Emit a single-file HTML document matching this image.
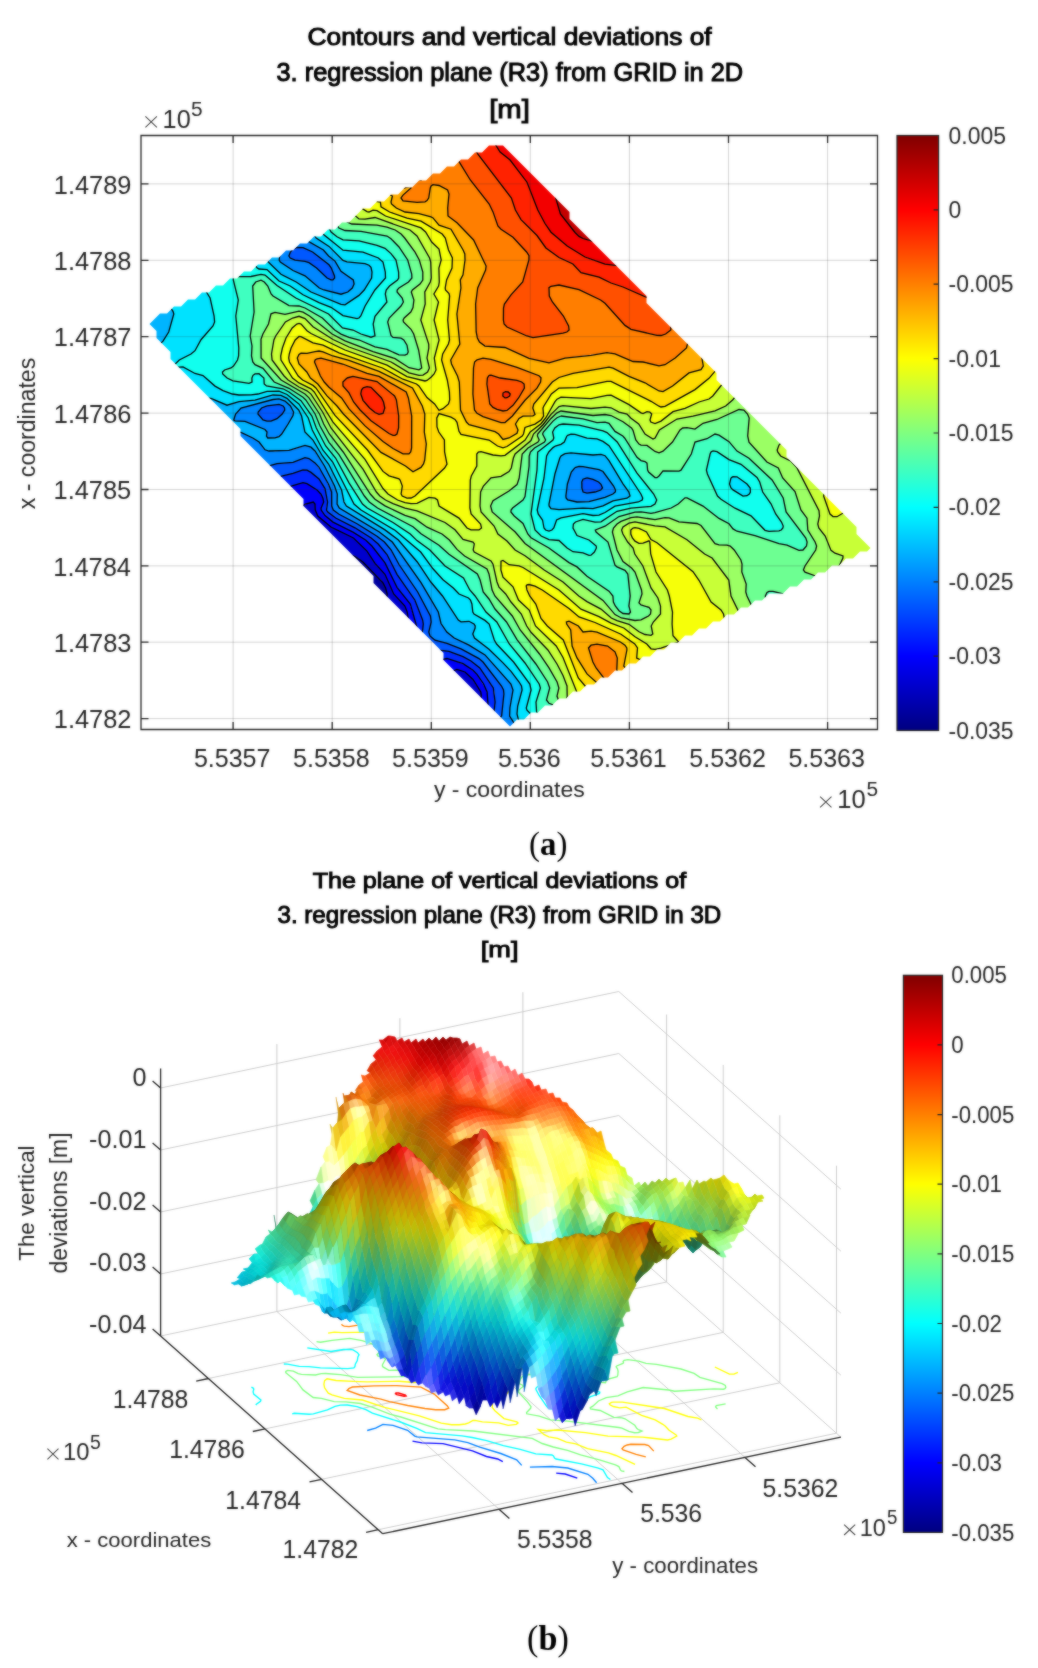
<!DOCTYPE html>
<html><head><meta charset="utf-8"><style>html,body{margin:0;padding:0;background:#fff;}svg{display:block;}</style></head><body>
<svg width="1038" height="1668" viewBox="0 0 1038 1668" font-family="Liberation Sans, sans-serif">
<filter id="bl" x="0" y="0" width="1" height="1" color-interpolation-filters="sRGB"><feGaussianBlur in="SourceGraphic" stdDeviation="1" result="b"/><feComposite in="SourceGraphic" in2="b" operator="arithmetic" k1="0" k2="0.5" k3="0.5" k4="0"/></filter><rect width="1038" height="1668" fill="#fff"/><g filter="url(#bl)">
<clipPath id="pa"><polygon points="510.0,726.5 443.5,660.0 443.5,653.0 373.5,583.0 373.5,576.0 303.5,506.0 303.5,499.0 240.5,436.0 240.5,429.0 170.5,359.0 170.5,352.0 156.5,338.0 156.5,331.0 149.5,324.0 160.0,313.5 167.0,313.5 174.0,306.5 181.0,306.5 188.0,299.5 195.0,299.5 202.0,292.5 209.0,292.5 216.0,285.5 223.0,285.5 230.0,278.5 237.0,278.5 244.0,271.5 251.0,271.5 258.0,264.5 265.0,264.5 272.0,257.5 279.0,257.5 286.0,250.5 293.0,250.5 300.0,243.5 307.0,243.5 314.0,236.5 321.0,236.5 328.0,229.5 335.0,229.5 342.0,222.5 349.0,222.5 363.0,208.5 370.0,208.5 377.0,201.5 384.0,201.5 391.0,194.5 398.0,194.5 405.0,187.5 412.0,187.5 419.0,180.5 426.0,180.5 433.0,173.5 440.0,173.5 447.0,166.5 454.0,166.5 461.0,159.5 468.0,159.5 475.0,152.5 482.0,152.5 489.0,145.5 503.0,145.5 569.5,212.0 569.5,219.0 646.5,296.0 646.5,303.0 716.5,373.0 716.5,380.0 786.5,450.0 786.5,457.0 856.5,527.0 856.5,534.0 870.5,548.0 867.0,551.5 860.0,551.5 853.0,558.5 846.0,558.5 839.0,565.5 832.0,565.5 825.0,572.5 818.0,572.5 811.0,579.5 804.0,579.5 797.0,586.5 790.0,586.5 783.0,593.5 769.0,593.5 762.0,600.5 755.0,600.5 748.0,607.5 741.0,607.5 734.0,614.5 727.0,614.5 720.0,621.5 713.0,621.5 706.0,628.5 699.0,628.5 692.0,635.5 685.0,635.5 678.0,642.5 671.0,642.5 664.0,649.5 657.0,649.5 650.0,656.5 643.0,656.5 636.0,663.5 629.0,663.5 622.0,670.5 615.0,670.5 608.0,677.5 601.0,677.5 594.0,684.5 587.0,684.5 580.0,691.5 573.0,691.5 566.0,698.5 559.0,698.5 552.0,705.5 545.0,705.5 538.0,712.5 531.0,712.5 524.0,719.5 517.0,719.5 510.0,726.5"/></clipPath>
<g clip-path="url(#pa)">
<path fill="#000080" d="M337,634L337,634ZM335,636L335,636ZM333,638L333,638ZM331,640L331,640ZM327,642L329,642 317,654 317,656 285,688 285,690 253,722 253,736 211,736 217,730 219,730 227,722 229,722 237,714 239,714 247,706 249,706 257,698 259,698 267,690 269,690 277,682 279,682 287,674 289,674 297,666 299,666 307,658 309,658 317,650 319,650 327,642Z"/>
<path fill="#0000a0" d="M345,556L349,554.1 359,558.9 365,564 383,582.9 385.6,588 387.2,594 386.7,598 384.2,604 384,610 385,615 387,619.1 388.4,620 383.6,626 333.3,676 279.3,728 273.5,736 253,736 253,722 285,690 285,688 317,656 317,654 329,642 327,642 319,650 317,650 309,658 307,658 299,666 297,666 289,674 287,674 279,682 277,682 269,690 267,690 259,698 257,698 249,706 247,706 239,714 237,714 229,722 227,722 219,730 217,730 211,736 135,736 135,724 145,724 147,723 179,694.1 183,691.9 197,678.1 199,677.9 211,666 217,662 225,654 259,625 267,617 273,613 282,604 290,598 325,566.4 327,565.6 333.1,560 341,558.7 344.8,556ZM337,634L337,634ZM335,636L335,636ZM333,638L333,638ZM331,640L331,640Z"/>
<path fill="#0000ce" d="M313,501.9L315,504 315.3,510 317.8,516 331,527 353.5,538 367,551.1 375,563.4 385,574.3 393.7,594 404.9,606 407.2,612 408.1,618 407,620 385.9,640 378.1,646 339.9,682 332.1,688 315.9,704 309,709.2 293.9,724 286.1,730 281.5,736 273.5,736 277.4,730 333.3,676 383.6,626 388.4,620 387,619.1 385,615 384,610 384.2,604 387.2,596 385,586.5 381,580.3 359,558.9 349,554.1 341,558.7 333,560.1 323,568.1 290,598 282,604 273,613 267,617 217,662 211,666 199,677.9 197,678.1 183,691.9 179,694.1 162,710 145,724 135,724 135,630 147,630 151,626 153,626 163,616 165,616 177,604 179,604 189,594 191,594 203,582 205,582 217,570 219,570 229,560 231,560 243,548 245,548 257,536 259,536 267,528 269,528 273,524 275,524 279,520 281,520 283,518 285,518 287,516 289,516 290.8,514 295,513.5 295,512 302,506 311.3,502ZM455,669.7L459,669.7 463,671 467,673.4 471.8,678 480.8,692 481.3,696 480.5,700 471,708.5 438.1,732 434.4,736 391.9,736 397,727.3 439,680 445,674 454.2,670Z"/>
<path fill="#0000fb" d="M299,483.8L303,482.7 307,483.6 319,491.6 322.8,498 323.7,502 321.1,508 321.2,510 323.6,514 329,519.3 359.8,536 368,542 373.6,548 387,565.8 397.5,588 409.3,602 417.1,628 415,631 407,632.8 405.1,634 321,709.9 313,716.1 298.2,730 293.3,736 281.5,736 284.1,732 293.9,724 309,709.2 315.9,704 332.1,688 339.9,682 378.1,646 385.9,640 407,620 408.1,618 407.2,612 404.9,606 393.7,594 385,574.3 375,563.4 367,551.1 353.5,538 331,527 317.8,516 315.3,510 315,504 313.3,502 305.3,504 297.1,510 295,512 295,513.5 290.8,514 289,516 287,516 285,518 283,518 281,520 279,520 275,524 273,524 269,528 267,528 259,536 257,536 245,548 243,548 231,560 229,560 219,570 217,570 205,582 203,582 191,594 189,594 179,604 177,604 165,616 163,616 153,626 151,626 147,630 135,630 135,615.6 141.5,612 155,600.8 277,496.7 291,486.1 298.5,484ZM441,659.6L447,658.5 451,659.2 467.4,666 476.7,674 486.6,690 488,702 486.8,710 483,715.1 466.2,732 463.9,736 434.4,736 438.1,732 471,708.5 480.5,700 481.3,696 480.8,692 473,679.5 465,672 457,669.5 445,674 439,680 397,727.3 391.9,736 341,736 343,736 349,730 351,730 357,724 359,724 363,720 365,720 371,714 373,714 379,708 381,708 385,704 389,701.9 397.1,694 403,689.9 425.8,670 435.7,662 439.6,660Z"/>
<path fill="#002aff" d="M303,469.8L307,470.1 311,472.4 319,479 323,484.6 326.6,494 327.6,502 326.4,508 327.8,512 335.7,518 355,527.8 371.2,538 378.2,544 385.1,552 389.2,558 397,574.3 413.7,598 422.6,620 423.3,624 422.4,632 421.1,634 415,637.2 401,649.2 391,658.8 352.1,692 341,702.8 318.1,722 303.7,736 293.3,736 298.2,730 405.1,634 407,632.8 415,631 417.1,628 410.3,604 397,587.3 385,562.9 371.9,546 365.6,540 353,532.1 333,522.1 325,515.6 321.2,510 321.1,508 323.7,502 323,498.5 321,494.2 317,489.9 307,483.6 303,482.7 291.2,486 288,488 267,504.9 143,610.9 135,615.6 135,610.8 141,607 244.6,512 275,480.2 281.6,476 293,473.4 302.4,470ZM437,649.8L449,651.4 463,656.7 471,661 479.8,668 493.3,688 495.1,702 494,712 491,717 477.4,732 475.1,736 463.9,736 466.2,732 483,715.1 486.8,710 488,702 486.6,690 477,674.4 471,668.6 461,662.8 447,658.5 439.6,660 435.7,662 403,689.9 397.1,694 389,701.9 385,704 381,708 379,708 373,714 371,714 365,720 363,720 359,724 357,724 351,730 349,730 343,736 313.6,736 315,733.8 367,695.7 425.2,658 436,650Z"/>
<path fill="#0058ff" d="M275,205.2L295,234.9 295.3,240 293,245.3 291,246.8 285,248.6 281,247.9 279,245.6 269.9,218 271,209.5 272.6,208 273,206.2 274.4,206ZM297,247.4L303,247.7 312.6,252 329,264.8 331.3,268 334.5,276 334.6,278 333,279.9 331,279.9 327.1,278 316.6,268 309,262.6 305,261.3 295,260.2 290.2,258 288.9,256 289.2,254 293,249.2 295.4,248ZM267,405.8L279,404.4 283,406 284.5,408 283.7,412 281,415.3 277,418.7 271,421.2 267,421.2 263.1,420 258,414 259.5,410 261.6,408 265.9,406ZM305,457.7L309,458.5 315,462.9 323,473.5 331.6,492 331.7,506 333.3,510 339,514.3 357,523.7 376.7,536 384.4,542 389.7,548 399,564.5 417.7,592 430.4,616 431.2,622 428.8,632 430,636 435,640.2 447,643.4 461,648.9 479,658.6 483,662 501.5,686 503.5,690 503.9,694 501.6,716 485,736 475.1,736 477.4,732 491,717 494,712 495.1,706 494.8,696 494,690 492.3,686 479.8,668 471,661 463,656.7 449,651.4 437,649.8 435,650.2 425.2,658 367,695.7 315,733.8 313.6,736 303.7,736 318.1,722 341,702.8 352.1,692 391,658.8 401,649.2 415,637.2 421.1,634 422.4,632 423.3,624 422.6,620 414.8,600 397,574.3 386.6,554 378.2,544 371.2,538 355,527.8 335.7,518 327.8,512 326.4,508 327.6,502 326.9,496 324.7,488 319,479 307,470.1 303,469.8 293,473.4 283,475.5 275.3,480 244.6,512 141,607 135,610.8 135,562 147,562 151,558 153,558 163,548 165,548 177,536 179,536 191,524 193,524 203,514 205,514 212,508 219,503.6 265,468 268.3,466 275,464 293,462.4 304.1,458ZM587,477.9L593,479.3 598.6,482 601,484.3 602.5,488 600.8,490 597,491.5 587,493.2 583,491.8 581.7,486 582.4,480 586.3,478Z"/>
<path fill="#0086ff" d="M223,130L247.1,130 249.2,136 285,195.4 302.9,228 305.3,234 306.1,240 323.4,250 328.6,256 335,261.1 341,271.3 353.3,280 354.1,284 352.3,288 347.8,292 341,294.2 323.9,290 319.3,288 305,275.8 293,270.5 280.3,262 279.2,260 280,254 274.5,246 271.1,234 261,208 231,150 226,142 221.1,130ZM274.4,206L273,206.2 272.6,208 271,209.5 269.9,218 279,245.6 281,247.9 285,248.6 291,246.8 293,245.3 295.3,240 295,234.9 275,205.2ZM295.4,248L293,249.2 289.2,254 288.9,256 290.2,258 295,260.2 305,261.3 309,262.6 316.6,268 327.1,278 331,279.9 333,279.9 334.6,278 334.5,276 331.3,268 329,264.8 312.6,252 303,247.7 297,247.4ZM273,399.5L279,398.9 285,401.1 290.4,406 293.6,412 292.8,416 283,432.1 279.8,436 277,437.4 267.8,438 266.5,436 267,432 265,429.5 245,421.4 235,420.8 233.7,420 235.6,414 241,408 271.1,400ZM265.9,406L261.6,408 259.5,410 258,414 263.1,420 267,421.2 271,421.2 277,418.7 281,415.3 283.7,412 284.5,408 283,406 279,404.4 267,405.8ZM235,431.9L241,432.3 256.3,440 259.1,442 263.1,448 267,450.6 275,451.3 287,450.6 295,449 305,445.4 309,446.1 313,448.8 324.5,466 335.5,488 337.3,494 337.1,504 339.3,508 379,531.8 392.3,542 421,582.6 438.3,612 441,623.5 446.8,632 454.2,638 469,645.1 485,654.9 510.9,684 513,690 509.9,708 509.6,716 522.2,736 485,736 501.6,716 503.9,694 503.5,690 501.5,686 483,662 479,658.6 461,648.9 447,643.4 435,640.2 430,636 428.8,632 431.2,622 430.4,616 417.7,592 399,564.5 391,549.8 384.4,542 377,536.2 357,523.7 339,514.3 333.3,510 331.7,506 331.6,492 328.4,484 319,467.3 315,462.9 309,458.5 305,457.7 293,462.4 277,463.7 268.3,466 205,514 203,514 193,524 191,524 179,536 177,536 165,548 163,548 153,558 151,558 147,562 135,562 135,496 147,496 161,482 163,482 167,478 169,478 173,474 175,474 181,468 183,468 187,464 189,464 193,460 195,460 201,454 203,454 207,450 209,450 213,446 215,446 221,440 225,440 227.6,436 229,435.9 230.2,434 234.1,432ZM575,467.6L579,466.4 583,466.7 599,469.7 603,471.5 614.8,488 615.3,492 613,493.9 603,498 589,501.6 577,502 567.7,500 566.1,498 565.9,496 567.4,484 571.3,472 574.4,468ZM586.3,478L582.4,480 581.7,486 583,491.8 587,493.2 597,491.5 600.8,490 602.5,488 601,484.3 598.6,482 593,479.3 587,477.9Z"/>
<path fill="#00b4ff" d="M189,130L221.1,130 226,142 231,150 261,208 271.1,234 274.5,246 280,254 279.2,260 280.3,262 293,270.5 305,275.8 319.3,288 323.9,290 341,294.2 347.8,292 352.3,288 354.1,284 353.3,280 341,271.3 335,261.1 328.6,256 323.4,250 306.1,240 305.3,234 302.9,228 285,195.4 248.1,134 247.1,130 249.8,130 251.1,134 269,164 316.2,238 329,246.4 343,260.4 347,261.9 365,263.6 369,265.2 371,267.4 372,272 371.6,278 364.2,290 359,295.4 345,304.9 341,304.4 311,292 296.2,282 281,274.3 267,260.7 259,262.2 253.4,260 249,256.9 227,213.3 222.4,202 203,163.3 188,130ZM135,236L139,236.5 146.6,246 163.1,280 169,290 170.7,294 169,300.9 169.4,306 173,311.3 173.8,314 168.7,332 163,341.2 155,348.6 147.3,352 139,357.5 135,358 135,236ZM269,395.8L277,394.7 283,396 289,399.8 297.3,408 301.6,416 304.9,432 313,440.1 322.4,456 328.6,464 341.6,490 344,502 346.4,506 385,529.9 398.4,540 417.3,562 430.8,582 442.5,596 458.3,620 461,621.9 469,621.3 474,624 475.2,626 475.1,628 472.8,634 474.5,638 489.7,650 506,666 515,676.4 520.4,684 522.1,688 521.8,692 517.3,708 517.4,716 519,722.1 526.9,736 522.2,736 509.6,716 509.9,708 513,690 510.9,684 485,654.9 469,645.1 454.2,638 446.8,632 441,623.5 438.3,612 421,582.6 392.3,542 379,531.8 339.3,508 337.1,504 337.3,494 334.6,486 324.5,466 315,451 311,447.2 305,445.4 289,450.3 269,451 265,449.8 259.1,442 252.8,438 241,432.3 234.1,432 230.2,434 229,435.9 227.6,436 225,440 221,440 215,446 213,446 209,450 207,450 203,454 201,454 195,460 193,460 189,464 187,464 183,468 181,468 175,474 173,474 169,478 167,478 163,482 161,482 147,496 135,496 135,450 147,449.4 186.5,414 201,404.1 205.2,398 209.7,398 225,404.7 229,405.2 237,402.1 255,400.2 268.5,396ZM271.1,400L241,408 235.6,414 233.7,420 235,420.8 245,421.4 265,429.5 267,432 266.5,436 267.8,438 277,437.4 279.8,436 283,432.1 292.8,416 293.6,412 290.4,406 285,401.1 279,398.9 273,399.5ZM565,453.6L571,452.9 593,455 601,454.3 605,455.7 609,460.6 623,483.8 628.9,492 630,496 627.6,498 613,500.8 603,505.9 593,508.6 583,508.1 557,509.7 550.1,508 549.1,506 549.3,502 554.9,474 559.8,458 561,456 564,454ZM574.4,468L571.3,472 567.4,484 565.9,496 566.1,498 567.7,500 577,502 589,501.6 603,498 613,493.9 615.3,492 614.8,488 603,471.5 599,469.7 583,466.7 579,466.4 575,467.6Z"/>
<path fill="#00e2ff" d="M185,130L188,130 203,163.3 222.4,202 227,213.3 249,256.9 253.4,260 259,262.2 267,260.7 281,274.3 296.2,282 311,292 341,304.4 345,304.9 359,295.4 364.2,290 371.6,278 371.3,268 369,265.2 365,263.6 347,261.9 343,260.4 329,246.4 318.7,240 314.6,236 269,164 250.3,132 249.8,130 277,130 277,142 279,144 279,148 281,150 281,154 284.2,158 285.2,162 287,164 289.3,170 293,175.4 295.9,182 315,216.3 323,234 343,250.2 363,252.2 378.4,258 383,262.1 385.3,272 385.5,278 374.9,290 365.1,306 360.8,316 359,318 357,318.6 343,315.6 331,307.3 319,302.7 303,294.8 290.2,286 279,281 267,269.6 259,269 257,267.7 254.3,264 247,259.6 223.6,214 184.3,130ZM135,170L135,172 139,176 139,178 141,180 141,182 143,184 143,186 147,189 151.1,198 156.9,206 159.1,212 164.9,220 167.1,226 170.9,230 175.1,240 178.9,244 181.1,250 186.9,258 189.1,264 194.9,272 195.1,274 201,280.5 202.7,286 210.1,298 214.1,316 214.6,322 213,326 201,339.7 195,350.7 191,354 179.3,360 173.2,366 175,367.4 183,366.9 195,373.5 203,375.5 215,386.1 223,390.6 232.3,394 239,395 251,394.8 258,394 267,391.3 279,391.2 287,394.5 298.9,404 308.3,418 312.3,430 323,450.2 332.7,462 354,504 361,510 395,530.3 420.7,552 433,568.8 443,579.8 453.3,588 459,594 468.5,598 470.5,600 471.9,604 472.8,612 474,614 485,620.4 489.2,624 494.3,640 496.6,644 513.6,662 529.8,684 531.1,690 526.3,708 527,710.2 535,718.2 543,731.6 544.6,736 526.9,736 519,722 517,714 517.7,706 522.1,690 521.5,686 513,673.9 505,664.9 489,649.3 474.5,638 472.8,634 475.1,628 475.2,626 474,624 469,621.3 461,621.9 458.3,620 442.5,596 430.8,582 417.3,562 398.4,540 382.1,528 348.7,508 345,504.2 341.6,490 328.6,464 322.4,456 313,440.1 304.9,432 301.6,416 298.7,410 287,398.3 281,395.3 273,395 255,400.2 239,401.7 227,405.2 211,398.4 205.2,398 201,404.1 186.5,414 147,449.4 135,450 135,358 139,357.5 147.3,352 155,348.6 163,341.2 168.7,332 173.8,314 173,311.3 169.4,306 169,300.9 170.7,294 169,290 163.1,280 146.6,246 139,236.5 135,236 135,170ZM168.6,372L167,376 169,378 169,371.3ZM567,435.7L571,434.2 575,434.3 587,438.2 597,438.9 603,441.4 609,445.6 640.9,494 642.7,498 642.2,500 638.3,502 615,506.1 605,512.5 599,515.1 593,515.5 583,513.7 561,517.8 556.6,520 553.8,528 551.9,530 549,531.1 545.6,530 544,528 542.5,520 538.2,514 537.2,510 544,478 546.6,456 548.8,452 553,447.6 555.3,446 561,444.4 564.3,442 566.7,436ZM564,454L561,456 559.8,458 554.9,474 549.3,502 549.1,506 550.1,508 557,509.7 583,508.1 593,508.6 603,505.9 613,500.8 627.6,498 630,496 628.9,492 623,483.8 609,460.6 605,455.7 601,454.3 593,455 571,452.9 565,453.6ZM731,477.9L733,476.6 737,476.8 747,484 750.2,488 750.4,492 749.3,494 747,495.7 743,496.1 733,489.9 731,488 729.5,484 730.9,478Z"/>
<path fill="#11ffee" d="M137,130L184.3,130 199.6,164 245.6,258 254.3,264 257,267.7 259,269 265,269 267.6,270 275.4,278 280.7,282 290.2,286 299,292.4 307,296.8 331,307.3 341,314.7 355,318.6 359,318 360.8,316 365.1,306 373.6,292 385.5,278 385.6,274 383.8,264 381.5,260 379,258.3 365,252.8 359,251.4 343,250.2 323,234 315,216.3 295.9,182 293,175.4 289.3,170 287,164 285.2,162 284.2,158 281,154 281,150 279,148 279,144 277,142 277,130 291.1,130 294.7,142 308.7,178 327,224.2 331.1,232 337,236.7 343,239.9 359,240.9 383,247.3 387.3,250 394.8,258 397.3,264 398.7,278 397.5,280 389.5,286 386.2,290 385.3,294 386.9,302 376.4,314 373.7,320 373.2,326 375.2,334 375,336 373,337.1 366.1,336 353,330 342.5,328 328.6,314 295.8,298 277,285.5 265,275 261,274.4 251,276.5 235,276.6 233.3,278 233.3,280 238.3,300 235.8,316 238.8,348 238.6,356 237.5,360 233.5,366 231,367.9 224.6,370 222.5,372 222.7,374 227.1,378 233,380.8 249,383.3 252,382 251.9,378 253,375.3 255,373.9 259,373.7 263.9,378 264.2,384 266.5,386 283,388.8 289,392 301,400.7 311.9,416 316.3,428 325.7,446 335.6,458 349,482.8 362.5,504 367.2,508 393,522.5 410.3,534 417,540.6 429.9,550 445,566 463.5,578 469.8,590 475.1,596 486,612 496.8,622 509.3,644 525,663 539.2,684 540.4,688 536,702 536.6,712 545.8,728 549,736 544.6,736 543,731.6 535,718.2 526.9,710 526.8,704 531.1,690 529.8,684 513.6,662 496.6,644 494.3,640 489.2,624 485,620.4 474,614 472.8,612 471.9,604 470.5,600 468.5,598 459,594 453.3,588 443,579.8 433,568.8 420.7,552 395,530.3 361,510 354,504 332.7,462 323,450.2 312.3,430 308.3,418 298.9,404 287,394.5 279,391.2 267,391.3 258,394 251,394.8 239,395 232.3,394 223,390.6 215,386.1 203,375.5 195,373.5 183,366.9 175,367.4 173.2,366 179.3,360 191,354 195,350.7 201,339.7 213,326 214.6,322 214.5,318 210.1,298 202.7,286 201,280.5 195.1,274 194.9,272 189.1,264 186.9,258 181.1,250 178.9,244 175.1,240 170.9,230 167.1,226 164.9,220 159.1,212 156.9,206 151.1,198 148.9,192 147,189 143,186 143,184 141,182 141,180 139,178 139,176 135,172 135,130ZM233.3,264L235,264.4 235.3,266 242.2,270 245,270.6 249,269.6 251.2,268 251.6,266 249.4,264 243,262.9 235,263.1ZM169,371.3L169,378 167,376 168.6,372ZM563,424L579,425.2 603,430.8 607,432.6 617.2,442 637,473.1 653.7,494 656.7,500 655,504 651,506.3 631,508.1 617,511.3 601,521.8 595,522.1 583,519.4 575.5,522 573.4,524 573,528 577,535.5 589,540 596.2,546 595.7,550 591,555.2 589,555.3 583,552.9 573,551.7 567.1,548 559,540.5 549,539.7 541.2,536 535,530 531,514 537,470 537.7,452 553,440 553.8,438 552.6,432 553.3,430 557,426 562.8,424ZM566.7,436L564.3,442 561,444.4 555.3,446 553,447.6 548.8,452 546.6,456 544,478 537.2,510 538.2,514 542.5,520 544,528 545.6,530 549,531.1 551.9,530 553.8,528 556.6,520 561,517.8 583,513.7 593,515.5 599,515.1 605,512.5 615,506.1 638.3,502 642.2,500 642.7,498 640.9,494 609,445.6 603,441.4 597,438.9 587,438.2 575,434.3 571,434.2 567,435.7ZM713,450.9L717,451.6 729,459.6 741,464.3 757.4,478 759.7,482 762.7,492 771,503.8 775.7,514 782.6,524 782.9,528 781,530.1 771,531.5 765,530.3 751,515.8 735,508.2 721,499.2 717.5,496 706.7,472 706.6,468 711,452ZM730.9,478L729.5,484 731,488 733,489.9 743,496.1 747,495.7 749.3,494 750.4,492 750.2,488 747,484 737,476.8 733,476.6 731,477.9Z"/>
<path fill="#3fffc0" d="M293,130L303.6,130 305.5,138 331.6,214 334.1,220 338.9,228 345,230.5 361,231.4 387,236 391,238.7 399,247 406.7,258 411.2,272 411.9,278 408.5,282 399,287.9 397.2,290 397.1,292 402.2,298 403.4,302 401,306 389.2,318 387.7,322 391,335.5 393,337.4 401,338.1 403.8,340 407,345.2 408.2,352 407.3,354 405,355.2 399,354.9 387,349.4 375,346.9 359.3,340 349,337.3 341,334.1 334.7,330 322.4,318 305,308 299,306 289,305.6 273,296 271.1,294 267.8,286 264.3,282 261,280.2 255.7,282 252.7,286 254.1,312 250.2,336 252,346 251.5,356 252.8,362 255,364.7 263,368.4 274.2,382 289,388.3 303,397.3 305.8,400 315.1,414 320,426 329,442.3 339,454.7 364.4,496 369.3,502 377.5,508 413,526.7 421,533.7 439,545.3 449,554.2 477.4,574 480.1,580 483.2,592 489,599 495,609 506.5,622 517,639.6 535.9,664 547.6,682 549.7,688 546.5,700 549,703.3 555,705.6 557,707.9 559.6,714 565.5,736 549,736 545.8,728 536.6,712 536,702 540.4,688 539.2,684 525,663 509.3,644 496.8,622 486,612 475.1,596 469.8,590 465,579.8 461.1,576 445,566 429.9,550 417,540.6 410.3,534 393,522.5 367.2,508 362.5,504 349,482.8 335.6,458 325.7,446 316.3,428 311.9,416 302.4,402 291,393.3 283,388.8 266.5,386 264.2,384 263.9,378 259,373.7 255,373.9 253,375.3 251.9,378 252,382 249,383.3 233,380.8 227.1,378 222.7,374 222.5,372 224.6,370 231,367.9 233.5,366 237.5,360 238.6,356 238.8,348 235.8,316 238.3,300 233.3,280 233.3,278 235,276.6 251,276.5 261,274.4 265,275 277,285.5 295.8,298 328.6,314 342.5,328 353,330 361,334 371,337.2 375,335.9 373.2,324 375,316.3 386.9,302 385.3,294 386.2,290 389.5,286 397.5,280 398.7,278 398.6,272 396,260 391,253.6 385,248.3 377,245.3 359,240.9 343,239.9 337,236.7 331.1,232 327,224.2 308.7,178 294.7,142 291.1,130ZM235,263.1L243,262.9 249.4,264 251.6,266 251.2,268 249,269.6 245,270.6 242.2,270 235.3,266 235,264.4 233.3,264ZM561,416L583,418.8 597,422.6 605,422.1 609,423.3 615,431.4 622.8,436 624.6,438 637,457.3 641,460.6 645,461.6 647,463.2 647.6,470 648.6,472 655,477.6 657,477.7 659,476 663,470.9 679,471.1 681,470.2 691.3,454 695,442 707,438.7 715,434 719,435.1 729,441.7 737,451.1 749,458.2 772.1,480 783.2,498 786.1,512 803.2,534 806.6,540 807.1,544 806.5,546 803,550 801,550.6 787,545.2 779,543.7 755,535.6 737,531.2 733,528.9 729,523.8 719,518.4 703,506.1 687,497.9 685,497.8 678.2,504 671.2,508 655,512.7 651,513.3 641,511.9 635,512.2 619,516.5 605,526.2 595.3,530 596.1,532 608,542 615,565.1 617,566.9 625,570.4 627.8,574 630.2,596 628.9,604 630.5,612 629,614 623,613.5 618.3,610 614.2,604 612.9,596 607,589.6 587,576.2 577,566.9 569,562.6 548.9,548 531,537.7 527.8,534 523,523.4 514.2,516 510.9,512 511.1,510 512.6,508 523,500.1 525,496.5 529.1,466 529.2,456 530.4,452 534.5,448 544.5,442 545.6,440 542.6,434 543.4,432 553,421.1 557,417.7 560.9,416ZM562.8,424L557,426 553.3,430 552.6,432 553.8,438 553,440 537.7,452 537,470 531,514 535,530 541.2,536 549,539.7 559,540.5 567.1,548 573,551.7 583,552.9 589,555.3 591,555.2 595.7,550 596.2,546 589,540 577,535.5 573,528 573.4,524 575.5,522 583,519.4 595,522.1 601,521.8 617,511.3 631,508.1 651,506.3 655,504 656.7,500 653.7,494 637,473.1 617.2,442 607,432.6 603,430.8 579,425.2 563,424ZM711,452L706.6,468 706.7,472 717.5,496 721,499.2 735,508.2 751,515.8 765,530.3 771,531.5 781,530.1 782.9,528 782.6,524 775.7,514 771,503.8 762.7,492 759.7,482 757.4,478 741,464.3 729,459.6 717,451.6 713,450.9ZM769,591.4L777,591.8 784,594 791,599.6 799.5,604 807,612 809,612 813,616 815,616 817,618 819,618 823,622 825,622 827,624 829,624 833,628 835,628 837,630 839,630 843,634 845,634 847,636 847,638 849,640 849,642 853,646 853,648 855,650 855,652 859,656 859,658 861,660 861,662 865,666 865,668 867,670 867,672 869,674 881,674 881,736 825,736 825,722 823,720 823,718 821,716 821,714 819,712 819,710 815,704 815,700 813,698 813,696 811,694 811,692 809,690 809,688 807,686 807,684 805,682 805,680 803,679.5 802.9,678 781,638.4 769.5,612 765.5,598 765.9,594 767.7,592Z"/>
<path fill="#6dff92" d="M305,130L314.9,130 340.4,212 345,219.6 347.1,222 351.8,224 377,225.2 387,227.1 395.2,230 403.1,236 418.3,258 422.4,270 423,279.1 421,282.9 412.4,290 411.3,292 413.9,300 413,307.5 410.8,312 404.2,318 403.1,320 403.5,322 411,329.3 413.7,334 418.6,350 421.7,368 419,369.9 409,367.7 395,358.6 373,351.6 345,340.8 332.1,334 309.5,316 303,312.1 299,311.1 285,314.4 275,312.4 271,313.8 268.5,324 262.9,334 261,339.4 261.1,358 281.1,380 305,394 309,397.8 319.5,414 323.7,424 329.3,434 343.2,452 370.3,494 375,499.2 385,505.9 405,515.3 415,518.7 427,527.2 442,534 449.4,540 457,549.4 464.6,556 487,569 489,574 492.1,590 494.9,596 512.3,616 520.2,630 539.5,654 549,667.9 557.1,682 558.9,688 557,696.1 561,706.7 568.3,736 565.5,736 559.6,714 557,707.9 555,705.6 549,703.3 546.5,700 549.7,688 547.6,682 535.9,664 517,639.6 506.5,622 495,609 489,599 483.2,592 480.1,580 477.4,574 449,554.2 439,545.3 421,533.7 413,526.7 377.5,508 369.3,502 364.4,496 339,454.7 329,442.3 320,426 315.1,414 305.8,400 303,397.3 289,388.3 274.2,382 263,368.4 255,364.7 252.8,362 251.5,356 252,346 250.2,336 254.1,312 252.7,286 255.7,282 261,280.2 264.3,282 267.8,286 271.1,294 273,296 289,305.6 299,306 305,308 322.4,318 334.7,330 341,334.1 349,337.3 359.3,340 375,346.9 387,349.4 399,354.9 405,355.2 407.3,354 408.2,352 407,345.2 403.8,340 401,338.1 393,337.4 391,335.5 387.7,322 389.2,318 401,306 403.4,302 402.2,298 397.1,292 397.2,290 399,287.9 408.5,282 411.9,278 411.7,274 407.7,260 399,247 391,238.7 387,236 361,231.4 345,230.5 338.9,228 334.1,220 331.6,214 305.5,138 303.6,130ZM771,402L771,402ZM739,409.5L743.9,410 747.5,414 749.2,418 747.7,436 749,442.1 766.9,462 778.3,468 782.7,478 795,491.6 800.9,510 807,518.2 807.8,530 815.1,542 816.6,546 815.7,550 805,566 803.4,570 805,572.2 815.6,576 817.9,578 821.2,586 837,599.4 853,616.9 858.4,624 877.7,656 881,659.5 881,674 869,674 867,672 867,670 865,668 865,666 861,662 861,660 859,658 859,656 855,652 855,650 853,648 853,646 849,642 849,640 845,634 843,634 839,630 837,630 835,628 833,628 829,624 827,624 825,622 823,622 819,618 817,618 815,616 813,616 809,612 807,612 799.5,604 791,599.6 784,594 773,591.3 769,591.4 767,592.4 765.3,596 765.9,600 769.5,612 779,634.1 791.3,658 802.9,678 803,679.5 805,680 805,682 807,684 807,686 809,688 809,690 811,692 811,694 815,700 815,704 817,706 817,708 819,710 819,712 821,714 821,716 825,722 825,736 811.6,736 776.4,658 747,596 745.8,592 746.2,584 741.8,572 742,564 739.7,558 733,548.4 730.2,546 727,545.1 719,544.9 715,543.6 701,525.5 697,523.5 679,521.8 669,517.8 665,517.6 655,519.7 637,516.8 631,517.6 621,521.4 617,524 613.5,528 612.4,532 617,550 623,561.5 631.6,568 635,572 641.5,590 642,594 639,602.9 641,604.9 649,607.4 651,610 650.5,614 648.5,616 641,619.8 635,620.5 621.4,618 615,614.6 603,600.4 525,543.5 515.2,532 497,516.9 491.1,510 491,504.1 493,500.8 509,491 517,484.6 519.2,478 522.2,454 528,448 538,442 539.2,440 537.4,436 539.1,432 551,418.4 559,411.6 565,411.2 593,415.5 605,414.5 611,415.5 623,421.7 631.5,428 633,430.3 635.8,440 639,444.1 641,445.1 647,445.4 655,451.4 659,452.8 663,451.1 672.5,442 680,430 682.7,428 687,427.7 695,429.1 701.4,424 717,419.5 737.7,410ZM560.9,416L557,417.7 553,421.1 543.4,432 542.6,434 545.6,440 544.5,442 534.5,448 530.4,452 529.2,456 529.1,466 525,496.5 523,500.1 512.6,508 511.1,510 510.9,512 514.2,516 523,523.4 527.8,534 531,537.7 548.9,548 569,562.6 577,566.9 587,576.2 607,589.6 612.9,596 614.2,604 618.3,610 623,613.5 629,614 630.5,612 628.9,604 630.2,596 627.8,574 625,570.4 617,566.9 615,565.1 608,542 596.1,532 595.3,530 605,526.2 619,516.5 635,512.2 641,511.9 651,513.3 655,512.7 671.2,508 678.2,504 685,497.8 687,497.9 703,506.1 719,518.4 729,523.8 733,528.9 737,531.2 755,535.6 779,543.7 787,545.2 801,550.6 803,550 806.5,546 807.1,544 806.6,540 803.2,534 786.1,512 783.2,498 772.1,480 749,458.2 737,451.1 729,441.7 719,435.1 715,434 707,438.7 695,442 691.3,454 681,470.2 679,471.1 663,470.9 659,476 657,477.7 655,477.6 648.6,472 647.6,470 647,463.2 645,461.6 641,460.6 637,457.3 624.6,438 622.8,436 615,431.4 609,423.3 605,422.1 597,422.6 583,418.8 561,416Z"/>
<path fill="#9bff64" d="M315,130L317.5,130 323,147 333,172.3 350.9,212 359,218.9 365,219.2 375,217.5 410,230 417,236 429.6,258 430.7,262 431.3,278 430.3,282 424.8,292 425.2,304 420.8,320 428.7,344 428.8,348 427,358 429.4,368 427.6,372 423,375.1 419,375.3 409,372.9 391.1,362 349,347 333,339.5 313,326.7 305,318.6 299,316.3 292.7,318 285.4,322 275.7,336 273.9,340 271.5,354 272.1,360 284.1,376 288.1,380 299,387 307,390.8 311,394.1 322.6,412 331,428 363,469.2 376.4,492 379.9,496 385.5,500 393,503.7 405,508.1 417,510.8 445,522.5 455,529.8 463,539.4 473,542 474.3,544 473.2,550 474.2,552 491,560.9 493,564.2 497,582 499,587.1 505.7,594 511,602 521.3,614 526.7,626 531,632.3 547.9,650 557,664 563,675.5 567,686 567.2,696 565.3,706 565.4,714 570.7,736 568.3,736 561,706.7 557.4,698 557.2,694 558.9,688 557.1,682 549,667.9 539.5,654 520.2,630 512.3,616 494.9,596 492.1,590 489,574 487,569 464.6,556 457,549.4 449.4,540 442,534 427,527.2 415,518.7 405,515.3 385,505.9 375,499.2 370.3,494 343.2,452 329.3,434 323.7,424 319.5,414 309,397.8 305,394 281.1,380 261.1,358 261,339.4 262.9,334 268.5,324 271,313.8 275,312.4 285,314.4 299,311.1 303,312.1 309.5,316 332.1,334 345,340.8 373,351.6 395,358.6 409,367.7 419,369.9 421.7,368 418.6,350 413.7,334 411,329.3 403.5,322 403.1,320 404.2,318 410.8,312 413,307.5 413.9,300 411.3,292 412.4,290 420,284 422.8,280 422.8,272 419.3,260 415,252.2 404.7,238 401.1,234 395.2,230 387,227.1 377,225.2 351.8,224 347.1,222 343,217.3 340.4,212 314.9,130ZM881,248L881,382 869,382 865,386 863,386 859,390 857,390 853,394 851,394 847,398 845,398 827,416 825,416 811,430 791,430.3 790.6,432 789,432.5 786,438 779,445 777.2,450 777.7,452 780.6,456 791,461.2 797,467.9 819,510.7 819.5,516 817.8,524 818.8,528 825.2,536 831,550.4 835,553.2 843,556 842.9,558 836.1,574 855,612 877,648.8 881,654.1 881,659.5 877.7,656 858.4,624 853,616.9 837,599.4 821.2,586 817.9,578 815.6,576 805,572.2 803.4,570 805,566 815.7,550 816.6,546 815.1,542 807.8,530 807,518.2 800.9,510 795,491.6 782.7,478 778.3,468 766.9,462 749,442.1 747.7,436 749.2,418 746.1,412 743,409.5 739,409.5 717,419.5 703,423.3 695,429.1 687,427.7 682.7,428 680,430 672.5,442 663,451.1 659,452.8 655,451.4 647,445.4 641,445.1 639,444.1 635.8,440 633,430.3 631.5,428 623,421.7 611,415.5 605,414.5 593,415.5 565,411.2 559,411.6 551,418.4 539.1,432 537.4,436 539.2,440 538,442 528,448 522.2,454 519.2,478 517,484.6 509,491 493,500.8 490.6,506 491.1,510 493.9,514 515,531.8 525,543.5 603,600.4 612.2,612 616.8,616 621.4,618 631,620.1 639,620.3 645,618.1 650.5,614 651,610.1 649,607.4 639.6,604 638.7,602 641.5,596 641.9,592 635.9,574 633,569.4 621.7,560 616.2,548 612.5,530 615.1,526 619,522.4 629,518.2 637,516.8 655,519.7 667,517.6 681,522.2 697,523.5 701,525.5 703,527.6 715,543.6 719,544.9 727,545.1 731,546.5 738.4,556 741.7,562 741.8,572 746.2,584 745.8,592 747,596 811.2,734 811.6,736 791,736 790.9,726 788.9,720 781.1,704 776.9,692 758.9,650 746.1,626 741,621.1 738.8,612 731,596 728.8,580 712.1,558 704.6,554 687,539.8 665,526.9 655,525.9 635,521.8 629,523.2 623,526.9 621.6,530 622.9,534 627.7,542 633.1,548 634.8,554 642.9,566 651,587.9 657.9,598 660.5,606 660.5,614 653.3,622 651.2,626 652.8,634 651,635.3 645,634.5 639,631.8 629,624.3 617,620.7 611.3,618 601,609.1 587,601.6 578.8,596 563,581.9 544.2,570 525,555.8 515.1,550 507,541.1 497.9,534 494.1,526 481.1,512 480,506 480.6,492 483.4,486 491,477.9 501,476.3 509,471.6 511.3,468 513.4,458 515.1,454 531,440.6 533.5,434 543,424.7 551,414.4 559,406.5 563,405.7 591,408.5 605,407.2 611,407.8 619,412.1 627,414 631,418.3 638.7,424 645,434.1 653,439 655.1,438 659.4,430 677,419 693,416.2 715,410.8 725.7,406 732.6,400 743,387.6 769,364 813,320 813,318 861,270 861,268 881,248ZM771,402L771,402Z"/>
<path fill="#c8ff37" d="M319,130L321.7,130 329.2,148 359,206.5 367,211.6 369,212 373,210.2 377,210.6 385.5,216 421,227.9 425.6,232 431.7,242 439,249.1 441.2,260 438.9,268 439.3,282 438.6,286 433.9,294 438.5,302 434.1,320 439.1,340 434.3,358 436,370 434.1,374 431,377.3 427,380.5 425,381 407,376.6 387,365.2 345,350 311,333.5 307,330.8 301.1,324 299,323.4 296.8,324 292.2,328 286,338 282.4,348 280.7,356 281,360 292.5,378 299,382.9 311,388.8 314.2,392 333,422.1 365,459.3 383,488.5 388,494 397.6,500 405,502.7 411,503.6 417,503.3 429,497.3 435,498.2 437.5,500 439.1,506 459,518.1 467,528 471,529.9 479,529.9 481.5,528 480.6,524 471.1,514 469.9,508 470.3,480 471.3,476 476.8,466 476.8,454 478.3,452 481,451.7 493,455 501,455.9 505,455.3 525.1,440 530.2,432 541,423.7 545.7,418 555,401.7 557,399.2 561,397.2 591,398.7 607,395.3 611,395.2 629,404.6 641,412.9 643,413.5 647,411.7 649.8,412 651.7,414 650,420 650.8,422 655,423.5 661,421.1 673,411.7 685,408.3 699,402 709,399 712.8,396 720.7,386 747,361.6 796,312 803,303.1 844,262 853,251 877,227.1 881,224.5 881,248 861,268 861,270 813,318 813,320 769,364 743,387.6 732.6,400 725.7,406 715,410.8 693,416.2 677,419 659.4,430 655.1,438 653,439 645,434.1 638.7,424 631,418.3 627,414 619,412.1 611,407.8 605,407.2 591,408.5 563,405.7 559,406.5 551,414.4 543,424.7 533.5,434 531,440.6 515.1,454 513.4,458 511.3,468 509,471.6 501,476.3 491,477.9 483.4,486 480.6,492 480,506 481.1,512 494.1,526 497.9,534 507,541.1 515.1,550 525,555.8 544.2,570 563,581.9 578.8,596 587,601.6 601,609.1 611.3,618 617,620.7 629,624.3 639,631.8 645,634.5 651,635.3 652.8,634 651.2,626 653.3,622 660.5,614 660.5,606 657.9,598 651,587.9 642.9,566 634.8,554 633.1,548 627.7,542 622.9,534 621.6,530 623,526.9 629,523.2 635,521.8 655,525.9 665,526.9 687,539.8 704.6,554 712.1,558 728.8,580 731,596 738.8,612 741,621.1 746.1,626 758.9,650 776.9,692 781.1,704 788.9,720 790.9,726 791,736 705,736 705,724 703,722 703,718 701,716 700.8,722 695,722.7 689,721.6 683,716.5 651,672.9 649.8,670 650.2,666 655,661.7 667,656.6 671,656.9 682.5,660 685,661.9 686.9,662 687,663.4 689,662 691,662 693,660 697,660 699,658 701,658 703,656 705,656 707,654 707,652 713,652 715,650 707,649.9 705.5,642 706.2,638 710.4,632 723,621.1 724.1,616 721.1,610 711.1,602 699,580.3 693,571.7 657,542.7 651,539.5 646.5,532 639,528.3 635,527.7 633,528 630.8,530 630.8,534 632.4,538 635,541.2 639,543.3 643,543.2 649,540.9 649.8,542 650.7,554 656,572 667.4,590 669.3,596 672.5,612 672.1,624 673,635.8 678.6,642 661,648.1 655,649.3 651,648.8 646.8,644 635,636.8 623.8,628 611,623.1 599,616.6 581,609.2 559,590 523,567.5 519,565.9 509,564.7 503,560.4 501,561.1 500.9,570 503,577.1 513,586.8 518.5,600 529.2,610 535.5,626 553,642.6 559,649.9 563,657.5 577.1,692 577.6,696 574.6,706 573.8,716 576.5,736 570.7,736 565.4,714 565.3,706 567.2,696 567,686 563,675.5 557,664 547.9,650 531,632.3 526.7,626 521.3,614 511,602 505.7,594 499,587.1 497,582 493,564.2 491,560.9 474.2,552 473.2,550 474.3,544 473,542 463,539.4 455,529.8 445,522.5 417,510.8 405,508.1 393,503.7 385.5,500 379.9,496 376.4,492 363,469.2 331,428 322.6,412 311,394.1 307,390.8 290.9,382 284.1,376 271.3,358 273.9,340 281.9,326 285,322.4 292.7,318 299,316.3 305,318.6 313,326.7 333,339.5 349,347 391.1,362 409,372.9 419,375.3 423,375.1 427.6,372 429.4,368 427,358 428.8,348 428.7,344 420.8,320 425.2,304 424.8,292 430.3,282 431.3,278 430.7,262 429.6,258 417,236 410,230 375,217.5 365,219.2 359,218.9 350.9,212 333,172.3 323,147 317.5,130ZM869,382L881,382 881,438 877,438.3 871,442.5 829,478 827.6,480 823.6,496 830,514 833,516.5 837,516.7 851.6,508 867,492.8 873,488.1 875,488 881,482 881,480 881,654.1 877,648.8 855,612 836.9,576 836.3,572 842.9,558 843,556 835,553.2 831,550.4 825.2,536 818.8,528 817.8,524 819.5,516 819,510.7 797,467.9 791,461.2 780.6,456 777.7,452 777.2,450 779,445 786,438 789,432.5 790.6,432 791,430.3 811,430 825,416 827,416 845,398 847,398 851,394 853,394 857,390 859,390 863,386 865,386 867,384Z"/>
<path fill="#f6ff09" d="M323,130L328.5,130 343.1,158 366.1,198 371,200.6 380.4,202 381,206.8 389.6,212 407,218.1 421,221.2 442.2,234 445.3,238 448.5,250 452.4,258 452,268 446.6,280 445.2,288 445.5,290 449,293.6 449.6,296 447.7,320 449.5,340 448.4,344 442.7,354 441.6,360 447.3,380 449.4,392 449.7,400 448.5,404 443,408.7 439,410.3 434.6,404 427,397.6 418.9,386 416.5,384 403,379.2 382.4,368 339,352.8 323,345.2 313,342.8 301,336.6 299,336.5 295.2,340 291.1,348 289.3,354 288.7,358 289.5,362 298.2,376 302.6,380 313,385.4 315.9,388 335,415.4 367.5,450 383,471.4 389,475.8 399,478.9 400.1,480 402.3,486 401.1,494 402.2,496 407,498.1 411,498 415,496 444.6,468 447,464.2 444.6,452 444.4,440 438.8,432 437,427 436.8,418 439,413.6 451,417.2 455,419.4 457,422.3 459,431.3 461,434.4 489,440 497.5,446 503,447.8 507,446.5 522.2,436 523.5,434 525,427.5 535,424.1 541,420.1 543.6,416 543,408 543.9,406 551.4,394 559,388.1 577,387.7 607,381.3 611,381.3 651,401.3 659,406.2 661,407 665,406.3 695,389.6 709,378.3 719,366.7 744.8,346 787,302.6 795,292.6 855,234 873,217.1 881,212.3 881,224.5 877,227.1 853,251 844,262 803,303.1 796,312 747,361.6 720.7,386 710.8,398 697,402.8 685,408.3 673,411.7 661,421.1 655,423.5 650.8,422 650,420 651.7,414 649.8,412 647,411.7 643,413.5 641,412.9 629,404.6 611,395.2 607,395.3 591,398.7 561,397.2 557,399.2 555,401.7 545.7,418 541,423.7 530.2,432 525.1,440 505,455.3 501,455.9 493,455 481,451.7 478.3,452 476.8,454 476.8,466 471,476.9 470,484 470.3,512 472.4,516 478.8,522 481.6,526 481,528.7 479,529.9 475,530.1 471,529.9 467,528 459,518.1 439.1,506 437.5,500 435,498.2 429,497.3 417,503.3 411,503.6 405,502.7 397.6,500 388,494 383,488.5 365,459.3 333,422.1 314.2,392 311,388.8 299,382.9 292.5,378 281,360 280.7,356 282.4,348 286,338 292.2,328 296.8,324 299,323.4 301.1,324 307,330.8 311,333.5 345,350 387,365.2 407,376.6 425,381 427,380.5 431,377.3 434.1,374 436,370 434.3,358 439.1,340 434.1,320 438.5,302 433.9,294 438.6,286 439.3,282 438.9,268 441.2,260 439,249.1 431.7,242 425.6,232 421,227.9 385.5,216 377,210.6 373,210.2 369,212 367,211.6 359,206.5 329.2,148 321.7,130ZM875,439.9L877,438.3 881,438 881,482 875,488 873,488.1 867,492.8 849,510 837,516.7 833,516.5 830,514 823.6,496 827.6,480 829,478 864.3,448 874.9,440ZM635,527.7L639,528.3 646.5,532 651,539.5 657,542.7 693,571.7 699,580.3 711.1,602 721,609.9 723.5,614 724.3,618 723,621.1 710.4,632 706.2,638 705.5,642 707,649.9 715,650 713,652 707,652 707,654 705,656 703,656 697,660 693,660 691,662 689,662 687,663.4 686.9,662 676,658 669,656.6 665,657.1 653,663 651,664.7 649.6,668 650.5,672 655,678.8 685,718.7 689,721.6 695,722.7 700.8,722 701,716 703,718 703,722 705,724 705,736 690.9,736 687.7,728 646.4,672 645.2,666 647.3,660 639,659.1 636.7,658 637.5,648 634.8,644 621,634.2 595,622.5 579,616.9 569,608.4 542.3,590 535,586.1 529,584.5 527,584.8 526.2,586 527,590 529.7,596 535.8,604 541,618.4 547.3,626 563.3,640 578.3,678 588.5,690 594.9,700 595,706 597,708 597,710 601,714 601,716 603,718 603,720 605,722 605,724 607,726 607,728 611,732 611,734 613,736 576.5,736 573.8,716 574.6,706 577.6,694 563,657.5 556.2,646 535.5,626 529.2,610 518.5,600 513,586.8 505,579.6 501.7,574 500.7,568 501,561.1 503,560.4 509,564.7 521,566.5 559,590 581,609.2 599,616.6 611,623.1 623.8,628 635,636.8 646.8,644 651,648.8 657,649 674.6,644 678.6,642 673,635.8 672.1,624 672.5,612 668.3,592 656,572 650.7,554 649.8,542 649,540.9 647,541.3 641,543.6 635,541.2 632.4,538 630.5,532 630.8,530 633.1,528Z"/>
<path fill="#ffda00" d="M329,130L347,130 350.2,138 381,189.1 383.8,192 392.4,196 391,202 391.5,204 393.6,206 399.8,210 405,212 419,213.6 431,216.9 433,217.9 439,225.2 449,228.1 453.3,232 464.1,252 465.1,256 463.2,274 460.3,280 460.9,288 456.9,312 459.8,344 450.7,360 451.5,364 457.5,376 459.3,382 460.5,410 466.4,422 469,424.6 495,431.6 498.6,434 503,439.4 509,438 517,433.2 518,430 515.5,424 519,418.4 523,416.2 533,415.9 535,414.6 532.8,408 533.8,404 552.3,382 559,377.5 573,373.4 609,367.1 613,368.2 629,376.3 645,382.8 659,391 663,391.6 672.6,386 689,372.9 701,369.6 703.3,366 701.9,358 703,354 711,350.9 715,347.8 777,291.7 804.1,266 811.9,260 826.1,246 833.9,240 848.1,226 855.9,220 868.1,208 881,198.5 881,212.3 873,217.1 799.6,288 787,302.6 744.8,346 719,366.7 711.5,376 695,389.6 663,407 659,406.2 651,401.3 611,381.3 607,381.3 577,387.7 559,388.1 551.4,394 543.9,406 543,408 543.6,416 541,420.1 535,424.1 525,427.5 523.5,434 522.2,436 507,446.5 503,447.8 497.5,446 489,440 461,434.4 459,431.3 457,422.3 455,419.4 451,417.2 439,413.6 436.8,418 437,427 438.8,432 444.4,440 444.6,452 447,464.2 444.6,468 415,496 409,498.2 403,496.5 401.1,494 402.3,486 400.1,480 399,478.9 389,475.8 383,471.4 367.5,450 335,415.4 315.9,388 313,385.4 302.6,380 298.2,376 289.5,362 288.9,356 291,348.4 295,340.3 297,337.6 299,336.5 301,336.6 313,342.8 323,345.2 339,352.8 382.4,368 403,379.2 416.5,384 418.9,386 427,397.6 434.6,404 439,410.3 443,408.7 448.5,404 449.7,400 449.4,392 447.3,380 441.6,360 442.7,354 448.4,344 449.5,340 447.7,320 449.6,296 449,293.6 445.5,290 445.2,288 446.6,280 452,268 452.4,258 448.5,250 445.3,238 442.2,234 421,221.2 407,218.1 389.6,212 381,206.8 380.4,202 371,200.6 366.1,198 343.1,158 328.5,130ZM313.7,352L307,353.3 301,353.1 299,354.4 297.3,358 299,364 306.8,372 310.4,378 317.8,384 327,395.9 337,406 343.4,414 379,450.6 385,455.1 405.5,466 413,471.8 419,468.9 423.5,464 425,458 426.4,442 424.3,432 424.5,412 422.3,406 413,388.6 409.5,386 401,382.8 379,371.4 349,360.3 332.9,356 323,351.8 319,351 315,351.6ZM527,584.8L533,585.5 541,589.1 569,608.4 579,616.9 595,622.5 621,634.2 634.8,644 637.5,648 636.7,658 639,659.1 647.3,660 645.2,666 646.4,672 687.7,728 690.9,736 679,736 676.3,730 667,717.7 641,684.1 635,678.8 633.3,676 632.8,670 625,667.5 623.8,666 626.9,650 626.8,648 625,645.1 620.4,642 597,632.1 591,631.1 583,632 578.4,626 569,621.1 566.4,622 566.7,624 570.7,630 572.1,646 577,657.9 587,673.9 596,682 601,684.5 603,686.9 629.1,734 629.7,736 613,736 611,734 611,732 607,728 607,726 605,724 605,722 603,720 603,718 601,716 601,714 597,710 597,708 595,706 594.9,700 588.5,690 578.3,678 563.3,640 547.3,626 542,620 535.8,604 529.7,596 526.2,586Z"/>
<path fill="#ffac00" d="M347,130L351.4,130 353,134.4 358.8,144 386.3,184 391,189.3 395,190.5 411.1,186 411,188 403,195.1 401,198 403,200.8 417,202.4 425,201.8 427,200.6 428.7,198 430.3,188 431.1,186 433,184.7 439,185.5 447.6,190 449,194 447.7,208 448,216 457,222.8 473.6,240 486.1,266 485.6,270 477.7,288 475.6,304 476.2,332 477.4,338 479.5,342 485,346.1 505,347.5 529,358.3 549,362.9 565,358.1 591,355.4 607,352.6 615,353.8 633,361.5 643,362 659,365.8 665,364.7 675.2,358 686.5,348 689,337.5 693,335.7 699,335.5 703,333.6 789,263.6 865,196.9 875,189 881,185.8 881,198.5 868.1,208 855.9,220 848.1,226 833.9,240 826.1,246 811.9,260 804.1,266 777,291.7 715,347.8 711,350.9 703,354 701.9,358 703.3,366 701,369.6 689,372.9 672.6,386 663,391.6 659,391 645,382.8 629,376.3 613,368.2 609,367.1 573,373.4 559,377.5 552.3,382 533.8,404 532.8,408 535,414.6 533,415.9 523,416.2 519,418.4 515.5,424 518,430 517.9,432 513,435.9 505,439.5 503,439.4 498.6,434 495,431.6 469,424.6 466.4,422 460.5,410 459.3,382 457.5,376 451.5,364 450.7,360 459.8,344 456.9,314 460.9,288 460.3,280 463,274.8 465,260 464.8,254 463.1,250 451,229.2 439,225.2 433,217.9 431,216.9 419,213.6 405,212 396.3,208 391.5,204 391,202 392.4,196 383.8,192 381,189.1 350.2,138 347,130ZM476.6,360L474.6,362 473.5,368 472.9,394 474.5,410 477,413.3 483,416.6 501,422.6 505,422.6 512.4,416 525,400.3 537,388.2 540.6,382 541,377.8 539,375.7 517,367.3 491,359.3 483,358.2 477,359.8ZM423,166.3L425,166 427,167.9 427,170 425.1,176 421.5,180 420.1,180 421,172.4 422.8,168ZM315,351.6L319,351 323,351.8 332.9,356 349,360.3 379,371.4 401,382.8 409.5,386 413,388.6 422.3,406 424.5,412 424.3,432 426.4,442 425,458 423.5,464 419,468.9 413,471.8 405.5,466 385,455.1 379,450.6 343.4,414 337,406 327,395.9 317.8,384 310.4,378 306.8,372 299,364 297.3,358 299,354.4 301,353.1 307,353.3 313.7,352ZM315.1,360L314.5,362 319,373.1 324.2,382 329,387.2 341.6,398 349.9,410 367,427.9 383,441.5 393,448.5 403,453.9 409,453.9 410.7,452 411.6,448 411.7,416 408.4,398 406.2,392 379,376.4 367,373.4 342.7,364 321,358.2 317,358.8ZM567,621.6L571,621.6 575.6,624 578.4,626 583,632 591,631.1 597,632.1 620.4,642 625,645.1 626.8,648 626.9,650 623.8,666 625,667.5 632.8,670 633.3,676 635,678.8 641,684.1 667,717.7 676.3,730 679,736 667.4,736 658.8,724 619.7,676 616.8,670 617.3,658 615,651.8 607.6,646 597,644.2 591,645.2 588.5,648 592.2,660 594.8,666 603.9,678 604.9,680 605.6,686 609,693.8 631.6,734 632.1,736 629.7,736 603,686.9 601,684.5 596,682 587,673.9 577,657.9 572.1,646 570.7,630 566.7,624 566.4,622Z"/>
<path fill="#ff7e00" d="M353,130L441,130 441,138 447.4,150 449.3,152 455,155.1 470.3,180 489.2,204 493,211.9 497.9,226 501,229.3 513,237.3 526.6,252 529,255.7 528.9,260 522.7,282 511,294.8 504.4,304 503.5,308 503.4,320 504.1,324 507,327 526.9,336 533,337.6 563,333.2 566.9,332 569.1,330 568.6,326 563.4,316 552.4,302 549.3,296 549,287.7 551,286.3 559,285 579,289.6 600.6,300 605,303.3 625,325.4 631,329.4 657,335.3 661,335.5 665.6,334 670.8,330 670.8,320 673,316.9 677,315.7 687,315.5 689,314 695,308.1 701,303.9 709,296.2 713,293.8 833,192 839,186 845,182 853,174.1 857,171.9 867,162.4 873,158.4 877,158 881,154 881,185.8 875,189 865,196.9 789,263.6 703,333.6 699,335.5 693,335.7 689,337.5 687.9,340 687.4,346 685,349.6 673,359.5 665,364.7 661,365.9 643,362 631,361.1 615,353.8 609,352.6 565,358.1 549,362.9 529,358.3 505,347.5 487,346.5 481.5,344 478.2,340 476.5,334 475.3,308 477.7,288 485.6,270 486.1,266 473.6,240 457,222.8 448,216 447.7,208 449,194 447.6,190 439,185.5 433,184.7 431.1,186 430.3,188 428.7,198 427,200.6 425,201.8 417,202.4 403,200.8 401,198 403,195.1 411,188 411.1,186 395,190.5 391,189.3 386.3,184 358.8,144 353,134.4 351.4,130ZM422.8,168L421,172.4 420.1,180 421.5,180 425.1,176 427,170 427,167.9 425,166 423,166.3ZM317,358.8L321,358.2 342.7,364 367,373.4 379,376.4 406.2,392 408.4,398 411.7,416 411.6,448 410.7,452 409,453.9 403,453.9 393,448.5 383,441.5 367,427.9 349.9,410 341.6,398 329,387.2 324.2,382 319,373.1 314.5,362 315.1,360ZM347,378L342.9,382 343,386 349,392.9 353.6,402 360.1,410 371,420.7 389,433.5 393,435.3 395,435.3 397,434 398.6,428 398.7,416 396.4,400 394.6,396 377,381.6 353,376.3 347,378ZM477,359.8L483,358.2 491,359.3 517,367.3 539,375.7 541,377.8 540.6,382 537,388.2 525,400.3 512.4,416 505,422.6 501,422.6 483,416.6 477,413.3 474.5,410 472.9,394 473.5,368 474.6,362 476.6,360ZM488.4,376L487,380 487.4,390 489.1,402 491,405.9 495,408.5 503,411 507,410.5 511,407.5 517,400.4 523.5,390 524.8,386 524.1,384 521.7,382 517,380.4 500.1,378 491,375.1 489,375.4ZM591,645.2L597,644.2 605,645.1 611.1,648 615,651.8 617.3,658 616.8,670 619.7,676 658.8,724 667.4,736 663.5,736 624.1,686 620.2,682 617,680.3 613,681.4 609.8,684 608.9,686 609.4,688 633.8,732 634.9,736 632.1,736 607.1,690 603.9,678 593.7,664 588.8,650 588.5,648 589.6,646Z"/>
<path fill="#ff5000" d="M443,130L466.4,130 469.4,138 477.7,154 511.4,198 515.4,210 521,219.6 537,235.5 547,249 559,257.5 572.9,264 581,272.6 599,277.2 611,283 623,287 647,297.6 650.5,296 654.5,292 655,290.3 656.4,290 657,288.2 658.5,288 659,286.1 660.7,286 661,284 663,284 663,282 665,282 667,280 669,280 673,276 675,276 679,272 681,272 683,270 685,270 689,266 691,266 703,254 705,254 717,242 719,242 731,230 733,230 745,218 747,218 759,206 761,206 773,194 775,194 787,182 789,182 799,172 801,172 813,160 815,160 827,148 829,148 835,142 835,130 881,130 881,154 877,158 873,158.4 867,162.4 857,171.9 853,174.1 845,182 839,186 833,192 713,293.8 709,296.2 701,303.9 695,308.1 689,314 687,315.5 677,315.7 673,316.9 670.8,320 671,329.5 667,333.2 663,335.1 659,335.5 631,329.4 625,325.4 605,303.3 600.6,300 579,289.6 559,285 551,286.3 549,287.7 549.3,296 552.4,302 563.4,316 568.6,326 569.1,330 566.9,332 563,333.2 535,337.7 527,336 508.7,328 505,325.5 503.6,322 503.4,310 504.4,304 511,294.8 522.7,282 528.9,260 529,255.7 526.6,252 513,237.3 501,229.3 497.9,226 493,211.9 489.2,204 470.3,180 455,155.1 449.3,152 447.4,150 441,138 441,130ZM489,375.4L491,375.1 500.1,378 517,380.4 521.7,382 524.1,384 524.8,386 523.5,390 517,400.4 511,407.5 507,410.5 503,411 495,408.5 491,405.9 489.1,402 487.4,390 487,380 488.4,376ZM504.1,392L502.6,394 502.8,396 505,397.9 507,397.7 509.6,396 510.2,394 508.2,392 505,391.7ZM347,378L353,376.3 377,381.6 394.6,396 396.4,400 398.7,416 398.6,428 397,434 395,435.3 393,435.3 389,433.5 371,420.7 360.1,410 353.6,402 349,392.9 343,386 342.9,382 347,378ZM362.9,388L361.5,390 360.8,394 363,400.3 369.6,408 375,412.5 379,414.4 383,413.4 384.8,408 383.5,402 381.5,398 371,387.3 367,386.6 363,387.9ZM613,681.4L617,680.3 623,684.7 663.5,736 634.9,736 633.8,732 609.4,688 609,685.8 612.1,682Z"/>
<path fill="#ff2200" d="M467,130L489.6,130 491.3,138 500.1,152 510.1,160 527,182.2 538.8,212 547,226.7 553,234.2 567.2,246 587,258 607,264.8 617,265.6 624.4,264 630,260 631,258.1 639,256 645,250 647,250 673,224 675,224 699,200 701,200 723,178 725,178 739,164 741,164 757,148 759,148 765,142 765,130 835,130 835,142 829,148 827,148 815,160 813,160 801,172 799,172 789,182 787,182 775,194 773,194 761,206 759,206 747,218 745,218 733,230 731,230 719,242 717,242 705,254 703,254 691,266 689,266 685,270 683,270 681,272 679,272 675,276 673,276 669,280 667,280 665,282 663,282 663,284 661,284 660.7,286 659,286.1 658.5,288 657,288.2 656.4,290 655,290.3 654.5,292 650.5,296 647,297.6 623,287 611,283 599,277.2 581,272.6 572.9,264 559,257.5 545.9,248 537,235.5 521,219.6 515.4,210 511.4,198 477.7,154 469.4,138 466.4,130ZM363,387.9L367,386.6 371,387.3 381.5,398 383.5,402 384.8,408 383,413.4 379,414.4 375,412.5 369.6,408 363,400.3 360.8,394 361.5,390 362.9,388ZM505,391.7L508.2,392 510.2,394 509.6,396 507,397.7 505,397.9 502.8,396 502.6,394 504.1,392Z"/>
<path fill="#f30000" d="M491,130L630.4,130 627.1,134 619,140.5 558.7,186 556.7,188 555.3,192 555.7,198 560.4,214 575,232.5 579,236.4 583,238.5 599,243.2 603,243.5 613,242.5 633,228 691,180 746.9,130 765,130 765,142 759,148 757,148 741,164 739,164 725,178 723,178 701,200 699,200 675,224 673,224 647,250 645,250 639,256 631,258.1 630,260 624.4,264 617,265.6 605,264.2 585,257 567.2,246 551,232.2 545,223.5 537.8,210 527,182.2 510.1,160 500.1,152 491.3,138 489.6,130Z"/>
<path fill="#c50000" d="M631,130L746.9,130 691,180 633,228 613,242.5 603,243.5 599,243.2 583,238.5 579,236.4 575,232.5 560.4,214 555.7,198 555.3,192 556.7,188 558.7,186 619,140.5 627.1,134 630.4,130Z"/>
<path fill="none" stroke="#000" stroke-width="1.3" d="M253,736L253,722 285,690 285,688 317,656 317,654 329,642 327,642 319,650 317,650 309,658 307,658 299,666 297,666 289,674 287,674 279,682 277,682 269,690 267,690 259,698 257,698 249,706 247,706 239,714 237,714 229,722 227,722 219,730 217,730 211,736M337,634L337,634M335,636L335,636M333,638L333,638M331,640L331,640M273.5,736L279.3,728 333.3,676 383.6,626 388.4,620 387,619.1 385,615 384,610 384.2,604 386.7,598 387.2,594 385.6,588 383,582.9 362.9,562 355,556.5 349,554.1 341,558.7 333.1,560 327,565.6 325,566.4 290,598 282,604 273,613 267,617 259,625 225,654 217,662 211,666 199,677.9 197,678.1 183,691.9 179,694.1 147,723 145,724 135,724M281.5,736L286.1,730 293.9,724 309,709.2 315.9,704 332.1,688 339.9,682 378.1,646 385.9,640 407,620 408.1,618 407.2,612 404.9,606 393.7,594 385,574.3 375,563.4 367,551.1 353.5,538 331,527 317.8,516 315.3,510 315,504 313.3,502 305.3,504 297.1,510 295,512 295,513.5 290.8,514 289,516 287,516 285,518 283,518 281,520 279,520 275,524 273,524 269,528 267,528 259,536 257,536 245,548 243,548 231,560 229,560 219,570 217,570 205,582 203,582 191,594 189,594 179,604 177,604 165,616 163,616 153,626 151,626 147,630 135,630M434.4,736L438.1,732 471,708.5 480.5,700 481.3,696 480.8,692 473,679.5 465,672 457,669.5 445,674 439,680 397,727.3 391.9,736M293.3,736L298.2,730 313,716.1 321,709.9 405.1,634 407,632.8 415,631 417.1,628 410.3,604 397,587.3 385,562.9 371.9,546 365.6,540 353,532.1 333,522.1 325,515.6 321.2,510 321.1,508 323.7,502 323,498.5 321,494.2 317,489.9 307,483.6 303,482.7 291.2,486 288,488 267,504.9 143,610.9 135,615.6M463.9,736L466.2,732 483,715.1 486.8,710 488,704 487.1,692 483.6,684 477,674.4 472.7,670 463,663.7 447,658.5 439.6,660 435.7,662 403,689.9 397.1,694 389,701.9 385,704 381,708 379,708 373,714 371,714 365,720 363,720 359,724 357,724 351,730 349,730 343,736 341,736M303.7,736L318.1,722 341,702.8 352.1,692 391,658.8 401,649.2 415,637.2 421.1,634 422.4,632 423.3,624 422.6,620 414.8,600 397,574.3 387,554.5 378.2,544 371.2,538 355,527.8 335.7,518 327.8,512 326.5,510 327.6,502 325,488.6 319,479 311,472.4 307,470.1 303,469.8 293,473.4 281.6,476 275.3,480 244.6,512 141,607 135,610.8M475.1,736L477.4,732 491,717 494,712 495.1,702 493.3,688 479.8,668 471,661 463,656.7 449,651.4 437,649.8 435,650.2 425.2,658 367,695.7 315,733.8 313.6,736M485,736L501.6,716 503.9,694 503.5,690 501.5,686 483,662 479,658.6 461,648.9 447,643.4 435,640.2 430,636 428.8,632 431.2,622 430.4,616 417.7,592 399,564.5 391,549.8 384.4,542 377,536.2 357,523.7 339,514.3 333.3,510 331.7,506 331.6,492 328.4,484 319,467.3 315,462.9 309,458.5 305,457.7 293,462.4 277,463.7 268.3,466 205,514 203,514 193,524 191,524 179,536 177,536 165,548 163,548 153,558 151,558 147,562 135,562M275,205.2L273,206.2 272.6,208 271,209.5 269.7,216 278.3,244 281,247.9 283,248.6 291,246.8 293,245.3 294.8,242 295,234.9 275,205.2M297,247.4L293,249.2 290.4,252 288.9,256 290.2,258 295,260.2 305,261.3 309,262.6 316.6,268 327.1,278 331,279.9 333,279.9 334.6,278 334.5,276 331.3,268 329,264.8 312.6,252 303,247.7 297,247.4M267,405.8L261.6,408 258.2,412 258,414 263,419.9 267,421.2 271,421.2 277,418.7 282.2,414 284.7,410 284.5,408 283.1,406 279,404.4 267,405.8M587,477.9L583,479.2 581.8,482 581.9,488 583.1,492 587,493.2 595,492 600.8,490 602.5,488 601,484.3 598.6,482 593,479.3 587,477.9M221.1,130L226,142 231,150 261,208 271.1,234 274.5,246 280,254 279.2,260 280.3,262 293,270.5 305,275.8 319.3,288 323.9,290 341,294.2 347.8,292 352.3,288 354.1,284 353.3,280 341,271.3 335,261.1 328.6,256 323.4,250 306.1,240 305.3,234 302.9,228 285,195.4 249.2,136 247.1,130M522.2,736L509.6,716 509.9,708 513,690 510.9,684 485,654.9 469,645.1 454.2,638 446.8,632 441,623.5 438.3,612 421,582.6 392.3,542 379,531.8 339.3,508 337.1,504 337.3,494 334.6,486 324.5,466 315,451 311,447.2 305,445.4 289,450.3 269,451 265,449.8 259.1,442 252.8,438 241,432.3 234.1,432 230.2,434 229,435.9 227.6,436 225,440 221,440 215,446 213,446 209,450 207,450 203,454 201,454 195,460 193,460 189,464 187,464 183,468 181,468 175,474 173,474 169,478 167,478 163,482 161,482 147,496 135,496M273,399.5L241,408 235.6,414 233.7,420 235,420.8 245,421.4 265,429.5 267,432 266.5,436 267.8,438 275,437.9 279,436.6 281.7,434 288.1,424 293,415.5 293.6,412 290.4,406 285,401.1 279,398.9 273,399.5M575,467.6L571.3,472 567.4,484 565.9,496 566.1,498 567.7,500 577,502 589,501.6 605,497.3 612.9,494 615.3,492 615.5,490 613.6,486 603,471.5 599,469.7 583,466.7 579,466.4 575,467.6M188,130L203,163.3 222.4,202 227,213.3 249,256.9 253.4,260 259,262.2 267,260.7 281,274.3 296.2,282 311,292 341,304.4 345,304.9 359,295.4 364.2,290 371.6,278 372,272 371,267.4 369,265.2 365,263.6 347,261.9 343,260.4 329,246.4 316.2,238 269,164 251.1,134 249.8,130M135,358L139,357.5 147.3,352 155,348.6 163,341.2 168.7,332 173.8,314 173,311.3 169.4,306 169,300.9 170.7,294 169,290 163.1,280 146.6,246 139,236.5 135,236M526.9,736L519,722 517,714 517.7,706 522.1,690 521.5,686 519.1,682 511,671.4 503,662.9 489,649.3 474.5,638 472.8,634 475.1,628 475.2,626 474,624 469,621.3 461,621.9 458.3,620 442.5,596 430.8,582 417.3,562 398.4,540 385,529.9 346.4,506 344,502 341.6,490 328.6,464 322.4,456 313,440.1 304.9,432 301.6,416 298.7,410 287,398.3 281,395.3 273,395 255,400.2 239,401.7 227,405.2 211,398.4 205.2,398 201,404.1 186.5,414 147,449.4 135,450M565,453.6L561,456 559.8,458 554.9,474 549,504 549.1,506 551,508.6 559,509.7 583,508.1 593,508.6 603,505.9 613,500.8 627,498.2 630,496 628.9,492 623,483.8 609,460.6 605,455.7 601,454.3 593,455 571,452.9 565,453.6M184.3,130L223.6,214 247,259.6 254.3,264 257,267.7 259,269 267,269.6 279,281 290.2,286 303,294.8 319,302.7 331,307.3 343,315.6 357,318.6 359,318 360.8,316 365.1,306 374.9,290 385.5,278 385.3,272 383,262.1 378.4,258 363,252.2 343,250.2 323,234 315,216.3 295.9,182 293,175.4 289.3,170 287,164 285.2,162 284.2,158 281,154 281,150 279,148 279,144 277,142 277,130M544.6,736L543,731.6 535,718.2 527,710.2 526.3,708 531.1,690 529.8,684 513.6,662 496.6,644 494.3,640 489.2,624 485,620.4 474,614 472.8,612 471.9,604 470.5,600 468.5,598 459,594 453.3,588 443,579.8 433,568.8 420.7,552 395,530.3 361,510 354,504 332.7,462 323,450.2 312.3,430 308.3,418 298.9,404 287,394.5 279,391.2 267,391.3 258,394 251,394.8 239,395 232.3,394 223,390.6 215,386.1 203,375.5 195,373.5 183,366.9 175,367.4 173.2,366 179.3,360 191,354 195,350.7 201,339.7 213,326 214.6,322 214.1,316 210.1,298 202.7,286 201,280.5 195.1,274 194.9,272 189.1,264 186.9,258 181.1,250 178.9,244 175.1,240 170.9,230 167.1,226 164.9,220 159.1,212 156.9,206 151.1,198 147,189 143,186 143,184 141,182 141,180 139,178 139,176 135,172 135,170M169,371.3L169,378 167,376 169,371.3M567,435.7L564.3,442 561,444.4 555.3,446 553,447.6 548.8,452 546.6,456 544,478 537.2,510 538.2,514 542.5,520 544,528 545.6,530 549,531.1 551.9,530 553.8,528 556.6,520 561,517.8 583,513.7 593,515.5 599,515.1 605,512.5 615,506.1 638.3,502 642.2,500 642.7,498 640.9,494 609,445.6 603,441.4 597,438.9 587,438.2 575,434.3 571,434.2 567,435.7M731,477.9L729.5,484 731,488 733,489.9 743,496.1 747,495.7 749.3,494 750.4,492 750.2,488 747,484 737,476.8 733,476.6 731,477.9M549,736L545.8,728 536.6,712 536,702 540.4,688 539.2,684 525,663 509.3,644 496.8,622 486,612 475.1,596 469.8,590 463.5,578 445,566 429.9,550 417,540.6 410.3,534 393,522.5 367.2,508 362.5,504 349,482.8 335.6,458 325.7,446 316.3,428 311.9,416 301,400.7 289,392 283,388.8 266.5,386 264.2,384 263.9,378 259,373.7 255,373.9 253,375.3 251.9,378 252,382 249,383.3 233,380.8 227.1,378 222.7,374 222.5,372 224.6,370 231,367.9 233.5,366 237.5,360 238.6,356 238.8,348 235.8,316 238.3,300 233.3,280 233.3,278 235,276.6 251,276.5 261,274.4 265,275 277,285.5 295.8,298 328.6,314 342.5,328 353,330 361,334 371,337.2 375,335.9 373.2,324 375,316.3 386.9,302 385.3,294 386.2,290 389.5,286 397.5,280 398.7,278 398.6,272 396,260 391,253.6 385,248.3 377,245.3 359,240.9 343,239.9 337,236.7 331.1,232 327,224.2 308.7,178 294.7,142 291.1,130M235,263.1L243,262.9 249,263.8 251.6,266 251.2,268 247,270.4 242.2,270 235.3,266 235,264.4 233.3,264 235,263.1M563,424L559,424.8 554.8,428 552.6,432 553.8,438 553,440 537.7,452 537,470 531,514 535,530 541.2,536 549,539.7 559,540.5 567.1,548 573,551.7 583,552.9 589,555.3 591,555.2 594.4,552 596.4,548 596.2,546 589,540 577,535.5 573,528 573.4,524 575.5,522 583,519.4 595,522.1 601,521.8 617,511.3 631,508.1 651,506.3 655,504 656.7,500 653.7,494 637,473.1 617.2,442 607,432.6 603,430.8 579,425.2 563,424M713,450.9L711,452 710.1,454 706.4,470 707.4,474 717.5,496 721,499.2 735,508.2 751,515.8 765,530.3 769,531.4 779,530.9 781.2,530 782.9,528 783.2,526 781.5,522 775.7,514 771,503.8 762.7,492 759.7,482 757,477.5 741,464.3 729,459.6 717,451.6 713,450.9M881,674L869,674 867,672 867,670 865,668 865,666 861,662 861,660 859,658 859,656 855,652 855,650 853,648 853,646 849,642 849,640 845,634 843,634 839,630 837,630 835,628 833,628 829,624 827,624 825,622 823,622 819,618 817,618 815,616 813,616 809,612 807,612 799.5,604 791,599.6 784,594 773,591.3 769,591.4 767,592.4 765.3,596 765.9,600 769.5,612 779,634.1 791.3,658 802.9,678 803,679.5 805,680 805,682 807,684 807,686 809,688 809,690 811,692 811,694 815,700 815,704 817,706 817,708 819,710 819,712 821,714 821,716 825,722 825,736M565.5,736L559.6,714 557,707.9 555,705.6 549,703.3 546.5,700 549.7,688 547.6,682 535.9,664 517,639.6 506.5,622 495,609 489,599 483.2,592 480.1,580 477.4,574 449,554.2 439,545.3 421,533.7 413,526.7 377.5,508 369.3,502 364.4,496 339,454.7 329,442.3 320,426 315.1,414 305.8,400 303,397.3 289,388.3 274.2,382 263,368.4 255,364.7 252.8,362 251.5,356 252,346 250.2,336 254.1,312 252.7,286 255.7,282 261,280.2 264.3,282 267.8,286 271.1,294 273,296 289,305.6 299,306 305,308 322.4,318 334.7,330 341,334.1 349,337.3 359.3,340 375,346.9 387,349.4 399,354.9 405,355.2 407.3,354 408.2,352 407,345.2 403.8,340 401,338.1 393,337.4 391,335.5 387.7,322 389.2,318 401,306 403.4,302 402.2,298 397.1,292 397.2,290 399,287.9 408.5,282 411.9,278 411.7,274 407.7,260 399,247 391,238.7 387,236 361,231.4 345,230.5 338.9,228 334.1,220 331.6,214 305.5,138 303.6,130M561,416L557,417.7 553,421.1 543.4,432 542.6,434 545.6,440 544.5,442 534.5,448 530.4,452 529.2,456 529.1,466 525,496.5 523,500.1 512.6,508 511.1,510 510.9,512 514.2,516 523,523.4 527.8,534 531,537.7 548.9,548 569,562.6 577,566.9 587,576.2 609,591.2 612.9,596 613.4,602 615.3,606 619,610.7 623,613.5 629,614 630.5,612 628.9,606 630.2,596 627.8,574 625,570.4 617,566.9 615,565.1 608,542 596.1,532 595.3,530 605,526.2 619,516.5 635,512.2 641,511.9 651,513.3 655,512.7 671.2,508 678.2,504 685,497.8 687,497.9 703,506.1 719,518.4 729,523.8 733,528.9 737,531.2 755,535.6 779,543.7 787,545.2 799,550.3 803,550 806.5,546 807.1,542 805.8,538 786.1,512 783.2,498 772.1,480 749,458.2 737,451.1 729,441.7 719,435.1 715,434 707,438.7 695,442 691.3,454 681,470.2 679,471.1 663,470.9 659,476 657,477.7 655,477.6 648.6,472 647.6,470 647,463.2 645,461.6 641,460.6 637,457.3 624.6,438 622.8,436 615,431.4 609,423.3 605,422.1 597,422.6 583,418.8 561,416M881,659.5L877.7,656 858.4,624 853,616.9 837,599.4 821.2,586 817.9,578 815.6,576 805,572.2 803.4,570 805,566 815.7,550 816.6,546 815.1,542 807.8,530 807,518.2 800.9,510 795,491.6 782.7,478 778.3,468 766.9,462 749,442.1 747.7,436 749.2,418 747.5,414 743.9,410 739,409.5 717,419.5 703,423.3 695,429.1 687,427.7 682.7,428 680,430 672.5,442 663,451.1 659,452.8 655,451.4 647,445.4 641,445.1 639,444.1 635.8,440 633,430.3 631.5,428 623,421.7 611,415.5 605,414.5 593,415.5 561,411 557,412.8 551,418.4 537.7,434 537.4,436 539.2,440 538,442 528,448 522.2,454 519.2,478 517,484.6 509,491 493,500.8 490.6,506 492.2,512 515,531.8 525,543.5 603,600.4 615,614.6 621.4,618 635,620.5 641,619.8 648.5,616 650.5,614 651,610 649,607.4 641,604.9 639,602.9 642,594 641.5,590 635,572 631.6,568 623,561.5 617,550 612.4,532 613.5,528 617,524 621,521.4 631,517.6 637,516.8 655,519.7 665,517.6 669,517.8 679,521.8 697,523.5 701,525.5 715,543.6 719,544.9 727,545.1 730.2,546 734.2,550 740.9,560 742,564 741.8,572 746.2,584 745.8,592 747,596 776.4,658 811.6,736M568.3,736L561,706.7 557,696.1 558.9,688 557.1,682 549,667.9 539.5,654 520.2,630 512.3,616 494.9,596 492.1,590 489,574 487,569 464.6,556 457,549.4 449.4,540 442,534 427,527.2 415,518.7 405,515.3 385,505.9 375,499.2 370.3,494 343.2,452 329.3,434 323.7,424 319.5,414 309,397.8 305,394 281.1,380 261.1,358 261,339.4 262.9,334 268.5,324 271,313.8 275,312.4 285,314.4 299,311.1 303,312.1 309.5,316 332.1,334 345,340.8 373,351.6 395,358.6 409,367.7 419,369.9 421.7,368 418.6,350 413.7,334 411,329.3 403.5,322 403.1,320 404.2,318 410.8,312 413,307.5 413.9,300 411.3,292 412.4,290 420,284 422.8,280 422.8,272 419.3,260 415,252.2 404.7,238 401.1,234 395.2,230 387,227.1 377,225.2 351.8,224 347.1,222 343,217.3 340.4,212 314.9,130M771,402L771,402M881,248L861,268 861,270 813,318 813,320 769,364 743,387.6 732.6,400 725.7,406 715,410.8 693,416.2 677,419 659.4,430 655.1,438 653,439 645,434.1 638.7,424 631,418.3 627,414 619,412.1 611,407.8 605,407.2 591,408.5 563,405.7 559,406.5 551,414.4 543,424.7 533.5,434 531,440.6 515.1,454 513.4,458 511.3,468 509,471.6 501,476.3 491,477.9 483.4,486 480.6,492 480,506 481.1,512 494.1,526 497.9,534 507,541.1 515.1,550 525,555.8 544.2,570 563,581.9 578.8,596 587,601.6 601,609.1 611.3,618 617,620.7 629,624.3 639,631.8 645,634.5 651,635.3 652.8,634 651.2,626 653.3,622 660.5,614 660.5,606 657.9,598 651,587.9 642.9,566 634.8,554 633.1,548 627.7,542 622.9,534 621.6,530 623,526.9 629,523.2 635,521.8 655,525.9 665,526.9 687,539.8 704.6,554 712.1,558 728.8,580 731,596 738.8,612 741,621.1 746.1,626 758.9,650 776.9,692 781.1,704 788.9,720 790.9,726 791,736M881,654.1L877,648.8 855,612 836.9,576 836.3,572 842.9,558 843,556 835,553.2 831,550.4 825.2,536 818.8,528 817.8,524 819.5,516 819,510.7 797,467.9 791,461.2 780.6,456 777.7,452 777.2,450 779,445 786,438 789,432.5 790.6,432 791,430.3 811,430 825,416 827,416 845,398 847,398 851,394 853,394 857,390 859,390 863,386 865,386 869,382 881,382M570.7,736L565.4,714 565.3,706 567.2,696 567,686 563,675.5 557,664 547.9,650 531,632.3 526.7,626 521.3,614 511,602 505.7,594 499,587.1 497,582 493,564.2 491,560.9 474.2,552 473.2,550 474.3,544 473,542 463,539.4 455,529.8 445,522.5 417,510.8 405,508.1 393,503.7 385.5,500 379.9,496 376.4,492 363,469.2 331,428 322.6,412 311,394.1 307,390.8 299,387 288.1,380 284.1,376 272.1,360 271.5,354 273.9,340 275.7,336 285.4,322 292.7,318 299,316.3 305,318.6 313,326.7 333,339.5 349,347 391.1,362 409,372.9 419,375.3 423,375.1 427.6,372 429.4,368 427,358 428.8,348 428.7,344 420.8,320 425.2,304 424.8,292 430.3,282 431.3,278 430.7,262 429.6,258 417,236 410,230 375,217.5 365,219.2 359,218.9 350.9,212 333,172.3 323,147 317.5,130M881,224.5L877,227.1 853,251 844,262 803,303.1 796,312 747,361.6 720.7,386 712.8,396 709,399 699,402 685,408.3 673,411.7 661,421.1 655,423.5 650.8,422 650,420 651.7,414 649.8,412 647,411.7 643,413.5 641,412.9 629,404.6 611,395.2 607,395.3 591,398.7 561,397.2 557,399.2 555,401.7 545.7,418 541,423.7 530.2,432 525.1,440 505,455.3 501,455.9 493,455 481,451.7 478.3,452 476.8,454 476.8,466 471.3,476 470.3,480 469.9,508 471.1,514 480.6,524 481.5,528 479,529.9 471,529.9 467,528 459,518.1 439.1,506 437.5,500 435,498.2 429,497.3 417,503.3 411,503.6 405,502.7 397.6,500 388,494 383,488.5 365,459.3 333,422.1 314.2,392 311,388.8 299,382.9 292.5,378 281,360 280.7,356 282.4,348 286,338 292.2,328 296.8,324 299,323.4 301.1,324 307,330.8 311,333.5 345,350 387,365.2 407,376.6 425,381 427,380.5 431,377.3 434.1,374 436,370 434.3,358 439.1,340 434.1,320 438.5,302 433.9,294 438.6,286 439.3,282 438.9,268 441.2,260 439,249.1 431.7,242 425.6,232 421,227.9 385.5,216 377,210.6 373,210.2 369,212 367,211.6 359,206.5 329.2,148 321.7,130M881,480L881,482 875,488 873,488.1 867,492.8 851.6,508 837,516.7 833,516.5 830,514 823.6,496 827.6,480 829,478 871,442.5 877,438.3 881,438M576.5,736L573.8,716 574.6,706 577.6,694 563,657.5 556.2,646 535.5,626 529.2,610 518.5,600 513,586.8 503,577.1 500.9,570 501,561.1 503,560.4 509,564.7 519,565.9 523,567.5 559,590 581,609.2 599,616.6 611,623.1 623.8,628 635,636.8 646.8,644 651,648.8 655,649.3 661,648.1 678.6,642 673,635.8 672.1,624 672.5,612 669.3,596 667.4,590 656,572 650.7,554 649.8,542 649,540.9 643,543.2 639,543.3 635,541.2 632.4,538 630.8,534 630.8,530 633,528 635,527.7 639,528.3 646.5,532 651,539.5 657,542.7 693,571.7 699,580.3 711.1,602 721,609.9 723.5,614 724.3,618 723,621.1 710.4,632 706.2,638 705.5,642 707,649.9 715,650 713,652 707,652 707,654 705,656 703,656 697,660 693,660 691,662 689,662 687,663.4 686.9,662 676,658 669,656.6 665,657.1 653,663 651,664.7 649.6,668 650.5,672 655,678.8 685,718.7 689,721.6 695,722.7 700.8,722 701,716 703,718 703,722 705,724 705,736M881,212.3L873,217.1 855,234 795,292.6 787,302.6 744.8,346 719,366.7 709,378.3 695,389.6 665,406.3 661,407 659,406.2 651,401.3 611,381.3 607,381.3 577,387.7 559,388.1 551.4,394 543.9,406 543,408 543.6,416 541,420.1 535,424.1 525,427.5 523.5,434 522.2,436 507,446.5 503,447.8 497.5,446 489,440 461,434.4 459,431.3 457,422.3 455,419.4 451,417.2 439,413.6 436.8,418 437,427 438.8,432 444.4,440 444.6,452 447,464.2 444.6,468 415,496 411,498 407,498.1 402.2,496 401.1,494 402.3,486 400.1,480 399,478.9 389,475.8 383,471.4 367.5,450 335,415.4 315.9,388 313,385.4 302.6,380 298.2,376 289.5,362 288.7,358 289.3,354 291.1,348 295.2,340 299,336.5 301,336.6 313,342.8 323,345.2 339,352.8 382.4,368 403,379.2 416.5,384 418.9,386 427,397.6 434.6,404 439,410.3 443,408.7 448.5,404 449.7,400 449.4,392 447.3,380 441.6,360 442.7,354 448.4,344 449.5,340 447.7,320 449.6,296 449,293.6 445.5,290 445.2,288 446.6,280 452,268 452.4,258 448.5,250 445.3,238 442.2,234 421,221.2 407,218.1 389.6,212 381,206.8 380.4,202 371,200.6 366.1,198 343.1,158 328.5,130M613,736L611,734 611,732 607,728 607,726 605,724 605,722 603,720 603,718 601,716 601,714 597,710 597,708 595,706 594.9,700 588.5,690 578.3,678 563.3,640 547.3,626 541,618.4 535.8,604 529.7,596 527,590 526.2,586 527,584.8 529,584.5 535,586.1 542.3,590 569,608.4 579,616.9 595,622.5 621,634.2 634.8,644 637.5,648 636.7,658 639,659.1 647.3,660 645.2,666 646.4,672 687.7,728 690.9,736M881,198.5L868.1,208 855.9,220 848.1,226 833.9,240 826.1,246 811.9,260 804.1,266 777,291.7 715,347.8 711,350.9 703,354 701.9,358 703.3,366 701,369.6 689,372.9 672.6,386 663,391.6 659,391 645,382.8 629,376.3 613,368.2 609,367.1 573,373.4 559,377.5 552.3,382 533.8,404 532.8,408 535,414.6 533,415.9 523,416.2 519,418.4 515.5,424 518,430 517,433.2 509,438 503,439.4 498.6,434 495,431.6 469,424.6 466.4,422 460.5,410 459.3,382 457.5,376 451.5,364 450.7,360 459.8,344 456.9,314 460.9,288 460.3,280 463,274.8 465,260 464.8,254 463.1,250 451,229.2 439,225.2 433,217.9 431,216.9 419,213.6 405,212 396.3,208 391.5,204 391,202 392.4,196 383.8,192 381,189.1 350.2,138 347,130M629.7,736L603,686.9 601,684.5 596,682 587,673.9 577,657.9 572.1,646 570.7,630 566.7,624 566.4,622 569,621.1 578.4,626 583,632 591,631.1 597,632.1 620.4,642 625,645.1 626.8,648 626.9,650 623.8,666 625,667.5 632.8,670 633.3,676 635,678.8 641,684.1 667,717.7 676.3,730 679,736M315,351.6L319,351 323,351.8 332.9,356 349,360.3 379,371.4 412.5,388 422.3,406 424.8,414 424.3,432 426.3,444 424.7,460 423.5,464 421,467.4 413,471.8 405.5,466 381,452.4 343.4,414 337,406 327,395.9 317.8,384 310.4,378 306.8,372 299,364 297.3,358 299,354.4 301,353.1 307,353.3 315,351.6M881,185.8L875,189 865,196.9 789,263.6 703,333.6 699,335.5 693,335.7 689,337.5 686.5,348 675.2,358 665,364.7 659,365.8 643,362 633,361.5 615,353.8 607,352.6 591,355.4 565,358.1 549,362.9 529,358.3 505,347.5 485,346.1 479.5,342 477.4,338 476.2,332 475.6,304 477.7,288 485.6,270 486.1,266 473.6,240 457,222.8 448,216 447.7,208 449,194 447.6,190 439,185.5 433,184.7 431.1,186 430.3,188 428.7,198 427,200.6 425,201.8 417,202.4 403,200.8 401,198 403,195.1 411,188 411.1,186 395,190.5 391,189.3 386.3,184 358.8,144 353,134.4 351.4,130M632.1,736L607.1,690 603.9,678 596.1,668 592.9,662 588.5,648 591,645.2 597,644.2 607.6,646 615,651.8 617.3,658 616.8,670 619.7,676 658.8,724 667.4,736M423,166.3L419.9,178 420.1,180 421,180.3 425.1,176 427,170 427,167.9 425,166 423,166.3M317,358.8L321,358.2 342.7,364 367,373.4 379,376.4 406.2,392 408.4,398 411.7,416 411.6,448 410.7,452 409,453.9 403,453.9 393,448.5 383,441.5 365,425.9 349,408.9 341.6,398 329,387.2 324.2,382 320.4,376 314.5,362 315.1,360 317,358.8M477,359.8L483,358.2 491,359.3 517,367.3 539,375.7 541,377.8 540.6,382 537,388.2 525,400.3 512.4,416 505,422.6 501,422.6 483,416.6 477,413.3 474.5,410 472.9,394 473.5,368 474.6,362 477,359.8M881,154L877,158 873,158.4 867,162.4 857,171.9 853,174.1 845,182 839,186 833,192 713,293.8 709,296.2 701,303.9 695,308.1 689,314 687,315.5 677,315.7 673,316.9 670.8,320 670.8,330 665.6,334 661,335.5 657,335.3 631,329.4 625,325.4 605,303.3 600.6,300 579,289.6 559,285 551,286.3 549,287.7 549.3,296 552.4,302 563.4,316 568.6,326 569.1,330 566.9,332 563,333.2 533,337.6 526.9,336 507,327 504.1,324 503.4,320 503.5,308 504.4,304 511,294.8 522.7,282 528.9,260 529,255.7 526.6,252 513,237.3 501,229.3 497.9,226 493,211.9 489.2,204 470.3,180 455,155.1 449.3,152 447.4,150 441,138 441,130M634.9,736L633.8,732 609.4,688 608.9,686 609.8,684 613,681.4 617,680.3 620.2,682 624.1,686 663.5,736M489,375.4L491,375.1 500.1,378 517,380.4 521.7,382 524.1,384 524.4,388 518.6,398 513,405.3 507,410.5 503,411 497,409.4 493,407.4 489.8,404 486.9,384 487.4,378 489,375.4M347,378L353,376.3 377,381.6 394.6,396 396.4,400 398.7,416 398.6,428 397,434 395,435.3 393,435.3 389,433.5 371,420.7 360.1,410 353.6,402 349,392.9 343,386 342.9,382 347,378M835,130L835,142 829,148 827,148 815,160 813,160 801,172 799,172 789,182 787,182 775,194 773,194 761,206 759,206 747,218 745,218 733,230 731,230 719,242 717,242 705,254 703,254 691,266 689,266 685,270 683,270 681,272 679,272 675,276 673,276 669,280 667,280 665,282 663,282 663,284 661,284 660.7,286 659,286.1 658.5,288 657,288.2 656.4,290 655,290.3 654.5,292 650.5,296 647,297.6 623,287 611,283 599,277.2 581,272.6 572.9,264 559,257.5 545.9,248 537,235.5 521,219.6 515.4,210 511.4,198 477.7,154 469.4,138 466.4,130M363,387.9L367,386.6 371,387.3 381.5,398 383.5,402 384.8,408 383,413.4 379,414.4 375,412.5 369.6,408 363,400.3 360.8,394 361.5,390 363,387.9M505,391.7L508.2,392 510.2,394 509.6,396 507,397.7 505,397.9 502.8,396 503,393 505,391.7M765,130L765,142 759,148 757,148 741,164 739,164 725,178 723,178 701,200 699,200 675,224 673,224 647,250 645,250 639,256 631,258.1 630,260 624.4,264 617,265.6 605,264.2 585,257 567.2,246 551,232.2 545,223.5 537.8,210 527,182.2 510.1,160 500.1,152 491.3,138 489.6,130M746.9,130L691,180 633,228 613,242.5 603,243.5 599,243.2 583,238.5 579,236.4 575,232.5 560.4,214 555.7,198 555.3,192 556.7,188 558.7,186 619,140.5 627.1,134 630.4,130"/>
</g>
<path d="M233.1 135.5V729.5M332.2 135.5V729.5M431.3 135.5V729.5M530.3 135.5V729.5M629.4 135.5V729.5M728.5 135.5V729.5M827.6 135.5V729.5M141.0 183.9H877.5M141.0 260.3H877.5M141.0 336.7H877.5M141.0 413.1H877.5M141.0 489.5H877.5M141.0 565.9H877.5M141.0 642.2H877.5M141.0 718.6H877.5" stroke="rgba(38,38,38,0.2)" stroke-width="1" fill="none"/>
<path d="M141.0 135.5H877.5V729.5H141.0ZM233.1 729.5v-7.5M233.1 135.5v7.5M332.2 729.5v-7.5M332.2 135.5v7.5M431.3 729.5v-7.5M431.3 135.5v7.5M530.3 729.5v-7.5M530.3 135.5v7.5M629.4 729.5v-7.5M629.4 135.5v7.5M728.5 729.5v-7.5M728.5 135.5v7.5M827.6 729.5v-7.5M827.6 135.5v7.5M141.0 183.9h7.5M877.5 183.9h-7.5M141.0 260.3h7.5M877.5 260.3h-7.5M141.0 336.7h7.5M877.5 336.7h-7.5M141.0 413.1h7.5M877.5 413.1h-7.5M141.0 489.5h7.5M877.5 489.5h-7.5M141.0 565.9h7.5M877.5 565.9h-7.5M141.0 642.2h7.5M877.5 642.2h-7.5M141.0 718.6h7.5M877.5 718.6h-7.5" stroke="#262626" stroke-width="1.3" fill="none"/>
<linearGradient id="jet" x1="0" y1="1" x2="0" y2="0"><stop offset="0" stop-color="#000080"/><stop offset="0.125" stop-color="#0000ff"/><stop offset="0.375" stop-color="#00ffff"/><stop offset="0.625" stop-color="#ffff00"/><stop offset="0.875" stop-color="#ff0000"/><stop offset="1" stop-color="#800000"/></linearGradient>
<rect x="897.0" y="135.5" width="41.6" height="595.0" fill="url(#jet)" stroke="#262626" stroke-width="1.2"/>
<path d="M938.6 209.9h-5M938.6 284.2h-5M938.6 358.6h-5M938.6 433.0h-5M938.6 507.4h-5M938.6 581.8h-5M938.6 656.1h-5" stroke="#262626" stroke-width="1.2"/>
<path fill="none" stroke="#cdcdcd" stroke-width="1" d="M160.6 1336.0L618.8 1239.5M618.8 1239.5L840.9 1437.2M160.6 1274.0L618.8 1177.5M618.8 1177.5L840.9 1375.2M160.6 1212.0L618.8 1115.5M618.8 1115.5L840.9 1313.2M160.6 1150.0L618.8 1053.5M618.8 1053.5L840.9 1251.2M160.6 1088.0L618.8 991.5M618.8 991.5L840.9 1189.2M276.9 1311.5L276.9 1044.0M499.0 1509.2L276.9 1311.5M399.9 1285.6L399.9 1018.1M622.0 1483.3L399.9 1285.6M522.9 1259.7L522.9 992.2M745.0 1457.4L522.9 1259.7M836.5 1433.2L836.5 1165.7M378.3 1529.7L836.5 1433.2M779.8 1382.8L779.8 1115.3M321.6 1479.3L779.8 1382.8M723.2 1332.4L723.2 1064.9M265.0 1428.9L723.2 1332.4M666.6 1282.0L666.6 1014.5M208.4 1378.5L666.6 1282.0"/>
<path fill="none" stroke="#262626" stroke-width="1.3" d="M160.6 1336.0L160.6 1068.5M382.7 1533.7L160.6 1336.0M382.7 1533.7L840.9 1437.2M160.6 1336.0L152.6 1328.9M160.6 1274.0L152.6 1266.9M160.6 1212.0L152.6 1204.9M160.6 1150.0L152.6 1142.9M160.6 1088.0L152.6 1080.9M378.3 1529.7L366.1 1532.3M321.6 1479.3L309.5 1481.9M265.0 1428.9L252.8 1431.5M208.4 1378.5L196.2 1381.1M499.0 1509.2L509.4 1518.5M622.0 1483.3L632.5 1492.6M745.0 1457.4L755.5 1466.7"/>
<path fill="none" stroke="#0000ff" stroke-width="1.35" d="M502.8,1461.6L497.7,1459 486.5,1456.5 472.5,1450.9 443,1443.6 422,1442.9 412.5,1441.1M577.3,1478.1L565.2,1474 556.2,1473.1"/>
<path fill="none" stroke="#0080ff" stroke-width="1.35" d="M521.7,1465.4L516.7,1459.9 500.8,1453.5 479.8,1447.2 467.8,1442.6 454.7,1439.9 416.8,1436.9 414.7,1436.1 407.6,1430.3 393,1425.3 382.9,1424.4 375.6,1428.2 367.2,1430.5M596.6,1482.7L592.8,1478.2 587.9,1474.3 567.7,1468 552.2,1466.5 529.9,1467.1"/>
<path fill="none" stroke="#00ffff" stroke-width="1.35" d="M283.8,1364L287.5,1364.1 299.3,1366.4 309,1366.6 320.5,1367.8 347.8,1368.6 353.9,1367.8 354.9,1366.7 355.3,1364.2 357.3,1360.6 357.9,1357 359,1354.8 357.5,1352.7 353.1,1349.9 350,1349.4 343.5,1349.5 330.9,1351.5 307.3,1347.9M255.9,1405.1L256.4,1404.1 260.5,1401.3 260.9,1400 253.7,1394.1 253.1,1391.8 253.8,1389.2 253.2,1388.1 251.4,1387.2M610.4,1479.5L607.5,1477.5 603,1469.9 597.5,1467.9 581.4,1463.8 556,1459 554.5,1458.1 553.5,1455.9 551.9,1455 535.8,1453.9 520.2,1449.4 503.4,1445.6 486.6,1440.6 472.2,1437.5 462,1435.9 425.6,1432.6 416.8,1428.3 400.4,1422 372.4,1413.2 365.9,1409.7 357,1406.7 347.3,1405 340.4,1405.1 335,1406.4 327.4,1409.9 313.4,1413.9 309.2,1414.2 294.3,1413.3 292.2,1413.9M540.9,1384.6L536.8,1387.2 535.9,1388.4 536.1,1389.7 539,1395.2 546.3,1405.8 548.1,1408 549.7,1408.9 554.2,1408.8 573.5,1403.5 581.2,1402.1 585.7,1399.9 589.4,1397.1 599.5,1393.5 599.8,1392.2 564.6,1381.1 560.2,1381.4 553,1383.1 544.2,1383.5 540.9,1384.6"/>
<path fill="none" stroke="#80ff7f" stroke-width="1.35" d="M725.6,1403.9L716.3,1405.5 715.6,1407 717.5,1409.1M624.4,1471.5L621.5,1470.9 620.4,1469.9 618.9,1466.6 615.4,1464.9 600.3,1460.1 580.6,1454.8 567.6,1450.4 553.3,1447 542.2,1443.5 532.2,1438.3 473.2,1431 445.4,1429.7 437.9,1428.8 400.8,1417 389.8,1414.2 372.1,1407.2 360.4,1403.5 346,1401.8 334.2,1401.6 321.4,1398.4 313.2,1397.5 303,1389.9 296.6,1381.4 285.8,1372.7 285.8,1371.5 287.6,1370.4 293.3,1371.1 298.2,1373.7 301.5,1374.3 315.4,1375 321.2,1373.6 325.7,1373.5 340.4,1374.6 357.7,1377.4 400.7,1376.7 404.8,1376.3 406.8,1375.4 406.6,1374.2 401.4,1371.2 396.5,1370.2 388.9,1370.3 383,1366.9 382.4,1365.8 382.6,1364.5 385.6,1359 382.8,1357.1 377.7,1355.8 377,1354.7 381.8,1350 381.4,1348.9 371.5,1343.6 362.1,1340.7 349.8,1338.4 332.1,1340.3 320.5,1342.2 316.5,1341.7M522.4,1376.4L520.6,1378.9 519.1,1383.5 522.6,1385.2 523.2,1386.3 519.4,1389.6 518.4,1391 518.5,1392.2 527.1,1401.4 531,1406.6 530.6,1408.3 526.6,1412.6 526.7,1413.8 539.3,1416.1 550.4,1419.8 567.3,1421.1 618.9,1427.5 621.9,1428.1 628.8,1431.4 634.5,1432.7 638.4,1432.5 642,1431.1 638.2,1429.5 636.9,1428.5 634.8,1425.3 625,1418.8 622,1417.9 613.9,1417.4 600.2,1410.5 590.5,1408.9 590.3,1407.7 592.8,1406.2 598.4,1401 606.2,1397.7 617.9,1395.8 627.3,1391.9 643.1,1387.5 668.7,1390 674.7,1391.2 713.8,1388.9 723.3,1389.2 725,1388.7 725.8,1387.3 725.3,1385.4 722.1,1383.6 699.9,1377.3 694.1,1373.4 681,1369 656.5,1364.4 646,1363.4 638.8,1361.1 627.9,1359.6 624.1,1360.4 623.1,1361.5 623.5,1362.8 622.9,1363.4 616.7,1366 616.1,1366.8 617.5,1368.9 618.1,1371.3 617.8,1375.2 617.1,1376.7 606.6,1379.6 605.5,1382.7 600.4,1382.3 598.6,1381.5 596.7,1379.4 594.4,1378.7 587.3,1378.8 571.1,1373.8 565.1,1373.4 555.7,1371.2 548.3,1372.8 525.4,1375 522.4,1376.4"/>
<path fill="none" stroke="#ffff00" stroke-width="1.35" d="M614.3,1344.5L613,1349.1 612,1350.5 593.2,1359.5 589.2,1364.1 584.7,1366.3 582.5,1366.4 579.5,1365.9 578,1365 565.5,1363.5 548.3,1362.6 536.5,1366.4 517.3,1369.8 516,1372 515.2,1380.3 511.5,1385.1 511.7,1387.5 505.1,1395.9 502,1397.2 491.9,1398.5 490,1398.9 489.7,1399.5 492.3,1402.6 492.3,1407.5 494.9,1410.7 504,1418.6 516.9,1421.9 518,1422.9 516.3,1424.3 508.2,1425.3 498.7,1422.9 482.4,1421.9 475,1420.4 473,1420.5 468.7,1422.9 465.3,1424 459.2,1424.7 451.6,1424.7 441.3,1423.2 419.3,1415.9 384.4,1407.3 362.4,1400 344.3,1398.3 332,1394.8 328.3,1393.1 324.6,1387.8 323.9,1384.2 324.6,1380.7 327.1,1378.8 336.1,1380.5 352.9,1381.3 367.2,1381.8 398.9,1381.3 414.1,1382.5 426.7,1381.4 428,1380.5 429.5,1377.9 428.2,1375.7 423.7,1373 419.8,1366.5 408.8,1360.2 405.9,1354.7 404.6,1353.8 399.9,1352.3 399,1351.3 399.5,1348.7 398,1346.6 393.2,1342.7 391.1,1339.5 386.4,1336.8 368.2,1332.1 341.9,1332.6 334.4,1332.1 328.1,1333.2M737.9,1372.4L734,1374.1 729.4,1374.1 714.8,1367M635.1,1464.3L615.9,1455.5 608.4,1452.9 587.5,1448.7 575.8,1443.8 566.4,1442.1 557.5,1438.4 548.8,1436.8 543.8,1434.4 538.3,1429.5 546.5,1430.7 557.3,1430 585.5,1432.6 608,1436.2 642.8,1437.1 667.5,1440 671.1,1439.1 676.8,1436 676.1,1434.9 669.1,1430.3 665.4,1426.2 662.8,1424.3 655.2,1419.8 641.6,1415.3 626.1,1407.2 619.8,1407.8 613.4,1406.5 609.9,1404.8 609.3,1403.7 611.5,1402.4 613.4,1402.1 622.3,1402.2 664.4,1408.5 688,1416.5 697.6,1418.2 701.4,1419.8M577.3,1363.8L577.9,1364.3 579,1363.6 577.3,1363.8"/>
<path fill="none" stroke="#ff8000" stroke-width="1.35" d="M582.3,1337.3L582.3,1339.5 581.4,1341 571.9,1348.7 550.6,1350.3 531.9,1350 508.1,1357.5 503.8,1359.9 502.3,1361.4 501.1,1370.2 495.1,1383.7 495.9,1386 494.9,1386.8 472.4,1387.2 468.5,1386.8 464.9,1385.2 445.1,1369.7 439.8,1362.3 431.9,1357.8 427.2,1353.9 421.4,1345.4 418.5,1338.6 408.1,1332.2 401.7,1329.9 388.3,1326.8 376.7,1326.6 372.3,1323.9 369.5,1319.6 367.3,1318.3 366,1319.2 367,1321.3 366.9,1322.6 362.6,1324.4 349,1326.6 344.2,1326.1 342.3,1325.3 341.6,1324.2M645.8,1456.8L636.1,1454.4 623.1,1449.8 622,1448.8 624.1,1446.4 627.1,1445 630.9,1444.3 644.9,1444.5 648.6,1445.6 653.8,1451.1M349.2,1388.3L352.4,1387 374,1385.9 396.9,1385.6 420.9,1387.1 434.2,1394.1 447.4,1406 448.7,1408.1 444.7,1409.7 435.7,1409.7 424.9,1408.5 407.7,1405.5 389.5,1401.6 380.9,1399.2 359.9,1395 347.2,1390.4 349.2,1388.3"/>
<path fill="none" stroke="#ff0000" stroke-width="1.35" d="M512.9,1321.8L483.2,1323.1 471.9,1321.2 451.7,1319.6 425.2,1311.5 413.7,1306.6 379,1297.9M395.7,1392.8L398.6,1393 405.5,1395.2 406.1,1395.9 404.1,1396.2 396.7,1394.6 395.4,1393.7 395.7,1392.8"/>
<g fill="currentColor" stroke="currentColor" stroke-width="0.7" stroke-linejoin="round">
<path color="#c90505" d="M383 1040l5-4 2 0 -4 7"/>
<path color="#dc0c0c" d="M379 1040l4 0 3 3 -4 4"/>
<path color="#d80f0f" d="M390 1036l5 1 2 4 -4 4"/>
<path color="#dd0f0f" d="M386 1043l4-7 3 9 -4 3"/>
<path color="#e6100f" d="M382 1047l4-4 3 5 -5 4"/>
<path color="#ee1511" d="M377 1051l5-4 2 5 -4 4"/>
<path color="#e5190a" d="M373 1056l4-5 3 5 -4 4"/>
<path color="#d30b0b" d="M397 1041l5-3 2 4 -4 4"/>
<path color="#e61313" d="M393 1045l4-4 3 5 -4 3"/>
<path color="#ee1414" d="M389 1048l4-3 3 4 -5 4"/>
<path color="#ed120f" d="M384 1052l5-4 2 5 -4 3"/>
<path color="#eb180d" d="M380 1056l4-4 3 4 -4 4"/>
<path color="#e6200a" d="M376 1060l4-4 3 4 -5 4"/>
<path color="#cc0909" d="M404 1042l5-3 2 4 -4 3"/>
<path color="#de2706" d="M371 1064l5-4 2 4 -4 5"/>
<path color="#dc3304" d="M367 1071l4-7 3 5 -4 4"/>
<path color="#d90c0c" d="M400 1046l4-4 3 4 -4 4"/>
<path color="#e60e0e" d="M396 1049l4-3 3 4 -5 3"/>
<path color="#ee110f" d="M391 1053l5-4 2 4 -4 4"/>
<path color="#ed170e" d="M387 1056l4-3 3 4 -4 4"/>
<path color="#e91f0b" d="M383 1060l4-4 3 5 -5 4"/>
<path color="#c00505" d="M411 1043l5-4 2 4 -4 4"/>
<path color="#e52709" d="M378 1064l5-4 2 5 -4 4"/>
<path color="#e23007" d="M374 1069l4-5 3 5 -5 4"/>
<path color="#d20909" d="M407 1046l4-3 3 4 -4 4"/>
<path color="#e23b06" d="M370 1073l4-4 2 4 -4 4"/>
<path color="#df0c0c" d="M403 1050l4-4 3 5 -5 3"/>
<path color="#f14c0c" d="M365 1076l5-3 2 4 -4 3"/>
<path color="#e80e0d" d="M398 1053l5-3 2 4 -4 4"/>
<path color="#ec140d" d="M394 1057l4-4 3 5 -5 4"/>
<path color="#ec1e0d" d="M390 1061l4-4 2 5 -4 4"/>
<path color="#fe631b" d="M361 1075l4 1 3 4 -5 2"/>
<path color="#eb270c" d="M385 1065l5-4 2 5 -4 3"/>
<path color="#b30202" d="M418 1043l5-4 2 3 -4 5"/>
<path color="#e8300a" d="M381 1069l4-4 3 4 -5 4"/>
<path color="#c20404" d="M414 1047l4-4 3 4 -5 4"/>
<path color="#e53908" d="M376 1073l5-4 2 4 -4 4"/>
<path color="#d50808" d="M410 1051l4-4 2 4 -4 4"/>
<path color="#e74408" d="M372 1077l4-4 3 4 -4 4"/>
<path color="#e40c0b" d="M405 1054l5-3 2 4 -4 4"/>
<path color="#eb120c" d="M401 1058l4-4 3 5 -5 4"/>
<path color="#f3550e" d="M368 1080l4-3 3 4 -5 3"/>
<path color="#ec1c0d" d="M396 1062l5-4 2 5 -4 3"/>
<path color="#ec260d" d="M392 1066l4-4 3 4 -4 4"/>
<path color="#fe6d1d" d="M363 1082l5-2 2 4 -4 2"/>
<path color="#ec310d" d="M388 1069l4-3 3 4 -5 4"/>
<path color="#a70101" d="M425 1042l4-4 3 3 -4 5"/>
<path color="#eb3a0c" d="M383 1073l5-4 2 5 -4 4"/>
<path color="#fb721c" d="M359 1085l4-3 3 4 -4 3"/>
<path color="#b20101" d="M421 1047l4-5 3 4 -5 4"/>
<path color="#c10202" d="M416 1051l5-4 2 3 -4 5"/>
<path color="#e8420a" d="M379 1077l4-4 3 5 -4 3"/>
<path color="#d50605" d="M412 1055l4-4 3 4 -4 5"/>
<path color="#e7610a" d="M355 1091l4-6 3 4 -5 0"/>
<path color="#e40d09" d="M408 1059l4-4 3 5 -5 3"/>
<path color="#e74b08" d="M375 1081l4-4 3 4 -5 4"/>
<path color="#ea180b" d="M403 1063l5-4 2 4 -4 4"/>
<path color="#ed570a" d="M370 1084l5-3 2 4 -4 3"/>
<path color="#eb230c" d="M399 1066l4-3 3 4 -4 4"/>
<path color="#ec2e0d" d="M395 1070l4-4 3 5 -5 4"/>
<path color="#f96b15" d="M366 1086l4-2 3 4 -4 3"/>
<path color="#ec390d" d="M390 1074l5-4 2 5 -4 4"/>
<path color="#ec420b" d="M386 1078l4-4 3 5 -4 3"/>
<path color="#a20101" d="M432 1041l4-4 3 4 -4 4"/>
<path color="#ff8021" d="M362 1089l4-3 3 5 -5 2"/>
<path color="#ab0202" d="M428 1046l4-5 3 4 -5 4"/>
<path color="#e94909" d="M382 1081l4-3 3 4 -5 4"/>
<path color="#b50101" d="M423 1050l5-4 2 3 -4 5"/>
<path color="#c20101" d="M419 1055l4-5 3 4 -4 5"/>
<path color="#d10503" d="M415 1060l4-5 3 4 -5 5"/>
<path color="#dc0f05" d="M410 1063l5-3 2 4 -4 4"/>
<path color="#f57615" d="M357 1089l5 0 2 4 -4 3"/>
<path color="#e44e06" d="M377 1085l5-4 2 5 -4 2"/>
<path color="#e21c07" d="M406 1067l4-4 3 5 -4 4"/>
<path color="#e62909" d="M402 1071l4-4 3 5 -5 4"/>
<path color="#e25505" d="M373 1088l4-3 3 3 -4 3"/>
<path color="#e06703" d="M353 1101l4-12 3 7 -4-1"/>
<path color="#e9350b" d="M397 1075l5-4 2 5 -4 4"/>
<path color="#e9650b" d="M369 1091l4-3 3 3 -5 6"/>
<path color="#ea400a" d="M393 1079l4-4 3 5 -4 3"/>
<path color="#f7841b" d="M364 1093l5-2 2 6 -4 3"/>
<path color="#e94708" d="M389 1082l4-3 3 4 -5 3"/>
<path color="#990101" d="M439 1041l4-4 3 3 -4 4"/>
<path color="#d66000" d="M349 1095l4 6 3-6 -5-3"/>
<path color="#a40101" d="M435 1045l4-4 3 3 -5 5"/>
<path color="#b00202" d="M430 1049l5-4 2 4 -4 4"/>
<path color="#e54b05" d="M384 1086l5-4 2 4 -4 3"/>
<path color="#bc0202" d="M426 1054l4-5 3 4 -4 5"/>
<path color="#c90202" d="M422 1059l4-5 3 4 -5 5"/>
<path color="#d10602" d="M417 1064l5-5 2 4 -4 4"/>
<path color="#fc8716" d="M360 1096l4-3 3 7 -4 0"/>
<path color="#d51102" d="M413 1068l4-4 3 3 -4 4"/>
<path color="#d81e03" d="M409 1072l4-4 3 3 -5 5"/>
<path color="#e04f03" d="M380 1088l4-2 3 3 -4 2"/>
<path color="#dc2b05" d="M404 1076l5-4 2 4 -4 4"/>
<path color="#e33907" d="M400 1080l4-4 3 4 -5 4"/>
<path color="#d95202" d="M376 1091l4-3 3 3 -5 3"/>
<path color="#e74307" d="M396 1083l4-3 2 4 -4 2"/>
<path color="#d65b02" d="M371 1097l5-6 2 3 -4 4"/>
<path color="#eb6a03" d="M356 1095l4 1 3 4 -5-3"/>
<path color="#e47308" d="M367 1100l4-3 3 1 -5 5"/>
<path color="#950202" d="M446 1040l4-3 3 1 -4 5"/>
<path color="#e54805" d="M391 1086l5-3 2 3 -4 3"/>
<path color="#9d0202" d="M442 1044l4-4 3 3 -5 5"/>
<path color="#a70202" d="M437 1049l5-5 2 4 -4 4"/>
<path color="#b40202" d="M433 1053l4-4 3 3 -4 5"/>
<path color="#c50404" d="M429 1058l4-5 3 4 -5 6"/>
<path color="#d40605" d="M424 1063l5-5 2 5 -4 4"/>
<path color="#e24b03" d="M387 1089l4-3 3 3 -5 2"/>
<path color="#d90c04" d="M420 1067l4-4 3 4 -5 4"/>
<path color="#f47e08" d="M363 1100l4 0 2 3 -4 0"/>
<path color="#d71503" d="M416 1071l4-4 2 4 -4 3"/>
<path color="#d52002" d="M411 1076l5-5 2 3 -4 5"/>
<path color="#d85500" d="M351 1092l5 3 2 2 -4-2"/>
<path color="#d62c02" d="M407 1080l4-4 3 3 -5 4"/>
<path color="#de4f02" d="M383 1091l4-2 2 2 -4 3"/>
<path color="#dd3a04" d="M402 1084l5-4 2 3 -4 4"/>
<path color="#d95301" d="M378 1094l5-3 2 3 -4 3"/>
<path color="#d06100" d="M347 1117l4-25 3 3 -4 0"/>
<path color="#e44404" d="M398 1086l4-2 3 3 -4 2"/>
<path color="#9c0707" d="M453 1038l4 0 3 1 -5 4"/>
<path color="#f67103" d="M358 1097l5 3 2 3 -4-3"/>
<path color="#d25801" d="M374 1098l4-4 3 3 -5 3"/>
<path color="#a30808" d="M449 1043l4-5 2 5 -4 5"/>
<path color="#d10706" d="M431 1063l5-6 2 6 -4 5"/>
<path color="#ab0606" d="M444 1048l5-5 2 5 -4 3"/>
<path color="#e54903" d="M394 1089l4-3 3 3 -5 3"/>
<path color="#d56501" d="M369 1103l5-5 2 2 -4 4"/>
<path color="#bb0303" d="M436 1057l4-5 2 4 -4 7"/>
<path color="#e10f08" d="M427 1067l4-4 3 5 -5 3"/>
<path color="#af0404" d="M440 1052l4-4 3 3 -5 5"/>
<path color="#d86402" d="M343 1093l4 24 3-22 -5 1"/>
<path color="#e31608" d="M422 1071l5-4 2 4 -4 4"/>
<path color="#e11f07" d="M418 1074l4-3 3 4 -4 4"/>
<path color="#e24c02" d="M389 1091l5-2 2 3 -4 2"/>
<path color="#ec810c" d="M365 1103l4 0 3 1 -4 2"/>
<path color="#de2806" d="M414 1079l4-5 3 5 -5 4"/>
<path color="#da3103" d="M409 1083l5-4 2 4 -4 4"/>
<path color="#f16e0e" d="M354 1095l4 2 3 3 -5-1"/>
<path color="#e05202" d="M385 1094l4-3 3 3 -4 3"/>
<path color="#dd3d03" d="M405 1087l4-4 3 4 -4 4"/>
<path color="#ac0f0f" d="M455 1043l5-4 2 5 -4 5"/>
<path color="#e05903" d="M381 1097l4-3 3 3 -5 3"/>
<path color="#e64804" d="M401 1089l4-2 3 4 -5 2"/>
<path color="#b70f0f" d="M451 1048l4-5 3 6 -4 5"/>
<path color="#fda62f" d="M361 1100l4 3 3 3 -5 0"/>
<path color="#dd0e09" d="M434 1068l4-5 3 5 -5 5"/>
<path color="#c00e0e" d="M447 1051l4-3 3 6 -5 3"/>
<path color="#c80505" d="M438 1063l4-7 3 6 -4 6"/>
<path color="#ec1b0d" d="M429 1071l5-3 2 5 -4 2"/>
<path color="#be0808" d="M442 1056l5-5 2 6 -4 5"/>
<path color="#db5e03" d="M376 1100l5-3 2 3 -4 3"/>
<path color="#e67119" d="M350 1095l4 0 2 4 -4 1"/>
<path color="#ea210b" d="M425 1075l4-4 3 4 -4 4"/>
<path color="#ea4e05" d="M396 1092l5-3 2 4 -4 2"/>
<path color="#e92c0b" d="M421 1079l4-4 3 4 -5 6"/>
<path color="#d56201" d="M372 1104l4-4 3 3 -4 2"/>
<path color="#ed3a0d" d="M416 1083l5-4 2 6 -4 2"/>
<path color="#e98a17" d="M368 1106l4-2 3 1 -5 7"/>
<path color="#d7600f" d="M345 1096l5-1 2 5 -4 2"/>
<path color="#e85205" d="M392 1094l4-2 3 3 -4 2"/>
<path color="#d77d0e" d="M341 1132l4-36 3 6 -5 2"/>
<path color="#ffc15f" d="M356 1099l5 1 2 6 -4 1"/>
<path color="#ba1919" d="M462 1044l5-3 2 5 -4 3"/>
<path color="#e93e0a" d="M412 1087l4-4 3 4 -4 3"/>
<path color="#dda42f" d="M336 1097l5 35 2-28 -4 4"/>
<path color="#bc1414" d="M458 1049l4-5 3 5 -4 5"/>
<path color="#ffd763" d="M363 1106l5 0 2 6 -4 1"/>
<path color="#c81313" d="M454 1054l4-5 3 5 -5 5"/>
<path color="#e44405" d="M408 1091l4-4 3 3 -5 4"/>
<path color="#e85906" d="M388 1097l4-3 3 3 -5 3"/>
<path color="#ea1a0e" d="M436 1073l5-5 2 6 -4 3"/>
<path color="#d41414" d="M449 1057l5-3 2 5 -4 3"/>
<path color="#d50a07" d="M441 1068l4-6 3 5 -5 7"/>
<path color="#e8ffbc" d="M345 1173l4-5 3 12 -4 4"/>
<path color="#d10c0c" d="M445 1062l4-5 3 5 -4 5"/>
<path color="#ceff82" d="M349 1168l5-6 2 11 -4 7"/>
<path color="#e0c740" d="M330 1124l5 24 2-25 -4 5"/>
<path color="#f82c16" d="M432 1075l4-2 3 4 -4 3"/>
<path color="#ee6e11" d="M383 1100l5-3 2 3 -4 4"/>
<path color="#ea4e06" d="M403 1093l5-2 2 3 -4 2"/>
<path color="#ffffec" d="M341 1175l4-2 3 11 -5 2"/>
<path color="#ffcc7c" d="M352 1100l4-1 3 8 -4 0"/>
<path color="#d3fd61" d="M354 1162l4-7 3 12 -5 6"/>
<path color="#f8ff79" d="M343 1155l4-5 2 18 -4 5"/>
<path color="#ffffa6" d="M359 1107l4-1 3 7 -4 4"/>
<path color="#f33013" d="M428 1079l4-4 3 5 -5 3"/>
<path color="#ffffaa" d="M338 1161l5-6 2 18 -4 2"/>
<path color="#c9940c" d="M335 1148l4-40 3 12 -5 3"/>
<path color="#c2fece" d="M348 1184l4-4 3 7 -5 5"/>
<path color="#e24343" d="M469 1046l5-3 2 6 -4 3"/>
<path color="#f2ff58" d="M347 1150l4-6 3 18 -5 6"/>
<path color="#9cf687" d="M352 1180l4-7 3 8 -4 6"/>
<path color="#f18823" d="M379 1103l4-3 3 4 -4 1"/>
<path color="#ef3a0f" d="M423 1085l5-6 2 4 -4 7"/>
<path color="#dff94d" d="M358 1155l4-6 3 12 -4 6"/>
<path color="#f1fffe" d="M343 1186l5-2 2 8 -4 3"/>
<path color="#f15709" d="M399 1095l4-2 3 3 -4 2"/>
<path color="#f8c849" d="M366 1113l4-1 3 9 -4 1"/>
<path color="#f8ff4c" d="M351 1144l5-6 2 17 -4 7"/>
<path color="#f74b13" d="M419 1087l4-2 3 5 -4 2"/>
<path color="#fffffa" d="M336 1176l5-1 2 11 -4 1"/>
<path color="#ffffd1" d="M334 1165l4-4 3 14 -5 1"/>
<path color="#e78814" d="M370 1112l5-7 2 1 -4 15"/>
<path color="#9dea62" d="M356 1173l5-6 2 7 -4 7"/>
<path color="#e67e1b" d="M375 1105l4-2 3 2 -5 1"/>
<path color="#fdee75" d="M329 1155l4-27 3 23 -5-6"/>
<path color="#e1f134" d="M362 1149l5-4 2 9 -4 7"/>
<path color="#fff47b" d="M362 1117l4-4 3 9 -5 9"/>
<path color="#ffff49" d="M360 1132l4-1 3 14 -5 4"/>
<path color="#feff4e" d="M356 1138l4-6 2 17 -4 6"/>
<path color="#dc3131" d="M465 1049l4-3 3 6 -4 3"/>
<path color="#fff85d" d="M336 1151l4-14 3 18 -5 6"/>
<path color="#f7be68" d="M348 1102l4-2 3 7 -5 2"/>
<path color="#f9e734" d="M364 1131l5-9 2 14 -4 9"/>
<path color="#ffff9b" d="M331 1145l5 6 2 10 -4 4"/>
<path color="#f0ca27" d="M333 1128l4-5 3 14 -4 14"/>
<path color="#ffffb1" d="M355 1107l4 0 3 10 -5 1"/>
<path color="#d41f1f" d="M461 1054l4-5 3 6 -5 5"/>
<path color="#d57a0e" d="M339 1108l4-4 3 10 -4 6"/>
<path color="#fff23d" d="M340 1137l4-5 3 18 -4 5"/>
<path color="#f25f0c" d="M395 1097l4-2 3 3 -5 3"/>
<path color="#f74f11" d="M415 1090l4-3 3 5 -5 2"/>
<path color="#de1c1c" d="M456 1059l5-5 2 6 -4 4"/>
<path color="#ffff7b" d="M357 1118l5-1 2 14 -4 1"/>
<path color="#aae349" d="M361 1167l4-6 3 6 -5 7"/>
<path color="#ffffff" d="M339 1187l4-1 3 9 -4 2"/>
<path color="#e69632" d="M343 1104l5-2 2 7 -4 5"/>
<path color="#8df8c2" d="M350 1192l5-5 2 8 -4 6"/>
<path color="#1094e6" d="M298 1254l4-11 3 10 -4 6"/>
<path color="#dedb17" d="M367 1145l4-9 3 10 -5 8"/>
<path color="#ebba1a" d="M369 1122l4-1 3 8 -5 7"/>
<path color="#ff7777" d="M476 1049l5-2 2 7 -4 2"/>
<path color="#eb1d1d" d="M452 1062l4-3 3 5 -4 3"/>
<path color="#fffffb" d="M332 1181l4-5 3 11 -4 3"/>
<path color="#df130a" d="M443 1074l5-7 2 6 -4 6"/>
<path color="#f02912" d="M439 1077l4-3 3 5 -4 4"/>
<path color="#fff13a" d="M344 1132l5-6 2 18 -4 6"/>
<path color="#c8fff7" d="M346 1195l4-3 3 9 -4 2"/>
<path color="#eaba1a" d="M337 1123l5-3 2 12 -4 5"/>
<path color="#e51414" d="M448 1067l4-5 3 5 -5 6"/>
<path color="#73e582" d="M355 1187l4-6 3 7 -5 7"/>
<path color="#ffffd4" d="M329 1161l5 4 2 11 -4 5"/>
<path color="#fffe64" d="M353 1120l4-2 3 14 -4 6"/>
<path color="#ef650d" d="M390 1100l5-3 2 4 -4 3"/>
<path color="#b2d72f" d="M365 1161l4-7 3 6 -4 7"/>
<path color="#fff646" d="M349 1126l4-6 3 18 -5 6"/>
<path color="#ed4e09" d="M410 1094l5-4 2 4 -4 3"/>
<path color="#ff3f1f" d="M435 1080l4-3 3 6 -5 2"/>
<path color="#12aae4" d="M302 1243l5-9 2 14 -4 5"/>
<path color="#fffe96" d="M350 1109l5-2 2 11 -4 2"/>
<path color="#ffffb2" d="M327 1147l4-2 3 20 -5-4"/>
<path color="#eb9d16" d="M373 1121l4-15 3 15 -4 8"/>
<path color="#f17a17" d="M386 1104l4-4 3 4 -4 6"/>
<path color="#ffffff" d="M335 1190l4-3 3 10 -5 2"/>
<path color="#e0c40e" d="M371 1136l5-7 2 8 -4 9"/>
<path color="#f6c02a" d="M342 1120l4-6 3 12 -5 6"/>
<path color="#ff6b6b" d="M472 1052l4-3 3 7 -4 2"/>
<path color="#eeffff" d="M342 1197l4-2 3 8 -5 3"/>
<path color="#7ad562" d="M359 1181l4-7 3 7 -4 7"/>
<path color="#fba533" d="M382 1105l4-1 3 6 -5 7"/>
<path color="#0cc1c7" d="M304 1227l5-12 2 12 -4 7"/>
<path color="#fc461d" d="M430 1083l5-3 2 5 -4 7"/>
<path color="#ffe058" d="M346 1114l4-5 3 11 -4 6"/>
<path color="#faaa31" d="M377 1106l5-1 2 12 -4 4"/>
<path color="#ed5508" d="M406 1096l4-2 3 3 -4 3"/>
<path color="#fffff8" d="M328 1180l4 1 3 9 -5 2"/>
<path color="#ff8585" d="M483 1054l5-3 2 6 -4 3"/>
<path color="#f74b14" d="M426 1090l4-7 3 9 -4 2"/>
<path color="#becd14" d="M369 1154l5-8 2 6 -4 8"/>
<path color="#f94c4c" d="M468 1055l4-3 3 6 -5 4"/>
<path color="#f2c31b" d="M376 1129l4-8 2 14 -4 2"/>
<path color="#11bfe4" d="M307 1234l4-7 3 14 -5 7"/>
<path color="#ffffcd" d="M325 1162l4-1 3 20 -4-1"/>
<path color="#5cecb7" d="M353 1201l4-6 3 7 -5 7"/>
<path color="#89fdeb" d="M349 1203l4-2 2 8 -4 3"/>
<path color="#8ace49" d="M363 1174l5-7 2 7 -4 7"/>
<path color="#f3ffff" d="M337 1199l5-2 2 9 -4 3"/>
<path color="#ffffff" d="M330 1192l5-2 2 9 -4 3"/>
<path color="#fdff92" d="M323 1157l4-10 2 14 -4 1"/>
<path color="#f13333" d="M463 1060l5-5 2 7 -4 5"/>
<path color="#1c9ff9" d="M305 1253l4-5 3 11 -4 4"/>
<path color="#f4bc21" d="M380 1121l4-4 3 11 -5 7"/>
<path color="#f85311" d="M422 1092l4-2 3 4 -5 2"/>
<path color="#f52a2a" d="M459 1064l4-4 3 7 -4 3"/>
<path color="#1aa9f0" d="M309 1248l5-7 2 11 -4 7"/>
<path color="#f35f0d" d="M402 1098l4-2 3 4 -5 3"/>
<path color="#b9ffff" d="M344 1206l5-3 2 9 -4 4"/>
<path color="#56d687" d="M357 1195l5-7 2 8 -4 6"/>
<path color="#ff7a7a" d="M479 1056l4-2 3 6 -4 2"/>
<path color="#1089f0" d="M301 1259l4-6 3 10 -5 1"/>
<path color="#fc2c28" d="M455 1067l4-3 3 6 -5 7"/>
<path color="#ff8686" d="M490 1057l5-1 2 6 -4 2"/>
<path color="#1fd2be" d="M309 1215l4-8 3 13 -5 7"/>
<path color="#d5cb0b" d="M374 1146l4-9 3 7 -5 8"/>
<path color="#fffffa" d="M323 1183l5-3 2 12 -4 1"/>
<path color="#f1feba" d="M321 1167l4-5 3 18 -5 3"/>
<path color="#e39614" d="M384 1117l5-7 2 9 -4 9"/>
<path color="#bcf191" d="M316 1180l5-13 2 16 -4 1"/>
<path color="#98c933" d="M368 1167l4-7 3 7 -5 7"/>
<path color="#f8281f" d="M450 1073l5-6 2 10 -4 2"/>
<path color="#f5ffff" d="M333 1202l4-3 3 10 -5 3"/>
<path color="#4dd28d" d="M310 1201l5-11 2 9 -4 8"/>
<path color="#11cbdb" d="M311 1227l5-7 2 13 -4 8"/>
<path color="#eb220f" d="M446 1079l4-6 3 6 -5 5"/>
<path color="#ccffff" d="M340 1209l4-3 3 10 -5 4"/>
<path color="#f46910" d="M397 1101l5-3 2 5 -4 3"/>
<path color="#ec300f" d="M442 1083l4-4 2 5 -4 5"/>
<path color="#f95710" d="M417 1094l5-2 2 4 -4 3"/>
<path color="#e5cc11" d="M378 1137l4-2 3 7 -4 2"/>
<path color="#63cb6b" d="M362 1188l4-7 3 7 -5 8"/>
<path color="#ffffff" d="M326 1193l4-1 3 10 -4 1"/>
<path color="#0cacdb" d="M314 1241l4-8 3 8 -5 11"/>
<path color="#ff6464" d="M475 1058l4-2 3 6 -5 3"/>
<path color="#de760b" d="M389 1110l4-6 2 7 -4 8"/>
<path color="#fa471a" d="M437 1085l5-2 2 6 -4 4"/>
<path color="#e96d0e" d="M393 1104l4-3 3 5 -5 5"/>
<path color="#ff6b6b" d="M497 1062l4-1 3 6 -4 2"/>
<path color="#e5ffe6" d="M319 1184l4-1 3 10 -4 1"/>
<path color="#3fe9d5" d="M351 1212l4-3 3 6 -4 7"/>
<path color="#d8b20b" d="M382 1135l5-7 2 4 -4 10"/>
<path color="#61f8f6" d="M347 1216l4-4 3 10 -5 5"/>
<path color="#0771c9" d="M296 1255l5 4 2 5 -4 0"/>
<path color="#97efac" d="M315 1190l4-6 3 10 -5 5"/>
<path color="#ff9c9c" d="M486 1060l4-3 3 7 -5 3"/>
<path color="#ff4c4c" d="M470 1062l5-4 2 7 -4 6"/>
<path color="#acc71c" d="M372 1160l4-8 3 6 -4 9"/>
<path color="#dcffff" d="M335 1212l5-3 2 11 -4 2"/>
<path color="#fd521a" d="M433 1092l4-7 3 8 -5 2"/>
<path color="#3de3b6" d="M313 1207l4-8 3 12 -4 9"/>
<path color="#f1560b" d="M413 1097l4-3 3 5 -5 2"/>
<path color="#36d6a9" d="M355 1209l5-7 2 6 -4 7"/>
<path color="#1591ef" d="M312 1259l4-7 3 10 -4 0"/>
<path color="#ff4847" d="M466 1067l4-5 3 9 -5 4"/>
<path color="#f8ffff" d="M329 1203l4-1 2 10 -4 1"/>
<path color="#96ffff" d="M342 1220l5-4 2 11 -4 3"/>
<path color="#76c753" d="M366 1181l4-7 3 6 -4 8"/>
<path color="#0f96e2" d="M316 1252l5-11 2 14 -4 7"/>
<path color="#1ed9cf" d="M316 1220l4-9 2 12 -4 10"/>
<path color="#e3ffff" d="M322 1194l4-1 3 10 -5 1"/>
<path color="#ff4945" d="M462 1070l4-3 2 8 -4 2"/>
<path color="#f75210" d="M429 1094l4-2 2 3 -4 2"/>
<path color="#3fc88b" d="M360 1202l4-6 3 6 -5 6"/>
<path color="#c78b03" d="M387 1128l4-9 3 5 -5 8"/>
<path color="#ff6a6a" d="M504 1067l4-1 3 6 -4 2"/>
<path color="#8cf7da" d="M317 1199l5-5 2 10 -4 7"/>
<path color="#ff8282" d="M482 1062l4-2 2 7 -4 2"/>
<path color="#0bc1d2" d="M318 1233l4-10 3 9 -4 9"/>
<path color="#c6cb0c" d="M376 1152l5-8 2 7 -4 7"/>
<path color="#ec5a09" d="M409 1100l4-3 2 4 -4 3"/>
<path color="#ff9a9a" d="M493 1064l4-2 3 7 -5 3"/>
<path color="#ff4338" d="M457 1077l5-7 2 7 -4 4"/>
<path color="#c2ffff" d="M338 1222l4-2 3 10 -4 1"/>
<path color="#0c73cc" d="M308 1263l4-4 3 3 -5-2"/>
<path color="#e3ffff" d="M331 1213l4-1 3 10 -4 1"/>
<path color="#88c43d" d="M370 1174l5-7 2 6 -4 7"/>
<path color="#c4ffff" d="M324 1204l5-1 2 10 -4 1"/>
<path color="#ff3e28" d="M453 1079l4-2 3 4 -5 4"/>
<path color="#5df1e5" d="M320 1211l4-7 3 10 -5 9"/>
<path color="#cdc405" d="M381 1144l4-2 3 6 -5 3"/>
<path color="#07a2d1" d="M321 1241l4-9 3 14 -5 9"/>
<path color="#f3520b" d="M424 1096l5-2 2 3 -4 3"/>
<path color="#0157a0" d="M292 1263l4-8 3 9 -4-2"/>
<path color="#ff5555" d="M477 1065l5-3 2 7 -4 3"/>
<path color="#eb620a" d="M404 1103l5-3 2 4 -4 3"/>
<path color="#51c272" d="M364 1196l5-8 2 6 -4 8"/>
<path color="#ce7804" d="M391 1119l4-8 3 7 -4 6"/>
<path color="#f13214" d="M448 1084l5-5 2 6 -4 3"/>
<path color="#19d9da" d="M349 1227l5-5 2 3 -4 7"/>
<path color="#ff3c38" d="M473 1071l4-6 3 7 -5 7"/>
<path color="#ffa5a5" d="M488 1067l5-3 2 8 -4 2"/>
<path color="#ff8a89" d="M500 1069l4-2 3 7 -5 2"/>
<path color="#49f0f4" d="M345 1230l4-3 3 5 -4 4"/>
<path color="#e33308" d="M444 1089l4-5 3 4 -4 6"/>
<path color="#e76a0b" d="M400 1106l4-3 3 4 -5 5"/>
<path color="#ff554b" d="M468 1075l5-4 2 8 -4 2"/>
<path color="#dc7108" d="M395 1111l5-5 2 6 -4 6"/>
<path color="#ff726e" d="M511 1072l4-3 3 7 -4 3"/>
<path color="#36e7e9" d="M322 1223l5-9 2 10 -4 8"/>
<path color="#9fffff" d="M327 1214l4-1 3 10 -5 1"/>
<path color="#13c8b9" d="M354 1222l4-7 3 3 -5 7"/>
<path color="#cbffff" d="M334 1223l4-1 3 9 -5 1"/>
<path color="#9dc327" d="M375 1167l4-9 3 6 -5 9"/>
<path color="#c0a401" d="M385 1142l4-10 3 3 -4 13"/>
<path color="#0b7fe0" d="M319 1262l4-7 3 9 -4-1"/>
<path color="#e9420b" d="M440 1093l4-4 3 5 -5 2"/>
<path color="#f15509" d="M420 1099l4-3 3 4 -5 2"/>
<path color="#0257a4" d="M303 1264l5-1 2-3 -4 0"/>
<path color="#ff6e5d" d="M464 1077l4-2 3 6 -4 3"/>
<path color="#65c05c" d="M369 1188l4-8 2 6 -4 8"/>
<path color="#0485cf" d="M323 1255l5-9 2 5 -4 13"/>
<path color="#88ffff" d="M341 1231l4-1 3 6 -5 1"/>
<path color="#ff9796" d="M484 1069l4-2 3 7 -4 2"/>
<path color="#22be9c" d="M358 1215l4-7 3 4 -4 6"/>
<path color="#1bd0e4" d="M325 1232l4-8 3 9 -4 13"/>
<path color="#ff9591" d="M495 1072l5-3 2 7 -4 3"/>
<path color="#f04b0b" d="M435 1095l5-2 2 3 -4 2"/>
<path color="#ff8079" d="M507 1074l4-2 3 7 -5 2"/>
<path color="#b2c414" d="M379 1158l4-7 3 8 -4 5"/>
<path color="#ff684f" d="M460 1081l4-4 3 7 -5 4"/>
<path color="#7bf8fc" d="M329 1224l5-1 2 9 -4 1"/>
<path color="#ed5808" d="M415 1101l5-2 2 3 -4 2"/>
<path color="#bf8a01" d="M389 1132l5-8 2 6 -4 5"/>
<path color="#ff5e54" d="M518 1076l4-3 3 6 -4 3"/>
<path color="#086fc5" d="M315 1262l4 0 3 1 -5-3"/>
<path color="#33ba88" d="M362 1208l5-6 2 3 -4 7"/>
<path color="#ff6562" d="M480 1072l4-3 3 7 -5 3"/>
<path color="#78be47" d="M373 1180l4-7 3 5 -5 8"/>
<path color="#ffa097" d="M491 1074l4-2 3 7 -4 3"/>
<path color="#ff5b38" d="M455 1085l5-4 2 7 -4 3"/>
<path color="#9cffff" d="M336 1232l5-1 2 6 -4 1"/>
<path color="#ed4c07" d="M431 1097l4-2 3 3 -4 3"/>
<path color="#ff3d31" d="M475 1079l5-7 2 7 -4 5"/>
<path color="#b8ba06" d="M383 1151l5-3 2 2 -4 9"/>
<path color="#0bb0d8" d="M328 1246l4-13 3 9 -5 9"/>
<path color="#e75c06" d="M411 1104l4-3 3 3 -4 4"/>
<path color="#ff8e83" d="M502 1076l5-2 2 7 -4 2"/>
<path color="#c98002" d="M394 1124l4-6 3 5 -5 7"/>
<path color="#ff563c" d="M471 1081l4-2 3 5 -4 5"/>
<path color="#004682" d="M299 1264l4 0 3-4 -4 0"/>
<path color="#45b873" d="M367 1202l4-8 3 3 -5 8"/>
<path color="#ff7464" d="M514 1079l4-3 3 6 -5 2"/>
<path color="#f5441b" d="M451 1088l4-3 3 6 -4 1"/>
<path color="#cf7403" d="M398 1118l4-6 3 5 -4 6"/>
<path color="#54e8f4" d="M332 1233l4-1 3 6 -4 4"/>
<path color="#ff3825" d="M525 1079l4 0 3 3 -5 3"/>
<path color="#de6005" d="M407 1107l4-3 3 4 -5 3"/>
<path color="#ffab9e" d="M487 1076l4-2 3 8 -5 2"/>
<path color="#ff7e5b" d="M467 1084l4-3 3 8 -5 2"/>
<path color="#8bbb31" d="M377 1173l5-9 2 6 -4 8"/>
<path color="#0cc3d2" d="M348 1236l4-4 3 3 -5 6"/>
<path color="#eb4f05" d="M427 1100l4-3 3 4 -5 2"/>
<path color="#d56704" d="M402 1112l5-5 2 4 -4 6"/>
<path color="#02b2b7" d="M352 1232l4-7 3 4 -4 6"/>
<path color="#ff8c7b" d="M498 1079l4-3 3 7 -4 2"/>
<path color="#b7a200" d="M388 1148l4-13 3 6 -5 9"/>
<path color="#e03405" d="M447 1094l4-6 3 4 -5 3"/>
<path color="#0276cb" d="M326 1264l4-13 3 10 -5 4"/>
<path color="#2fdcee" d="M343 1237l5-1 2 5 -4 2"/>
<path color="#59b860" d="M371 1194l4-8 3 4 -4 7"/>
<path color="#ff7661" d="M509 1081l5-2 2 5 -4 2"/>
<path color="#ff8358" d="M462 1088l5-4 2 7 -4 3"/>
<path color="#0baea3" d="M356 1225l5-7 2 4 -4 7"/>
<path color="#004c84" d="M310 1260l5 2 2-2 -4-3"/>
<path color="#ff8979" d="M482 1079l5-3 2 8 -4 2"/>
<path color="#d83a02" d="M442 1096l5-2 2 1 -4 4"/>
<path color="#eb5406" d="M422 1102l5-2 2 3 -4 2"/>
<path color="#ff9379" d="M494 1082l4-3 3 6 -5 3"/>
<path color="#0696d2" d="M330 1251l5-9 2 9 -4 10"/>
<path color="#9bb61b" d="M382 1164l4-5 2 2 -4 9"/>
<path color="#0163b6" d="M322 1263l4 1 2 1 -4-4"/>
<path color="#48e6fc" d="M339 1238l4-1 3 6 -4 4"/>
<path color="#ff5b44" d="M521 1082l4-3 2 6 -4 2"/>
<path color="#ff573e" d="M478 1084l4-5 3 7 -4 4"/>
<path color="#bc9000" d="M392 1135l4-5 3 5 -4 6"/>
<path color="#1caa8f" d="M361 1218l4-6 3 3 -5 7"/>
<path color="#6bb74c" d="M375 1186l5-8 2 5 -4 7"/>
<path color="#29caee" d="M335 1242l4-4 3 9 -5 4"/>
<path color="#ff6d3b" d="M458 1091l4-3 3 6 -4 1"/>
<path color="#ff8368" d="M505 1083l4-2 3 5 -4 3"/>
<path color="#de4202" d="M438 1098l4-2 3 3 -4 3"/>
<path color="#ff542d" d="M474 1089l4-5 3 6 -5 4"/>
<path color="#003b66" d="M295 1262l4 2 3-4 -5-4"/>
<path color="#e85906" d="M418 1104l4-2 3 3 -4 3"/>
<path color="#ffa786" d="M489 1084l5-2 2 6 -4 3"/>
<path color="#c18501" d="M396 1130l5-7 2 6 -4 6"/>
<path color="#2ba97d" d="M365 1212l4-7 3 3 -4 7"/>
<path color="#ff6f3c" d="M469 1091l5-2 2 5 -4 4"/>
<path color="#ff5f43" d="M516 1084l5-2 2 5 -4 2"/>
<path color="#a6ac08" d="M386 1159l4-9 3 4 -5 7"/>
<path color="#ff8766" d="M501 1085l4-2 3 6 -5 2"/>
<path color="#e44903" d="M434 1101l4-3 3 4 -5 2"/>
<path color="#e25d04" d="M414 1108l4-4 3 4 -5 3"/>
<path color="#c27401" d="M401 1123l4-6 3 5 -5 7"/>
<path color="#fb4d1a" d="M454 1092l4-1 3 4 -5 1"/>
<path color="#7bb036" d="M380 1178l4-8 3 4 -5 9"/>
<path color="#ff3c20" d="M527 1085l5-3 2 5 -4 2"/>
<path color="#ffa17d" d="M485 1086l4-2 3 7 -4 2"/>
<path color="#004166" d="M306 1260l4 0 3-3 -4-1"/>
<path color="#3ca96d" d="M369 1205l5-8 2 4 -4 7"/>
<path color="#d55f02" d="M409 1111l5-3 2 3 -4 3"/>
<path color="#c76501" d="M405 1117l4-6 3 3 -4 8"/>
<path color="#ff7037" d="M465 1094l4-3 3 7 -4 0"/>
<path color="#ff6040" d="M512 1086l4-2 3 5 -5 2"/>
<path color="#ff8660" d="M496 1088l5-3 2 6 -4 2"/>
<path color="#004d82" d="M317 1260l5 3 2-2 -4-3"/>
<path color="#e64f04" d="M429 1103l5-2 2 3 -4 2"/>
<path color="#ae9f00" d="M390 1150l5-9 2 5 -4 8"/>
<path color="#ff7b50" d="M481 1090l4-4 3 7 -5 4"/>
<path color="#04a3c3" d="M346 1243l4-2 3 0 -5 7"/>
<path color="#0cadda" d="M342 1247l4-4 2 5 -4 5"/>
<path color="#0280c8" d="M333 1261l4-10 3 6 -5 5"/>
<path color="#e93706" d="M449 1095l5-3 2 4 -4 0"/>
<path color="#0a9fd9" d="M337 1251l5-4 2 6 -4 4"/>
<path color="#009bab" d="M350 1241l5-6 2-1 -4 7"/>
<path color="#4eaa5d" d="M374 1197l4-7 3 4 -5 7"/>
<path color="#ff4f2e" d="M523 1087l4-2 3 4 -4 2"/>
<path color="#ff6d45" d="M508 1089l4-3 2 5 -4 4"/>
<path color="#ff9465" d="M492 1091l4-3 3 5 -5 3"/>
<path color="#ff5d28" d="M476 1094l5-4 2 7 -4 2"/>
<path color="#0062ab" d="M328 1265l5-4 2 1 -4-1"/>
<path color="#8ca81c" d="M384 1170l4-9 3 2 -4 11"/>
<path color="#e65504" d="M425 1105l4-2 3 3 -4 3"/>
<path color="#029a9b" d="M355 1235l4-6 3-1 -5 6"/>
<path color="#fd591e" d="M461 1095l4-1 3 4 -5 1"/>
<path color="#b39100" d="M395 1141l4-6 3 3 -5 8"/>
<path color="#f93414" d="M534 1087l5-2 2 5 -4 2"/>
<path color="#d43500" d="M445 1099l4-4 3 1 -4 4"/>
<path color="#5eaa4c" d="M378 1190l4-7 3 4 -4 7"/>
<path color="#ff7b4c" d="M503 1091l5-2 2 6 -4 2"/>
<path color="#004666" d="M290 1251l5 11 2-6 -4-4"/>
<path color="#ff4e29" d="M519 1089l4-2 3 4 -5 2"/>
<path color="#fc5518" d="M472 1098l4-4 3 5 -4 1"/>
<path color="#ffa36d" d="M488 1093l4-2 2 5 -4 3"/>
<path color="#004366" d="M302 1260l4 0 3-4 -5-1"/>
<path color="#0d988b" d="M359 1229l4-7 3-2 -4 8"/>
<path color="#e45b04" d="M421 1108l4-3 3 4 -5 3"/>
<path color="#b48100" d="M399 1135l4-6 3 2 -4 7"/>
<path color="#d13e00" d="M441 1102l4-3 3 1 -5 4"/>
<path color="#ff804c" d="M499 1093l4-2 3 6 -5 3"/>
<path color="#ff4521" d="M530 1089l4-2 3 5 -4 2"/>
<path color="#fb470d" d="M456 1096l5-1 2 4 -4 1"/>
<path color="#de5f03" d="M416 1111l5-3 2 4 -4 3"/>
<path color="#004b7e" d="M324 1261l4 4 3-4 -4-2"/>
<path color="#b67000" d="M403 1129l5-7 2 1 -4 8"/>
<path color="#9c9f07" d="M388 1161l5-7 2-3 -4 12"/>
<path color="#ff5026" d="M514 1091l5-2 2 4 -4 3"/>
<path color="#ff8f53" d="M483 1097l5-4 2 6 -4 1"/>
<path color="#1c977a" d="M363 1222l5-7 2-2 -4 7"/>
<path color="#d74601" d="M436 1104l5-2 2 2 -4 3"/>
<path color="#6ea436" d="M382 1183l5-9 2 3 -4 10"/>
<path color="#004466" d="M313 1257l4 3 3-2 -5-3"/>
<path color="#f74c0e" d="M468 1098l4 0 3 2 -5 1"/>
<path color="#ff572e" d="M541 1090l5-1 2 5 -4 1"/>
<path color="#d26101" d="M412 1114l4-3 3 4 -4 3"/>
<path color="#c16400" d="M408 1122l4-8 3 4 -5 5"/>
<path color="#ff864a" d="M494 1096l5-3 2 7 -4 3"/>
<path color="#ff5826" d="M510 1095l4-4 3 5 -4 3"/>
<path color="#2a966c" d="M368 1215l4-7 3-2 -5 7"/>
<path color="#dc4e01" d="M432 1106l4-2 3 3 -4 3"/>
<path color="#ff4d25" d="M526 1091l4-2 3 5 -5 2"/>
<path color="#ff6324" d="M479 1099l4-2 3 3 -5 1"/>
<path color="#a49500" d="M393 1154l4-8 3 0 -5 5"/>
<path color="#f03c05" d="M452 1096l4 0 3 4 -4 0"/>
<path color="#0071a2" d="M340 1257l4-4 3 1 -5 5"/>
<path color="#0080a8" d="M344 1253l4-5 3 0 -4 6"/>
<path color="#ff924d" d="M490 1099l4-3 3 7 -4 2"/>
<path color="#ff642b" d="M506 1097l4-2 3 4 -5 3"/>
<path color="#39965d" d="M372 1208l4-7 3-2 -4 7"/>
<path color="#ff501c" d="M548 1094l5-1 2 5 -4 0"/>
<path color="#ff4c22" d="M537 1092l4-2 3 5 -4 1"/>
<path color="#f44306" d="M463 1099l5-1 2 3 -4 1"/>
<path color="#004766" d="M297 1256l5 4 2-5 -4-3"/>
<path color="#dd5402" d="M428 1109l4-3 3 4 -5 2"/>
<path color="#00849d" d="M348 1248l5-7 2-1 -4 8"/>
<path color="#829e1c" d="M387 1174l4-11 3 3 -5 11"/>
<path color="#ff4b1f" d="M521 1093l5-2 2 5 -4 2"/>
<path color="#005e92" d="M335 1262l5-5 2 2 -4 0"/>
<path color="#a68700" d="M397 1146l5-8 2 2 -4 6"/>
<path color="#489750" d="M376 1201l5-7 2-2 -4 7"/>
<path color="#f84809" d="M475 1100l4-1 2 2 -4 1"/>
<path color="#ff6c2c" d="M501 1100l5-3 2 5 -4 3"/>
<path color="#dc3701" d="M448 1100l4-4 3 4 -5 1"/>
<path color="#da5901" d="M423 1112l5-3 2 3 -4 2"/>
<path color="#004566" d="M320 1258l4 3 3-2 -5-3"/>
<path color="#ff8037" d="M486 1100l4-1 3 6 -5 1"/>
<path color="#028c92" d="M353 1241l4-7 3-2 -5 8"/>
<path color="#004a66" d="M309 1256l4 1 2-2 -4-3"/>
<path color="#ff4d1f" d="M533 1094l4-2 3 4 -5 2"/>
<path color="#005266" d="M286 1245l4 6 3 1 -4-4"/>
<path color="#fd470a" d="M555 1098l5 0 2 4 -4 0"/>
<path color="#fe4a19" d="M517 1096l4-3 3 5 -4 2"/>
<path color="#569842" d="M381 1194l4-7 3 0 -5 5"/>
<path color="#a97800" d="M402 1138l4-7 2 1 -4 8"/>
<path color="#f14004" d="M459 1100l4-1 3 3 -5 1"/>
<path color="#ff5a27" d="M544 1095l4-1 3 4 -4 1"/>
<path color="#ce3900" d="M443 1104l5-4 2 1 -4 4"/>
<path color="#ff6f28" d="M497 1103l4-3 3 5 -4 2"/>
<path color="#d55e01" d="M419 1115l4-3 3 2 -4 4"/>
<path color="#004f7a" d="M331 1261l4 1 3-3 -4-1"/>
<path color="#0a8f86" d="M357 1234l5-6 2-5 -4 9"/>
<path color="#fd4d15" d="M513 1099l4-3 3 4 -5 3"/>
<path color="#b16b00" d="M406 1131l4-8 3 2 -5 7"/>
<path color="#ee3f02" d="M470 1101l5-1 2 2 -4 1"/>
<path color="#cd6201" d="M415 1118l4-3 3 3 -5 4"/>
<path color="#969807" d="M391 1163l4-12 3 4 -4 11"/>
<path color="#ff4e1c" d="M528 1096l5-2 2 4 -4 2"/>
<path color="#cc4100" d="M439 1107l4-3 3 1 -5 3"/>
<path color="#ff5409" d="M562 1102l5 1 2 4 -4-1"/>
<path color="#c06500" d="M410 1123l5-5 2 4 -4 3"/>
<path color="#fc5a14" d="M481 1101l5-1 2 6 -4 0"/>
<path color="#679730" d="M385 1187l4-10 3 0 -4 10"/>
<path color="#fc6e20" d="M493 1105l4-2 3 4 -5 2"/>
<path color="#fc6104" d="M569 1107l4 3 3 4 -4-3"/>
<path color="#198f76" d="M362 1228l4-8 2-6 -4 9"/>
<path color="#fd5415" d="M508 1102l5-3 2 4 -4 3"/>
<path color="#f77602" d="M576 1114l4 4 3 3 -4-2"/>
<path color="#ff5623" d="M540 1096l4-1 3 4 -5 1"/>
<path color="#ee8801" d="M583 1121l4 7 3 0 -4-3"/>
<path color="#ff4f14" d="M551 1098l4 0 3 4 -4 0"/>
<path color="#ed3e02" d="M455 1100l4 0 2 3 -4 1"/>
<path color="#ce4800" d="M435 1110l4-3 2 1 -4 3"/>
<path color="#004f66" d="M293 1252l4 4 3-4 -5-4"/>
<path color="#fe4c17" d="M524 1098l4-2 3 4 -4 2"/>
<path color="#ef9c01" d="M590 1128l4 10 3-5 -4-5"/>
<path color="#e93d01" d="M466 1102l4-1 3 2 -5 1"/>
<path color="#004e66" d="M304 1255l5 1 2-4 -4-2"/>
<path color="#fb5813" d="M504 1105l4-3 3 4 -4 2"/>
<path color="#9d8b00" d="M395 1151l5-5 2 1 -4 8"/>
<path color="#f9b204" d="M597 1133l4-2 3 12 -4-3"/>
<path color="#cefe63" d="M627 1175l5 3 2 8 -4-2"/>
<path color="#2b9166" d="M366 1220l4-7 3-7 -5 8"/>
<path color="#d14f00" d="M430 1112l5-2 2 1 -4 2"/>
<path color="#004766" d="M327 1259l4 2 3-3 -5-1"/>
<path color="#004b66" d="M315 1255l5 3 2-2 -4-3"/>
<path color="#f76011" d="M488 1106l5-1 2 4 -4 0"/>
<path color="#f44604" d="M477 1102l4-1 3 5 -4 0"/>
<path color="#ff511c" d="M535 1098l5-2 2 4 -4 2"/>
<path color="#f94910" d="M520 1100l4-2 3 4 -5 3"/>
<path color="#ff5510" d="M558 1102l4 0 3 4 -5 0"/>
<path color="#7f9718" d="M389 1177l5-11 2 0 -4 11"/>
<path color="#e13a01" d="M450 1101l5-1 2 4 -4 0"/>
<path color="#ff591f" d="M547 1099l4-1 3 4 -5 1"/>
<path color="#d8fa26" d="M620 1166l5 2 2 7 -4-4"/>
<path color="#b1f568" d="M634 1186l5-4 2 4 -4 3"/>
<path color="#f7580d" d="M500 1107l4-2 3 3 -5 2"/>
<path color="#d05400" d="M426 1114l4-2 3 1 -5 3"/>
<path color="#ecf60c" d="M613 1159l5 2 2 5 -4-3"/>
<path color="#3d9558" d="M370 1213l5-7 2-9 -4 9"/>
<path color="#9e7a00" d="M400 1146l4-6 3-3 -5 10"/>
<path color="#fbec04" d="M606 1150l5 4 2 5 -4-2"/>
<path color="#007187" d="M347 1254l4-6 3-6 -5 6"/>
<path color="#f44b0c" d="M515 1103l5-3 2 5 -4 3"/>
<path color="#005872" d="M342 1259l5-5 2-6 -4 4"/>
<path color="#e63c01" d="M461 1103l5-1 2 2 -4 1"/>
<path color="#ff5f0c" d="M565 1106l4 1 3 4 -5 0"/>
<path color="#ff4e16" d="M531 1100l4-2 3 4 -4 2"/>
<path color="#fb6d05" d="M572 1111l4 3 3 5 -5-1"/>
<path color="#ca5700" d="M422 1118l4-4 2 2 -4 2"/>
<path color="#4c964a" d="M375 1206l4-7 2-8 -4 6"/>
<path color="#d13800" d="M446 1105l4-4 3 3 -5 2"/>
<path color="#02838d" d="M351 1248l4-8 3-5 -4 7"/>
<path color="#a67000" d="M404 1140l4-8 3 1 -4 4"/>
<path color="#eb4001" d="M473 1103l4-1 3 4 -5 0"/>
<path color="#f14e04" d="M484 1106l4 0 3 3 -4-1"/>
<path color="#f57c03" d="M579 1119l4 2 3 4 -5-2"/>
<path color="#fccc05" d="M600 1140l4 3 2 7 -4-3"/>
<path color="#f05505" d="M495 1109l5-2 2 3 -4 1"/>
<path color="#ff5f24" d="M542 1100l5-1 2 4 -4 2"/>
<path color="#f4510b" d="M511 1106l4-3 3 5 -4 2"/>
<path color="#c35d00" d="M417 1122l5-4 2 0 -4 5"/>
<path color="#d2fe8e" d="M630 1184l4 2 3 3 -5 3"/>
<path color="#ff5e1c" d="M554 1102l4 0 2 4 -4 1"/>
<path color="#b26b00" d="M408 1132l5-7 2 4 -4 4"/>
<path color="#58963e" d="M379 1199l4-7 3-5 -5 4"/>
<path color="#bc6400" d="M413 1125l4-3 3 1 -5 6"/>
<path color="#004d66" d="M338 1259l4 0 3-7 -4 0"/>
<path color="#f18d05" d="M586 1125l4 3 3 0 -5 1"/>
<path color="#949606" d="M394 1166l4-11 3 3 -5 8"/>
<path color="#088c87" d="M355 1240l5-8 2-3 -4 6"/>
<path color="#c73b00" d="M441 1108l5-3 2 1 -4 3"/>
<path color="#fd4b11" d="M527 1102l4-2 3 4 -5 2"/>
<path color="#005366" d="M300 1252l4 3 3-5 -5-3"/>
<path color="#cefd42" d="M623 1171l4 4 3 9 -4-4"/>
<path color="#f7a404" d="M593 1128l4 5 3 7 -5-4"/>
<path color="#619433" d="M383 1192l5-5 2-5 -4 5"/>
<path color="#004c66" d="M322 1256l5 3 2-2 -4-4"/>
<path color="#e33b00" d="M457 1104l4-1 3 2 -4 0"/>
<path color="#005866" d="M289 1248l4 4 2-4 -4-6"/>
<path color="#f55409" d="M507 1108l4-2 3 4 -5 2"/>
<path color="#005266" d="M311 1252l4 3 3-2 -4-5"/>
<path color="#149480" d="M360 1232l4-9 3 1 -5 5"/>
<path color="#ff691a" d="M560 1106l5 0 2 5 -4 0"/>
<path color="#c54100" d="M437 1111l4-3 3 1 -4 3"/>
<path color="#ff5e22" d="M538 1102l4-2 3 5 -5 1"/>
<path color="#8fd344" d="M641 1186l4-4 3 4 -4 2"/>
<path color="#e43c00" d="M468 1104l5-1 2 3 -4 0"/>
<path color="#e7f916" d="M616 1163l4 3 3 5 -4-3"/>
<path color="#6f9425" d="M388 1187l4-10 3-2 -5 7"/>
<path color="#f4480a" d="M522 1105l5-3 2 4 -4 2"/>
<path color="#f7f404" d="M609 1157l4 2 3 4 -4-2"/>
<path color="#ff6a27" d="M549 1103l5-1 2 5 -4 1"/>
<path color="#e84d01" d="M491 1109l4 0 3 2 -4-1"/>
<path color="#ea4501" d="M480 1106l4 0 3 2 -5 0"/>
<path color="#fadd04" d="M602 1147l4 3 3 7 -4-3"/>
<path color="#ff6f0f" d="M567 1111l5 0 2 7 -4-2"/>
<path color="#259a75" d="M364 1223l4-9 3 3 -4 7"/>
<path color="#91e054" d="M637 1189l4-3 3 2 -5 4"/>
<path color="#c84800" d="M433 1113l4-2 3 1 -5 3"/>
<path color="#9c8600" d="M398 1155l4-8 3-3 -4 14"/>
<path color="#d8ff84" d="M626 1180l4 4 2 8 -4-1"/>
<path color="#ee5204" d="M502 1110l5-2 2 4 -4 1"/>
<path color="#005066" d="M334 1258l4 1 3-7 -5-3"/>
<path color="#fd7e09" d="M574 1118l5 1 2 4 -4 0"/>
<path color="#dc3800" d="M453 1104l4 0 3 1 -5 0"/>
<path color="#e94806" d="M518 1108l4-3 3 3 -5 2"/>
<path color="#ff5c1d" d="M534 1104l4-2 2 4 -4 2"/>
<path color="#fb940d" d="M581 1123l5 2 2 4 -4 1"/>
<path color="#fdbe07" d="M595 1136l5 4 2 7 -4-3"/>
<path color="#39a269" d="M368 1214l5-8 2 5 -4 6"/>
<path color="#b2f583" d="M632 1192l5-3 2 3 -4 4"/>
<path color="#ca4e00" d="M428 1116l5-3 2 2 -4 2"/>
<path color="#849612" d="M392 1177l4-11 3 2 -4 7"/>
<path color="#ff712d" d="M545 1105l4-2 3 5 -5 1"/>
<path color="#ff7629" d="M556 1107l4-1 3 5 -4 0"/>
<path color="#de3800" d="M464 1105l4-1 3 2 -4 0"/>
<path color="#fca910" d="M588 1129l5-1 2 8 -4 1"/>
<path color="#e94e05" d="M514 1110l4-2 2 2 -4 3"/>
<path color="#e33e00" d="M475 1106l5 0 2 2 -4 0"/>
<path color="#dffe30" d="M619 1168l4 3 3 9 -5-4"/>
<path color="#4ba85e" d="M373 1206l4-9 3 9 -5 5"/>
<path color="#e34500" d="M487 1108l4 1 3 1 -5 0"/>
<path color="#a27300" d="M402 1147l5-10 2-1 -4 8"/>
<path color="#c55100" d="M424 1118l4-2 3 1 -4 3"/>
<path color="#e64e01" d="M498 1111l4-1 3 3 -4-1"/>
<path color="#d23500" d="M448 1106l5-2 2 1 -4 2"/>
<path color="#fd5818" d="M529 1106l5-2 2 4 -4 1"/>
<path color="#005a66" d="M295 1248l5 4 2-5 -4-3"/>
<path color="#005466" d="M318 1253l4 3 3-3 -4-5"/>
<path color="#ff791e" d="M563 1111l4 0 3 5 -4 0"/>
<path color="#dbffb2" d="M628 1191l4 1 3 4 -4 2"/>
<path color="#ae6e00" d="M407 1137l4-4 3 1 -5 2"/>
<path color="#bc5500" d="M420 1123l4-5 3 2 -5 3"/>
<path color="#f7fb13" d="M612 1161l4 2 3 5 -5-2"/>
<path color="#ff742e" d="M540 1106l5-1 2 4 -4 2"/>
<path color="#b46900" d="M411 1133l4-4 3 0 -4 5"/>
<path color="#5ba94e" d="M377 1197l4-6 3 7 -4 8"/>
<path color="#fbef06" d="M605 1154l4 3 3 4 -5-1"/>
<path color="#005a66" d="M307 1250l4 2 3-4 -5-6"/>
<path color="#b65e00" d="M415 1129l5-6 2 0 -4 6"/>
<path color="#ec5304" d="M509 1112l5-2 2 3 -4 2"/>
<path color="#ff8033" d="M552 1108l4-1 3 4 -5 2"/>
<path color="#979505" d="M396 1166l5-8 2-1 -4 11"/>
<path color="#ff7e10" d="M570 1116l4 2 3 5 -4-1"/>
<path color="#045f62" d="M284 1245l5 3 2-6 -4-10"/>
<path color="#8fc536" d="M648 1186l4-5 3 2 -4 3"/>
<path color="#c83700" d="M444 1109l4-3 3 1 -4 2"/>
<path color="#d4ff61" d="M621 1176l5 4 2 11 -4-3"/>
<path color="#005466" d="M329 1257l5 1 2-9 -4-2"/>
<path color="#fccf06" d="M598 1144l4 3 3 7 -5-3"/>
<path color="#d93500" d="M460 1105l4 0 3 1 -5 0"/>
<path color="#f8510f" d="M525 1108l4-2 3 3 -5 2"/>
<path color="#69a63d" d="M381 1191l5-4 2 3 -4 8"/>
<path color="#ff9210" d="M577 1123l4 0 3 7 -4-1"/>
<path color="#01767c" d="M349 1248l5-6 2-2 -4 5"/>
<path color="#8aca41" d="M644 1188l4-2 3 0 -5 5"/>
<path color="#06918d" d="M354 1242l4-7 3-1 -5 6"/>
<path color="#ffb118" d="M584 1130l4-1 3 8 -5-2"/>
<path color="#005b66" d="M345 1252l4-4 3-3 -4 4"/>
<path color="#dc3800" d="M471 1106l4 0 3 2 -4-1"/>
<path color="#ffbf11" d="M591 1137l4-1 3 8 -5-2"/>
<path color="#ff772f" d="M536 1108l4-2 3 5 -4 2"/>
<path color="#e04700" d="M494 1110l4 1 3 1 -5 0"/>
<path color="#c33b00" d="M440 1112l4-3 3 0 -5 3"/>
<path color="#df3f00" d="M482 1108l5 0 2 2 -4-1"/>
<path color="#73a02e" d="M386 1187l4-5 3 2 -5 6"/>
<path color="#84cf4b" d="M639 1192l5-4 2 3 -4 3"/>
<path color="#119786" d="M358 1235l4-6 3 0 -4 5"/>
<path color="#ff872f" d="M559 1111l4 0 3 5 -5 0"/>
<path color="#ff8637" d="M547 1109l5-1 2 5 -4 1"/>
<path color="#e95101" d="M505 1113l4-1 3 3 -5 0"/>
<path color="#ed4b06" d="M520 1110l5-2 2 3 -4 2"/>
<path color="#e2ffae" d="M624 1188l4 3 3 7 -5 1"/>
<path color="#1c9d81" d="M362 1229l5-5 2 0 -4 5"/>
<path color="#87e062" d="M635 1196l4-4 3 2 -4 6"/>
<path color="#a38800" d="M401 1158l4-14 3 4 -5 9"/>
<path color="#f6ff35" d="M614 1166l5 2 2 8 -4-2"/>
<path color="#c34200" d="M435 1115l5-3 2 0 -4 4"/>
<path color="#2aa47b" d="M367 1224l4-7 3 2 -5 5"/>
<path color="#7f9d1d" d="M390 1182l5-7 2-2 -4 11"/>
<path color="#d53100" d="M455 1105l5 0 2 1 -4 0"/>
<path color="#fefc20" d="M607 1160l5 1 2 5 -4 0"/>
<path color="#ff821b" d="M566 1116l4 0 3 6 -5-1"/>
<path color="#ff792e" d="M532 1109l4-1 3 5 -5 1"/>
<path color="#39ab73" d="M371 1217l4-6 3 4 -4 4"/>
<path color="#aef797" d="M631 1198l4-2 3 4 -5 1"/>
<path color="#e54c02" d="M516 1113l4-3 3 3 -4 3"/>
<path color="#005a66" d="M341 1252l4 0 3-3 -5-5"/>
<path color="#fee80c" d="M600 1151l5 3 2 6 -4-2"/>
<path color="#066060" d="M280 1249l4-4 3-13 -5 5"/>
<path color="#c74900" d="M431 1117l4-2 3 1 -4 2"/>
<path color="#ff8837" d="M543 1111l4-2 3 5 -4 2"/>
<path color="#45ae69" d="M375 1211l5-5 2 3 -4 6"/>
<path color="#ff890f" d="M573 1122l4 1 3 6 -5-2"/>
<path color="#ff943c" d="M554 1113l5-2 2 5 -4 2"/>
<path color="#d73300" d="M467 1106l4 0 3 1 -5 0"/>
<path color="#005c66" d="M314 1248l4 5 3-5 -5-5"/>
<path color="#e8ff5c" d="M617 1174l4 2 3 12 -5-3"/>
<path color="#ae7c00" d="M405 1144l4-8 3 9 -4 3"/>
<path color="#939f0c" d="M395 1175l4-7 2-2 -4 7"/>
<path color="#ffa212" d="M580 1129l4 1 2 5 -4-1"/>
<path color="#025f64" d="M302 1247l5 3 2-8 -4-3"/>
<path color="#ffc90c" d="M593 1142l5 2 2 7 -4-2"/>
<path color="#db3800" d="M478 1108l4 0 3 1 -4-1"/>
<path color="#e24a00" d="M501 1112l4 1 2 2 -4-1"/>
<path color="#dd4000" d="M489 1110l5 0 2 2 -4-1"/>
<path color="#036163" d="M291 1242l4 6 3-4 -4-9"/>
<path color="#005a66" d="M325 1253l4 4 3-10 -4-4"/>
<path color="#54ad59" d="M380 1206l4-8 3 5 -5 6"/>
<path color="#ffba14" d="M586 1135l5 2 2 5 -4-2"/>
<path color="#c64e00" d="M427 1120l4-3 3 1 -5 3"/>
<path color="#d13100" d="M451 1107l4-2 3 1 -4 2"/>
<path color="#ff7428" d="M527 1111l5-2 2 5 -4 1"/>
<path color="#deffce" d="M626 1199l5-1 2 3 -4 3"/>
<path color="#e75001" d="M512 1115l4-2 3 3 -5 1"/>
<path color="#b37200" d="M409 1136l5-2 2 2 -4 9"/>
<path color="#9cc92d" d="M655 1183l4-4 3 3 -4 3"/>
<path color="#ff8b38" d="M539 1113l4-2 3 5 -5 2"/>
<path color="#dfff92" d="M619 1185l5 3 2 11 -4-3"/>
<path color="#be5200" d="M422 1123l5-3 2 1 -4 4"/>
<path color="#b16400" d="M414 1134l4-5 3 1 -5 6"/>
<path color="#ff9330" d="M561 1116l5 0 2 5 -4 0"/>
<path color="#b55900" d="M418 1129l4-6 3 2 -4 5"/>
<path color="#65aa44" d="M384 1198l4-8 3 4 -4 9"/>
<path color="#ffff51" d="M610 1166l4 0 3 8 -5 1"/>
<path color="#ff9a41" d="M550 1114l4-1 3 5 -4 1"/>
<path color="#96cc37" d="M651 1186l4-3 3 2 -5 4"/>
<path color="#a39d02" d="M399 1168l4-11 3 3 -5 6"/>
<path color="#fffc29" d="M603 1158l4 2 3 6 -4 0"/>
<path color="#cb3300" d="M447 1109l4-2 3 1 -5 2"/>
<path color="#8dcc40" d="M646 1191l5-5 2 3 -4 3"/>
<path color="#d52f00" d="M462 1106l5 0 2 1 -4 0"/>
<path color="#f96519" d="M523 1113l4-2 3 4 -4 1"/>
<path color="#82cb4a" d="M642 1194l4-3 3 1 -4 5"/>
<path color="#ff8b19" d="M568 1121l5 1 2 5 -4-1"/>
<path color="#015f65" d="M336 1249l5 3 2-8 -4-3"/>
<path color="#ff953e" d="M534 1114l5-1 2 5 -4 1"/>
<path color="#79d35b" d="M638 1200l4-6 3 3 -5 6"/>
<path color="#76a630" d="M388 1190l5-6 2 1 -4 9"/>
<path color="#ffe211" d="M596 1149l4 2 3 7 -4-2"/>
<path color="#e04300" d="M496 1112l5 0 2 2 -4-1"/>
<path color="#d83200" d="M474 1107l4 1 3 0 -5 0"/>
<path color="#e74f00" d="M507 1115l5 0 2 2 -4-1"/>
<path color="#dc3a00" d="M485 1109l4 1 3 1 -5-1"/>
<path color="#e8ffd5" d="M622 1196l4 3 3 5 -4 2"/>
<path color="#ff930d" d="M575 1127l5 2 2 5 -4-2"/>
<path color="#c43700" d="M442 1112l5-3 2 1 -4 3"/>
<path color="#ad9300" d="M403 1157l5-9 2 7 -4 5"/>
<path color="#faff70" d="M612 1175l5-1 2 11 -4-2"/>
<path color="#ff9a3f" d="M546 1116l4-2 3 5 -5 1"/>
<path color="#86ed7a" d="M633 1201l5-1 2 3 -4 2"/>
<path color="#ffa643" d="M557 1118l4-2 3 5 -4 2"/>
<path color="#ffc20e" d="M589 1140l4 2 3 7 -4-2"/>
<path color="#ffa90d" d="M582 1134l4 1 3 5 -4-1"/>
<path color="#0c9d91" d="M356 1240l5-6 2 0 -4 6"/>
<path color="#f2580b" d="M519 1116l4-3 3 3 -5 2"/>
<path color="#03807e" d="M352 1245l4-5 3 0 -4 4"/>
<path color="#87a51d" d="M393 1184l4-11 3 6 -5 6"/>
<path color="#c23d00" d="M438 1116l4-4 3 1 -4 3"/>
<path color="#ffff57" d="M606 1166l4 0 2 9 -4 0"/>
<path color="#199f86" d="M361 1234l4-5 3-1 -5 6"/>
<path color="#d42c00" d="M458 1106l4 0 3 1 -4 0"/>
<path color="#e3ff80" d="M615 1183l4 2 3 11 -4-2"/>
<path color="#bbffb9" d="M629 1204l4-3 3 4 -4 3"/>
<path color="#ffa147" d="M530 1115l4-1 3 5 -4 2"/>
<path color="#056361" d="M298 1244l4 3 3-8 -4-3"/>
<path color="#af8500" d="M408 1148l4-3 3 0 -5 10"/>
<path color="#249f7b" d="M365 1229l4-5 3-1 -4 5"/>
<path color="#036063" d="M321 1248l4 5 3-10 -5-5"/>
<path color="#2ea072" d="M369 1224l5-5 2-1 -4 5"/>
<path color="#ff993c" d="M541 1118l5-2 2 4 -4 2"/>
<path color="#046362" d="M309 1242l5 6 2-5 -4-7"/>
<path color="#c54500" d="M434 1118l4-2 3 0 -5 4"/>
<path color="#ffa133" d="M564 1121l4 0 3 5 -5 0"/>
<path color="#399f67" d="M374 1219l4-4 3-3 -5 6"/>
<path color="#aed427" d="M662 1182l4-4 3 3 -4 2"/>
<path color="#ffb14c" d="M553 1119l4-1 3 5 -5 2"/>
<path color="#fff921" d="M599 1156l4 2 3 8 -5-2"/>
<path color="#016365" d="M348 1249l4-4 3-1 -5-1"/>
<path color="#e64800" d="M503 1114l4 1 3 1 -4-1"/>
<path color="#9da90b" d="M397 1173l4-7 3 6 -4 7"/>
<path color="#d72d00" d="M469 1107l5 0 2 1 -4-1"/>
<path color="#449d59" d="M378 1215l4-6 3-4 -4 7"/>
<path color="#e13e00" d="M492 1111l4 1 3 1 -5-1"/>
<path color="#ef5404" d="M514 1117l5-1 2 2 -4 1"/>
<path color="#dc3400" d="M481 1108l4 1 2 1 -4-1"/>
<path color="#c4ffa8" d="M618 1194l4 2 3 10 -5 2"/>
<path color="#a3d230" d="M658 1185l4-3 3 1 -5 6"/>
<path color="#ac7000" d="M412 1145l4-9 3 1 -4 8"/>
<path color="#c74c00" d="M429 1121l5-3 2 2 -4 3"/>
<path color="#e5ffef" d="M625 1206l4-2 3 4 -5 2"/>
<path color="#ffff74" d="M608 1175l4 0 3 8 -4 0"/>
<path color="#519d4c" d="M382 1209l5-6 2-3 -4 5"/>
<path color="#ff9618" d="M571 1126l4 1 3 5 -5-1"/>
<path color="#0f6557" d="M287 1232l4 10 3-7 -5-11"/>
<path color="#d32e00" d="M454 1108l4-2 3 1 -5 3"/>
<path color="#ffd913" d="M592 1147l4 2 3 7 -5-2"/>
<path color="#9cd73d" d="M653 1189l5-4 2 4 -4 4"/>
<path color="#ff9f45" d="M526 1116l4-1 3 6 -5 0"/>
<path color="#ffa443" d="M537 1119l4-1 3 4 -4 2"/>
<path color="#aba702" d="M401 1166l5-6 2 5 -4 7"/>
<path color="#056261" d="M332 1247l4 2 3-8 -4-3"/>
<path color="#c35200" d="M425 1125l4-4 3 2 -4 4"/>
<path color="#ff9d0c" d="M578 1132l4 2 3 5 -5-2"/>
<path color="#ae5f00" d="M416 1136l5-6 2 1 -4 6"/>
<path color="#ffb60d" d="M585 1139l4 1 3 7 -5-2"/>
<path color="#96da48" d="M649 1192l4-3 3 4 -4 2"/>
<path color="#ffb64e" d="M548 1120l5-1 2 6 -4 1"/>
<path color="#b85700" d="M421 1130l4-5 3 2 -5 4"/>
<path color="#609f3f" d="M387 1203l4-9 3 0 -5 6"/>
<path color="#ffbb4b" d="M560 1123l4-2 2 5 -4 2"/>
<path color="#89d651" d="M645 1197l4-5 3 3 -5 5"/>
<path color="#7ad660" d="M640 1203l5-6 2 3 -4 6"/>
<path color="#ffff3b" d="M601 1164l5 2 2 9 -4-2"/>
<path color="#7deb7d" d="M636 1205l4-2 3 3 -5 5"/>
<path color="#d03100" d="M449 1110l5-2 2 2 -4 2"/>
<path color="#edff7b" d="M611 1183l4 0 3 11 -5-3"/>
<path color="#ac9700" d="M406 1160l4-5 3 1 -5 9"/>
<path color="#d92a00" d="M465 1107l4 0 3 0 -5 0"/>
<path color="#f05102" d="M510 1116l4 1 3 2 -4-1"/>
<path color="#ffc75f" d="M533 1121l4-2 3 5 -5 2"/>
<path color="#a7feb9" d="M632 1208l4-3 2 6 -4 3"/>
<path color="#e84300" d="M499 1113l4 1 3 1 -5 0"/>
<path color="#fe8c34" d="M521 1118l5-2 2 5 -4 0"/>
<path color="#74a12d" d="M391 1194l4-9 3 1 -4 8"/>
<path color="#bbffc6" d="M620 1208l5-2 2 4 -4-3"/>
<path color="#046462" d="M343 1244l5 5 2-6 -4-4"/>
<path color="#e33800" d="M487 1110l5 1 2 1 -4-1"/>
<path color="#de2e00" d="M476 1108l5 0 2 1 -4-1"/>
<path color="#fff31a" d="M594 1154l5 2 2 8 -4-2"/>
<path color="#ffb84f" d="M544 1122l4-2 3 6 -4 1"/>
<path color="#ffb238" d="M566 1126l5 0 2 5 -4 1"/>
<path color="#ffcc59" d="M555 1125l5-2 2 5 -4 2"/>
<path color="#ca3400" d="M445 1113l4-3 3 2 -4 2"/>
<path color="#ffff65" d="M604 1173l4 2 3 8 -5-2"/>
<path color="#bcdc22" d="M669 1181l4-2 3-1 -4 5"/>
<path color="#ddfff0" d="M627 1210l5-2 2 6 -4 4"/>
<path color="#baff7b" d="M613 1191l5 3 2 14 -4-10"/>
<path color="#a67e00" d="M410 1155l5-10 2 1 -4 10"/>
<path color="#89a51c" d="M395 1185l5-6 2 0 -4 7"/>
<path color="#ffcd12" d="M587 1145l5 2 2 7 -4-2"/>
<path color="#08645e" d="M316 1243l5 5 2-10 -4-5"/>
<path color="#ffa41a" d="M573 1131l5 1 2 5 -4-1"/>
<path color="#ffe07c" d="M528 1121l5 0 2 5 -4 2"/>
<path color="#c63900" d="M441 1116l4-3 3 1 -5 3"/>
<path color="#db2900" d="M461 1107l4 0 2 0 -4 2"/>
<path color="#0c665a" d="M305 1239l4 3 3-6 -4-7"/>
<path color="#b3da2b" d="M665 1183l4-2 3 2 -5 4"/>
<path color="#ffad0f" d="M580 1137l5 2 2 6 -4-2"/>
<path color="#ffc257" d="M540 1124l4-2 3 5 -5 2"/>
<path color="#0f6557" d="M294 1235l4 9 3-8 -5-11"/>
<path color="#fb7921" d="M517 1119l4-1 3 3 -4 1"/>
<path color="#a5d937" d="M660 1189l5-6 2 4 -4 5"/>
<path color="#17664f" d="M282 1237l5-5 2-8 -4 0"/>
<path color="#f35005" d="M506 1115l4 1 3 2 -5 1"/>
<path color="#ffdd69" d="M551 1126l4-1 3 5 -5 1"/>
<path color="#119483" d="M359 1240l4-6 3 1 -5 5"/>
<path color="#9fdf49" d="M656 1193l4-4 3 3 -5 4"/>
<path color="#ffff2a" d="M597 1162l4 2 3 9 -5-3"/>
<path color="#c64200" d="M436 1120l5-4 2 1 -4 4"/>
<path color="#ffd256" d="M562 1128l4-2 3 6 -4 2"/>
<path color="#20a484" d="M363 1234l5-6 2 0 -4 7"/>
<path color="#9da90d" d="M400 1179l4-7 3 0 -5 7"/>
<path color="#fbff95" d="M606 1181l5 2 2 8 -4 2"/>
<path color="#ed4001" d="M494 1112l5 1 2 2 -4 0"/>
<path color="#9fec5e" d="M652 1195l4-2 2 3 -4 6"/>
<path color="#09645d" d="M328 1243l4 4 3-9 -5-4"/>
<path color="#9af071" d="M647 1200l5-5 2 7 -4 4"/>
<path color="#8bed7e" d="M643 1206l4-6 3 6 -5 5"/>
<path color="#81f693" d="M638 1211l5-5 2 5 -4 5"/>
<path color="#e12b00" d="M472 1107l4 1 3 0 -5 1"/>
<path color="#e83301" d="M483 1109l4 1 3 1 -4 0"/>
<path color="#2ea274" d="M368 1228l4-5 2-2 -4 7"/>
<path color="#a56700" d="M415 1145l4-8 2 1 -4 8"/>
<path color="#c84b00" d="M432 1123l4-3 3 1 -5 4"/>
<path color="#c5ffd5" d="M623 1207l4 3 3 8 -5-1"/>
<path color="#08756d" d="M355 1244l4-4 2 0 -4-1"/>
<path color="#98fec8" d="M634 1214l4-3 3 5 -4 5"/>
<path color="#ffe273" d="M535 1126l5-2 2 5 -4 4"/>
<path color="#399f66" d="M372 1223l4-5 3-3 -5 6"/>
<path color="#da2c00" d="M456 1110l5-3 2 2 -4 2"/>
<path color="#a7a502" d="M404 1172l4-7 3 1 -4 6"/>
<path color="#ffd774" d="M524 1121l4 0 3 7 -4 1"/>
<path color="#9aff84" d="M616 1198l4 10 3-1 -4-1"/>
<path color="#c75300" d="M428 1127l4-4 2 2 -4 4"/>
<path color="#449b58" d="M376 1218l5-6 2-3 -4 6"/>
<path color="#ffea1a" d="M590 1152l4 2 3 8 -5-2"/>
<path color="#ffe773" d="M547 1127l4-1 2 5 -4 2"/>
<path color="#ffff5b" d="M599 1170l5 3 2 8 -4 0"/>
<path color="#c3fff7" d="M630 1218l4-4 3 7 -5 4"/>
<path color="#ffe76b" d="M558 1130l4-2 3 6 -5 1"/>
<path color="#ffc942" d="M569 1132l4-1 3 5 -4 1"/>
<path color="#af5c00" d="M419 1137l4-6 3 1 -5 6"/>
<path color="#bd5800" d="M423 1131l5-4 2 2 -4 3"/>
<path color="#fb741d" d="M513 1118l4 1 3 3 -5 1"/>
<path color="#0b665b" d="M339 1241l4 3 3-5 -5-7"/>
<path color="#519a49" d="M381 1212l4-7 3-3 -5 7"/>
<path color="#fffda0" d="M531 1128l4-2 3 7 -5 3"/>
<path color="#e7ff9d" d="M609 1193l4-2 3 7 -4 0"/>
<path color="#f7520a" d="M501 1115l5 0 2 4 -4 0"/>
<path color="#146652" d="M278 1239l4-2 3-13 -4 4"/>
<path color="#a69100" d="M408 1165l5-9 2 2 -4 8"/>
<path color="#d63000" d="M452 1112l4-2 3 1 -5 3"/>
<path color="#ffc415" d="M583 1143l4 2 3 7 -4-2"/>
<path color="#619f3e" d="M385 1205l4-5 3-3 -4 5"/>
<path color="#ffbc25" d="M576 1136l4 1 3 6 -4-2"/>
<path color="#e62b01" d="M467 1107l5 0 2 2 -4 2"/>
<path color="#ffe86f" d="M542 1129l5-2 2 6 -4 4"/>
<path color="#ffffa9" d="M602 1181l4 0 3 12 -4 1"/>
<path color="#f33f04" d="M490 1111l4 1 3 3 -4 0"/>
<path color="#9bfd9b" d="M650 1206l4-4 3 9 -5 6"/>
<path color="#08665e" d="M350 1243l5 1 2-5 -4-1"/>
<path color="#a0ffbc" d="M645 1211l5-5 2 11 -4 3"/>
<path color="#6fa435" d="M389 1200l5-6 2-2 -4 5"/>
<path color="#d8f03f" d="M672 1183l4-5 2 5 -4 7"/>
<path color="#fff982" d="M553 1131l5-1 2 5 -4 3"/>
<path color="#94f073" d="M654 1202l4-6 3 8 -4 7"/>
<path color="#ef3203" d="M479 1108l4 1 3 2 -5 1"/>
<path color="#98ffcf" d="M641 1216l4-5 3 9 -4 5"/>
<path color="#ffc259" d="M520 1122l4-1 3 8 -5-1"/>
<path color="#fffc27" d="M592 1160l5 2 2 8 -4-1"/>
<path color="#c1ee45" d="M667 1187l5-4 2 7 -4 3"/>
<path color="#98e256" d="M658 1196l5-4 2 6 -4 6"/>
<path color="#ffec64" d="M565 1134l4-2 3 5 -5 2"/>
<path color="#a6fedd" d="M625 1217l5 1 2 7 -4-1"/>
<path color="#aae649" d="M663 1192l4-5 3 6 -5 5"/>
<path color="#fff37b" d="M538 1133l4-4 3 8 -5 3"/>
<path color="#96ffe8" d="M637 1221l4-5 3 9 -5 3"/>
<path color="#d13300" d="M448 1114l4-2 2 2 -4 2"/>
<path color="#7fa727" d="M394 1194l4-8 3 0 -5 6"/>
<path color="#8effa0" d="M619 1206l4 1 2 10 -4 1"/>
<path color="#fffd9c" d="M527 1129l4-1 2 8 -4 0"/>
<path color="#fe7722" d="M508 1119l5-1 2 5 -4 1"/>
<path color="#126654" d="M312 1236l4 7 3-10 -4-6"/>
<path color="#a27800" d="M413 1156l4-10 3 1 -5 11"/>
<path color="#166650" d="M301 1236l4 3 3-10 -5-7"/>
<path color="#ffff87" d="M549 1133l4-2 3 7 -4 3"/>
<path color="#e92e03" d="M463 1109l4-2 3 4 -4 1"/>
<path color="#ffff48" d="M595 1169l4 1 3 11 -4 0"/>
<path color="#fcffc1" d="M605 1194l4-1 3 5 -5 2"/>
<path color="#ffffa9" d="M533 1136l5-3 2 7 -4 4"/>
<path color="#cb3800" d="M443 1117l5-3 2 2 -4 4"/>
<path color="#c1ff89" d="M612 1198l4 0 3 8 -5-2"/>
<path color="#fa550f" d="M497 1115l4 0 3 4 -4 1"/>
<path color="#92a917" d="M398 1186l4-7 3 0 -4 7"/>
<path color="#8bffec" d="M632 1225l5-4 2 7 -4 2"/>
<path color="#86f9ba" d="M652 1217l5-6 2 9 -4 6"/>
<path color="#fff975" d="M560 1135l5-1 2 5 -4 4"/>
<path color="#ffe11b" d="M586 1150l4 2 2 8 -4-2"/>
<path color="#b0ffec" d="M648 1220l4-3 3 9 -4 2"/>
<path color="#106656" d="M323 1238l5 5 2-9 -4-5"/>
<path color="#ffe45a" d="M572 1137l4-1 3 5 -5 1"/>
<path color="#f8420a" d="M486 1111l4 0 3 4 -5 1"/>
<path color="#78e882" d="M657 1211l4-7 3 8 -5 8"/>
<path color="#c94100" d="M439 1121l4-4 3 3 -5 4"/>
<path color="#fffc75" d="M545 1137l4-4 3 8 -5 3"/>
<path color="#f3ff79" d="M598 1181l4 0 3 13 -5-1"/>
<path color="#f43306" d="M474 1109l5-1 2 4 -4 1"/>
<path color="#ffb751" d="M515 1123l5-1 2 6 -4 1"/>
<path color="#e4fc58" d="M678 1183l5-1 2 6 -4 5"/>
<path color="#bdfffc" d="M644 1225l4-5 3 8 -5 2"/>
<path color="#a2aa08" d="M402 1179l5-7 2 1 -4 6"/>
<path color="#ffda37" d="M579 1141l4 2 3 7 -5-2"/>
<path color="#216645" d="M289 1224l5 11 2-10 -4-11"/>
<path color="#ca4b00" d="M434 1125l5-4 2 3 -4 3"/>
<path color="#227d5b" d="M274 1215l4 24 3-11 -5 2"/>
<path color="#ffff85" d="M556 1138l4-3 3 8 -4 2"/>
<path color="#fffc7a" d="M540 1140l5-3 2 7 -4 4"/>
<path color="#dfff6a" d="M674 1190l4-7 3 10 -4 5"/>
<path color="#e63002" d="M459 1111l4-2 3 3 -5 2"/>
<path color="#26ac86" d="M366 1235l4-7 3 1 -5 7"/>
<path color="#88e267" d="M661 1204l4-6 3 6 -4 8"/>
<path color="#a56400" d="M417 1146l4-8 3 1 -4 8"/>
<path color="#fff47b" d="M522 1128l5 1 2 7 -4-1"/>
<path color="#ffffa7" d="M529 1136l4 0 3 8 -4-1"/>
<path color="#ff7a25" d="M504 1119l4 0 3 5 -4 0"/>
<path color="#cfff71" d="M670 1193l4-3 3 8 -5 2"/>
<path color="#36ae78" d="M370 1228l4-7 3 2 -4 6"/>
<path color="#ca5400" d="M430 1129l4-4 3 2 -4 4"/>
<path color="#136653" d="M335 1238l4 3 2-9 -4-3"/>
<path color="#0e6658" d="M346 1239l4 4 3-5 -5-5"/>
<path color="#aff267" d="M665 1198l5-5 2 7 -4 4"/>
<path color="#a9a200" d="M407 1172l4-6 3 1 -5 6"/>
<path color="#178872" d="M361 1240l5-5 2 1 -4-1"/>
<path color="#6dfaa9" d="M621 1218l4-1 3 7 -4-3"/>
<path color="#fffc72" d="M567 1139l5-2 2 5 -4 4"/>
<path color="#73f8d1" d="M655 1226l4-6 3 8 -4 5"/>
<path color="#fff720" d="M588 1158l4 2 3 9 -4-1"/>
<path color="#8ffff3" d="M639 1228l5-3 2 5 -4 3"/>
<path color="#ffffa9" d="M536 1144l4-4 3 8 -4 4"/>
<path color="#ffff82" d="M552 1141l4-3 3 7 -5 4"/>
<path color="#c35900" d="M426 1132l4-3 3 2 -5 3"/>
<path color="#44ac68" d="M374 1221l5-6 2 2 -4 6"/>
<path color="#b6fffc" d="M651 1228l4-2 3 7 -5 4"/>
<path color="#65fac3" d="M628 1224l4 1 3 5 -4-4"/>
<path color="#fe5915" d="M493 1115l4 0 3 5 -5 0"/>
<path color="#ddff8c" d="M600 1193l5 1 2 6 -4 0"/>
<path color="#b35b00" d="M421 1138l5-6 2 2 -4 5"/>
<path color="#60e797" d="M659 1220l5-8 2 10 -4 6"/>
<path color="#8efc89" d="M614 1204l5 2 2 12 -4-5"/>
<path color="#f63708" d="M470 1111l4-2 3 4 -4 1"/>
<path color="#e03301" d="M454 1114l5-3 2 3 -4 2"/>
<path color="#d2ff95" d="M607 1200l5-2 2 6 -4 1"/>
<path color="#fc4811" d="M481 1112l5-1 2 5 -4 0"/>
<path color="#ffff6c" d="M563 1143l4-4 3 7 -4 4"/>
<path color="#ffff70" d="M547 1144l5-3 2 8 -4 4"/>
<path color="#53ab58" d="M379 1215l4-6 3 1 -5 7"/>
<path color="#ffb550" d="M511 1124l4-1 3 6 -5 0"/>
<path color="#a68f00" d="M411 1166l4-8 3 1 -4 8"/>
<path color="#fbfe27" d="M591 1168l4 1 3 12 -5-3"/>
<path color="#fff878" d="M574 1142l5-1 2 7 -4 1"/>
<path color="#74e17b" d="M664 1212l4-8 3 9 -5 9"/>
<path color="#67b34c" d="M383 1209l5-7 2 3 -4 5"/>
<path color="#ffee43" d="M581 1148l5 2 2 8 -4-3"/>
<path color="#ffff79" d="M543 1148l4-4 3 9 -4 3"/>
<path color="#116655" d="M357 1239l4 1 3-5 -4 1"/>
<path color="#b4fffa" d="M646 1230l5-2 2 9 -4 0"/>
<path color="#ffff74" d="M559 1145l4-2 3 7 -5 3"/>
<path color="#7abd44" d="M388 1202l4-5 2 4 -4 4"/>
<path color="#b4df34" d="M685 1188l5-8 2 9 -4 8"/>
<path color="#ffed75" d="M518 1129l4-1 3 7 -5 1"/>
<path color="#57fad0" d="M635 1230l4-2 3 5 -4 0"/>
<path color="#86be39" d="M392 1197l4-5 3 4 -5 5"/>
<path color="#b9f151" d="M681 1193l4-5 3 9 -4-1"/>
<path color="#ffffa7" d="M532 1143l4 1 3 8 -5-1"/>
<path color="#ff7b28" d="M500 1120l4-1 3 5 -5 1"/>
<path color="#ffff82" d="M525 1135l4 1 3 7 -5 0"/>
<path color="#d93501" d="M450 1116l4-2 3 2 -4 2"/>
<path color="#b9f567" d="M677 1198l4-5 3 3 -5 8"/>
<path color="#9cf079" d="M668 1204l4-4 3 8 -4 5"/>
<path color="#e3fc38" d="M593 1178l5 3 2 12 -4-6"/>
<path color="#b4f87b" d="M672 1200l5-2 2 6 -4 4"/>
<path color="#5df7de" d="M658 1233l4-5 2 8 -4 5"/>
<path color="#f83b09" d="M466 1112l4-1 3 3 -5 2"/>
<path color="#8fb829" d="M396 1192l5-6 2 3 -4 7"/>
<path color="#1d6649" d="M308 1229l4 7 3-9 -5-3"/>
<path color="#ffffa9" d="M539 1152l4-4 3 8 -5 4"/>
<path color="#ffff75" d="M554 1149l5-4 2 8 -4 3"/>
<path color="#49e4aa" d="M662 1228l4-6 3 9 -5 5"/>
<path color="#ff5f1c" d="M488 1116l5-1 2 5 -4 1"/>
<path color="#216645" d="M296 1225l5 11 2-14 -4-3"/>
<path color="#ffff7f" d="M570 1146l4-4 3 7 -4 5"/>
<path color="#a47900" d="M415 1158l5-11 2 4 -4 8"/>
<path color="#81ffff" d="M653 1237l5-4 2 8 -4 4"/>
<path color="#d13a00" d="M446 1120l4-4 3 2 -5 4"/>
<path color="#ff4c16" d="M477 1113l4-1 3 4 -4 1"/>
<path color="#1a664c" d="M319 1233l4 5 3-9 -5-7"/>
<path color="#ffff6a" d="M550 1153l4-4 3 7 -4 4"/>
<path color="#ffaf4c" d="M507 1124l4 0 2 5 -4 0"/>
<path color="#9db417" d="M401 1186l4-7 2 3 -4 7"/>
<path color="#56d98d" d="M666 1222l5-9 2 11 -4 7"/>
<path color="#ffff64" d="M566 1150l4-4 3 8 -5 3"/>
<path color="#bbfe76" d="M603 1200l4 0 3 5 -5-2"/>
<path color="#fffa3a" d="M584 1155l4 3 3 10 -5-5"/>
<path color="#cb4200" d="M441 1124l5-4 2 2 -4 4"/>
<path color="#6cf389" d="M617 1213l4 5 3 3 -5-5"/>
<path color="#56f09b" d="M624 1221l4 3 3 2 -5-2"/>
<path color="#ffff79" d="M546 1156l4-3 3 7 -5 4"/>
<path color="#60fadb" d="M642 1233l4-3 3 7 -4-2"/>
<path color="#c2fd4e" d="M596 1187l4 6 3 7 -4-2"/>
<path color="#2c663a" d="M285 1224l4 0 3-10 -4-2"/>
<path color="#f63d09" d="M461 1114l5-2 2 4 -4 2"/>
<path color="#ffff89" d="M577 1149l4-1 3 7 -5 2"/>
<path color="#97fa76" d="M610 1205l4-1 3 9 -5-4"/>
<path color="#ffe975" d="M513 1129l5 0 2 7 -4 0"/>
<path color="#ffffa4" d="M534 1151l5 1 2 8 -4-1"/>
<path color="#ffff67" d="M561 1153l5-3 2 7 -4 3"/>
<path color="#acb207" d="M405 1179l4-6 3 3 -5 6"/>
<path color="#cb4c00" d="M437 1127l4-3 3 2 -4 4"/>
<path color="#ff7b2b" d="M495 1120l5 0 2 5 -4 0"/>
<path color="#ffff80" d="M527 1143l5 0 2 8 -4 0"/>
<path color="#6fdf7d" d="M671 1213l4-5 3 9 -5 7"/>
<path color="#ffff80" d="M520 1136l5-1 2 8 -4 1"/>
<path color="#1a664c" d="M330 1234l5 4 2-9 -4-4"/>
<path color="#136653" d="M353 1238l4 1 3-3 -5-1"/>
<path color="#45efad" d="M631 1226l4 4 3 3 -5-3"/>
<path color="#ffffaa" d="M541 1160l5-4 2 8 -4 4"/>
<path color="#a96500" d="M420 1147l4-8 3 1 -5 11"/>
<path color="#19664d" d="M341 1232l5 7 2-6 -4-7"/>
<path color="#63faec" d="M649 1237l4 0 3 8 -5-4"/>
<path color="#cc5500" d="M433 1131l4-4 3 3 -5 3"/>
<path color="#ff6523" d="M484 1116l4 0 3 5 -4 0"/>
<path color="#ffff66" d="M557 1156l4-3 3 7 -5 4"/>
<path color="#81e16d" d="M675 1208l4-4 3 5 -4 8"/>
<path color="#ff4c16" d="M473 1114l4-1 3 4 -5 1"/>
<path color="#38b67e" d="M373 1229l4-6 3 4 -5 5"/>
<path color="#b2a800" d="M409 1173l5-6 2 3 -4 6"/>
<path color="#9dd740" d="M688 1197l4-8 3 8 -4 2"/>
<path color="#31e9d5" d="M660 1241l4-5 3 7 -4 5"/>
<path color="#fbfd20" d="M586 1163l5 5 2 10 -4-6"/>
<path color="#ffff8c" d="M573 1154l4-5 2 8 -4 4"/>
<path color="#a2e44d" d="M684 1196l4 1 3 2 -5 2"/>
<path color="#47b972" d="M377 1223l4-6 3 4 -4 6"/>
<path color="#94e158" d="M679 1204l5-8 2 5 -4 8"/>
<path color="#269e79" d="M368 1236l5-7 2 3 -4 4"/>
<path color="#2fd3aa" d="M664 1236l5-5 2 4 -4 8"/>
<path color="#c85b00" d="M428 1134l5-3 2 2 -4 4"/>
<path color="#ffff61" d="M553 1160l4-4 2 8 -4 4"/>
<path color="#ffa848" d="M502 1125l5-1 2 5 -4 1"/>
<path color="#f23e08" d="M457 1116l4-2 3 4 -4 1"/>
<path color="#b95c00" d="M424 1139l4-5 3 3 -4 3"/>
<path color="#92e469" d="M390 1205l4-4 3 7 -4 4"/>
<path color="#8cd44e" d="M394 1201l5-5 2 7 -4 5"/>
<path color="#a9c921" d="M692 1189l5-9 2 4 -4 13"/>
<path color="#307141" d="M281 1228l4-4 3-12 -5 6"/>
<path color="#5dc165" d="M381 1217l5-7 2 4 -4 7"/>
<path color="#ffff71" d="M568 1157l5-3 2 7 -4 3"/>
<path color="#ffff76" d="M548 1164l5-4 2 8 -4 4"/>
<path color="#80d86c" d="M386 1210l4-5 3 7 -5 2"/>
<path color="#ad9400" d="M414 1167l4-8 3 3 -5 8"/>
<path color="#2ff1ea" d="M656 1245l4-4 3 7 -5 0"/>
<path color="#3eca8f" d="M669 1231l4-7 3 3 -5 8"/>
<path color="#ffff7c" d="M579 1157l5-2 2 8 -4 2"/>
<path color="#ffe471" d="M509 1129l4 0 3 7 -4 0"/>
<path color="#3cedb6" d="M638 1233l4 0 3 2 -5-1"/>
<path color="#ffffa0" d="M537 1159l4 1 3 8 -4-2"/>
<path color="#ff7c2e" d="M491 1121l4-1 3 5 -4 0"/>
<path color="#8fc133" d="M399 1196l4-7 3 5 -5 9"/>
<path color="#ffff7b" d="M530 1151l4 0 3 8 -4 0"/>
<path color="#eafa19" d="M589 1172l4 6 3 9 -4-5"/>
<path color="#ffff68" d="M564 1160l4-3 3 7 -5 3"/>
<path color="#ff4e16" d="M468 1116l5-2 2 4 -4 2"/>
<path color="#ffff84" d="M516 1136l4 0 3 8 -4 0"/>
<path color="#aefc57" d="M599 1198l4 2 2 3 -4-2"/>
<path color="#ffff7c" d="M523 1144l4-1 3 8 -4 0"/>
<path color="#ffffaa" d="M544 1168l4-4 3 8 -5 4"/>
<path color="#e93e06" d="M453 1118l4-2 3 3 -5 2"/>
<path color="#ff6a29" d="M480 1117l4-1 3 5 -5 1"/>
<path color="#379a63" d="M276 1230l5-2 2-10 -4 6"/>
<path color="#266640" d="M303 1222l5 7 2-5 -4-3"/>
<path color="#1a785d" d="M364 1235l4 1 3 0 -4-4"/>
<path color="#52ce7f" d="M673 1224l5-7 2 5 -4 5"/>
<path color="#ffff5a" d="M559 1164l5-4 2 7 -4 5"/>
<path color="#9af965" d="M605 1203l5 2 2 4 -4-1"/>
<path color="#ffff85" d="M575 1161l4-4 3 8 -4 7"/>
<path color="#9ebb1d" d="M403 1189l4-7 3 5 -4 7"/>
<path color="#236643" d="M315 1227l4 6 2-11 -4 2"/>
<path color="#64eb88" d="M619 1216l5 5 2 3 -4-3"/>
<path color="#7ef174" d="M612 1209l5 4 2 3 -4-3"/>
<path color="#ffff58" d="M555 1168l4-4 3 8 -4 4"/>
<path color="#a97d00" d="M418 1159l4-8 3 3 -4 8"/>
<path color="#ff9f42" d="M498 1125l4 0 3 5 -5 0"/>
<path color="#66d06e" d="M678 1217l4-8 2 7 -4 6"/>
<path color="#ccfb34" d="M592 1182l4 5 3 11 -5-3"/>
<path color="#db3f03" d="M448 1122l5-4 2 3 -4 3"/>
<path color="#35ecc4" d="M645 1235l4 2 2 4 -4-5"/>
<path color="#3dc487" d="M272 1232l4-2 3-6 -4 5"/>
<path color="#ffff76" d="M571 1164l4-3 3 11 -5 2"/>
<path color="#2e6638" d="M292 1214l4 11 3-6 -4-3"/>
<path color="#4fea9b" d="M626 1224l5 2 2 4 -4-2"/>
<path color="#ffff76" d="M551 1172l4-4 3 8 -5 4"/>
<path color="#ff561b" d="M464 1118l4-2 3 4 -4 1"/>
<path color="#19664d" d="M348 1233l5 5 2-3 -4-5"/>
<path color="#fffe68" d="M582 1165l4-2 3 9 -4-4"/>
<path color="#ff8134" d="M487 1121l4 0 3 4 -5 1"/>
<path color="#7dd45d" d="M682 1209l4-8 3 9 -5 6"/>
<path color="#afba0b" d="M407 1182l5-6 2 4 -4 7"/>
<path color="#ffd664" d="M505 1130l4-1 3 7 -5 1"/>
<path color="#d04301" d="M444 1126l4-4 3 2 -4 4"/>
<path color="#ffffa0" d="M540 1166l4 2 2 8 -4-2"/>
<path color="#1fcbbb" d="M651 1241l5 4 2 3 -4-3"/>
<path color="#94d242" d="M691 1199l4-2 3 3 -5 1"/>
<path color="#ffff78" d="M533 1159l4 0 3 7 -5 0"/>
<path color="#99f192" d="M393 1212l4-4 3 7 -5 4"/>
<path color="#ffffb2" d="M546 1176l5-4 2 8 -4 3"/>
<path color="#93da4e" d="M686 1201l5-2 2 2 -4 9"/>
<path color="#ff6d2e" d="M475 1118l5-1 2 5 -4 0"/>
<path color="#ffff70" d="M566 1167l5-3 2 10 -4 1"/>
<path color="#fffe7e" d="M512 1136l4 0 3 8 -5 0"/>
<path color="#ffff72" d="M526 1151l4 0 3 8 -5 0"/>
<path color="#40d99b" d="M268 1230l4 2 3-3 -5 5"/>
<path color="#7ed25b" d="M397 1208l4-5 3 4 -4 8"/>
<path color="#ffff7a" d="M519 1144l4 0 3 7 -5 0"/>
<path color="#cc4c00" d="M440 1130l4-4 3 2 -5 4"/>
<path color="#3fe3a5" d="M633 1230l5 3 2 1 -4-1"/>
<path color="#1fbd9f" d="M667 1243l4-8 3 2 -4 11"/>
<path color="#246642" d="M326 1229l4 5 3-9 -5-7"/>
<path color="#0fb4a6" d="M663 1248l4-5 3 5 -5 0"/>
<path color="#9ac52c" d="M695 1197l4-13 3 9 -4 7"/>
<path color="#ffff58" d="M562 1172l4-5 3 8 -4 6"/>
<path color="#b5b001" d="M412 1176l4-6 3 4 -5 6"/>
<path color="#94f397" d="M388 1214l5-2 2 7 -4 0"/>
<path color="#ad6800" d="M422 1151l5-11 2 3 -4 11"/>
<path color="#cd5600" d="M435 1133l5-3 2 2 -4 4"/>
<path color="#fe6022" d="M460 1119l4-1 3 3 -5 2"/>
<path color="#ffff58" d="M558 1176l4-4 3 9 -5 3"/>
<path color="#1c664a" d="M360 1236l4-1 3-3 -5-2"/>
<path color="#246642" d="M337 1229l4 3 3-6 -4-6"/>
<path color="#ffff76" d="M578 1172l4-7 3 3 -5 12"/>
<path color="#ff9a3f" d="M494 1125l4 0 2 5 -4 1"/>
<path color="#ffff77" d="M553 1180l5-4 2 8 -4 5"/>
<path color="#43b775" d="M380 1227l4-6 3 3 -5 7"/>
<path color="#36c28d" d="M671 1235l5-8 2 5 -4 5"/>
<path color="#62d275" d="M384 1221l4-7 3 5 -4 5"/>
<path color="#84be3a" d="M401 1203l5-9 2 5 -4 8"/>
<path color="#b4f948" d="M594 1195l5 3 2 3 -4-1"/>
<path color="#ca5d00" d="M431 1137l4-4 3 3 -4 3"/>
<path color="#a1f859" d="M601 1201l4 2 3 5 -4-2"/>
<path color="#afc113" d="M699 1184l5-3 2 1 -4 11"/>
<path color="#bd5e00" d="M427 1140l4-3 3 2 -5 4"/>
<path color="#ffff50" d="M573 1174l5-2 2 8 -4-3"/>
<path color="#2f9e6f" d="M375 1232l5-5 2 4 -4 1"/>
<path color="#ffffb0" d="M542 1174l4 2 3 7 -4 0"/>
<path color="#ffffb6" d="M549 1183l4-3 3 9 -4 4"/>
<path color="#fafd48" d="M585 1168l4 4 3 10 -5-5"/>
<path color="#ff7333" d="M471 1120l4-2 3 4 -4 2"/>
<path color="#ff8c40" d="M482 1122l5-1 2 5 -4 1"/>
<path color="#4acd85" d="M676 1227l4-5 3 5 -5 5"/>
<path color="#af9800" d="M416 1170l5-8 2 3 -4 9"/>
<path color="#ffbd50" d="M500 1130l5 0 2 7 -4-1"/>
<path color="#ffff7d" d="M535 1166l5 0 2 8 -4 0"/>
<path color="#5ad079" d="M680 1222l4-6 3 5 -4 6"/>
<path color="#0da498" d="M658 1248l5 0 2 0 -4-2"/>
<path color="#fa6726" d="M455 1121l5-2 2 4 -4 3"/>
<path color="#8ef569" d="M608 1208l4 1 3 4 -4-1"/>
<path color="#2d6639" d="M299 1219l4 3 3-1 -4-1"/>
<path color="#ffea64" d="M507 1137l5-1 2 8 -4 0"/>
<path color="#ffff75" d="M528 1159l5 0 2 7 -4 1"/>
<path color="#39dfa7" d="M640 1234l5 1 2 1 -4-1"/>
<path color="#ffff54" d="M569 1175l4-1 3 3 -4 6"/>
<path color="#29663d" d="M310 1224l5 3 2-3 -4-3"/>
<path color="#96ba24" d="M406 1194l4-7 3 5 -5 7"/>
<path color="#ffff71" d="M514 1144l5 0 2 7 -4 0"/>
<path color="#ffff6c" d="M521 1151l5 0 2 8 -4-1"/>
<path color="#f3ff72" d="M556 1189l4-5 3 9 -4 6"/>
<path color="#fcff5a" d="M560 1184l5-3 2 6 -4 6"/>
<path color="#76ef79" d="M615 1213l4 3 3 5 -4-4"/>
<path color="#ffff4f" d="M565 1181l4-6 3 8 -5 4"/>
<path color="#f7ffae" d="M552 1193l4-4 3 10 -5 8"/>
<path color="#6bd068" d="M684 1216l5-6 2 5 -4 6"/>
<path color="#5ceb8f" d="M622 1221l4 3 3 4 -4-2"/>
<path color="#ffffc5" d="M545 1183l4 0 3 10 -5 1"/>
<path color="#76df8e" d="M395 1219l5-4 2 6 -4 5"/>
<path color="#e0fd34" d="M587 1177l5 5 2 13 -4-2"/>
<path color="#ff813d" d="M467 1121l4-1 3 4 -5 3"/>
<path color="#457e39" d="M288 1212l4 2 3 2 -5-2"/>
<path color="#ffa047" d="M489 1126l5-1 2 6 -4 0"/>
<path color="#7fd156" d="M689 1210l4-9 3 8 -5 6"/>
<path color="#f15e1a" d="M451 1124l4-3 3 5 -4 1"/>
<path color="#d0ffa7" d="M554 1207l5-8 2 11 -4 8"/>
<path color="#aa8000" d="M421 1162l4-8 2 3 -4 8"/>
<path color="#237956" d="M371 1236l4-4 3 0 -4-5"/>
<path color="#6ac35b" d="M400 1215l4-8 3 4 -5 10"/>
<path color="#ffffd9" d="M547 1194l5-1 2 14 -4 0"/>
<path color="#ff9c51" d="M478 1122l4 0 3 5 -5 1"/>
<path color="#89cc45" d="M693 1201l5-1 2 4 -4 5"/>
<path color="#1fa586" d="M647 1236l4 5 3 4 -4-6"/>
<path color="#a6b711" d="M410 1187l4-7 3 4 -4 8"/>
<path color="#49e39a" d="M629 1228l4 2 3 3 -5-2"/>
<path color="#efffe5" d="M550 1207l4 0 3 11 -5 2"/>
<path color="#d2ff7a" d="M559 1199l4-6 3 13 -5 4"/>
<path color="#dfff6d" d="M563 1193l4-6 3 17 -4 2"/>
<path color="#ffff61" d="M580 1180l5-12 2 9 -4 1"/>
<path color="#1d6649" d="M355 1235l5 1 2-6 -4 1"/>
<path color="#ffff8e" d="M538 1174l4 0 3 9 -5-1"/>
<path color="#90c333" d="M698 1200l4-7 2 4 -4 7"/>
<path color="#d8f44a" d="M567 1187l5-4 2 11 -4 10"/>
<path color="#6dcf88" d="M391 1219l4 0 3 7 -4-1"/>
<path color="#bafcdb" d="M552 1220l5-2 2 9 -4 4"/>
<path color="#e15008" d="M447 1128l4-4 3 3 -5 4"/>
<path color="#ffb149" d="M496 1131l4-1 3 6 -4 0"/>
<path color="#ff944b" d="M462 1123l5-2 2 6 -4 2"/>
<path color="#ffff8b" d="M531 1167l4-1 3 8 -5 0"/>
<path color="#94f597" d="M557 1218l4-8 3 5 -5 12"/>
<path color="#43bc79" d="M275 1229l4-5 3 4 -5 5"/>
<path color="#256641" d="M344 1226l4 7 3-3 -4-8"/>
<path color="#4aac62" d="M279 1224l4-6 3 4 -4 6"/>
<path color="#519d4c" d="M283 1218l5-6 2 2 -4 8"/>
<path color="#ffff77" d="M524 1158l4 1 3 8 -5-1"/>
<path color="#abf74e" d="M597 1200l4 1 3 5 -5-2"/>
<path color="#acab04" d="M414 1180l5-6 2 3 -4 7"/>
<path color="#f4f532" d="M576 1177l4 3 3-2 -4 5"/>
<path color="#ffc546" d="M503 1136l4 1 3 7 -4-2"/>
<path color="#dfea2a" d="M572 1183l4-6 3 6 -5 11"/>
<path color="#79b73e" d="M404 1207l4-8 3 4 -4 8"/>
<path color="#fff059" d="M510 1144l4 0 3 7 -4 0"/>
<path color="#3dcd90" d="M270 1234l5-5 2 4 -4 4"/>
<path color="#ffff6b" d="M517 1151l4 0 3 7 -4 0"/>
<path color="#d34f01" d="M442 1132l5-4 2 3 -4 3"/>
<path color="#e5ffff" d="M548 1221l4-1 3 11 -4 3"/>
<path color="#ffb35a" d="M485 1127l4-1 3 5 -5 2"/>
<path color="#fcfff0" d="M546 1206l4 1 2 13 -4 1"/>
<path color="#81f9d7" d="M555 1231l4-4 3 9 -4 6"/>
<path color="#af6b00" d="M425 1154l4-11 3 4 -5 10"/>
<path color="#0f8374" d="M654 1245l4 3 3-2 -4-2"/>
<path color="#c6fa3a" d="M590 1193l4 2 3 5 -5-6"/>
<path color="#ffa85b" d="M474 1124l4-2 2 6 -4 2"/>
<path color="#ffffa9" d="M540 1182l5 1 2 11 -4-1"/>
<path color="#a5c11c" d="M702 1193l4-11 3 8 -5 7"/>
<path color="#adf87f" d="M561 1210l5-4 2 3 -4 6"/>
<path color="#44d696" d="M678 1232l5-5 2 5 -4 5"/>
<path color="#99f962" d="M604 1206l4 2 3 4 -5-1"/>
<path color="#b3f778" d="M566 1206l4-2 2 6 -4-1"/>
<path color="#38d9a4" d="M266 1237l4-3 3 3 -5 4"/>
<path color="#ffffcc" d="M543 1193l4 1 3 13 -4-1"/>
<path color="#34cb99" d="M674 1237l4-5 3 5 -4 3"/>
<path color="#316635" d="M321 1222l5 7 2-11 -4-9"/>
<path color="#c0ffff" d="M551 1234l4-3 3 11 -5 4"/>
<path color="#51d183" d="M683 1227l4-6 3 6 -5 5"/>
<path color="#ce5600" d="M438 1136l4-4 3 2 -4 4"/>
<path color="#36be88" d="M636 1233l4 1 3 1 -5-2"/>
<path color="#ffac5a" d="M458 1126l4-3 3 6 -5 3"/>
<path color="#22b695" d="M670 1248l4-11 3 3 -5 1"/>
<path color="#9ddc4d" d="M570 1204l4-10 3 8 -5 8"/>
<path color="#479f5c" d="M387 1224l4-5 3 6 -5 1"/>
<path color="#64e999" d="M559 1227l5-12 2 15 -4 6"/>
<path color="#2dddb5" d="M262 1245l4-8 2 4 -4 3"/>
<path color="#e1ffff" d="M544 1226l4-5 3 13 -5 3"/>
<path color="#3f7f40" d="M295 1216l4 3 3 1 -5-1"/>
<path color="#2e6638" d="M333 1225l4 4 3-9 -5-7"/>
<path color="#ca5e00" d="M434 1139l4-3 3 2 -5 4"/>
<path color="#5dc96e" d="M687 1221l4-6 3 6 -4 6"/>
<path color="#86f571" d="M611 1212l4 1 3 4 -5-1"/>
<path color="#2f6637" d="M306 1221l4 3 3-3 -5-3"/>
<path color="#be6200" d="M429 1143l5-4 2 3 -4 5"/>
<path color="#c0c609" d="M706 1182l5-4 2 2 -4 10"/>
<path color="#a79500" d="M419 1174l4-9 3 3 -5 9"/>
<path color="#ffffa3" d="M533 1174l5 0 2 8 -4 1"/>
<path color="#89b329" d="M408 1199l5-7 2 4 -4 7"/>
<path color="#f4ff61" d="M583 1178l4-1 3 16 -5-7"/>
<path color="#f1ffe7" d="M541 1210l5-4 2 15 -4 5"/>
<path color="#63f6e1" d="M558 1242l4-6 3 10 -5 5"/>
<path color="#ffb05d" d="M469 1127l5-3 2 6 -4 3"/>
<path color="#128977" d="M665 1248l5 0 2-7 -4 4"/>
<path color="#ffb44d" d="M492 1131l4 0 3 5 -5 1"/>
<path color="#6dee82" d="M618 1217l4 4 3 5 -5-4"/>
<path color="#236643" d="M367 1232l4 4 3-9 -5-4"/>
<path color="#e0ffff" d="M546 1237l5-3 2 12 -4 1"/>
<path color="#ffff9c" d="M526 1166l5 1 2 7 -4 1"/>
<path color="#dbffff" d="M539 1230l5-4 2 11 -4 3"/>
<path color="#6cc65b" d="M691 1215l5-6 2 5 -4 7"/>
<path color="#ffc96e" d="M480 1128l5-1 2 6 -4 1"/>
<path color="#aeffff" d="M553 1246l5-4 2 9 -4 2"/>
<path color="#ffa853" d="M454 1127l4-1 2 6 -4 1"/>
<path color="#7ce47d" d="M564 1215l4-6 3 13 -5 8"/>
<path color="#53e491" d="M625 1226l4 2 2 3 -4-2"/>
<path color="#358b57" d="M382 1231l5-7 2 2 -4 0"/>
<path color="#42e0ad" d="M562 1236l4-6 3 8 -4 8"/>
<path color="#ffff85" d="M520 1158l4 0 2 8 -4 0"/>
<path color="#b0d125" d="M574 1194l5-11 2 9 -4 10"/>
<path color="#e4ffe5" d="M537 1214l4-4 3 16 -5 4"/>
<path color="#ffffbf" d="M539 1194l4-1 3 13 -5 4"/>
<path color="#7cc549" d="M696 1209l4-5 3 3 -5 7"/>
<path color="#ffffad" d="M536 1183l4-1 3 11 -4 1"/>
<path color="#fffa69" d="M513 1151l4 0 3 7 -5-1"/>
<path color="#ffb13a" d="M499 1136l4 0 3 6 -5 0"/>
<path color="#2aa076" d="M643 1235l4 1 3 3 -5-2"/>
<path color="#45ab66" d="M398 1226l4-5 3 4 -5 5"/>
<path color="#ffcb39" d="M506 1142l4 2 3 7 -5-1"/>
<path color="#59b158" d="M402 1221l5-10 2 5 -4 9"/>
<path color="#ffbc63" d="M465 1129l4-2 3 6 -5 3"/>
<path color="#e2ffff" d="M542 1240l4-3 3 10 -4 2"/>
<path color="#86dd68" d="M568 1209l4 1 3 3 -4 9"/>
<path color="#e4ffff" d="M535 1232l4-2 3 10 -4 2"/>
<path color="#e3eb4e" d="M579 1183l4-5 2 8 -4 6"/>
<path color="#8bc439" d="M700 1204l4-7 3 5 -4 5"/>
<path color="#95aa15" d="M413 1192l4-8 3 3 -5 9"/>
<path color="#a67e00" d="M423 1165l4-8 3 3 -4 8"/>
<path color="#e0ffe8" d="M532 1217l5-3 2 16 -4 2"/>
<path color="#d9ffff" d="M549 1247l4-1 3 7 -4 0"/>
<path color="#246642" d="M351 1230l4 5 3-4 -4-8"/>
<path color="#ffffb7" d="M529 1175l4-1 3 9 -4 2"/>
<path color="#4ff1e7" d="M560 1251l5-5 2 8 -4 6"/>
<path color="#ffcd70" d="M476 1130l4-2 3 6 -4 2"/>
<path color="#ffc059" d="M487 1133l5-2 2 6 -4 2"/>
<path color="#ccfa50" d="M592 1194l5 6 2 4 -4-3"/>
<path color="#f7832f" d="M449 1131l5-4 2 6 -4 1"/>
<path color="#a9fb5e" d="M599 1204l5 2 2 5 -4-2"/>
<path color="#faffbb" d="M534 1196l5-2 2 16 -4 4"/>
<path color="#0f6657" d="M661 1246l4 2 3-3 -4-2"/>
<path color="#4ecf86" d="M566 1230l5-8 2 7 -4 9"/>
<path color="#85ca48" d="M572 1210l5-8 2 3 -4 8"/>
<path color="#9cc428" d="M704 1197l5-7 2 6 -4 6"/>
<path color="#ffd26f" d="M460 1132l5-3 2 7 -4 3"/>
<path color="#34a26d" d="M631 1231l5 2 2 0 -4-2"/>
<path color="#e9fe7c" d="M585 1186l5 7 2 1 -4-3"/>
<path color="#ffffa9" d="M522 1166l4 0 3 9 -4 2"/>
<path color="#dcffff" d="M538 1242l4-2 3 9 -5 5"/>
<path color="#6daf41" d="M407 1211l4-8 3 5 -5 8"/>
<path color="#146652" d="M650 1239l4 6 3-1 -5-3"/>
<path color="#a1ffff" d="M556 1253l4-2 3 9 -4-1"/>
<path color="#61b150" d="M290 1214l5 2 2 3 -4-3"/>
<path color="#27d5b7" d="M565 1246l4-8 3 7 -5 9"/>
<path color="#ffffb3" d="M532 1185l4-2 3 11 -5 2"/>
<path color="#366630" d="M317 1224l4-2 3-13 -4 5"/>
<path color="#3fe1a8" d="M681 1237l4-5 3 6 -4 4"/>
<path color="#95fb6e" d="M606 1211l5 1 2 4 -4-1"/>
<path color="#48d08c" d="M685 1232l5-5 2 4 -4 7"/>
<path color="#e0ffef" d="M528 1222l4-5 3 15 -4 1"/>
<path color="#2b764a" d="M378 1232l4-1 3-5 -4-3"/>
<path color="#dbffff" d="M531 1233l4-1 3 10 -5 2"/>
<path color="#41c280" d="M277 1233l5-5 2 3 -4 5"/>
<path color="#39ca92" d="M273 1237l4-4 3 3 -5 4"/>
<path color="#ffff90" d="M515 1157l5 1 2 8 -4 1"/>
<path color="#e6640f" d="M445 1134l4-3 3 3 -5 4"/>
<path color="#ffc462" d="M472 1133l4-3 3 6 -5 3"/>
<path color="#346632" d="M302 1220l4 1 2-3 -4-1"/>
<path color="#f2ffba" d="M530 1198l4-2 3 18 -5 3"/>
<path color="#36854f" d="M394 1225l4 1 2 4 -4-9"/>
<path color="#4cba6e" d="M282 1228l4-6 2 3 -4 6"/>
<path color="#ceffff" d="M545 1249l4-2 3 6 -5 4"/>
<path color="#ad6d00" d="M427 1157l5-10 2 4 -4 9"/>
<path color="#9a9b05" d="M417 1184l4-7 3-1 -4 11"/>
<path color="#b2c413" d="M709 1190l4-10 3 8 -5 8"/>
<path color="#31d2a2" d="M268 1241l5-4 2 3 -4 4"/>
<path color="#ffa532" d="M494 1137l5-1 2 6 -4 0"/>
<path color="#53c270" d="M690 1227l4-6 3 2 -5 8"/>
<path color="#ffe047" d="M508 1150l5 1 2 6 -4 1"/>
<path color="#80f77a" d="M613 1216l5 1 2 5 -4-2"/>
<path color="#ffca62" d="M483 1134l4-1 3 6 -4 1"/>
<path color="#a5d233" d="M577 1202l4-10 3 4 -5 9"/>
<path color="#ffffb7" d="M525 1177l4-2 3 10 -5 2"/>
<path color="#63c15e" d="M286 1222l4-8 3 2 -5 9"/>
<path color="#29663d" d="M362 1230l5 2 2-9 -4 0"/>
<path color="#35dba9" d="M677 1240l4-3 3 5 -5-1"/>
<path color="#ffd86f" d="M456 1133l4-1 3 7 -4 1"/>
<path color="#62c667" d="M571 1222l4-9 3 7 -5 9"/>
<path color="#d45a02" d="M441 1138l4-4 2 4 -4 3"/>
<path color="#29d7af" d="M264 1244l4-3 3 3 -4 3"/>
<path color="#ffa620" d="M501 1142l5 0 2 8 -4-2"/>
<path color="#336633" d="M340 1220l4 6 3-4 -5-10"/>
<path color="#ffffad" d="M527 1187l5-2 2 11 -4 2"/>
<path color="#c5ffff" d="M552 1253l4 0 3 6 -5 1"/>
<path color="#dff07a" d="M581 1192l4-6 3 5 -4 5"/>
<path color="#c2c004" d="M713 1180l4-1 3-1 -4 10"/>
<path color="#40ebea" d="M563 1260l4-6 3 7 -5 5"/>
<path color="#bb6400" d="M432 1147l4-5 3 4 -5 5"/>
<path color="#edffbe" d="M526 1200l4-2 2 19 -4 5"/>
<path color="#ffba52" d="M467 1136l5-3 2 6 -4 3"/>
<path color="#63e885" d="M620 1222l5 4 2 3 -4-3"/>
<path color="#a2fffa" d="M533 1244l5-2 2 12 -4-3"/>
<path color="#37c48f" d="M569 1238l4-9 3 7 -4 9"/>
<path color="#c85e00" d="M436 1142l5-4 2 3 -4 5"/>
<path color="#7da82b" d="M411 1203l4-7 3 1 -4 11"/>
<path color="#ffffa6" d="M518 1167l4-1 3 11 -5 1"/>
<path color="#65bf5b" d="M694 1221l4-7 3 1 -4 8"/>
<path color="#a9ffff" d="M540 1254l5-5 2 8 -4 2"/>
<path color="#28825b" d="M638 1233l5 2 2 2 -4-4"/>
<path color="#a0fbc8" d="M524 1224l4-2 3 11 -5 2"/>
<path color="#24dcba" d="M260 1245l4-1 3 3 -5 3"/>
<path color="#99ffff" d="M559 1259l4 1 2 6 -4 1"/>
<path color="#14cdc0" d="M567 1254l5-9 2 7 -4 9"/>
<path color="#ffbb50" d="M479 1136l4-2 3 6 -5 3"/>
<path color="#f4fea2" d="M588 1191l4 3 3 7 -4 0"/>
<path color="#88fddf" d="M526 1235l5-2 2 11 -4 1"/>
<path color="#356631" d="M313 1221l4 3 3-10 -5 4"/>
<path color="#d9fe8c" d="M595 1201l4 3 3 5 -4-2"/>
<path color="#79c44c" d="M698 1214l5-7 2 3 -4 5"/>
<path color="#3a662c" d="M328 1218l5 7 2-12 -4-8"/>
<path color="#9a8600" d="M421 1177l5-9 2 0 -4 8"/>
<path color="#ffffa6" d="M520 1178l5-1 2 10 -4 1"/>
<path color="#28ab82" d="M672 1241l5-1 2 1 -4-1"/>
<path color="#7cc74e" d="M575 1213l4-8 3 6 -4 9"/>
<path color="#146652" d="M657 1244l4 2 3-3 -5-2"/>
<path color="#fff45d" d="M511 1158l4-1 3 10 -5 2"/>
<path color="#fb9b2b" d="M490 1139l4-2 3 5 -4 2"/>
<path color="#feb343" d="M463 1139l4-3 3 6 -4 3"/>
<path color="#ffb851" d="M452 1134l4-1 3 7 -5 0"/>
<path color="#8ac940" d="M703 1207l4-5 3 4 -5 4"/>
<path color="#ffffa0" d="M523 1188l4-1 3 11 -4 2"/>
<path color="#b6fe7c" d="M602 1209l4 2 3 4 -4-1"/>
<path color="#3ca266" d="M627 1229l4 2 3 0 -4-2"/>
<path color="#b9ffff" d="M547 1257l5-4 2 7 -4 2"/>
<path color="#21e8cc" d="M255 1249l5-4 2 5 -4 4"/>
<path color="#97c832" d="M707 1202l4-6 3 5 -4 5"/>
<path color="#bef995" d="M521 1205l5-5 2 22 -4 2"/>
<path color="#519444" d="M297 1219l5 1 2-3 -4-1"/>
<path color="#50c273" d="M573 1229l5-9 2 7 -4 9"/>
<path color="#2d6639" d="M374 1227l4 5 3-9 -5-6"/>
<path color="#f9a133" d="M474 1139l5-3 2 7 -4 3"/>
<path color="#b0e155" d="M579 1205l5-9 2 12 -4 3"/>
<path color="#47daa0" d="M688 1238l4-7 3 4 -4 8"/>
<path color="#1b664b" d="M645 1237l5 2 2 2 -4-3"/>
<path color="#316635" d="M389 1226l5-1 2-4 -4-4"/>
<path color="#eafaa9" d="M584 1196l4-5 3 10 -5 7"/>
<path color="#fffd60" d="M513 1169l5-2 2 11 -4 1"/>
<path color="#9bfe84" d="M609 1215l4 1 3 4 -4 0"/>
<path color="#8a9d13" d="M415 1196l5-9 2-1 -4 11"/>
<path color="#c2ffff" d="M554 1260l5-1 2 8 -4 1"/>
<path color="#fdae17" d="M504 1148l4 2 3 8 -5-3"/>
<path color="#58fff9" d="M536 1251l4 3 3 5 -4-2"/>
<path color="#26c19c" d="M572 1245l4-9 2 8 -4 8"/>
<path color="#34e3eb" d="M565 1266l5-5 2 7 -4 6"/>
<path color="#a4c31f" d="M711 1196l5-8 2 7 -4 6"/>
<path color="#41efbc" d="M684 1242l4-4 3 5 -5-1"/>
<path color="#9c7500" d="M426 1168l4-8 3 1 -5 7"/>
<path color="#4f9748" d="M405 1225l4-9 3 1 -5 1"/>
<path color="#1a765c" d="M668 1245l4-4 3-1 -4 2"/>
<path color="#f9aa37" d="M459 1140l4-1 3 6 -5 1"/>
<path color="#f39827" d="M486 1140l4-1 3 5 -5 3"/>
<path color="#f98824" d="M447 1138l5-4 2 6 -4 1"/>
<path color="#fd8810" d="M497 1142l4 0 3 6 -4-5"/>
<path color="#ffffd8" d="M591 1201l4 0 3 6 -5 8"/>
<path color="#4ef8dd" d="M529 1245l4-1 3 7 -4-4"/>
<path color="#68a942" d="M409 1216l5-8 2 2 -4 7"/>
<path color="#4ec275" d="M692 1231l5-8 2 5 -4 7"/>
<path color="#94ffff" d="M561 1267l4-1 3 8 -4 0"/>
<path color="#96ffff" d="M543 1259l4-2 3 5 -5 1"/>
<path color="#fbff5d" d="M516 1179l4-1 3 10 -4 2"/>
<path color="#e8fd68" d="M519 1190l4-2 3 12 -5 5"/>
<path color="#09c5c7" d="M570 1261l4-9 3 8 -5 8"/>
<path color="#76f481" d="M616 1220l4 2 3 4 -5-1"/>
<path color="#336633" d="M347 1222l4 8 3-7 -5-10"/>
<path color="#2e6638" d="M358 1231l4-1 3-7 -4-7"/>
<path color="#3fbf80" d="M280 1236l4-5 3 3 -5 4"/>
<path color="#38662e" d="M308 1218l5 3 2-3 -4-3"/>
<path color="#36c590" d="M275 1240l5-4 2 2 -4 5"/>
<path color="#ee8f1f" d="M470 1142l4-3 3 7 -4 1"/>
<path color="#4ab970" d="M284 1231l4-6 3 3 -4 6"/>
<path color="#74d163" d="M578 1220l4-9 3 7 -5 9"/>
<path color="#b8be0b" d="M716 1188l4-10 3 7 -5 10"/>
<path color="#256641" d="M634 1231l4 2 3 0 -4-1"/>
<path color="#6dc456" d="M293 1216l4 3 3-3 -5 4"/>
<path color="#2dcb9f" d="M271 1244l4-4 3 3 -4 3"/>
<path color="#f8ffd6" d="M586 1208l5-7 2 14 -4 0"/>
<path color="#a76a00" d="M430 1160l4-9 3 3 -4 7"/>
<path color="#e7ffb3" d="M598 1207l4 2 3 5 -5-1"/>
<path color="#c1ffff" d="M550 1262l4-2 3 8 -5 2"/>
<path color="#e26606" d="M443 1141l4-3 3 3 -4 2"/>
<path color="#63c360" d="M697 1223l4-8 3 5 -5 8"/>
<path color="#5fbe5f" d="M288 1225l5-9 2 4 -4 8"/>
<path color="#39753c" d="M400 1230l5-5 2-7 -4-4"/>
<path color="#dcd109" d="M720 1178l4-3 3 4 -4 6"/>
<path color="#beef8b" d="M582 1211l4-3 3 7 -4 3"/>
<path color="#f9c617" d="M506 1155l5 3 2 11 -4-5"/>
<path color="#40c283" d="M576 1236l4-9 3 8 -5 9"/>
<path color="#25d1ad" d="M267 1247l4-3 3 2 -5 4"/>
<path color="#38e1aa" d="M679 1241l5 1 2 0 -4-1"/>
<path color="#e98517" d="M481 1143l5-3 2 7 -4-1"/>
<path color="#caffff" d="M557 1268l4-1 3 7 -5 2"/>
<path color="#19664d" d="M652 1241l5 3 2-3 -4-2"/>
<path color="#f49d2a" d="M454 1140l5 0 2 6 -4 2"/>
<path color="#b66300" d="M434 1151l5-5 2 1 -4 7"/>
<path color="#79a32a" d="M414 1208l4-11 2 1 -4 12"/>
<path color="#c85e00" d="M439 1146l4-5 3 2 -5 4"/>
<path color="#918b03" d="M420 1187l4-11 3-1 -5 11"/>
<path color="#ccffaa" d="M605 1214l4 1 3 5 -5 1"/>
<path color="#54c26e" d="M623 1226l4 3 3 0 -5-3"/>
<path color="#79cb54" d="M701 1215l4-5 3 5 -4 5"/>
<path color="#48eca7" d="M522 1230l4 5 3 10 -4-7"/>
<path color="#17c1ab" d="M574 1252l4-8 3 7 -4 9"/>
<path color="#23cee8" d="M568 1274l4-6 3 7 -4 6"/>
<path color="#17664f" d="M664 1243l4 2 3-3 -5-1"/>
<path color="#1fd9bc" d="M262 1250l5-3 2 3 -4 4"/>
<path color="#6be982" d="M519 1212l5 12 2 11 -4-5"/>
<path color="#89cf48" d="M705 1210l5-4 2 4 -4 5"/>
<path color="#54fffe" d="M539 1257l4 2 2 4 -4 2"/>
<path color="#e47b0d" d="M466 1145l4-3 3 5 -5 0"/>
<path color="#7bf4ff" d="M564 1274l4 0 3 7 -5 3"/>
<path color="#e9ffd2" d="M593 1215l5-8 2 6 -4 8"/>
<path color="#356631" d="M385 1226l4 0 3-9 -5-2"/>
<path color="#91c839" d="M710 1206l4-5 3 4 -5 5"/>
<path color="#36d9ae" d="M691 1243l4-8 2 8 -4 10"/>
<path color="#ef7305" d="M493 1144l4-2 3 1 -5 2"/>
<path color="#406626" d="M335 1213l5 7 2-8 -4-5"/>
<path color="#f6db12" d="M509 1164l4 5 3 10 -4-4"/>
<path color="#a9ffff" d="M545 1263l5-1 2 8 -4 1"/>
<path color="#1ae5d0" d="M258 1254l4-4 3 4 -4 4"/>
<path color="#26f8dd" d="M532 1247l4 4 3 6 -5-6"/>
<path color="#04b8c9" d="M572 1268l5-8 2 6 -4 9"/>
<path color="#96fe97" d="M612 1220l4 0 2 5 -4 1"/>
<path color="#daffc9" d="M589 1215l4 0 3 6 -4 2"/>
<path color="#226644" d="M641 1233l4 4 3 1 -4-4"/>
<path color="#66d577" d="M580 1227l5-9 2 8 -4 9"/>
<path color="#96bd28" d="M714 1201l4-6 3 5 -4 5"/>
<path color="#c6ffff" d="M552 1270l5-2 2 8 -4 2"/>
<path color="#3d6629" d="M304 1217l4 1 3-3 -4-1"/>
<path color="#37662f" d="M369 1223l5 4 2-10 -4-5"/>
<path color="#f58303" d="M500 1143l4 5 2 7 -4-5"/>
<path color="#42c381" d="M695 1235l4-7 3 7 -5 8"/>
<path color="#4a661c" d="M324 1209l4 9 3-13 -4-9"/>
<path color="#c1ffff" d="M559 1276l5-2 2 10 -4 2"/>
<path color="#c46305" d="M477 1146l4-3 3 3 -4-1"/>
<path color="#2dccaa" d="M686 1242l5 1 2 10 -4-4"/>
<path color="#aff2a0" d="M585 1218l4-3 3 8 -5 3"/>
<path color="#f18617" d="M450 1141l4-1 3 8 -4 0"/>
<path color="#a2e849" d="M517 1190l4 15 3 19 -5-12"/>
<path color="#18edde" d="M254 1254l4 0 3 4 -5 3"/>
<path color="#30c193" d="M578 1244l5-9 2 7 -4 9"/>
<path color="#f0e710" d="M512 1175l4 4 3 11 -5-8"/>
<path color="#fefb14" d="M727 1179l4 3 3 2 -4 0"/>
<path color="#2a9c72" d="M675 1240l4 1 3 0 -5 0"/>
<path color="#edffc6" d="M600 1213l5 1 2 7 -4 0"/>
<path color="#36814b" d="M630 1229l4 2 3 1 -5-3"/>
<path color="#3be9af" d="M525 1238l4 7 3 2 -5-8"/>
<path color="#917600" d="M424 1176l4-8 3-3 -4 10"/>
<path color="#c46103" d="M461 1146l5-1 2 2 -4-1"/>
<path color="#acbd12" d="M718 1195l5-10 2 4 -4 11"/>
<path color="#4cd4f7" d="M566 1284l5-3 2 6 -4 7"/>
<path color="#59c66f" d="M699 1228l5-8 2 8 -4 7"/>
<path color="#0cbeb6" d="M577 1260l4-9 3 7 -5 8"/>
<path color="#d8eb1d" d="M514 1182l5 8 2 15 -4-15"/>
<path color="#0fabdd" d="M571 1281l4-6 3 6 -5 6"/>
<path color="#8c990e" d="M418 1197l4-11 3 0 -5 12"/>
<path color="#c35f01" d="M488 1147l5-3 2 1 -4-1"/>
<path color="#0ee0d7" d="M249 1259l5-5 2 7 -4 2"/>
<path color="#6eea7d" d="M618 1225l5 1 2 0 -4 2"/>
<path color="#60feff" d="M541 1265l4-2 3 8 -4 1"/>
<path color="#3a662c" d="M396 1221l4 9 3-16 -4-6"/>
<path color="#a7feff" d="M555 1278l4-2 3 10 -4 2"/>
<path color="#90feff" d="M548 1271l4-1 3 8 -4 1"/>
<path color="#dedd0e" d="M723 1185l4-6 3 5 -5 5"/>
<path color="#1c664a" d="M659 1241l5 2 2-2 -4-2"/>
<path color="#bbffba" d="M607 1221l5-1 2 6 -4 1"/>
<path color="#92f9ff" d="M562 1286l4-2 3 10 -4 2"/>
<path color="#1f6647" d="M648 1238l4 3 3-2 -4-2"/>
<path color="#70ce61" d="M704 1220l4-5 2 7 -4 6"/>
<path color="#39662d" d="M354 1223l4 8 3-15 -5-8"/>
<path color="#bffaab" d="M596 1221l4-8 3 8 -5 5"/>
<path color="#23fdf2" d="M534 1251l5 6 2 8 -4-1"/>
<path color="#589038" d="M300 1216l4 1 3-3 -5 3"/>
<path color="#3fba7b" d="M282 1238l5-4 2 0 -4 5"/>
<path color="#51d084" d="M583 1235l4-9 3 7 -5 9"/>
<path color="#36bf8a" d="M278 1243l4-5 3 1 -4 5"/>
<path color="#e46b05" d="M446 1143l4-2 3 7 -5-3"/>
<path color="#589139" d="M412 1217l4-7 3 8 -5-1"/>
<path color="#49b46c" d="M287 1234l4-6 3 2 -5 4"/>
<path color="#02a8c6" d="M575 1275l4-9 3 7 -4 8"/>
<path color="#a14f00" d="M473 1147l4-1 3-1 -5-2"/>
<path color="#fdfe12" d="M734 1184l4-1 3 5 -4-1"/>
<path color="#2cc598" d="M274 1246l4-3 3 1 -5 4"/>
<path color="#7dcb51" d="M708 1215l4-5 3 7 -5 5"/>
<path color="#93f498" d="M592 1223l4-2 2 5 -4 3"/>
<path color="#976900" d="M428 1168l5-7 2-3 -4 7"/>
<path color="#ed9201" d="M502 1150l4 5 3 9 -4-7"/>
<path color="#3b662b" d="M381 1223l4 3 2-11 -4-6"/>
<path color="#7fe891" d="M587 1226l5-3 2 6 -4 4"/>
<path color="#e0f81f" d="M741 1188l4 8 3 2 -4-4"/>
<path color="#24cba7" d="M269 1250l5-4 2 2 -4 4"/>
<path color="#5ab55b" d="M291 1228l4-8 3 2 -4 8"/>
<path color="#21c1a1" d="M581 1251l4-9 3 7 -4 9"/>
<path color="#6cb94d" d="M295 1220l5-4 2 1 -4 5"/>
<path color="#82be3c" d="M712 1210l5-5 2 4 -4 8"/>
<path color="#1d6649" d="M671 1242l4-2 2 1 -4-1"/>
<path color="#a75200" d="M457 1148l4-2 3 0 -4-1"/>
<path color="#6d992c" d="M416 1210l4-12 3 8 -4 12"/>
<path color="#28663e" d="M637 1232l4 1 3 1 -5-2"/>
<path color="#1bd1b7" d="M265 1254l4-4 3 2 -4 5"/>
<path color="#29a37a" d="M682 1241l4 1 3 7 -5-7"/>
<path color="#446622" d="M342 1212l5 10 2-9 -4-10"/>
<path color="#a56300" d="M433 1161l4-7 3-1 -5 5"/>
<path color="#cc5f00" d="M441 1147l5-4 2 2 -4 4"/>
<path color="#4f6617" d="M320 1214l4-5 3-13 -5 4"/>
<path color="#7df58f" d="M614 1226l4-1 3 3 -4 3"/>
<path color="#b66000" d="M437 1154l4-7 3 2 -4 4"/>
<path color="#1ea98c" d="M693 1253l4-10 3 4 -4 3"/>
<path color="#66e1fc" d="M558 1288l4-2 3 10 -5 0"/>
<path color="#467730" d="M407 1218l5-1 2 0 -4-2"/>
<path color="#1994da" d="M569 1294l4-7 3 10 -5 4"/>
<path color="#33b784" d="M697 1243l5-8 2 6 -4 6"/>
<path color="#9d4a00" d="M484 1146l4 1 3-3 -4-2"/>
<path color="#32ecbb" d="M527 1239l5 8 2 4 -4 1"/>
<path color="#e76900" d="M495 1145l5-2 2 7 -4-7"/>
<path color="#04b7be" d="M579 1266l5-8 2 7 -4 8"/>
<path color="#12d9c8" d="M261 1258l4-4 3 3 -5 4"/>
<path color="#58be66" d="M625 1226l5 3 2 0 -4-1"/>
<path color="#c9ffc2" d="M603 1221l4 0 3 6 -5-2"/>
<path color="#4ce9fc" d="M551 1279l4-1 3 10 -5-2"/>
<path color="#8cb427" d="M717 1205l4-5 3-1 -5 10"/>
<path color="#0386c6" d="M573 1287l5-6 2 7 -4 9"/>
<path color="#37f0fc" d="M544 1272l4-1 3 8 -5-2"/>
<path color="#3e6628" d="M365 1223l4 0 3-11 -5-5"/>
<path color="#18f6fc" d="M537 1264l4 1 3 7 -5-2"/>
<path color="#e8a700" d="M505 1157l4 7 3 11 -5-9"/>
<path color="#958800" d="M422 1186l5-11 2-1 -4 12"/>
<path color="#4bc47a" d="M702 1235l4-7 3 6 -5 7"/>
<path color="#48661e" d="M315 1218l5-4 2-14 -4 7"/>
<path color="#36b0ec" d="M565 1296l4-2 2 7 -4 1"/>
<path color="#fefc1b" d="M730 1184l4 0 3 3 -5 2"/>
<path color="#994800" d="M468 1147l5 0 2-4 -4 1"/>
<path color="#3dc88e" d="M585 1242l5-9 2 7 -4 9"/>
<path color="#0ce0d7" d="M256 1261l5-3 2 3 -4 2"/>
<path color="#bad71d" d="M748 1198l4-1 3-3 -5 5"/>
<path color="#4d6619" d="M331 1205l4 8 3-6 -4-9"/>
<path color="#206646" d="M655 1239l4 2 3-2 -5-1"/>
<path color="#60cb6d" d="M706 1228l4-6 3 6 -4 6"/>
<path color="#0194be" d="M578 1281l4-8 3 7 -5 8"/>
<path color="#a9bb13" d="M721 1200l4-11 3 3 -4 7"/>
<path color="#b85700" d="M453 1148l4 0 3-3 -5 0"/>
<path color="#8cfca4" d="M610 1227l4-1 3 5 -5 1"/>
<path color="#a2f59b" d="M598 1226l5-5 2 4 -4 1"/>
<path color="#456621" d="M311 1215l4 3 3-11 -4 4"/>
<path color="#15836e" d="M689 1249l4 4 3-3 -5-5"/>
<path color="#13c1af" d="M584 1258l4-9 3 7 -5 9"/>
<path color="#266640" d="M644 1234l4 4 3-1 -5-3"/>
<path color="#dee013" d="M725 1189l5-5 2 5 -4 3"/>
<path color="#1f6647" d="M666 1241l5 1 2-2 -4-1"/>
<path color="#61da79" d="M518 1213l4 17 3 8 -5-5"/>
<path color="#58d584" d="M590 1233l4-4 3 4 -5 7"/>
<path color="#06dbd7" d="M252 1263l4-2 3 2 -4 2"/>
<path color="#1af4dd" d="M530 1252l4-1 3 13 -5-4"/>
<path color="#6fc356" d="M710 1222l5-5 2 0 -4 11"/>
<path color="#f6fd1b" d="M737 1187l4 1 3 6 -5 0"/>
<path color="#70e47e" d="M594 1229l4-3 3 0 -4 7"/>
<path color="#879710" d="M420 1198l5-12 2 6 -4 14"/>
<path color="#456621" d="M392 1217l4 4 3-13 -5-4"/>
<path color="#e4bb00" d="M507 1166l5 9 2 7 -4-9"/>
<path color="#6ce175" d="M621 1228l4-2 3 2 -4 1"/>
<path color="#479e57" d="M632 1229l5 3 2 0 -4-2"/>
<path color="#7e3700" d="M480 1145l4 1 3-4 -5-1"/>
<path color="#01abbf" d="M582 1273l4-8 3 7 -4 8"/>
<path color="#26805a" d="M677 1241l5 0 2 1 -4-2"/>
<path color="#50dc8d" d="M520 1233l5 5 2 1 -4-5"/>
<path color="#01cbcf" d="M248 1268l4-5 3 2 -5 3"/>
<path color="#13b6f3" d="M553 1286l5 2 2 8 -4-7"/>
<path color="#209feb" d="M560 1296l5 0 2 6 -4-5"/>
<path color="#446622" d="M376 1217l5 6 2-14 -4-5"/>
<path color="#517727" d="M307 1214l4 1 3-4 -5 3"/>
<path color="#cce81d" d="M744 1194l4 4 2 1 -4-1"/>
<path color="#7e3700" d="M464 1146l4 1 3-3 -4-1"/>
<path color="#987000" d="M427 1175l4-10 3-3 -5 12"/>
<path color="#a24400" d="M491 1144l4 1 3-2 -5-1"/>
<path color="#37be87" d="M281 1244l4-5 3 3 -5 4"/>
<path color="#2cc59c" d="M588 1249l4-9 3 8 -4 8"/>
<path color="#41b877" d="M285 1239l4-5 3 2 -4 6"/>
<path color="#cd5c00" d="M448 1145l5 3 2-3 -4 2"/>
<path color="#0cccf3" d="M546 1277l5 2 2 7 -4-5"/>
<path color="#2dc396" d="M276 1248l5-4 2 2 -4 5"/>
<path color="#7db639" d="M715 1217l4-8 3-1 -5 9"/>
<path color="#4bb267" d="M289 1234l5-4 2 1 -4 5"/>
<path color="#07def2" d="M539 1270l5 2 2 5 -4-4"/>
<path color="#456621" d="M403 1214l4 4 3-3 -4-11"/>
<path color="#e57200" d="M498 1143l4 7 3 7 -5-7"/>
<path color="#93ce44" d="M515 1180l4 32 3 18 -4-17"/>
<path color="#22c7a5" d="M272 1252l4-4 3 3 -4 5"/>
<path color="#abffb5" d="M605 1225l5 2 2 5 -4-4"/>
<path color="#00c7d3" d="M243 1269l5-1 2 0 -4 3"/>
<path color="#48661e" d="M349 1213l5 10 2-15 -4-7"/>
<path color="#ddc801" d="M510 1173l4 9 3 8 -4-9"/>
<path color="#18ccb4" d="M268 1257l4-5 3 4 -5 4"/>
<path color="#59b158" d="M294 1230l4-8 3 2 -5 7"/>
<path color="#67a038" d="M302 1217l5-3 2 0 -4 5"/>
<path color="#6ae57d" d="M617 1231l4-3 3 1 -5 3"/>
<path color="#08bdba" d="M586 1265l5-9 2 8 -4 8"/>
<path color="#08eceb" d="M532 1260l5 4 2 6 -4-5"/>
<path color="#ffff2d" d="M732 1189l5-2 2 7 -4 0"/>
<path color="#6bb54a" d="M298 1222l4-5 3 2 -4 5"/>
<path color="#256641" d="M651 1237l4 2 2-1 -4-3"/>
<path color="#55cf7b" d="M709 1234l4-6 3 10 -5-3"/>
<path color="#0fd2c4" d="M263 1261l5-4 2 3 -4 3"/>
<path color="#ca5d00" d="M444 1149l4-4 3 2 -4 3"/>
<path color="#45cc8a" d="M592 1240l5-7 2 7 -4 8"/>
<path color="#005496" d="M571 1301l5-4 2-3 -4 4"/>
<path color="#236643" d="M662 1239l4 2 3-2 -5-1"/>
<path color="#006299" d="M576 1297l4-9 3 2 -5 4"/>
<path color="#92b624" d="M719 1209l5-10 2 3 -4 6"/>
<path color="#a26500" d="M431 1165l4-7 3 0 -4 4"/>
<path color="#c4c814" d="M513 1181l4 9 2 22 -4-32"/>
<path color="#41af6f" d="M704 1241l5-7 2 1 -4 5"/>
<path color="#48661e" d="M361 1216l4 7 2-16 -4-6"/>
<path color="#60c465" d="M713 1228l4-11 3 11 -4 10"/>
<path color="#bf6100" d="M440 1153l4-4 3 1 -5 4"/>
<path color="#2b663b" d="M639 1232l5 2 2 0 -4-2"/>
<path color="#46e19b" d="M523 1234l4 5 3 13 -5-11"/>
<path color="#516615" d="M338 1207l4 5 3-9 -4-5"/>
<path color="#9ff7a3" d="M601 1226l4-1 3 3 -4 7"/>
<path color="#b16300" d="M435 1158l5-5 2 1 -4 4"/>
<path color="#0078a5" d="M580 1288l5-8 2 6 -4 4"/>
<path color="#662700" d="M475 1143l5 2 2-4 -4-1"/>
<path color="#68db74" d="M628 1228l4 1 3 1 -4 1"/>
<path color="#9a8d02" d="M425 1186l4-12 3 5 -5 13"/>
<path color="#1d6649" d="M684 1242l5 7 2-4 -4-6"/>
<path color="#66e085" d="M597 1233l4-7 3 9 -5 5"/>
<path color="#09d9d1" d="M259 1263l4-2 3 2 -5 2"/>
<path color="#298a61" d="M700 1247l4-6 3-1 -4-1"/>
<path color="#e5ec24" d="M728 1192l4-3 3 5 -5 3"/>
<path color="#226644" d="M673 1240l4 1 3-1 -4-1"/>
<path color="#6ff18f" d="M612 1232l5-1 2 1 -4 4"/>
<path color="#b6ca18" d="M724 1199l4-7 2 5 -4 5"/>
<path color="#00549f" d="M567 1302l4-1 3-3 -4 2"/>
<path color="#1bc5ab" d="M591 1256l4-8 3 8 -5 8"/>
<path color="#662800" d="M460 1145l4 1 3-3 -5-2"/>
<path color="#5a7b21" d="M419 1218l4-12 3-5 -5 8"/>
<path color="#e6f71e" d="M739 1194l5 0 2 4 -4-1"/>
<path color="#e58500" d="M500 1150l5 7 2 9 -4-8"/>
<path color="#008eac" d="M585 1280l4-8 2 7 -4 7"/>
<path color="#4d7023" d="M414 1217l5 1 2-9 -4-3"/>
<path color="#4d6619" d="M387 1215l5 2 2-13 -4-5"/>
<path color="#c0d313" d="M750 1199l5-5 2 2 -4 2"/>
<path color="#5c640a" d="M327 1196l4 9 3-7 -5-9"/>
<path color="#662500" d="M487 1142l4 2 2-2 -4-3"/>
<path color="#0090e2" d="M556 1289l4 7 3 1 -5-4"/>
<path color="#2ae8be" d="M525 1241l5 11 2 8 -4-4"/>
<path color="#05d7d2" d="M255 1265l4-2 2 2 -4 1"/>
<path color="#217554" d="M696 1250l4-3 3-8 -5-1"/>
<path color="#00aee8" d="M549 1281l4 5 3 3 -4-4"/>
<path color="#79b83f" d="M717 1217l5-9 2 6 -4 14"/>
<path color="#02a7b3" d="M589 1272l4-8 3 8 -5 7"/>
<path color="#34ca99" d="M595 1248l4-8 3 7 -4 9"/>
<path color="#00c8e8" d="M542 1273l4 4 3 4 -4-4"/>
<path color="#96fcb1" d="M608 1228l4 4 3 4 -4 0"/>
<path color="#6be074" d="M624 1229l4-1 3 3 -5 1"/>
<path color="#7c880e" d="M423 1206l4-14 3-2 -4 11"/>
<path color="#02dce4" d="M535 1265l4 5 3 3 -4-4"/>
<path color="#27663f" d="M657 1238l5 1 2-1 -4-2"/>
<path color="#662500" d="M471 1144l4-1 3-3 -5 1"/>
<path color="#8c3500" d="M455 1145l5 0 2-4 -4 2"/>
<path color="#4f6617" d="M372 1212l4 5 3-13 -5-6"/>
<path color="#2b663b" d="M646 1234l5 3 2-2 -4-1"/>
<path color="#02cccb" d="M250 1268l5-3 2 1 -4 3"/>
<path color="#005aa1" d="M563 1297l4 5 3-2 -5-1"/>
<path color="#f4fe2c" d="M735 1194l4 0 3 3 -5 1"/>
<path color="#e39a00" d="M503 1158l4 8 3 7 -4-6"/>
<path color="#4a9f54" d="M635 1230l4 2 3 0 -4 0"/>
<path color="#37bf88" d="M283 1246l5-4 2 2 -4 5"/>
<path color="#2cc397" d="M279 1251l4-5 3 3 -5 4"/>
<path color="#a67b00" d="M429 1174l5-12 2 7 -4 10"/>
<path color="#c44e00" d="M493 1142l5 1 2 7 -4-6"/>
<path color="#54de95" d="M599 1240l5-5 2 6 -4 6"/>
<path color="#c9e017" d="M746 1198l4 1 3-1 -4 0"/>
<path color="#4ec073" d="M716 1238l4-10 3 7 -5 5"/>
<path color="#42b876" d="M288 1242l4-6 3 1 -5 7"/>
<path color="#8ef6b1" d="M604 1235l4-7 3 8 -5 5"/>
<path color="#21c4a4" d="M275 1256l4-5 2 2 -4 5"/>
<path color="#0cb8b0" d="M593 1264l5-8 2 7 -4 9"/>
<path color="#266640" d="M669 1239l4 1 3-1 -5-2"/>
<path color="#97c02b" d="M722 1208l4-6 3 6 -5 6"/>
<path color="#4db164" d="M292 1236l4-5 3 1 -4 5"/>
<path color="#536613" d="M399 1208l4 6 3-10 -5-8"/>
<path color="#14e5d1" d="M528 1256l4 4 3 5 -4-4"/>
<path color="#16c6b0" d="M270 1260l5-4 2 2 -4 4"/>
<path color="#44b371" d="M711 1235l5 3 2 2 -4 0"/>
<path color="#00c4cb" d="M246 1271l4-3 3 1 -5 4"/>
<path color="#66da75" d="M619 1232l5-3 2 3 -4 2"/>
<path color="#256641" d="M680 1240l4 2 3-3 -4 0"/>
<path color="#def02c" d="M730 1197l5-3 2 4 -4 6"/>
<path color="#b84a00" d="M451 1147l4-2 3-2 -5 5"/>
<path color="#5aae55" d="M296 1231l5-7 2 2 -4 6"/>
<path color="#b6d625" d="M726 1202l4-5 3 7 -4 4"/>
<path color="#4c661a" d="M410 1215l4 2 3-11 -4-5"/>
<path color="#0ecabd" d="M266 1263l4-3 3 2 -5 3"/>
<path color="#216645" d="M691 1245l5 5 2-12 -4 0"/>
<path color="#67ae46" d="M301 1224l4-5 3 2 -5 5"/>
<path color="#22c2a2" d="M598 1256l4-9 3 7 -5 9"/>
<path color="#616405" d="M322 1200l5-4 2-7 -4 5"/>
<path color="#c25800" d="M447 1150l4-3 2 1 -4 5"/>
<path color="#688f27" d="M309 1214l5-3 2-2 -4 6"/>
<path color="#65b651" d="M720 1228l4-14 3 10 -4 11"/>
<path color="#662100" d="M482 1141l5 1 2-3 -4-2"/>
<path color="#70a939" d="M305 1219l4-5 3 1 -4 6"/>
<path color="#b46f00" d="M434 1162l4-4 2 3 -4 8"/>
<path color="#00c5d2" d="M242 1272l4-1 2 2 -4 3"/>
<path color="#5a7016" d="M314 1211l4-4 3-6 -5 8"/>
<path color="#cedf12" d="M757 1196l5-1 2 3 -4 2"/>
<path color="#9f9402" d="M427 1192l5-13 2 5 -4 6"/>
<path color="#57650f" d="M345 1203l4 10 3-12 -4-8"/>
<path color="#61dd7f" d="M615 1236l4-4 3 2 -4 3"/>
<path color="#c56300" d="M442 1154l5-4 2 3 -4 4"/>
<path color="#546512" d="M356 1208l5 8 2-15 -4-8"/>
<path color="#5b660b" d="M318 1207l4-7 3-6 -4 7"/>
<path color="#662300" d="M467 1143l4 1 2-3 -4-1"/>
<path color="#c06a00" d="M438 1158l4-4 3 3 -5 4"/>
<path color="#dcf21b" d="M742 1197l4 1 3 0 -5 2"/>
<path color="#08d4cc" d="M261 1265l5-2 2 2 -4 2"/>
<path color="#dcaa00" d="M506 1167l4 6 3 8 -5-5"/>
<path color="#5c660a" d="M334 1198l4 9 3-9 -5-3"/>
<path color="#69db72" d="M631 1231l4-1 3 2 -5 1"/>
<path color="#74d863" d="M516 1212l4 21 3 1 -4-9"/>
<path color="#33824f" d="M707 1240l4-5 3 5 -4-3"/>
<path color="#01c2d8" d="M237 1278l5-6 2 4 -4 3"/>
<path color="#546512" d="M383 1209l4 6 3-16 -4-6"/>
<path color="#3dd098" d="M602 1247l4-6 3 7 -4 6"/>
<path color="#69e696" d="M611 1236l4 0 3 1 -5 6"/>
<path color="#00a3df" d="M552 1285l4 4 2 4 -4-4"/>
<path color="#2b663b" d="M653 1235l4 3 3-2 -4-2"/>
<path color="#2f6637" d="M642 1232l4 2 3 0 -5-2"/>
<path color="#00bce2" d="M545 1277l4 4 3 4 -5-4"/>
<path color="#5ee19e" d="M606 1241l5-5 2 7 -4 5"/>
<path color="#e56a00" d="M496 1144l4 6 3 8 -4-5"/>
<path color="#2a663c" d="M664 1238l5 1 2-2 -4-2"/>
<path color="#0065a0" d="M558 1293l5 4 2 2 -4-4"/>
<path color="#c9dd14" d="M753 1198l4-2 3 4 -4 2"/>
<path color="#00d1df" d="M538 1269l4 4 3 4 -5-4"/>
<path color="#9acc3e" d="M513 1181l5 32 2 20 -4-21"/>
<path color="#85bc38" d="M724 1214l5-6 2 7 -4 9"/>
<path color="#07d9d2" d="M257 1266l4-1 3 2 -4 1"/>
<path color="#6bdb70" d="M519 1225l4 9 2 7 -4-14"/>
<path color="#e0f621" d="M737 1198l5-1 2 3 -4 3"/>
<path color="#b18c00" d="M432 1179l4-10 3 7 -5 8"/>
<path color="#28663e" d="M676 1239l4 1 3-1 -5 0"/>
<path color="#005370" d="M578 1294l5-4 2-8 -4 4"/>
<path color="#00627b" d="M583 1290l4-4 3-10 -5 6"/>
<path color="#006d80" d="M587 1286l4-7 3-5 -4 2"/>
<path color="#0ac0b5" d="M531 1261l4 4 3 4 -5-7"/>
<path color="#004766" d="M574 1298l4-4 3-8 -4 4"/>
<path color="#6adc73" d="M626 1232l5-1 2 2 -4 1"/>
<path color="#a33400" d="M489 1139l4 3 3 2 -4-4"/>
<path color="#007c87" d="M591 1279l5-7 2-1 -4 3"/>
<path color="#4be297" d="M521 1227l4 14 3 15 -4-5"/>
<path color="#58640e" d="M367 1207l5 5 2-14 -4-6"/>
<path color="#a1ca2b" d="M729 1208l4-4 3 4 -5 7"/>
<path color="#661e00" d="M478 1140l4 1 3-4 -5 0"/>
<path color="#29663d" d="M703 1239l4 1 3-3 -5-1"/>
<path color="#792500" d="M462 1141l5 2 2-3 -4-1"/>
<path color="#36c08a" d="M286 1249l4-5 3 3 -5 4"/>
<path color="#c5e225" d="M733 1204l4-6 3 5 -4 5"/>
<path color="#28663e" d="M687 1239l4 6 3-7 -4-2"/>
<path color="#038989" d="M596 1272l4-9 3 5 -5 3"/>
<path color="#2dc498" d="M281 1253l5-4 2 2 -4 5"/>
<path color="#04d3cf" d="M253 1269l4-3 3 2 -5 3"/>
<path color="#d0e517" d="M749 1198l4 0 3 4 -5 1"/>
<path color="#42b876" d="M290 1244l5-7 2 3 -4 7"/>
<path color="#004366" d="M570 1300l4-2 3-8 -5 4"/>
<path color="#22c3a2" d="M277 1258l4-5 3 3 -4 3"/>
<path color="#429d5b" d="M718 1240l5-5 2-1 -4 2"/>
<path color="#e58200" d="M499 1153l4 5 3 9 -5-5"/>
<path color="#d6a500" d="M508 1176l5 5 2-1 -4-12"/>
<path color="#109c8c" d="M600 1263l5-9 2 8 -4 6"/>
<path color="#bb7e00" d="M436 1169l4-8 3 6 -4 9"/>
<path color="#4a984e" d="M638 1232l4 0 2 0 -4 2"/>
<path color="#4fb061" d="M295 1237l4-5 2 1 -4 7"/>
<path color="#63d370" d="M622 1234l4-2 3 2 -5 2"/>
<path color="#57a952" d="M723 1235l4-11 3 2 -5 8"/>
<path color="#19c0a7" d="M273 1262l4-4 3 1 -5 2"/>
<path color="#01c8cc" d="M248 1273l5-4 2 2 -4 3"/>
<path color="#c7ac11" d="M511 1168l4 12 3 33 -5-32"/>
<path color="#5b620b" d="M394 1204l5 4 2-12 -4-8"/>
<path color="#22c2a0" d="M524 1251l4 5 3 5 -5-9"/>
<path color="#306636" d="M649 1234l4 1 3-1 -5-2"/>
<path color="#25b18d" d="M605 1254l4-6 2 6 -4 8"/>
<path color="#57640f" d="M406 1204l4 11 3-14 -5-9"/>
<path color="#2d6639" d="M660 1236l4 2 3-3 -4 0"/>
<path color="#9d3000" d="M458 1143l4-2 3-2 -5 4"/>
<path color="#c27000" d="M440 1161l5-4 2 3 -4 7"/>
<path color="#5aa94f" d="M299 1232l4-6 3 0 -5 7"/>
<path color="#828003" d="M426 1201l4-11 3 0 -5 3"/>
<path color="#11bfae" d="M268 1265l5-3 2-1 -4 4"/>
<path color="#c26400" d="M445 1157l4-4 3 3 -5 4"/>
<path color="#dff421" d="M744 1200l5-2 2 5 -4 1"/>
<path color="#57c871" d="M618 1237l4-3 2 2 -4 5"/>
<path color="#bb5400" d="M449 1153l4-5 3 2 -4 6"/>
<path color="#2b663b" d="M671 1237l5 2 2 0 -4-1"/>
<path color="#00bfcc" d="M244 1276l4-3 3 1 -4 3"/>
<path color="#38bc85" d="M609 1248l4-5 3 4 -5 7"/>
<path color="#b24200" d="M453 1148l5-5 2 0 -4 7"/>
<path color="#5d6309" d="M421 1209l5-8 2-8 -4-1"/>
<path color="#347c48" d="M714 1240l4 0 3-4 -4-6"/>
<path color="#004266" d="M565 1299l5 1 2-6 -4 1"/>
<path color="#49c27b" d="M613 1243l5-6 2 4 -4 6"/>
<path color="#2d6639" d="M698 1238l5 1 2-3 -4-2"/>
<path color="#ad9f00" d="M430 1190l4-6 3 3 -4 3"/>
<path color="#661c00" d="M473 1141l5-1 2-3 -4 1"/>
<path color="#66a53f" d="M303 1226l5-5 2-1 -4 6"/>
<path color="#606206" d="M341 1198l4 5 3-10 -5-5"/>
<path color="#00b4df" d="M547 1281l5 4 2 4 -4-4"/>
<path color="#646002" d="M329 1189l5 9 2-3 -4-9"/>
<path color="#0073a1" d="M554 1289l4 4 3 2 -4-3"/>
<path color="#70ad3d" d="M727 1224l4-9 3 3 -4 8"/>
<path color="#09c7be" d="M264 1267l4-2 3 0 -4 5"/>
<path color="#00bbcf" d="M240 1279l4-3 3 1 -5 4"/>
<path color="#00cadd" d="M540 1273l5 4 2 4 -4-5"/>
<path color="#5c610a" d="M379 1204l4 5 3-16 -5-6"/>
<path color="#63cc69" d="M633 1233l5-1 2 2 -4 1"/>
<path color="#5d6109" d="M352 1201l4 7 3-15 -5-5"/>
<path color="#6f9f30" d="M308 1221l4-6 2-1 -4 6"/>
<path color="#b89900" d="M434 1184l5-8 2 4 -4 7"/>
<path color="#e09200" d="M501 1162l5 5 2 9 -4-9"/>
<path color="#d9f328" d="M740 1203l4-3 3 4 -4 3"/>
<path color="#2d6639" d="M683 1239l4 0 3-3 -5 0"/>
<path color="#e35300" d="M492 1140l4 4 3 9 -5-5"/>
<path color="#759521" d="M312 1215l4-6 3-2 -5 7"/>
<path color="#c8da13" d="M756 1202l4-2 3 1 -5 1"/>
<path color="#842100" d="M485 1137l4 2 3 1 -5-6"/>
<path color="#00bad7" d="M235 1282l5-3 2 2 -4 3"/>
<path color="#069e9b" d="M533 1262l5 7 2 4 -4-7"/>
<path color="#90bb2c" d="M731 1215l5-7 2 2 -4 8"/>
<path color="#07d4ce" d="M260 1268l4-1 3 3 -5 1"/>
<path color="#b8d826" d="M736 1208l4-5 3 4 -5 3"/>
<path color="#ba8600" d="M439 1176l4-9 3 5 -5 8"/>
<path color="#5c610a" d="M417 1206l4 3 3-17 -4-3"/>
<path color="#75850f" d="M316 1209l5-8 2-2 -4 8"/>
<path color="#356631" d="M644 1232l5 2 2-2 -4-2"/>
<path color="#661b00" d="M469 1140l4 1 3-3 -4 0"/>
<path color="#5e6108" d="M363 1201l4 6 3-15 -4-4"/>
<path color="#36c38e" d="M288 1251l5-4 2 3 -4 4"/>
<path color="#62cb69" d="M629 1234l4-1 3 2 -5 1"/>
<path color="#316635" d="M656 1234l4 2 3-1 -5-2"/>
<path color="#2f6637" d="M694 1238l4 0 3-4 -4 1"/>
<path color="#004466" d="M561 1295l4 4 3-4 -4 1"/>
<path color="#326634" d="M710 1237l4 3 3-10 -5 1"/>
<path color="#c3dc1a" d="M751 1203l5-1 2 0 -4 7"/>
<path color="#41b978" d="M293 1247l4-7 3 3 -5 7"/>
<path color="#2f6637" d="M667 1235l4 2 3 1 -4-3"/>
<path color="#2ec99c" d="M284 1256l4-5 3 3 -4 4"/>
<path color="#16836d" d="M526 1252l5 9 2 1 -4-8"/>
<path color="#00bee0" d="M231 1283l4-1 3 2 -4 1"/>
<path color="#04d7d3" d="M255 1271l5-3 2 3 -4 2"/>
<path color="#706600" d="M325 1194l4-5 3-3 -4 4"/>
<path color="#bb7300" d="M443 1167l4-7 3 5 -4 7"/>
<path color="#777603" d="M321 1201l4-7 3-4 -5 9"/>
<path color="#25c8a3" d="M280 1259l4-3 3 2 -5 2"/>
<path color="#e56b00" d="M494 1148l5 5 2 9 -4-5"/>
<path color="#4fb060" d="M297 1240l4-7 3 2 -4 8"/>
<path color="#cbe928" d="M747 1204l4-1 3 6 -4 1"/>
<path color="#2f6637" d="M678 1239l5 0 2-3 -4-1"/>
<path color="#01cdd0" d="M251 1274l4-3 3 2 -4 3"/>
<path color="#5abf65" d="M624 1236l5-2 2 2 -4 3"/>
<path color="#605d06" d="M390 1199l4 5 3-16 -4-4"/>
<path color="#ba6200" d="M447 1160l5-4 2 2 -4 7"/>
<path color="#6cdf73" d="M517 1221l4 6 3 24 -5-9"/>
<path color="#8d2300" d="M465 1139l4 1 3-2 -5 1"/>
<path color="#1ec1a2" d="M275 1261l5-2 2 1 -4 2"/>
<path color="#94dc48" d="M514 1212l5 13 2 2 -4-6"/>
<path color="#acd42d" d="M512 1191l4 21 3 13 -5-13"/>
<path color="#b65200" d="M452 1156l4-6 3 2 -5 6"/>
<path color="#0098be" d="M550 1285l4 4 3 3 -5-4"/>
<path color="#e49502" d="M504 1167l4 9 3-8 -5 1"/>
<path color="#00c4dc" d="M543 1276l4 5 3 4 -5-5"/>
<path color="#645e02" d="M336 1195l5 3 2-10 -4-3"/>
<path color="#417c3b" d="M640 1234l4-2 3-2 -4 2"/>
<path color="#00c0ca" d="M247 1277l4-3 3 2 -5 3"/>
<path color="#5da74a" d="M301 1233l5-7 2 0 -4 9"/>
<path color="#661400" d="M480 1137l5 0 2-3 -4 0"/>
<path color="#599c43" d="M725 1234l5-8 2-2 -4 7"/>
<path color="#d2f431" d="M743 1207l4-3 3 6 -5 1"/>
<path color="#46a25b" d="M620 1241l4-5 3 3 -4 3"/>
<path color="#42813f" d="M721 1236l4-2 3-3 -5 2"/>
<path color="#b24000" d="M456 1150l4-7 3 2 -4 7"/>
<path color="#346632" d="M705 1236l5 1 2-6 -4 1"/>
<path color="#316635" d="M690 1236l4 2 3-3 -5 0"/>
<path color="#625f04" d="M401 1196l5 8 2-12 -4-8"/>
<path color="#beae00" d="M433 1190l4-3 3 3 -5 3"/>
<path color="#35a36e" d="M519 1242l5 9 2 1 -4-9"/>
<path color="#bca000" d="M437 1187l4-7 3 3 -4 7"/>
<path color="#18b9a1" d="M271 1265l4-4 3 1 -4 3"/>
<path color="#b33100" d="M460 1143l5-4 2 0 -4 6"/>
<path color="#348c58" d="M616 1247l4-6 3 1 -5 3"/>
<path color="#288860" d="M611 1254l5-7 2-2 -4 6"/>
<path color="#1d8165" d="M607 1262l4-8 3-3 -4 1"/>
<path color="#00b6c9" d="M242 1281l5-4 2 2 -4 6"/>
<path color="#049b9c" d="M536 1266l4 7 3 3 -5-5"/>
<path color="#615b05" d="M374 1198l5 6 2-17 -4-6"/>
<path color="#366630" d="M651 1232l5 2 2-1 -4-2"/>
<path color="#72a734" d="M730 1226l4-8 3-2 -5 8"/>
<path color="#13715e" d="M603 1268l4-6 3-10 -5 2"/>
<path color="#336633" d="M663 1235l4 0 3 0 -5-2"/>
<path color="#d4bf0e" d="M509 1179l4 2 3 31 -4-21"/>
<path color="#004966" d="M557 1292l4 3 3 1 -5-2"/>
<path color="#635b03" d="M348 1193l4 8 2-13 -4-6"/>
<path color="#6ba136" d="M306 1226l4-6 3-1 -5 7"/>
<path color="#e67c00" d="M497 1157l4 5 3 5 -5-6"/>
<path color="#0ebaac" d="M267 1270l4-5 3 0 -5 5"/>
<path color="#bee52f" d="M738 1210l5-3 2 4 -4 2"/>
<path color="#b68800" d="M441 1180l5-8 2 4 -4 7"/>
<path color="#0e6658" d="M598 1271l5-3 2-14 -4 3"/>
<path color="#c13100" d="M487 1134l5 6 2 8 -4-11"/>
<path color="#605d06" d="M413 1201l4 5 3-17 -5-4"/>
<path color="#97c22c" d="M734 1218l4-8 3 3 -4 3"/>
<path color="#918700" d="M428 1193l5-3 2 3 -4 0"/>
<path color="#316635" d="M674 1238l4 1 3-4 -4 0"/>
<path color="#00b1cd" d="M238 1284l4-3 3 4 -4 1"/>
<path color="#015c65" d="M581 1286l4-4 3-9 -4 6"/>
<path color="#0b645b" d="M594 1274l4-3 3-14 -4 5"/>
<path color="#005766" d="M577 1290l4-4 3-7 -5 4"/>
<path color="#4b9247" d="M636 1235l4-1 3-2 -5 1"/>
<path color="#08c7bf" d="M262 1271l5-1 2 0 -4 3"/>
<path color="#eaa003" d="M506 1169l5-1 2 13 -4-2"/>
<path color="#779d26" d="M310 1220l4-6 3-2 -4 7"/>
<path color="#066160" d="M585 1282l5-6 2-12 -4 9"/>
<path color="#37662f" d="M717 1230l4 6 2-3 -4-2"/>
<path color="#09635d" d="M590 1276l4-2 3-12 -5 2"/>
<path color="#36c791" d="M291 1254l4-4 3 2 -4 4"/>
<path color="#3ebb7d" d="M295 1250l5-7 2 5 -4 4"/>
<path color="#136653" d="M529 1254l4 8 3 4 -4-9"/>
<path color="#645b02" d="M359 1193l4 8 3-13 -5-5"/>
<path color="#661300" d="M476 1138l4-1 3-3 -4 0"/>
<path color="#005366" d="M572 1294l5-4 2-7 -4 2"/>
<path color="#b37200" d="M446 1172l4-7 3 2 -5 9"/>
<path color="#2fd0a0" d="M287 1258l4-4 3 2 -5 3"/>
<path color="#366630" d="M701 1234l4 2 3-4 -5-1"/>
<path color="#7f9617" d="M314 1214l5-7 2-1 -4 6"/>
<path color="#03d0cd" d="M258 1273l4-2 3 2 -4 3"/>
<path color="#346632" d="M685 1236l5 0 2-1 -4-1"/>
<path color="#4baf64" d="M300 1243l4-8 3 5 -5 8"/>
<path color="#b0ce1f" d="M750 1210l4-1 2-4 -4 6"/>
<path color="#4a9148" d="M631 1236l5-1 2-2 -4 1"/>
<path color="#b36000" d="M450 1165l4-7 3 2 -4 7"/>
<path color="#2ad0a6" d="M282 1260l5-2 2 1 -4 1"/>
<path color="#645802" d="M386 1193l4 6 3-15 -5-5"/>
<path color="#665700" d="M332 1186l4 9 3-10 -5-3"/>
<path color="#f49507" d="M499 1161l5 6 2 2 -4 2"/>
<path color="#00cbce" d="M254 1276l4-3 3 3 -5 2"/>
<path color="#37662f" d="M658 1233l5 2 2-2 -4-2"/>
<path color="#3b662b" d="M647 1230l4 2 3-1 -4-3"/>
<path color="#00bfda" d="M545 1280l5 5 2 3 -4-5"/>
<path color="#e34b00" d="M490 1137l4 11 3 9 -4-9"/>
<path color="#005166" d="M568 1295l4-1 3-9 -4 1"/>
<path color="#665c00" d="M424 1192l4 1 3 0 -4-7"/>
<path color="#888f09" d="M319 1207l4-8 3-2 -5 9"/>
<path color="#336633" d="M670 1235l4 3 3-3 -5 1"/>
<path color="#236643" d="M522 1243l4 9 3 2 -4-9"/>
<path color="#b5de2e" d="M745 1211l5-1 2 1 -4 6"/>
<path color="#7a1500" d="M472 1138l4 0 3-4 -5 1"/>
<path color="#b25000" d="M454 1158l5-6 2 3 -4 5"/>
<path color="#006883" d="M552 1288l5 4 2 2 -4-3"/>
<path color="#02999d" d="M538 1271l5 5 2 4 -4-5"/>
<path color="#4b8136" d="M712 1231l5-1 2 1 -4 1"/>
<path color="#5da649" d="M304 1235l4-9 3 2 -4 12"/>
<path color="#437c39" d="M697 1235l4-1 2-3 -4 4"/>
<path color="#25c8a3" d="M278 1262l4-2 3 0 -4 3"/>
<path color="#00bec6" d="M249 1279l5-3 2 2 -4 2"/>
<path color="#bca300" d="M440 1190l4-7 2 4 -4 5"/>
<path color="#b34000" d="M459 1152l4-7 3 2 -5 8"/>
<path color="#bcec3a" d="M741 1213l4-2 3 6 -5 1"/>
<path color="#665600" d="M343 1188l5 5 2-11 -4 2"/>
<path color="#468b45" d="M627 1239l4-3 3-2 -4-1"/>
<path color="#a42100" d="M467 1139l5-1 2-3 -4 7"/>
<path color="#655401" d="M370 1192l4 6 3-17 -4-6"/>
<path color="#8e8301" d="M323 1199l5-9 2-2 -4 9"/>
<path color="#ad9d00" d="M435 1193l5-3 2 2 -4 0"/>
<path color="#b73100" d="M463 1145l4-6 3 3 -4 5"/>
<path color="#b28800" d="M444 1183l4-7 3 2 -5 9"/>
<path color="#37662f" d="M681 1235l4 1 3-2 -4-1"/>
<path color="#00b2c2" d="M245 1285l4-6 3 1 -4 4"/>
<path color="#a51500" d="M483 1134l4 0 3 3 -4-6"/>
<path color="#7a6600" d="M328 1190l4-4 2-4 -4 6"/>
<path color="#e86600" d="M493 1148l4 9 2 4 -4-2"/>
<path color="#afe039" d="M737 1216l4-3 2 5 -4 2"/>
<path color="#faaf09" d="M502 1171l4-2 3 10 -4 1"/>
<path color="#005166" d="M564 1296l4-1 3-9 -5 0"/>
<path color="#1ebd9e" d="M274 1265l4-3 3 1 -5 2"/>
<path color="#665400" d="M397 1188l4 8 3-12 -4-8"/>
<path color="#6da83b" d="M728 1231l4-7 3-2 -5 7"/>
<path color="#645602" d="M408 1192l5 9 2-16 -4-8"/>
<path color="#70a333" d="M308 1226l5-7 2 2 -4 7"/>
<path color="#93de4c" d="M512 1209l5 12 2 21 -4-12"/>
<path color="#8dbf34" d="M732 1224l5-8 2 4 -4 2"/>
<path color="#3d6629" d="M643 1232l4-2 3-2 -5 2"/>
<path color="#106656" d="M532 1257l4 9 2 5 -4-10"/>
<path color="#15b5a0" d="M269 1270l5-5 2 0 -4 5"/>
<path color="#35c692" d="M294 1256l4-4 3 3 -5 4"/>
<path color="#5a993f" d="M723 1233l5-2 2-2 -4 2"/>
<path color="#519645" d="M692 1235l5 0 2 0 -4 1"/>
<path color="#3cb87c" d="M298 1252l4-4 3 1 -4 6"/>
<path color="#00aec3" d="M241 1286l4-1 3-1 -5-1"/>
<path color="#37662f" d="M665 1233l5 2 2 1 -4-1"/>
<path color="#3b763b" d="M623 1242l4-3 3-6 -5 1"/>
<path color="#ae7000" d="M448 1176l5-9 2 3 -4 8"/>
<path color="#eabe02" d="M505 1180l4-1 3 12 -5 1"/>
<path color="#5e9d3f" d="M708 1232l4-1 3 1 -5-2"/>
<path color="#3c662a" d="M654 1231l4 2 3-2 -4-1"/>
<path color="#61bc5b" d="M515 1230l4 12 3 1 -4-9"/>
<path color="#0bb9ae" d="M265 1273l4-3 3 0 -4 5"/>
<path color="#bdd620" d="M510 1193l4 19 3 9 -5-12"/>
<path color="#665200" d="M354 1188l5 5 2-10 -4-5"/>
<path color="#30d3a4" d="M289 1259l5-3 2 3 -4 3"/>
<path color="#d2c80a" d="M507 1192l5-1 2 21 -4-19"/>
<path color="#7ea123" d="M313 1219l4-7 3 2 -5 7"/>
<path color="#48ac65" d="M302 1248l5-8 2 0 -4 9"/>
<path color="#7e7200" d="M431 1193l4 0 3-1 -5-1"/>
<path color="#f18806" d="M495 1159l4 2 3 10 -4-2"/>
<path color="#316635" d="M618 1245l5-3 2-8 -4 4"/>
<path color="#04c0bc" d="M261 1276l4-3 3 2 -5 2"/>
<path color="#af5e00" d="M453 1167l4-7 3 3 -5 7"/>
<path color="#39662d" d="M677 1235l4 0 3-2 -5-1"/>
<path color="#005366" d="M559 1294l5 2 2-10 -4 1"/>
<path color="#59963d" d="M719 1231l4 2 3-2 -4 2"/>
<path color="#664f00" d="M381 1187l5 6 2-14 -4-5"/>
<path color="#665200" d="M420 1189l4 3 3-6 -5-11"/>
<path color="#008a9f" d="M548 1283l4 5 3 3 -4-4"/>
<path color="#3d6629" d="M638 1233l5-1 2-2 -4 0"/>
<path color="#2b663b" d="M614 1251l4-6 3-7 -4 4"/>
<path color="#226644" d="M525 1245l4 9 3 3 -5-8"/>
<path color="#665100" d="M339 1185l4 3 3-4 -5-1"/>
<path color="#2dd7aa" d="M285 1260l4-1 3 3 -4 1"/>
<path color="#01979e" d="M541 1275l4 5 3 3 -4-5"/>
<path color="#889a12" d="M317 1212l4-6 3 0 -4 8"/>
<path color="#a60d00" d="M479 1134l4 0 3-3 -5-2"/>
<path color="#b24f00" d="M457 1160l4-5 3 1 -4 7"/>
<path color="#01bfc0" d="M256 1278l5-2 2 1 -4 2"/>
<path color="#569a44" d="M688 1234l4 1 3 1 -5-1"/>
<path color="#abde39" d="M743 1218l5-1 2-2 -4 9"/>
<path color="#619d3c" d="M703 1231l5 1 2-2 -4 1"/>
<path color="#e82b00" d="M486 1131l4 6 3 11 -5-8"/>
<path color="#5da74a" d="M307 1240l4-12 3 2 -5 10"/>
<path color="#f3a407" d="M498 1169l4 2 3 9 -5-2"/>
<path color="#2a663c" d="M610 1252l4-1 3-9 -5-2"/>
<path color="#3b662b" d="M661 1231l4 2 3 2 -4-1"/>
<path color="#b54000" d="M461 1155l5-8 2 3 -4 6"/>
<path color="#b8f24f" d="M739 1220l4-2 3 6 -4 1"/>
<path color="#bba000" d="M442 1192l4-5 3 3 -4 1"/>
<path color="#664c00" d="M366 1188l4 4 3-17 -5-3"/>
<path color="#2bd1a7" d="M281 1263l4-3 3 3 -5 1"/>
<path color="#416625" d="M650 1228l4 3 3-1 -5-2"/>
<path color="#6fbd4e" d="M715 1232l4-1 3 2 -5 2"/>
<path color="#af8800" d="M446 1187l5-9 2 3 -4 9"/>
<path color="#ba3300" d="M466 1147l4-5 3 3 -5 5"/>
<path color="#00b5b9" d="M252 1280l4-2 3 1 -5 2"/>
<path color="#b01400" d="M474 1135l5-1 2-5 -4 11"/>
<path color="#3d6629" d="M634 1234l4-1 3-3 -4 1"/>
<path color="#8e8d05" d="M321 1206l5-9 2-2 -4 11"/>
<path color="#0d6659" d="M534 1261l4 10 3 4 -4-11"/>
<path color="#42813f" d="M518 1234l4 9 3 2 -5-8"/>
<path color="#bd2500" d="M470 1142l4-7 3 5 -4 5"/>
<path color="#3b662b" d="M672 1236l5-1 2-3 -4 0"/>
<path color="#005566" d="M555 1291l4 3 3-7 -4 2"/>
<path color="#6ab44a" d="M699 1235l4-4 3 0 -4 4"/>
<path color="#ade74c" d="M735 1222l4-2 3 5 -5 2"/>
<path color="#056361" d="M579 1283l5-4 2-7 -4 3"/>
<path color="#ed4801" d="M488 1140l5 8 2 11 -4-11"/>
<path color="#74a734" d="M311 1228l4-7 3 2 -4 7"/>
<path color="#00aeb8" d="M248 1284l4-4 2 1 -4 3"/>
<path color="#958100" d="M438 1192l4 0 3-1 -5-1"/>
<path color="#0a655c" d="M584 1279l4-6 3-10 -5 9"/>
<path color="#25c5a0" d="M276 1265l5-2 2 1 -4 2"/>
<path color="#2b663b" d="M605 1254l5-2 2-12 -4-1"/>
<path color="#664600" d="M393 1184l4 4 3-12 -5-8"/>
<path color="#ac7000" d="M451 1178l4-8 3 2 -5 9"/>
<path color="#32bd8b" d="M296 1259l5-4 2 1 -4 6"/>
<path color="#3cb579" d="M301 1255l4-6 2 3 -4 4"/>
<path color="#664b00" d="M334 1182l5 3 2-2 -4-3"/>
<path color="#665300" d="M427 1186l4 7 2-2 -4-8"/>
<path color="#664800" d="M350 1182l4 6 3-10 -4-5"/>
<path color="#8ece43" d="M730 1229l5-7 2 5 -4 1"/>
<path color="#4b8035" d="M684 1233l4 1 2 1 -4-2"/>
<path color="#664900" d="M404 1184l4 8 3-15 -4-7"/>
<path color="#e5a301" d="M500 1178l5 2 2 12 -4-22"/>
<path color="#907b00" d="M326 1197l4-9 3-1 -5 8"/>
<path color="#2cca9e" d="M292 1262l4-3 3 3 -5 2"/>
<path color="#4bb266" d="M305 1249l4-9 3 4 -5 8"/>
<path color="#1cb89d" d="M272 1270l4-5 3 1 -5 4"/>
<path color="#87e05a" d="M710 1230l5 2 2 3 -4-1"/>
<path color="#046162" d="M575 1285l4-2 3-8 -4-1"/>
<path color="#74ce5a" d="M695 1236l4-1 3 0 -5 2"/>
<path color="#156651" d="M588 1273l4-9 3-12 -4 11"/>
<path color="#7ec446" d="M726 1231l4-2 3-1 -4 3"/>
<path color="#ee6501" d="M491 1148l4 11 3 10 -5-10"/>
<path color="#2a663c" d="M601 1257l4-3 3-15 -4 3"/>
<path color="#83a522" d="M315 1221l5-7 2 1 -4 8"/>
<path color="#3f6627" d="M630 1233l4 1 3-3 -5-3"/>
<path color="#b05f00" d="M455 1170l5-7 2 3 -4 6"/>
<path color="#206646" d="M527 1249l5 8 2 4 -4-9"/>
<path color="#007b82" d="M544 1278l4 5 3 4 -5-5"/>
<path color="#11b2a1" d="M268 1275l4-5 2 0 -4 3"/>
<path color="#7b5d00" d="M330 1188l4-6 3-2 -4 7"/>
<path color="#664500" d="M377 1181l4 6 3-13 -4-5"/>
<path color="#406626" d="M657 1230l4 1 3 3 -5-4"/>
<path color="#3b662b" d="M668 1235l4 1 3-4 -5 2"/>
<path color="#446622" d="M645 1230l5-2 2 0 -4-2"/>
<path color="#236643" d="M597 1262l4-5 3-15 -5 7"/>
<path color="#1e6648" d="M592 1264l5-2 2-13 -4 3"/>
<path color="#ef4028" d="M481 1129l5 2 2 9 -4-2"/>
<path color="#664600" d="M415 1185l5 4 2-14 -4-7"/>
<path color="#2cd3a7" d="M288 1263l4-1 2 2 -4 1"/>
<path color="#bcdd24" d="M508 1201l4 8 3 21 -4-13"/>
<path color="#b55100" d="M460 1163l4-7 2 3 -4 7"/>
<path color="#005866" d="M551 1287l4 4 3-2 -5 1"/>
<path color="#0ab4aa" d="M263 1277l5-2 2-2 -4 2"/>
<path color="#80cf50" d="M722 1233l4-2 3 0 -5 3"/>
<path color="#65b34f" d="M309 1240l5-10 2 3 -4 11"/>
<path color="#96d943" d="M511 1217l4 13 3 4 -5-9"/>
<path color="#664400" d="M361 1183l5 5 2-16 -4-3"/>
<path color="#45cbf9" d="M340 1307l5 2 2 8 -4 1"/>
<path color="#066060" d="M571 1286l4-1 3-11 -5-1"/>
<path color="#665400" d="M433 1191l5 1 2-2 -4-3"/>
<path color="#1593da" d="M345 1309l4-12 3 14 -5 6"/>
<path color="#8f9d0e" d="M320 1214l4-8 3 0 -5 9"/>
<path color="#bc4300" d="M464 1156l4-6 3 3 -5 6"/>
<path color="#ea8200" d="M493 1159l5 10 2 9 -4-7"/>
<path color="#dea700" d="M503 1170l4 22 3 1 -4-8"/>
<path color="#8ee358" d="M706 1231l4-1 3 4 -4 2"/>
<path color="#0c665a" d="M537 1264l4 11 3 3 -5-11"/>
<path color="#3f6627" d="M679 1232l5 1 2 0 -4-1"/>
<path color="#dcc705" d="M506 1185l4 8 2 16 -4-8"/>
<path color="#7ad359" d="M690 1235l5 1 2 1 -4-2"/>
<path color="#c53801" d="M468 1150l5-5 2 3 -4 5"/>
<path color="#e64a2d" d="M477 1140l4-11 3 9 -4 5"/>
<path color="#aef75d" d="M737 1227l5-2 2 5 -4 2"/>
<path color="#326634" d="M520 1237l5 8 2 4 -4-9"/>
<path color="#d33106" d="M473 1145l4-5 3 3 -5 5"/>
<path color="#664400" d="M346 1184l4-2 3-9 -5 2"/>
<path color="#07b5ae" d="M259 1279l4-2 3-2 -5 2"/>
<path color="#436623" d="M625 1234l5-1 2-5 -4-2"/>
<path color="#85e15c" d="M717 1235l5-2 2 1 -4 3"/>
<path color="#2dd6a9" d="M283 1264l5-1 2 2 -4 1"/>
<path color="#ba8b00" d="M449 1190l4-9 3 1 -4 5"/>
<path color="#3aebff" d="M338 1288l4-2 3 23 -5-2"/>
<path color="#456621" d="M641 1230l4 0 3-4 -4 1"/>
<path color="#c7a200" d="M445 1191l4-1 3-3 -5 4"/>
<path color="#7eb537" d="M314 1230l4-7 3 1 -5 9"/>
<path color="#f87745" d="M484 1138l4 2 3 8 -5-2"/>
<path color="#3e6628" d="M664 1234l4 1 2-1 -4-1"/>
<path color="#23cde3" d="M342 1286l5-11 2 22 -4 12"/>
<path color="#86e15c" d="M702 1235l4-4 3 5 -5 2"/>
<path color="#056161" d="M566 1286l5 0 2-13 -4 4"/>
<path color="#663e00" d="M388 1179l5 5 2-16 -4-1"/>
<path color="#b57500" d="M453 1181l5-9 2 3 -4 7"/>
<path color="#a0ef57" d="M733 1228l4-1 3 5 -4 2"/>
<path color="#456621" d="M652 1228l5 2 2 0 -4-2"/>
<path color="#948d02" d="M324 1206l4-11 3 0 -4 11"/>
<path color="#63d288" d="M307 1252l5-8 2 4 -4 6"/>
<path color="#08ada6" d="M254 1281l5-2 2-2 -4-2"/>
<path color="#43d7ff" d="M336 1305l4 2 3 11 -4-1"/>
<path color="#43c07d" d="M303 1256l4-4 3 2 -4 2"/>
<path color="#2bd3a7" d="M279 1266l4-2 3 2 -5 1"/>
<path color="#7fde82" d="M312 1244l4-11 3 15 -5 0"/>
<path color="#416625" d="M621 1238l4-4 3-8 -4 4"/>
<path color="#8ff065" d="M713 1234l4 1 3 2 -4 1"/>
<path color="#36b882" d="M299 1262l4-6 3 0 -5 5"/>
<path color="#1f6647" d="M530 1252l4 9 3 3 -5-8"/>
<path color="#679d36" d="M513 1225l5 9 2 3 -4-9"/>
<path color="#664600" d="M341 1183l5 1 2-9 -4 5"/>
<path color="#0594ba" d="M349 1297l4-20 3 21 -4 13"/>
<path color="#036bb8" d="M347 1317l5-6 2-3 -4 7"/>
<path color="#664300" d="M422 1175l5 11 2-3 -4-10"/>
<path color="#426624" d="M675 1232l4 0 3 0 -5-2"/>
<path color="#b76400" d="M458 1172l4-6 3 2 -5 7"/>
<path color="#f77b30" d="M486 1146l5 2 2 11 -4-4"/>
<path color="#228fd1" d="M343 1318l4-1 3-2 -4 3"/>
<path color="#9b7f00" d="M440 1190l5 1 2 0 -4-2"/>
<path color="#90b121" d="M318 1223l4-8 3 0 -4 9"/>
<path color="#005f66" d="M546 1282l5 5 2 3 -4-5"/>
<path color="#9ae959" d="M729 1231l4-3 3 6 -5 1"/>
<path color="#e88401" d="M496 1171l4 7 3-8 -4 0"/>
<path color="#70b847" d="M686 1233l4 2 3 0 -4-1"/>
<path color="#046162" d="M562 1287l4-1 3-9 -5 2"/>
<path color="#663a00" d="M373 1175l4 6 3-12 -5-5"/>
<path color="#80dd5d" d="M697 1237l5-2 2 3 -4 0"/>
<path color="#2ebd8f" d="M294 1264l5-2 2-1 -4 2"/>
<path color="#466620" d="M637 1231l4-1 3-3 -5 0"/>
<path color="#663b00" d="M400 1176l4 8 3-14 -5-7"/>
<path color="#2deaff" d="M333 1283l5 5 2 19 -4-2"/>
<path color="#fda06d" d="M480 1143l4-5 2 8 -4 3"/>
<path color="#25caa4" d="M274 1270l5-4 2 1 -4 2"/>
<path color="#82d35b" d="M316 1233l5-9 2 14 -4 10"/>
<path color="#bf5701" d="M462 1166l4-7 3 3 -4 6"/>
<path color="#663c00" d="M411 1177l4 8 3-17 -5 0"/>
<path color="#663c00" d="M357 1178l4 5 3-14 -4-3"/>
<path color="#3e6628" d="M617 1242l4-4 3-8 -5 0"/>
<path color="#08665e" d="M539 1267l5 11 2 4 -4-5"/>
<path color="#f27139" d="M475 1148l5-5 2 6 -4 3"/>
<path color="#957700" d="M328 1195l5-8 2-2 -4 10"/>
<path color="#ce4f04" d="M466 1159l5-6 2 3 -4 6"/>
<path color="#96eb60" d="M724 1234l5-3 2 4 -4 2"/>
<path color="#98ffd7" d="M314 1248l5 0 2 13 -4-2"/>
<path color="#e15413" d="M471 1153l4-5 3 4 -5 4"/>
<path color="#95f668" d="M709 1236l4-2 3 4 -5 2"/>
<path color="#7ce59b" d="M319 1248l4-10 3 12 -5 11"/>
<path color="#664a00" d="M429 1183l4 8 3-4 -4-8"/>
<path color="#1ec1a4" d="M270 1273l4-3 3-1 -4 2"/>
<path color="#0079ac" d="M352 1311l4-13 3 2 -5 8"/>
<path color="#436623" d="M659 1230l5 4 2-1 -4-4"/>
<path color="#30ca9a" d="M290 1265l4-1 3-1 -4 1"/>
<path color="#f68f26" d="M489 1155l4 4 3 12 -4-7"/>
<path color="#2aa1e2" d="M339 1317l4 1 3 0 -5 2"/>
<path color="#744c00" d="M337 1180l4 3 3-3 -4-2"/>
<path color="#036063" d="M558 1289l4-2 2-8 -4 3"/>
<path color="#306636" d="M523 1240l4 9 3 3 -5-8"/>
<path color="#4ffdee" d="M335 1264l5-2 2 24 -4 2"/>
<path color="#1dbeb2" d="M347 1275l4-16 2 18 -4 20"/>
<path color="#9ea80b" d="M322 1215l5-9 2 0 -4 9"/>
<path color="#4a661c" d="M648 1226l4 2 3 0 -5-2"/>
<path color="#d7af11" d="M452 1187l4-5 3 6 -5 3"/>
<path color="#8b5f00" d="M333 1187l4-7 3-2 -5 7"/>
<path color="#92f168" d="M720 1237l4-3 3 3 -4 3"/>
<path color="#446622" d="M670 1234l5-2 2-2 -4-1"/>
<path color="#1fbfff" d="M332 1299l4 6 3 12 -5-2"/>
<path color="#18bfa7" d="M266 1275l4-2 3-2 -5 3"/>
<path color="#ffc784" d="M482 1149l4-3 3 9 -4 3"/>
<path color="#84dc58" d="M693 1235l4 2 3 1 -4-2"/>
<path color="#42e9c1" d="M340 1262l4-11 3 24 -5 11"/>
<path color="#8fc033" d="M321 1224l4-9 2 12 -4 11"/>
<path color="#81f5bd" d="M310 1254l4-6 3 11 -4-4"/>
<path color="#663700" d="M384 1174l4 5 3-12 -4-3"/>
<path color="#78eac5" d="M321 1261l5-11 2 9 -4 10"/>
<path color="#c48402" d="M456 1182l4-7 3 5 -4 8"/>
<path color="#ddd70b" d="M504 1194l4 7 3 16 -5-11"/>
<path color="#54822e" d="M682 1232l4 1 3 1 -5-1"/>
<path color="#32d7a6" d="M286 1266l4-1 3-1 -5 2"/>
<path color="#e7c510" d="M447 1191l5-4 2 4 -4 3"/>
<path color="#ee8d03" d="M499 1170l4 0 3 15 -5-7"/>
<path color="#8cf068" d="M704 1238l5-2 2 4 -4 1"/>
<path color="#4a661c" d="M632 1228l5 3 2-4 -4-3"/>
<path color="#406626" d="M612 1240l5 2 2-12 -4-2"/>
<path color="#67fffd" d="M331 1265l4-1 3 24 -5-5"/>
<path color="#016065" d="M553 1290l5-1 2-7 -4 1"/>
<path color="#c2df1e" d="M506 1206l5 11 2 8 -4-8"/>
<path color="#664d00" d="M436 1187l4 3 3-1 -4-5"/>
<path color="#74c554" d="M323 1238l4-11 3 11 -4 12"/>
<path color="#eeb703" d="M501 1178l5 7 2 16 -4-7"/>
<path color="#ffd086" d="M478 1152l4-3 3 9 -5 3"/>
<path color="#92fff0" d="M317 1259l4 2 3 8 -4-10"/>
<path color="#1d6649" d="M532 1256l5 8 2 3 -4-8"/>
<path color="#54812d" d="M516 1228l4 9 3 3 -5-8"/>
<path color="#126654" d="M582 1275l4-3 3-8 -5 2"/>
<path color="#13bfab" d="M261 1277l5-2 2-1 -4 2"/>
<path color="#97f973" d="M716 1238l4-1 3 3 -5 2"/>
<path color="#c36e01" d="M460 1175l5-7 2 4 -4 8"/>
<path color="#1a664c" d="M586 1272l5-9 2-9 -4 10"/>
<path color="#bcfe83" d="M731 1235l5-1 2 0 -4 7"/>
<path color="#21e4ff" d="M329 1278l4 5 3 22 -4-6"/>
<path color="#11aea7" d="M353 1277l5-11 2 14 -4 18"/>
<path color="#663200" d="M368 1172l5 3 2-11 -4-2"/>
<path color="#f8af42" d="M492 1164l4 7 3-1 -5 1"/>
<path color="#5ae293" d="M306 1256l4-2 3 1 -5 1"/>
<path color="#faa750" d="M473 1156l5-4 2 9 -4 3"/>
<path color="#34e4b4" d="M281 1267l5-1 2 0 -4 4"/>
<path color="#a29500" d="M327 1206l4-11 3 1 -5 10"/>
<path color="#ffd685" d="M485 1158l4-3 3 9 -5 3"/>
<path color="#1494e8" d="M334 1315l5 2 2 3 -4-3"/>
<path color="#64d276" d="M326 1250l4-12 3 9 -5 12"/>
<path color="#663400" d="M353 1173l4 5 3-12 -5-3"/>
<path color="#d76f0c" d="M465 1168l4-6 3 6 -5 4"/>
<path color="#0295ac" d="M356 1298l4-18 3 13 -4 7"/>
<path color="#ee8629" d="M469 1162l4-6 3 8 -4 4"/>
<path color="#84efc3" d="M328 1259l5-12 2 17 -4 1"/>
<path color="#046562" d="M542 1277l4 5 3 3 -4-5"/>
<path color="#4d6619" d="M644 1227l4-1 2 0 -4-2"/>
<path color="#456621" d="M666 1233l4 1 3-5 -4 2"/>
<path color="#a6f7e7" d="M324 1269l4-10 3 6 -4 0"/>
<path color="#4a661c" d="M655 1228l4 2 3-1 -5-2"/>
<path color="#87e761" d="M700 1238l4 0 3 3 -4-1"/>
<path color="#a1b717" d="M325 1215l4-9 3 11 -5 10"/>
<path color="#b8fe8e" d="M727 1237l4-2 3 6 -5 1"/>
<path color="#4ad088" d="M301 1261l5-5 2 0 -4 2"/>
<path color="#a78700" d="M443 1189l4 2 3 3 -4-2"/>
<path color="#78eda3" d="M333 1247l4-8 3 23 -5 2"/>
<path color="#136653" d="M578 1274l4 1 2-9 -4-4"/>
<path color="#35eac1" d="M277 1269l4-2 3 3 -4 3"/>
<path color="#8ad94f" d="M689 1234l4 1 3 1 -5-1"/>
<path color="#e8d31d" d="M454 1191l5-3 2 9 -4 7"/>
<path color="#fffcaa" d="M480 1161l5-3 2 9 -4 3"/>
<path color="#29663d" d="M591 1263l4-11 2-8 -4 10"/>
<path color="#663400" d="M418 1168l4 7 3-2 -5-7"/>
<path color="#99fd76" d="M711 1240l5-2 2 4 -4 0"/>
<path color="#663200" d="M407 1170l4 7 2-9 -4-6"/>
<path color="#82ffff" d="M327 1265l4 0 2 18 -4-5"/>
<path color="#00689c" d="M350 1315l4-7 3-3 -4 7"/>
<path color="#662d00" d="M395 1168l5 8 2-13 -4-7"/>
<path color="#456621" d="M608 1239l4 1 3-12 -4-3"/>
<path color="#016265" d="M549 1285l4 5 3-7 -5 2"/>
<path color="#9ec123" d="M509 1217l4 8 3 3 -4-8"/>
<path color="#005897" d="M346 1318l4-3 3-3 -5 4"/>
<path color="#466620" d="M677 1230l5 2 2 1 -4-2"/>
<path color="#2e6638" d="M525 1244l5 8 2 4 -4-9"/>
<path color="#53d288" d="M344 1251l4-13 3 21 -4 16"/>
<path color="#ca9602" d="M459 1188l4-8 3 7 -5 10"/>
<path color="#3fc98a" d="M297 1263l4-2 3-3 -4 4"/>
<path color="#1cccff" d="M327 1293l5 6 2 16 -4 1"/>
<path color="#94ffdb" d="M313 1255l4 4 3 0 -5 2"/>
<path color="#4f6617" d="M628 1226l4 2 3-4 -4-3"/>
<path color="#ffee8d" d="M487 1167l5-3 2 7 -4 6"/>
<path color="#fff08d" d="M476 1164l4-3 3 9 -4 3"/>
<path color="#3bc48c" d="M351 1259l4-13 3 20 -5 11"/>
<path color="#8fbf31" d="M327 1227l5-10 2 10 -4 11"/>
<path color="#a9fe8a" d="M723 1240l4-3 2 5 -4 3"/>
<path color="#30e8c5" d="M273 1271l4-2 3 4 -5 2"/>
<path color="#007ba3" d="M354 1308l5-8 2 0 -4 5"/>
<path color="#f6e21b" d="M450 1194l4-3 3 13 -4-5"/>
<path color="#a17a00" d="M331 1195l4-10 3 0 -4 11"/>
<path color="#83ce53" d="M330 1238l4-11 3 12 -4 8"/>
<path color="#662e00" d="M380 1169l4 5 3-10 -5-4"/>
<path color="#b7fff0" d="M320 1259l4 10 3-4 -5 1"/>
<path color="#fdc665" d="M494 1171l5-1 2 8 -4-1"/>
<path color="#346632" d="M595 1252l4-3 3-13 -5 8"/>
<path color="#3bd097" d="M293 1264l4-1 3-1 -5 5"/>
<path color="#753700" d="M348 1175l5-2 2-10 -4 3"/>
<path color="#ffda6f" d="M472 1168l4-4 3 9 -5 3"/>
<path color="#ffff97" d="M483 1170l4-3 3 10 -4 3"/>
<path color="#663c00" d="M425 1173l4 10 3-4 -5-6"/>
<path color="#d48508" d="M463 1180l4-8 3 6 -4 9"/>
<path color="#7de073" d="M337 1239l4-13 3 25 -4 11"/>
<path color="#662d00" d="M364 1169l4 3 3-10 -4 1"/>
<path color="#005296" d="M341 1320l5-2 2-2 -4 2"/>
<path color="#0f86ce" d="M330 1316l4-1 3 2 -4 0"/>
<path color="#f2a935" d="M467 1172l5-4 2 8 -4 2"/>
<path color="#18664e" d="M573 1273l5 1 2-12 -4-1"/>
<path color="#90f66e" d="M707 1241l4-1 3 2 -4 1"/>
<path color="#19664d" d="M535 1259l4 8 3 10 -4-15"/>
<path color="#456621" d="M604 1242l4-3 3-14 -5 4"/>
<path color="#8ae359" d="M696 1236l4 2 3 2 -5-1"/>
<path color="#506616" d="M639 1227l5 0 2-3 -4-1"/>
<path color="#3d6629" d="M599 1249l5-7 2-13 -4 7"/>
<path color="#38f4ff" d="M325 1278l4 0 3 21 -5-6"/>
<path color="#39deab" d="M288 1266l5-2 2 3 -4 4"/>
<path color="#24e0c1" d="M268 1274l5-3 2 4 -4 2"/>
<path color="#ffff9f" d="M479 1173l4-3 3 10 -5 3"/>
<path color="#ada605" d="M329 1206l5-10 2 8 -4 13"/>
<path color="#a6ff8f" d="M718 1242l5-2 2 5 -4 1"/>
<path color="#679f38" d="M518 1232l5 8 2 4 -4-9"/>
<path color="#0090ab" d="M359 1300l4-7 3 0 -5 7"/>
<path color="#49661d" d="M662 1229l4 4 3-2 -5-2"/>
<path color="#fbd752" d="M497 1177l4 1 3 16 -5-8"/>
<path color="#864300" d="M344 1180l4-5 3-9 -4 4"/>
<path color="#664200" d="M432 1179l4 8 3-3 -5-5"/>
<path color="#a4fcd1" d="M308 1256l5-1 2 6 -4 2"/>
<path color="#fff68c" d="M490 1177l4-6 3 6 -5 9"/>
<path color="#f5e92b" d="M499 1186l5 8 2 12 -4-7"/>
<path color="#40f1ce" d="M284 1270l4-4 3 5 -4 5"/>
<path color="#4f6617" d="M650 1226l5 2 2-1 -4-2"/>
<path color="#7dbb3d" d="M684 1233l5 1 2 1 -4-1"/>
<path color="#fff66a" d="M486 1180l4-3 2 9 -4 4"/>
<path color="#a46600" d="M335 1185l5-7 2-3 -4 10"/>
<path color="#9fffff" d="M322 1266l5-1 2 13 -4 0"/>
<path color="#516615" d="M624 1230l4-4 3-5 -5 0"/>
<path color="#ffffa4" d="M474 1176l5-3 2 10 -4 2"/>
<path color="#985300" d="M340 1178l4 2 3-10 -5 5"/>
<path color="#166650" d="M569 1277l4-4 3-12 -5 6"/>
<path color="#ecf11a" d="M502 1199l4 7 3 11 -4-6"/>
<path color="#ddcb0c" d="M457 1204l4-7 3 3 -5 3"/>
<path color="#4b661b" d="M673 1229l4 1 3 1 -4-2"/>
<path color="#16a797" d="M360 1280l5-18 2 14 -4 17"/>
<path color="#ffff97" d="M481 1183l5-3 2 10 -4 3"/>
<path color="#32b382" d="M358 1266l4-18 3 14 -5 18"/>
<path color="#cbfff0" d="M315 1261l5-2 2 7 -4 3"/>
<path color="#d0a504" d="M461 1197l5-10 2 3 -4 10"/>
<path color="#4ffeeb" d="M280 1273l4-3 3 6 -5 2"/>
<path color="#664900" d="M439 1184l4 5 3 3 -5-7"/>
<path color="#1cd8bd" d="M264 1276l4-2 3 3 -4 1"/>
<path color="#aab813" d="M332 1217l4-13 3 10 -5 13"/>
<path color="#1fd6ff" d="M323 1294l4-1 3 23 -4-5"/>
<path color="#9ac228" d="M512 1220l4 8 2 4 -4-7"/>
<path color="#9fca31" d="M334 1227l5-13 2 12 -4 13"/>
<path color="#95f3c8" d="M304 1258l4-2 3 7 -4 2"/>
<path color="#a3ff8d" d="M714 1242l4 0 3 4 -5 1"/>
<path color="#fee778" d="M470 1178l4-2 3 9 -5 2"/>
<path color="#116655" d="M564 1279l5-2 2-10 -4 3"/>
<path color="#8aed64" d="M703 1240l4 1 3 2 -5 0"/>
<path color="#00589b" d="M337 1317l4 3 3-2 -4-2"/>
<path color="#a98b00" d="M446 1192l4 2 3 5 -5-5"/>
<path color="#046562" d="M545 1280l4 5 2 0 -4-3"/>
<path color="#e7b32a" d="M466 1187l4-9 2 9 -4 3"/>
<path color="#b1ffa5" d="M725 1245l4-3 3 5 -4 2"/>
<path color="#7cce5a" d="M348 1238l5-14 2 22 -4 13"/>
<path color="#fff675" d="M492 1186l5-9 2 9 -4 4"/>
<path color="#3b8348" d="M528 1247l4 9 3 3 -4-9"/>
<path color="#ffffb8" d="M477 1185l4-2 3 10 -5 2"/>
<path color="#7c3200" d="M360 1166l4 3 3-6 -5 1"/>
<path color="#fff656" d="M488 1190l4-4 3 4 -4 10"/>
<path color="#662500" d="M391 1167l4 1 3-12 -5-1"/>
<path color="#0f7162" d="M560 1282l4-3 3-9 -4 5"/>
<path color="#3cfeeb" d="M275 1275l5-2 2 5 -4 5"/>
<path color="#662a00" d="M413 1168l5 0 2-2 -4-5"/>
<path color="#98d242" d="M341 1226l5-12 2 24 -4 13"/>
<path color="#8fde4f" d="M691 1235l5 1 2 3 -4-1"/>
<path color="#ffff8a" d="M484 1193l4-3 3 10 -5 2"/>
<path color="#662700" d="M375 1164l5 5 2-9 -4-1"/>
<path color="#72ecc4" d="M300 1262l4-4 3 7 -5 4"/>
<path color="#546612" d="M635 1224l4 3 3-4 -5-2"/>
<path color="#b18c00" d="M334 1196l4-11 2 8 -4 11"/>
<path color="#5bffff" d="M320 1278l5 0 2 15 -4 1"/>
<path color="#07a1a3" d="M363 1293l4-17 3 10 -4 7"/>
<path color="#5ebe62" d="M355 1246l5-11 2 13 -4 18"/>
<path color="#c8b80b" d="M453 1199l4 5 2-1 -4-3"/>
<path color="#0977b2" d="M326 1311l4 5 3 1 -5-4"/>
<path color="#662700" d="M402 1163l5 7 2-8 -4-5"/>
<path color="#bfffff" d="M318 1269l4-3 3 12 -5 0"/>
<path color="#eeffff" d="M311 1263l4-2 3 8 -4 2"/>
<path color="#ffff70" d="M495 1190l4-4 3 13 -4 7"/>
<path color="#526614" d="M619 1230l5 0 2-9 -4-3"/>
<path color="#e3f11a" d="M505 1211l4 6 3 3 -5-3"/>
<path color="#0c8276" d="M556 1283l4-1 3-7 -5 6"/>
<path color="#54ecc1" d="M295 1267l5-5 2 7 -4 3"/>
<path color="#156651" d="M538 1262l4 15 3 3 -5-14"/>
<path color="#ffffb2" d="M472 1187l5-2 2 10 -4 2"/>
<path color="#4f6617" d="M657 1227l5 2 2 0 -4-3"/>
<path color="#42f2c9" d="M291 1271l4-4 3 5 -4 6"/>
<path color="#536613" d="M646 1224l4 2 3-1 -4-2"/>
<path color="#b0ffab" d="M721 1246l4-1 3 4 -5 2"/>
<path color="#5c8226" d="M680 1231l4 2 3 1 -4-2"/>
<path color="#ffffbc" d="M479 1195l5-2 2 9 -4 2"/>
<path color="#93fb7b" d="M710 1243l4-1 2 5 -4 0"/>
<path color="#4dfae9" d="M287 1276l4-5 3 7 -5 5"/>
<path color="#ffff83" d="M491 1200l4-10 3 16 -5 1"/>
<path color="#4e6618" d="M669 1231l4-2 3 0 -5-2"/>
<path color="#66a43d" d="M521 1235l4 9 3 3 -4-7"/>
<path color="#ffff6d" d="M498 1206l4-7 3 12 -5 1"/>
<path color="#20f4db" d="M271 1277l4-2 3 8 -4-3"/>
<path color="#0088ac" d="M357 1305l4-5 3 3 -4 2"/>
<path color="#f7e973" d="M468 1190l4-3 3 10 -4 2"/>
<path color="#0077a3" d="M353 1312l4-7 3 0 -5 5"/>
<path color="#ddffff" d="M307 1265l4-2 3 8 -5 2"/>
<path color="#ffff8c" d="M486 1202l5-2 2 7 -4 3"/>
<path color="#067670" d="M551 1285l5-2 2-2 -4 5"/>
<path color="#8be55a" d="M698 1239l5 1 2 3 -4-2"/>
<path color="#54ffff" d="M282 1278l5-2 2 7 -4 3"/>
<path color="#662f00" d="M420 1166l5 7 2 0 -4-5"/>
<path color="#009ab4" d="M361 1300l5-7 2 4 -4 6"/>
<path color="#baa603" d="M336 1204l4-11 3 8 -4 13"/>
<path color="#963900" d="M355 1163l5 3 2-2 -4 2"/>
<path color="#e7cb22" d="M464 1200l4-10 3 9 -5 4"/>
<path color="#ddffff" d="M314 1271l4-2 2 9 -4 0"/>
<path color="#005081" d="M333 1317l4 0 3-1 -5-4"/>
<path color="#23dcfd" d="M319 1293l4 1 3 17 -5-6"/>
<path color="#005883" d="M348 1316l5-4 2-2 -4 2"/>
<path color="#bbc011" d="M339 1214l4-13 3 13 -5 12"/>
<path color="#b77601" d="M338 1185l4-10 3 8 -5 10"/>
<path color="#ffffb2" d="M475 1197l4-2 3 9 -4 2"/>
<path color="#7dffff" d="M316 1278l4 0 3 16 -4-1"/>
<path color="#aae33a" d="M514 1225l4 7 3 3 -4-3"/>
<path color="#a5ffa2" d="M716 1247l5-1 2 5 -4 1"/>
<path color="#752900" d="M371 1162l4 2 3-5 -4 4"/>
<path color="#663600" d="M427 1173l5 6 2 0 -4-5"/>
<path color="#a7fffc" d="M302 1269l5-4 2 8 -4 3"/>
<path color="#ffff9f" d="M493 1207l5-1 2 6 -4 1"/>
<path color="#dac001" d="M459 1203l5-3 2 3 -4-1"/>
<path color="#80bd3d" d="M687 1234l4 1 3 3 -4-2"/>
<path color="#34713c" d="M589 1264l4-10 3-9 -5 6"/>
<path color="#9dcc35" d="M353 1224l4-9 3 20 -5 11"/>
<path color="#662100" d="M387 1164l4 3 2-12 -4 0"/>
<path color="#29663d" d="M584 1266l5-2 2-13 -4-1"/>
<path color="#ffff86" d="M482 1204l4-2 3 8 -4 1"/>
<path color="#59660d" d="M631 1221l4 3 2-3 -4-2"/>
<path color="#71fff2" d="M298 1272l4-3 3 7 -5 4"/>
<path color="#47a25a" d="M531 1250l4 9 3 3 -5-7"/>
<path color="#57660f" d="M615 1228l4 2 3-12 -5-2"/>
<path color="#663e00" d="M434 1179l5 5 2 1 -4-5"/>
<path color="#bd6701" d="M342 1175l5-5 2 9 -4 4"/>
<path color="#a74500" d="M351 1166l4-3 3 3 -4 7"/>
<path color="#b7c923" d="M346 1214l4-13 3 23 -5 14"/>
<path color="#01a8af" d="M366 1293l4-7 3 3 -5 8"/>
<path color="#ddf326" d="M507 1217l5 3 2 5 -4-2"/>
<path color="#51ffef" d="M294 1278l4-6 2 8 -4 5"/>
<path color="#31f9ef" d="M278 1283l4-5 3 8 -5-5"/>
<path color="#89f067" d="M705 1243l5 0 2 4 -4-2"/>
<path color="#664900" d="M441 1185l5 7 2 2 -4-6"/>
<path color="#feff52" d="M500 1212l5-1 2 6 -4 1"/>
<path color="#ba5901" d="M347 1170l4-4 3 7 -5 6"/>
<path color="#e1ffff" d="M309 1273l5-2 2 7 -4 3"/>
<path color="#57660f" d="M642 1223l4 1 3-1 -5-1"/>
<path color="#5dfff9" d="M289 1283l5-5 2 7 -4 5"/>
<path color="#0395d1" d="M321 1305l5 6 2 2 -4 0"/>
<path color="#856d00" d="M448 1194l5 5 2 1 -4-4"/>
<path color="#ffff74" d="M471 1199l4-2 3 9 -5 1"/>
<path color="#3faa6b" d="M365 1262l4-18 3 14 -5 18"/>
<path color="#004566" d="M344 1318l4-2 3-4 -5-7"/>
<path color="#546612" d="M653 1225l4 2 3-1 -4-3"/>
<path color="#516615" d="M664 1229l5 2 2-4 -4-1"/>
<path color="#4e6618" d="M676 1229l4 2 3 1 -5-2"/>
<path color="#327a48" d="M580 1262l4 4 3-16 -4 6"/>
<path color="#662200" d="M409 1162l4 6 3-7 -4-4"/>
<path color="#61ae4e" d="M362 1248l5-18 2 14 -4 18"/>
<path color="#ffff6c" d="M489 1210l4-3 3 6 -4 2"/>
<path color="#497c32" d="M593 1254l4-10 3-8 -4 9"/>
<path color="#8c3300" d="M367 1163l4-1 3 1 -5 4"/>
<path color="#c49103" d="M340 1193l5-10 2 9 -4 9"/>
<path color="#b8ffff" d="M305 1276l4-3 3 8 -5 3"/>
<path color="#a3ffff" d="M312 1281l4-3 3 15 -5-2"/>
<path color="#8edd4f" d="M694 1238l4 1 3 2 -5-1"/>
<path color="#8af984" d="M712 1247l4 0 3 5 -4-1"/>
<path color="#25a681" d="M367 1276l5-18 2 8 -4 20"/>
<path color="#71c654" d="M524 1240l4 7 3 3 -5-4"/>
<path color="#47fffe" d="M285 1286l4-3 3 7 -5-2"/>
<path color="#fcf956" d="M478 1206l4-2 3 7 -5-2"/>
<path color="#136653" d="M540 1266l5 14 2 2 -4-13"/>
<path color="#09665d" d="M547 1282l4 3 3 1 -4-10"/>
<path color="#86b530" d="M360 1235l4-18 3 13 -5 18"/>
<path color="#661b00" d="M398 1156l4 7 3-6 -5-6"/>
<path color="#ccae06" d="M343 1201l4-9 3 9 -4 13"/>
<path color="#7dffff" d="M300 1280l5-4 2 8 -4 5"/>
<path color="#9e8700" d="M455 1200l4 3 3-1 -4-4"/>
<path color="#004766" d="M328 1313l5 4 2-5 -4-5"/>
<path color="#ffff71" d="M496 1213l4-1 3 6 -4 1"/>
<path color="#3deefd" d="M314 1291l5 2 2 12 -4-6"/>
<path color="#f5e724" d="M466 1203l5-4 2 8 -4-2"/>
<path color="#398f56" d="M576 1261l4 1 3-6 -5 5"/>
<path color="#5affff" d="M296 1285l4-5 3 9 -4 5"/>
<path color="#a6ec48" d="M517 1232l4 3 3 5 -5-2"/>
<path color="#ae4200" d="M362 1164l5-1 2 4 -4 2"/>
<path color="#661c00" d="M382 1160l5 4 2-9 -4-2"/>
<path color="#5d6609" d="M626 1221l5 0 2-2 -4-1"/>
<path color="#ce8304" d="M345 1183l4-4 3 7 -5 6"/>
<path color="#8afaa0" d="M719 1252l4-1 3 6 -4 0"/>
<path color="#ccbd12" d="M350 1201l4-8 3 22 -4 9"/>
<path color="#31905f" d="M571 1267l5-6 2 0 -4 6"/>
<path color="#5c7d21" d="M597 1244l5-8 2-11 -4 11"/>
<path color="#5c650a" d="M611 1225l4 3 2-12 -4-3"/>
<path color="#5e8223" d="M683 1232l4 2 3 2 -5-4"/>
<path color="#fbf92e" d="M485 1211l4-1 3 5 -5-2"/>
<path color="#08b9d6" d="M364 1303l4-6 3 3 -5 4"/>
<path color="#b2ffff" d="M307 1284l5-3 2 10 -4 1"/>
<path color="#fbff47" d="M503 1218l4-1 3 6 -5 1"/>
<path color="#8ce458" d="M701 1241l4 2 3 2 -5-3"/>
<path color="#278e67" d="M567 1270l4-3 3 0 -4 6"/>
<path color="#50ffff" d="M292 1290l4-5 3 9 -5 1"/>
<path color="#d5f739" d="M510 1223l4 2 3 7 -5-2"/>
<path color="#09bfcf" d="M368 1297l5-8 2 9 -4 2"/>
<path color="#004966" d="M340 1316l4 2 2-13 -4 1"/>
<path color="#5b660b" d="M637 1221l5 2 2-1 -4-1"/>
<path color="#1e9576" d="M563 1275l4-5 3 3 -5 5"/>
<path color="#662400" d="M416 1161l4 5 3 2 -4-6"/>
<path color="#17aa92" d="M370 1286l4-20 3 9 -4 14"/>
<path color="#42a461" d="M533 1255l5 7 2 4 -4-5"/>
<path color="#b0ba14" d="M357 1215l4-12 3 14 -4 18"/>
<path color="#00a0c5" d="M360 1305l4-2 2 1 -4 1"/>
<path color="#15a08a" d="M558 1281l5-6 2 3 -4 6"/>
<path color="#cf7104" d="M349 1179l5-6 2 4 -4 9"/>
<path color="#59660d" d="M649 1223l4 2 3-2 -5-1"/>
<path color="#556611" d="M660 1226l4 3 3-3 -4-2"/>
<path color="#f6ed24" d="M473 1207l5-1 2 3 -4-1"/>
<path color="#ce5101" d="M358 1166l4-2 3 5 -5 1"/>
<path color="#536613" d="M671 1227l5 2 2 1 -4-3"/>
<path color="#90ffff" d="M303 1289l4-5 3 8 -4 5"/>
<path color="#d49a08" d="M347 1192l5-6 2 7 -4 8"/>
<path color="#662c00" d="M423 1168l4 5 3 1 -4-6"/>
<path color="#07c9f7" d="M317 1299l4 6 3 8 -4-7"/>
<path color="#cf5c02" d="M354 1173l4-7 2 4 -4 7"/>
<path color="#008db6" d="M355 1310l5-5 2 0 -4 5"/>
<path color="#fbfd33" d="M492 1215l4-2 3 6 -5-2"/>
<path color="#82ec6b" d="M708 1245l4 2 3 4 -5-2"/>
<path color="#607112" d="M602 1236l4-7 3-14 -5 10"/>
<path color="#dfc101" d="M462 1202l4 1 3 2 -4-2"/>
<path color="#0a857b" d="M554 1286l4-5 3 3 -4 3"/>
<path color="#5c640a" d="M606 1229l5-4 2-12 -4 2"/>
<path color="#6da033" d="M690 1236l4 2 2 2 -4-5"/>
<path color="#663400" d="M430 1174l4 5 3 1 -4-5"/>
<path color="#79e870" d="M526 1246l5 4 2 5 -4-2"/>
<path color="#664900" d="M444 1188l4 6 3 2 -5-5"/>
<path color="#74fdff" d="M310 1292l4-1 3 8 -4 2"/>
<path color="#663d00" d="M437 1180l4 5 3 3 -5-6"/>
<path color="#771d00" d="M378 1159l4 1 3-7 -5 3"/>
<path color="#54ffff" d="M299 1294l4-5 3 8 -5-1"/>
<path color="#007aa4" d="M324 1313l4 0 3-6 -5 1"/>
<path color="#fcff4d" d="M499 1219l4-1 2 6 -4 1"/>
<path color="#0078a2" d="M351 1312l4-2 3 0 -5 2"/>
<path color="#0fb3ab" d="M373 1289l4-14 2 10 -4 13"/>
<path color="#75ed7f" d="M715 1251l4 1 3 5 -5-3"/>
<path color="#616605" d="M622 1218l4 3 3-3 -5-2"/>
<path color="#f1e808" d="M480 1209l5 2 2 2 -4-2"/>
<path color="#661900" d="M405 1157l4 5 3-5 -5-4"/>
<path color="#cda208" d="M354 1193l5-9 2 19 -4 12"/>
<path color="#41e4f3" d="M371 1300l4-2 3 10 -5-1"/>
<path color="#9ef45b" d="M519 1238l5 2 2 6 -4-2"/>
<path color="#d28107" d="M352 1186l4-9 3 7 -5 9"/>
<path color="#664f00" d="M451 1196l4 4 3-2 -5-3"/>
<path color="#006381" d="M335 1312l5 4 2-10 -4 2"/>
<path color="#f6ff4e" d="M505 1224l5-1 2 7 -4 0"/>
<path color="#c9fb4c" d="M512 1230l5 2 2 6 -4-2"/>
<path color="#661100" d="M393 1155l5 1 2-5 -4-5"/>
<path color="#90db4b" d="M696 1240l5 1 2 1 -4-1"/>
<path color="#14becb" d="M375 1298l4-13 3 18 -4 5"/>
<path color="#5f6607" d="M633 1219l4 2 3 0 -4-2"/>
<path color="#ead705" d="M469 1205l4 2 3 1 -4-1"/>
<path color="#9b2a00" d="M374 1163l4-4 2-3 -4 5"/>
<path color="#516615" d="M678 1230l5 2 2 0 -4-3"/>
<path color="#75ffff" d="M306 1297l4-5 3 9 -5 1"/>
<path color="#50a054" d="M587 1250l4 1 3 3 -4 5"/>
<path color="#5c660a" d="M644 1222l5 1 2-1 -4-1"/>
<path color="#579d47" d="M591 1251l5-6 2 4 -4 5"/>
<path color="#40e8f7" d="M366 1304l5-4 2 7 -4-1"/>
<path color="#6fa93a" d="M369 1244l4-19 3 14 -4 19"/>
<path color="#5a660c" d="M656 1223l4 3 3-2 -5-1"/>
<path color="#f2f007" d="M487 1213l5 2 2 2 -4-2"/>
<path color="#b83c00" d="M369 1167l5-4 2-2 -4 4"/>
<path color="#58660e" d="M667 1226l4 1 3 0 -4-2"/>
<path color="#5cc173" d="M583 1256l4-6 3 9 -5 6"/>
<path color="#17664f" d="M543 1269l4 13 3-6 -5-6"/>
<path color="#8eaa1f" d="M367 1230l4-18 2 13 -4 19"/>
<path color="#00759c" d="M346 1305l5 7 2 0 -4 1"/>
<path color="#2ac3db" d="M378 1308l4-5 3 9 -5 5"/>
<path color="#cf6604" d="M356 1177l4-7 3 4 -4 10"/>
<path color="#2af1fe" d="M313 1301l4-2 3 7 -5-2"/>
<path color="#56a550" d="M372 1258l4-19 3 8 -5 19"/>
<path color="#71fbff" d="M373 1307l5 1 2 9 -4-2"/>
<path color="#308555" d="M536 1261l4 5 3 3 -5-3"/>
<path color="#b99600" d="M458 1198l4 4 3 1 -5-3"/>
<path color="#5edc8f" d="M578 1261l5-5 2 9 -4 3"/>
<path color="#a7a30b" d="M364 1217l4-19 3 14 -4 18"/>
<path color="#cc4b01" d="M365 1169l4-2 3-2 -5 4"/>
<path color="#88e058" d="M703 1242l5 3 2 4 -4-3"/>
<path color="#0d6659" d="M550 1276l4 10 3 1 -5-8"/>
<path color="#f2fa20" d="M494 1217l5 2 2 6 -4-3"/>
<path color="#03b8f0" d="M320 1306l4 7 2-5 -4 4"/>
<path color="#4bd592" d="M574 1267l4-6 3 7 -4 4"/>
<path color="#6aa037" d="M596 1245l4-9 3 2 -5 11"/>
<path color="#661a00" d="M412 1157l4 4 3 1 -5-5"/>
<path color="#d35603" d="M360 1170l5-1 2 0 -4 5"/>
<path color="#6deb7e" d="M529 1253l4 2 3 6 -5-2"/>
<path color="#b89302" d="M361 1203l5-18 2 13 -4 19"/>
<path color="#e7d400" d="M476 1208l4 1 3 2 -4-1"/>
<path color="#35c794" d="M570 1273l4-6 3 5 -5 5"/>
<path color="#15d3ea" d="M362 1305l4-1 3 2 -4 0"/>
<path color="#f3ff48" d="M501 1225l4-1 3 6 -4 0"/>
<path color="#0080a1" d="M331 1307l4 5 3-4 -5 3"/>
<path color="#807e02" d="M617 1216l5 2 2-2 -4-2"/>
<path color="#4f6617" d="M685 1232l5 4 2-1 -4-4"/>
<path color="#92f96e" d="M522 1244l4 2 3 7 -4-2"/>
<path color="#c67903" d="M359 1184l4-10 3 11 -5 18"/>
<path color="#3ec0de" d="M380 1317l5-5 2 8 -4 5"/>
<path color="#68c45c" d="M710 1249l5 2 2 3 -4-4"/>
<path color="#44a763" d="M374 1266l5-19 2 11 -4 17"/>
<path color="#bafe5d" d="M515 1236l4 2 3 6 -4-1"/>
<path color="#e7ff56" d="M508 1230l4 0 3 6 -4-1"/>
<path color="#662200" d="M419 1162l4 6 3 0 -5-5"/>
<path color="#24a480" d="M565 1278l5-5 2 4 -4-3"/>
<path color="#660e00" d="M389 1155l4 0 3-9 -4 1"/>
<path color="#debd00" d="M465 1203l4 2 3 2 -5-2"/>
<path color="#78ffff" d="M376 1315l4 2 3 8 -4-1"/>
<path color="#636603" d="M629 1218l4 1 3 0 -5-2"/>
<path color="#662a00" d="M426 1168l4 6 3 1 -5-5"/>
<path color="#606606" d="M640 1221l4 1 3-1 -4-1"/>
<path color="#663e00" d="M439 1182l5 6 2 3 -4-6"/>
<path color="#6cffff" d="M369 1306l4 1 3 8 -4-1"/>
<path color="#663300" d="M433 1175l4 5 2 2 -4-5"/>
<path color="#0183a7" d="M342 1306l4-1 3 8 -4-1"/>
<path color="#07b7da" d="M358 1310l4-5 3 1 -5 2"/>
<path color="#30ad7d" d="M377 1275l4-17 3 11 -5 16"/>
<path color="#57660f" d="M674 1227l4 3 3-1 -4-2"/>
<path color="#6f9e2f" d="M692 1235l4 5 3 1 -4-4"/>
<path color="#7fa021" d="M600 1236l4-11 3 7 -4 6"/>
<path color="#17846d" d="M561 1284l4-6 3-4 -4 6"/>
<path color="#5e6608" d="M651 1222l5 1 2 0 -4-2"/>
<path color="#664700" d="M446 1191l5 5 2-1 -4-3"/>
<path color="#e9dd00" d="M483 1211l4 2 3 2 -5-2"/>
<path color="#61dd85" d="M590 1259l4-5 3 9 -5 6"/>
<path color="#661000" d="M400 1151l5 6 2-4 -4-4"/>
<path color="#67f5af" d="M585 1265l5-6 2 10 -4 5"/>
<path color="#5c660a" d="M663 1224l4 2 3-1 -5-2"/>
<path color="#49bce4" d="M383 1325l4-5 3 8 -4 5"/>
<path color="#1ba995" d="M379 1285l5-16 2 11 -4 23"/>
<path color="#5fc365" d="M594 1254l4-5 3 9 -4 5"/>
<path color="#019bc5" d="M326 1308l5-1 2 4 -4 2"/>
<path color="#62ffc1" d="M581 1268l4-3 3 9 -4 1"/>
<path color="#c95c03" d="M363 1174l4-5 3 7 -4 9"/>
<path color="#0e9ea4" d="M382 1303l4-23 3 7 -4 25"/>
<path color="#82fdff" d="M379 1324l4 1 3 8 -5 1"/>
<path color="#ecef06" d="M490 1215l4 2 3 5 -5-3"/>
<path color="#01a5d1" d="M353 1312l5-2 2-2 -4 3"/>
<path color="#781000" d="M385 1153l4 2 3-8 -5 5"/>
<path color="#7dbd41" d="M699 1241l4 1 3 4 -4-3"/>
<path color="#e0c600" d="M472 1207l4 1 3 2 -5-2"/>
<path color="#e4fa24" d="M497 1222l4 3 3 5 -5-3"/>
<path color="#9f7500" d="M453 1195l5 3 2 2 -4-4"/>
<path color="#0f7565" d="M557 1287l4-3 3-4 -5 0"/>
<path color="#9c9300" d="M613 1213l4 3 3-2 -4-2"/>
<path color="#e2ff4a" d="M504 1230l4 0 3 5 -5 0"/>
<path color="#7ff67b" d="M525 1251l4 2 2 6 -4-2"/>
<path color="#0695b2" d="M385 1312l4-25 3 16 -5 17"/>
<path color="#4bf1b2" d="M577 1272l4-4 3 7 -5 1"/>
<path color="#ce4e03" d="M367 1169l5-4 2 5 -4 6"/>
<path color="#05a1ca" d="M338 1308l4-2 3 6 -5 2"/>
<path color="#69ffff" d="M372 1314l4 1 3 9 -5-1"/>
<path color="#a6ff6b" d="M518 1243l4 1 3 7 -5-2"/>
<path color="#4db2ea" d="M386 1333l4-5 2 8 -4 6"/>
<path color="#46a862" d="M531 1259l5 2 2 5 -4-3"/>
<path color="#8b950b" d="M604 1225l5-10 2 4 -4 13"/>
<path color="#ceff5c" d="M511 1235l4 1 3 7 -5-2"/>
<path color="#9f1b00" d="M380 1156l5-3 2-1 -4 5"/>
<path color="#c83e02" d="M372 1165l4-4 3 2 -5 7"/>
<path color="#4efaff" d="M365 1306l4 0 3 8 -5 0"/>
<path color="#838101" d="M624 1216l5 2 2-1 -4 0"/>
<path color="#bf6f02" d="M366 1185l4-9 3 10 -5 12"/>
<path color="#bb2c01" d="M376 1161l4-5 3 1 -4 6"/>
<path color="#6fb344" d="M598 1249l5-11 2 4 -4 16"/>
<path color="#0286c1" d="M387 1320l5-17 2 16 -4 9"/>
<path color="#566610" d="M681 1229l4 3 3-1 -5-2"/>
<path color="#61a140" d="M706 1246l4 3 3 1 -4-3"/>
<path color="#636503" d="M636 1219l4 2 3-1 -5-2"/>
<path color="#661100" d="M407 1153l5 4 2 0 -4-5"/>
<path color="#8af5ff" d="M381 1334l5-1 2 9 -4 1"/>
<path color="#b88501" d="M368 1198l5-12 2 9 -4 17"/>
<path color="#daaf00" d="M460 1200l5 3 2 2 -4-2"/>
<path color="#246642" d="M538 1266l5 3 2 1 -4-7"/>
<path color="#01a8da" d="M349 1313l4-1 3-1 -4 2"/>
<path color="#948c00" d="M609 1215l4-2 3-1 -5 7"/>
<path color="#616605" d="M647 1221l4 1 3-1 -4-1"/>
<path color="#ae9805" d="M371 1212l4-17 3 12 -5 18"/>
<path color="#30bf90" d="M572 1277l5-5 2 4 -4 1"/>
<path color="#1b664b" d="M545 1270l5 6 2 3 -4-7"/>
<path color="#9ca411" d="M373 1225l5-18 2 11 -4 21"/>
<path color="#5c660a" d="M670 1225l4 2 3 0 -5-2"/>
<path color="#4cd48e" d="M592 1269l5-6 2 5 -4 5"/>
<path color="#0471c7" d="M390 1328l4-9 3 9 -5 8"/>
<path color="#e4cf00" d="M479 1210l4 1 2 2 -4-2"/>
<path color="#606606" d="M658 1223l5 1 2-1 -4-1"/>
<path color="#4ae3ab" d="M588 1274l4-5 3 4 -5 3"/>
<path color="#67f5ff" d="M374 1323l5 1 2 10 -4-3"/>
<path color="#05b6eb" d="M333 1311l5-3 2 6 -4 3"/>
<path color="#50c173" d="M597 1263l4-5 3 5 -5 5"/>
<path color="#4a9def" d="M388 1342l4-6 3 9 -4 5"/>
<path color="#89a921" d="M376 1239l4-21 3 12 -4 17"/>
<path color="#661800" d="M414 1157l5 5 2 1 -4-5"/>
<path color="#47833c" d="M713 1250l4 4 3 0 -4-4"/>
<path color="#4debf9" d="M360 1308l5-2 2 8 -4 0"/>
<path color="#83b12e" d="M603 1238l4-6 3 10 -5 0"/>
<path color="#526614" d="M688 1231l4 4 3 2 -5-6"/>
<path color="#662100" d="M421 1163l5 5 2 2 -4-5"/>
<path color="#cd6005" d="M370 1176l4-6 3 9 -4 7"/>
<path color="#7e0700" d="M396 1146l4 5 3-2 -4-6"/>
<path color="#74ffff" d="M367 1314l5 0 2 9 -4 0"/>
<path color="#deba00" d="M467 1205l5 2 2 1 -4-2"/>
<path color="#93e6ff" d="M384 1343l4-1 3 8 -5 2"/>
<path color="#662a00" d="M428 1170l5 5 2 2 -4-4"/>
<path color="#c5c00a" d="M620 1214l4 2 3 1 -4 5"/>
<path color="#04b5ec" d="M345 1312l4 1 3 0 -5 2"/>
<path color="#663400" d="M435 1177l4 5 3 3 -4-5"/>
<path color="#45e5b3" d="M584 1275l4-1 2 2 -4 1"/>
<path color="#ebe100" d="M485 1213l5 2 2 4 -4-3"/>
<path color="#663e00" d="M442 1185l4 6 3 1 -4-4"/>
<path color="#065ecb" d="M392 1336l5-8 2 10 -4 7"/>
<path color="#75ab37" d="M379 1247l4-17 3 11 -5 17"/>
<path color="#d2f82d" d="M499 1227l5 3 2 5 -4-2"/>
<path color="#136653" d="M552 1279l5 8 2-7 -4-6"/>
<path color="#e3f00e" d="M492 1219l5 3 2 5 -4-3"/>
<path color="#c9fd4d" d="M506 1235l5 0 2 6 -4 0"/>
<path color="#8cf772" d="M520 1249l5 2 2 6 -4-2"/>
<path color="#b1fe61" d="M513 1241l5 2 2 6 -4-2"/>
<path color="#208161" d="M568 1274l4 3 3 0 -4-3"/>
<path color="#6ae2ff" d="M377 1331l4 3 3 9 -5-2"/>
<path color="#5d8225" d="M695 1237l4 4 3 2 -5-3"/>
<path color="#d15005" d="M374 1170l5-7 2 10 -4 6"/>
<path color="#02b3ed" d="M329 1313l4-2 3 6 -4-1"/>
<path color="#5ead50" d="M381 1258l5-17 2 11 -4 17"/>
<path color="#9f6a00" d="M449 1192l4 3 3 1 -4-3"/>
<path color="#807d01" d="M631 1217l5 2 2-1 -4 0"/>
<path color="#66b650" d="M601 1258l4-16 3 6 -4 15"/>
<path color="#51ac5c" d="M527 1257l4 2 3 4 -4-3"/>
<path color="#4d8bf4" d="M391 1350l4-5 3 8 -5 4"/>
<path color="#c77204" d="M373 1186l4-7 3 9 -5 7"/>
<path color="#5b660b" d="M677 1227l4 2 2 0 -4-2"/>
<path color="#646502" d="M643 1220l4 1 3-1 -5 0"/>
<path color="#42ddf2" d="M356 1311l4-3 3 6 -4 1"/>
<path color="#46ae68" d="M384 1269l4-17 3 11 -5 17"/>
<path color="#9eb618" d="M607 1232l4-13 3 6 -4 17"/>
<path color="#08b9f5" d="M340 1314l5-2 2 3 -4 5"/>
<path color="#c73902" d="M379 1163l4-6 3 8 -5 8"/>
<path color="#636603" d="M654 1221l4 2 3-1 -4-1"/>
<path color="#74f7ff" d="M370 1323l4 0 3 8 -5 0"/>
<path color="#34c494" d="M579 1276l5-1 2 2 -4 1"/>
<path color="#606606" d="M665 1223l5 2 2 0 -4-1"/>
<path color="#04a0b2" d="M392 1303l4-12 3 11 -5 17"/>
<path color="#094dd1" d="M395 1345l4-7 3 9 -4 6"/>
<path color="#e4c600" d="M474 1208l5 2 2 1 -4-1"/>
<path color="#dca200" d="M456 1196l4 4 3 3 -4-3"/>
<path color="#56832c" d="M702 1243l4 3 3 1 -5-4"/>
<path color="#30b080" d="M386 1280l5-17 2 11 -4 13"/>
<path color="#8ac7ff" d="M386 1352l5-2 2 7 -4 2"/>
<path color="#18b19e" d="M389 1287l4-13 3 17 -4 12"/>
<path color="#78d2ff" d="M379 1341l5 2 2 9 -4-1"/>
<path color="#92ffff" d="M363 1314l4 0 3 9 -4 0"/>
<path color="#e9e019" d="M616 1212l4 2 3 8 -5-6"/>
<path color="#0086b4" d="M394 1319l5-17 2 10 -4 16"/>
<path color="#be8302" d="M375 1195l5-7 2 9 -4 10"/>
<path color="#950300" d="M392 1147l4-1 3-3 -5 4"/>
<path color="#830800" d="M403 1149l4 4 3-1 -4-5"/>
<path color="#ba2100" d="M383 1157l4-5 3 3 -4 10"/>
<path color="#1c664a" d="M564 1280l4-6 3 0 -5 1"/>
<path color="#cd6405" d="M377 1179l4-6 3 8 -4 7"/>
<path color="#2c663a" d="M534 1263l4 3 3-3 -4-2"/>
<path color="#2fdaf1" d="M352 1313l4-2 3 4 -5 1"/>
<path color="#7fb637" d="M605 1242l5 0 2-1 -4 7"/>
<path color="#cfcb12" d="M611 1219l5-7 2 4 -4 9"/>
<path color="#4ac076" d="M599 1268l5-5 2 4 -4 2"/>
<path color="#44c885" d="M595 1273l4-5 3 1 -5 4"/>
<path color="#b9b300" d="M627 1217l4 0 3 1 -4 2"/>
<path color="#a50c00" d="M387 1152l5-5 2 0 -4 8"/>
<path color="#e0b200" d="M463 1203l4 2 3 1 -5-1"/>
<path color="#05b2f1" d="M336 1317l4-3 3 6 -4-3"/>
<path color="#006fb2" d="M397 1328l4-16 3 10 -5 16"/>
<path color="#6be4ff" d="M372 1331l5 0 2 10 -4-1"/>
<path color="#b79501" d="M378 1207l4-10 3 9 -5 12"/>
<path color="#ebd700" d="M481 1211l4 2 3 3 -4-1"/>
<path color="#517cfa" d="M393 1357l5-4 2 8 -4 4"/>
<path color="#406626" d="M709 1247l4 3 3 0 -5-3"/>
<path color="#59660d" d="M683 1229l5 2 2 0 -4-1"/>
<path color="#bef135" d="M502 1233l4 2 3 6 -4-3"/>
<path color="#aff650" d="M509 1241l4 0 3 6 -5-1"/>
<path color="#0d3dd5" d="M398 1353l4-6 3 8 -5 6"/>
<path color="#92f163" d="M516 1247l4 2 3 6 -5-1"/>
<path color="#3ac78d" d="M590 1276l5-3 2 0 -4 3"/>
<path color="#851000" d="M410 1152l4 5 3 1 -4-5"/>
<path color="#d3ea18" d="M495 1224l4 3 3 6 -4-4"/>
<path color="#9affff" d="M366 1323l4 0 2 8 -4 1"/>
<path color="#228563" d="M575 1277l4-1 3 2 -5-3"/>
<path color="#7f7c00" d="M638 1218l5 2 2 0 -4-1"/>
<path color="#c54a02" d="M381 1173l5-8 2 6 -4 10"/>
<path color="#6babff" d="M382 1351l4 1 3 7 -4-2"/>
<path color="#e8e503" d="M488 1216l4 3 3 5 -4-4"/>
<path color="#90ffff" d="M359 1315l4-1 3 9 -5 0"/>
<path color="#28663e" d="M541 1263l4 7 3 2 -4-9"/>
<path color="#afa506" d="M380 1218l5-12 2 10 -4 14"/>
<path color="#15c8f6" d="M347 1315l5-2 2 3 -4 6"/>
<path color="#5bb55a" d="M604 1263l4-15 2 8 -4 11"/>
<path color="#99c129" d="M610 1242l4-17 3 13 -5 3"/>
<path color="#5f6607" d="M672 1225l5 2 2 0 -4-1"/>
<path color="#e3e10e" d="M623 1222l4-5 3 3 -5 5"/>
<path color="#656501" d="M650 1220l4 1 3 0 -5-1"/>
<path color="#841b00" d="M417 1158l4 5 3 2 -4-6"/>
<path color="#58ab53" d="M523 1255l4 2 3 3 -5-2"/>
<path color="#c57202" d="M380 1188l4-7 2 7 -4 9"/>
<path color="#668eff" d="M389 1359l4-2 3 8 -4 2"/>
<path color="#0059b2" d="M399 1338l5-16 2 10 -4 15"/>
<path color="#822700" d="M424 1165l4 5 3 3 -5-6"/>
<path color="#662a00" d="M431 1173l4 4 3 3 -5-5"/>
<path color="#663400" d="M438 1180l4 5 3 3 -5-6"/>
<path color="#57b8ff" d="M375 1340l4 1 3 10 -4 0"/>
<path color="#636603" d="M661 1222l4 1 3 1 -5-2"/>
<path color="#e6be00" d="M470 1206l4 2 3 2 -5-2"/>
<path color="#536613" d="M690 1231l5 6 2 3 -4-7"/>
<path color="#a1b114" d="M383 1230l4-14 3 11 -4 14"/>
<path color="#824f00" d="M445 1188l4 4 3 1 -5-3"/>
<path color="#1c664a" d="M559 1280l5 0 2-5 -4-4"/>
<path color="#206646" d="M548 1272l4 7 3-5 -4-4"/>
<path color="#edf529" d="M618 1216l5 6 2 3 -4 5"/>
<path color="#31ae7e" d="M586 1277l4-1 3 0 -4-3"/>
<path color="#cde12a" d="M614 1225l4-9 3 14 -4 8"/>
<path color="#8bb52a" d="M386 1241l4-14 3 12 -5 13"/>
<path color="#91fcff" d="M368 1332l4-1 3 9 -4 1"/>
<path color="#db9200" d="M452 1193l4 3 3 4 -5-4"/>
<path color="#bf2c01" d="M386 1165l4-10 3 7 -5 9"/>
<path color="#05aff0" d="M343 1320l4-5 3 7 -4-4"/>
<path color="#4c661a" d="M697 1240l5 3 2 0 -4-4"/>
<path color="#c10806" d="M399 1143l4 6 3-2 -5 1"/>
<path color="#94ffff" d="M361 1323l5 0 2 9 -4 0"/>
<path color="#374ff2" d="M396 1365l4-4 3 9 -5 0"/>
<path color="#c18202" d="M382 1197l4-9 3 9 -4 9"/>
<path color="#67ffff" d="M354 1316l5-1 2 8 -4 1"/>
<path color="#71b645" d="M388 1252l5-13 2 12 -4 12"/>
<path color="#0821c5" d="M400 1361l5-6 2 11 -4 4"/>
<path color="#c45802" d="M384 1181l4-10 3 8 -5 9"/>
<path color="#f1d402" d="M477 1210l4 1 3 4 -5-2"/>
<path color="#37b781" d="M393 1274l5-12 2 14 -4 15"/>
<path color="#1aae98" d="M396 1291l4-15 3 10 -4 16"/>
<path color="#57b861" d="M391 1263l4-12 3 11 -5 12"/>
<path color="#0044ac" d="M402 1347l4-15 3 8 -4 15"/>
<path color="#e2a800" d="M459 1200l4 3 2 2 -4-2"/>
<path color="#326634" d="M530 1260l4 3 3-2 -5-3"/>
<path color="#b5ab00" d="M634 1218l4 0 3 1 -4-1"/>
<path color="#7db73b" d="M608 1248l4-7 3 1 -5 14"/>
<path color="#3f84ff" d="M378 1351l4 0 3 6 -5 2"/>
<path color="#77810a" d="M679 1227l4 2 3 1 -4-2"/>
<path color="#4070ff" d="M385 1357l4 2 3 8 -5-7"/>
<path color="#206646" d="M571 1274l4 3 2-2 -4-3"/>
<path color="#0aa1a2" d="M399 1302l4-16 2 10 -4 16"/>
<path color="#807c00" d="M645 1220l5 0 2 0 -4 0"/>
<path color="#4ece81" d="M602 1269l4-2 3 4 -5 1"/>
<path color="#c51602" d="M390 1155l4-8 3 7 -4 8"/>
<path color="#82ca48" d="M511 1246l5 1 2 7 -4-4"/>
<path color="#95c934" d="M505 1238l4 3 2 5 -4-5"/>
<path color="#c19802" d="M385 1206l4-9 3 10 -5 9"/>
<path color="#5cc4ff" d="M371 1341l4-1 3 11 -5-5"/>
<path color="#7e8103" d="M668 1224l4 1 3 1 -5-2"/>
<path color="#eedd01" d="M484 1215l4 1 3 4 -5-2"/>
<path color="#d70d07" d="M394 1147l5-4 2 5 -4 6"/>
<path color="#48661e" d="M704 1243l5 4 2 0 -4-4"/>
<path color="#807e01" d="M657 1221l4 1 2 0 -4-1"/>
<path color="#257e59" d="M582 1278l4-1 3-4 -5 1"/>
<path color="#73e1ff" d="M364 1332l4 0 3 9 -5 4"/>
<path color="#a9c51c" d="M498 1229l4 4 3 5 -5-7"/>
<path color="#9cc930" d="M612 1241l5-3 2 1 -4 3"/>
<path color="#59c068" d="M606 1267l4-11 3 4 -4 11"/>
<path color="#4566ff" d="M392 1367l4-2 2 5 -4-7"/>
<path color="#e9b700" d="M465 1205l5 1 2 2 -4-1"/>
<path color="#c9150e" d="M406 1147l4 5 3 1 -5-4"/>
<path color="#5ea648" d="M518 1254l5 1 2 3 -4-3"/>
<path color="#c76d03" d="M386 1188l5-9 2 9 -4 9"/>
<path color="#29defe" d="M350 1322l4-6 3 8 -4-4"/>
<path color="#dcdf08" d="M491 1220l4 4 3 5 -5-7"/>
<path color="#d0c600" d="M630 1220l4-2 3 0 -5 4"/>
<path color="#4cd085" d="M597 1273l5-4 2 3 -4 0"/>
<path color="#0292a8" d="M401 1312l4-16 3 10 -4 16"/>
<path color="#c53e02" d="M388 1171l5-9 2 8 -4 9"/>
<path color="#bbdf2f" d="M617 1238l4-8 3 5 -5 4"/>
<path color="#beae05" d="M387 1216l5-9 2 10 -4 10"/>
<path color="#5eedff" d="M357 1324l4-1 3 9 -5 0"/>
<path color="#cce01f" d="M621 1230l4-5 3 5 -4 5"/>
<path color="#cdd009" d="M625 1225l5-5 2 2 -4 8"/>
<path color="#236643" d="M555 1274l4 6 3-9 -5-4"/>
<path color="#c91c03" d="M413 1153l4 5 3 1 -5-1"/>
<path color="#5b660b" d="M686 1230l4 1 3 2 -4-2"/>
<path color="#b1bb10" d="M390 1227l4-10 3 10 -4 12"/>
<path color="#336633" d="M537 1261l4 2 3 0 -5-5"/>
<path color="#f7d205" d="M472 1208l5 2 2 3 -4-1"/>
<path color="#c32700" d="M420 1159l4 6 2 2 -4-5"/>
<path color="#a23000" d="M426 1167l5 6 2 2 -4-5"/>
<path color="#843500" d="M433 1175l5 5 2 2 -4-4"/>
<path color="#007ea9" d="M404 1322l4-16 3 10 -5 16"/>
<path color="#ca8704" d="M389 1197l4-9 3 10 -4 9"/>
<path color="#1923e1" d="M398 1370l5 0 2 3 -4 3"/>
<path color="#834100" d="M440 1182l5 6 2 2 -4-6"/>
<path color="#00339d" d="M405 1355l4-15 3 0 -5 26"/>
<path color="#3bad72" d="M593 1276l4-3 3-1 -4 3"/>
<path color="#7bc44b" d="M610 1256l5-14 2 10 -4 8"/>
<path color="#99be26" d="M393 1239l4-12 2 11 -4 13"/>
<path color="#b6ab00" d="M641 1219l4 1 3 0 -5-1"/>
<path color="#cd2904" d="M393 1162l4-8 3 8 -5 8"/>
<path color="#bd7100" d="M447 1190l5 3 2 3 -4-4"/>
<path color="#cb5704" d="M391 1179l4-9 3 10 -5 8"/>
<path color="#969c06" d="M675 1226l4 1 3 1 -5-1"/>
<path color="#7bbb41" d="M395 1251l4-13 3 12 -4 12"/>
<path color="#256641" d="M566 1275l5-1 2-2 -4-4"/>
<path color="#556611" d="M693 1233l4 7 3-1 -4-4"/>
<path color="#f8e609" d="M479 1213l5 2 2 3 -4 3"/>
<path color="#9c9500" d="M652 1220l5 1 2 0 -4 0"/>
<path color="#39662d" d="M525 1258l5 2 2-2 -4-4"/>
<path color="#e09800" d="M454 1196l5 4 2 3 -4-4"/>
<path color="#0118af" d="M403 1370l4-4 3-14 -5 21"/>
<path color="#f6201b" d="M401 1148l5-1 2 2 -4 5"/>
<path color="#9c9a01" d="M663 1222l5 2 2 0 -4-1"/>
<path color="#226644" d="M577 1275l5 3 2-4 -4-2"/>
<path color="#ca9f04" d="M392 1207l4-9 3 10 -5 9"/>
<path color="#5cb65a" d="M398 1262l4-12 3 9 -5 17"/>
<path color="#2d6639" d="M544 1263l4 9 3-2 -5-8"/>
<path color="#e82110" d="M397 1154l4-6 3 6 -4 8"/>
<path color="#a0d53c" d="M615 1242l4-3 3 5 -5 8"/>
<path color="#5fdd86" d="M609 1271l4-11 3 10 -5 5"/>
<path color="#e9af00" d="M461 1203l4 2 3 2 -4-1"/>
<path color="#0067a2" d="M406 1332l5-16 2 9 -4 15"/>
<path color="#cd7105" d="M393 1188l5-8 2 10 -4 8"/>
<path color="#41b06f" d="M400 1276l5-17 2 11 -4 16"/>
<path color="#4fdd90" d="M604 1272l5-1 2 4 -4 1"/>
<path color="#b3dd33" d="M619 1239l5-4 2 6 -4 3"/>
<path color="#608626" d="M507 1241l4 5 3 4 -4-7"/>
<path color="#c6b305" d="M394 1217l5-9 2 10 -4 9"/>
<path color="#d04106" d="M395 1170l5-8 2 9 -4 9"/>
<path color="#506616" d="M700 1239l4 4 3 0 -4-4"/>
<path color="#76de75" d="M613 1260l4-8 3 15 -4 3"/>
<path color="#b5d222" d="M624 1235l4-5 2 5 -4 6"/>
<path color="#e8d900" d="M486 1218l5 2 2 2 -4-2"/>
<path color="#2a7b51" d="M589 1273l4 3 3-1 -5-4"/>
<path color="#d2c200" d="M637 1218l4 1 2 0 -4 1"/>
<path color="#f84635" d="M408 1149l5 4 2 5 -4-1"/>
<path color="#6f8516" d="M500 1231l5 7 2 3 -4-7"/>
<path color="#f7c804" d="M468 1207l4 1 3 4 -4-1"/>
<path color="#538431" d="M514 1250l4 4 3 1 -4-6"/>
<path color="#939c09" d="M682 1228l4 2 3 1 -5-2"/>
<path color="#2aad83" d="M403 1286l4-16 3 10 -5 16"/>
<path color="#bcc50c" d="M628 1230l4-8 3 5 -5 8"/>
<path color="#cd8905" d="M396 1198l4-8 3 10 -4 8"/>
<path color="#b8bb07" d="M493 1222l5 7 2 2 -4-6"/>
<path color="#b8bf0d" d="M397 1227l4-9 3 10 -5 10"/>
<path color="#ffef10" d="M475 1212l4 1 3 8 -4 0"/>
<path color="#87d95c" d="M617 1252l5-8 2 14 -4 9"/>
<path color="#cac101" d="M632 1222l5-4 2 2 -4 7"/>
<path color="#f34b28" d="M415 1158l5 1 2 3 -4 0"/>
<path color="#b9ad00" d="M648 1220l4 0 3 1 -5-1"/>
<path color="#b6b602" d="M670 1224l5 2 2 1 -4-2"/>
<path color="#e43610" d="M400 1162l4-8 2 9 -4 8"/>
<path color="#d05906" d="M398 1180l4-9 3 10 -5 9"/>
<path color="#b8b000" d="M659 1221l4 1 3 1 -4 0"/>
<path color="#44bd7a" d="M600 1272l4 0 3 4 -4-1"/>
<path color="#2c663a" d="M551 1270l4 4 2-7 -4-4"/>
<path color="#1116e2" d="M401 1376l4-3 3 5 -4-2"/>
<path color="#fa523f" d="M404 1154l4-5 3 8 -5 6"/>
<path color="#3b662b" d="M532 1258l5 3 2-3 -4-4"/>
<path color="#17a994" d="M405 1296l5-16 2 10 -4 16"/>
<path color="#9ebe21" d="M399 1238l5-10 2 10 -4 12"/>
<path color="#eb4714" d="M422 1162l4 5 3 3 -4-5"/>
<path color="#cb9f04" d="M399 1208l4-8 3 9 -5 9"/>
<path color="#2b663b" d="M562 1271l4 4 3-7 -5-3"/>
<path color="#ca4002" d="M429 1170l4 5 3 3 -4-5"/>
<path color="#97d03f" d="M622 1244l4-3 3 6 -5 11"/>
<path color="#c34e00" d="M436 1178l4 4 3 2 -4-5"/>
<path color="#61e490" d="M616 1270l4-3 3 6 -5 3"/>
<path color="#28663e" d="M573 1272l4 3 3-3 -4-4"/>
<path color="#c16000" d="M443 1184l4 6 3 2 -4-5"/>
<path color="#cf7106" d="M400 1190l5-9 2 9 -4 10"/>
<path color="#021ab9" d="M405 1373l5-21 2 15 -4 11"/>
<path color="#5d6609" d="M689 1231l4 2 3 2 -5-3"/>
<path color="#f1e307" d="M482 1221l4-3 3 2 -4 4"/>
<path color="#406626" d="M521 1255l4 3 3-4 -4-4"/>
<path color="#003b9a" d="M407 1366l5-26 2 0 -4 12"/>
<path color="#e18600" d="M450 1192l4 4 3 3 -5-5"/>
<path color="#82b836" d="M402 1250l4-12 3 9 -4 12"/>
<path color="#df4b0e" d="M402 1171l4-8 3 10 -4 8"/>
<path color="#59e899" d="M611 1275l5-5 2 6 -4 2"/>
<path color="#0a9ea0" d="M408 1306l4-16 3 10 -4 16"/>
<path color="#005c98" d="M409 1340l4-15 3 0 -4 15"/>
<path color="#e69f00" d="M457 1199l4 4 3 3 -5-4"/>
<path color="#63ca6c" d="M620 1267l4-9 3 6 -4 9"/>
<path color="#28663e" d="M584 1274l5-1 2-2 -4 0"/>
<path color="#c6b204" d="M401 1218l5-9 2 10 -4 9"/>
<path color="#ff7d5a" d="M411 1157l4 1 3 4 -5 5"/>
<path color="#a0c627" d="M626 1241l4-6 3 5 -4 7"/>
<path color="#d8c600" d="M643 1219l5 1 2 0 -4 0"/>
<path color="#f2ba01" d="M464 1206l4 1 3 4 -5-2"/>
<path color="#f5693d" d="M406 1163l5-6 2 10 -4 6"/>
<path color="#cdd305" d="M677 1227l5 1 2 1 -4-1"/>
<path color="#ce8805" d="M403 1200l4-10 3 10 -4 9"/>
<path color="#fde009" d="M471 1211l4 1 3 9 -5-4"/>
<path color="#308150" d="M596 1275l4-3 3 3 -5-1"/>
<path color="#6ab44a" d="M405 1259l4-12 3 10 -5 13"/>
<path color="#d5c800" d="M655 1221l4 0 3 2 -5-1"/>
<path color="#dc610c" d="M405 1181l4-8 3 10 -5 7"/>
<path color="#3a662c" d="M539 1258l5 5 2-1 -4-7"/>
<path color="#d4cd00" d="M666 1223l4 1 3 1 -4-1"/>
<path color="#58660e" d="M696 1235l4 4 3 0 -5-5"/>
<path color="#aebf12" d="M630 1235l5-8 2 5 -4 8"/>
<path color="#babd0a" d="M404 1228l4-9 3 9 -5 10"/>
<path color="#43bf7e" d="M607 1276l4-1 3 3 -4-2"/>
<path color="#f7f30c" d="M478 1221l4 0 3 3 -5 2"/>
<path color="#028da1" d="M411 1316l4-16 3 10 -5 15"/>
<path color="#fc774a" d="M418 1162l4 0 3 3 -5 5"/>
<path color="#76bc47" d="M624 1258l5-11 2 6 -4 11"/>
<path color="#1119da" d="M408 1378l4-11 3 14 -4 2"/>
<path color="#e1d300" d="M489 1220l4 2 3 3 -4-3"/>
<path color="#57660f" d="M503 1234l4 7 3 2 -5-7"/>
<path color="#f0631e" d="M409 1173l4-6 3 10 -4 6"/>
<path color="#cc9d04" d="M406 1209l4-9 2 10 -4 9"/>
<path color="#d5c301" d="M639 1220l4-1 3 1 -4 4"/>
<path color="#53b25f" d="M407 1270l5-13 2 9 -4 14"/>
<path color="#4c661a" d="M510 1243l4 7 3-1 -5-6"/>
<path color="#c3be04" d="M635 1227l4-7 3 4 -5 8"/>
<path color="#fd834c" d="M413 1167l5-5 2 8 -4 7"/>
<path color="#7e8004" d="M496 1225l4 6 3 3 -5-7"/>
<path color="#d8770a" d="M407 1190l5-7 2 9 -4 8"/>
<path color="#f87f40" d="M425 1165l4 5 3 3 -5 1"/>
<path color="#426624" d="M528 1254l4 4 3-4 -4-4"/>
<path color="#a6be1a" d="M406 1238l5-10 2 9 -4 10"/>
<path color="#326634" d="M557 1267l5 4 2-6 -4-4"/>
<path color="#7c8105" d="M684 1229l5 2 2 1 -4-2"/>
<path color="#546612" d="M703 1239l4 4 2 0 -4-5"/>
<path color="#f37a28" d="M432 1173l4 5 3 1 -5 1"/>
<path color="#0140af" d="M410 1352l4-12 3 12 -5 15"/>
<path color="#4dd086" d="M618 1276l5-3 2 2 -4 3"/>
<path color="#2c663a" d="M580 1272l4 2 3-3 -4-3"/>
<path color="#306636" d="M569 1268l4 4 3-4 -5-4"/>
<path color="#366630" d="M546 1262l5 8 2-7 -4-4"/>
<path color="#3db073" d="M410 1280l4-14 3 9 -5 15"/>
<path color="#8dba2d" d="M629 1247l4-7 3 5 -5 8"/>
<path color="#54bc68" d="M623 1273l4-9 3 2 -5 9"/>
<path color="#dcca00" d="M650 1220l5 1 2 1 -4 0"/>
<path color="#c8b103" d="M408 1219l4-9 3 9 -4 9"/>
<path color="#e76e12" d="M412 1183l4-6 3 9 -5 6"/>
<path color="#ed7512" d="M439 1179l4 5 3 3 -5-3"/>
<path color="#0629cb" d="M412 1367l5-15 2 16 -4 13"/>
<path color="#d3cf01" d="M673 1225l4 2 3 1 -4-2"/>
<path color="#ec7f06" d="M446 1187l4 5 2 2 -4-4"/>
<path color="#2a663c" d="M591 1271l5 4 2-1 -4-3"/>
<path color="#d38b07" d="M410 1200l4-8 3 10 -5 8"/>
<path color="#ec9101" d="M452 1194l5 5 2 3 -4-2"/>
<path color="#d7ca00" d="M662 1223l4 0 3 1 -5 0"/>
<path color="#308453" d="M603 1275l4 1 3 0 -5-2"/>
<path color="#fced08" d="M473 1217l5 4 2 5 -4-4"/>
<path color="#f8c903" d="M466 1209l5 2 2 6 -4-1"/>
<path color="#eea900" d="M459 1202l5 4 2 3 -4-3"/>
<path color="#49661d" d="M517 1249l4 6 3-5 -5-6"/>
<path color="#ff9a5a" d="M420 1170l5-5 2 9 -4 5"/>
<path color="#8ebb2e" d="M409 1247l4-10 3 9 -4 11"/>
<path color="#f77327" d="M416 1177l4-7 3 9 -4 7"/>
<path color="#e3d300" d="M485 1224l4-4 3 2 -5 3"/>
<path color="#0066a0" d="M412 1340l4-15 2 2 -4 13"/>
<path color="#1f28eb" d="M415 1381l4-13 3 15 -4 2"/>
<path color="#43bd7b" d="M614 1278l4-2 3 2 -4-3"/>
<path color="#28ae86" d="M412 1290l5-15 2 10 -4 15"/>
<path color="#0085a0" d="M413 1325l5-15 2 1 -4 14"/>
<path color="#a3bb18" d="M633 1240l4-8 3 4 -4 9"/>
<path color="#bebc08" d="M411 1228l4-9 3 9 -5 9"/>
<path color="#dc7c0c" d="M414 1192l5-6 2 8 -4 8"/>
<path color="#6ab54b" d="M627 1264l4-11 3 5 -4 8"/>
<path color="#606606" d="M691 1232l5 3 2-1 -4-2"/>
<path color="#cd9d05" d="M412 1210l5-8 2 9 -4 8"/>
<path color="#ffbf6d" d="M427 1174l5-1 2 7 -4 2"/>
<path color="#213fee" d="M419 1368l5-10 2 17 -4 8"/>
<path color="#e2cd02" d="M646 1220l4 0 3 2 -4 2"/>
<path color="#77b842" d="M412 1257l4-11 3 9 -5 11"/>
<path color="#5563fe" d="M426 1375l5-8 2 17 -4 4"/>
<path color="#446622" d="M535 1254l4 4 3-3 -5-3"/>
<path color="#e6dc01" d="M480 1226l5-2 2 1 -4 2"/>
<path color="#f07919" d="M419 1186l4-7 3 9 -5 6"/>
<path color="#5c60ff" d="M422 1383l4-8 3 13 -4-2"/>
<path color="#b5b602" d="M680 1228l4 1 3 1 -4-1"/>
<path color="#bec007" d="M637 1232l5-8 2 5 -4 7"/>
<path color="#16a895" d="M415 1300l4-15 3 9 -4 16"/>
<path color="#ffad57" d="M423 1179l4-5 3 8 -4 6"/>
<path color="#4043f7" d="M433 1384l5-8 2 14 -4 1"/>
<path color="#dcca00" d="M657 1222l5 1 2 1 -4-1"/>
<path color="#0950d3" d="M417 1352l4-10 3 16 -5 10"/>
<path color="#fcbf5d" d="M434 1180l5-1 2 5 -4 3"/>
<path color="#2745f6" d="M431 1367l4-8 3 17 -5 8"/>
<path color="#d9ca03" d="M642 1224l4-4 3 4 -5 5"/>
<path color="#d6cb00" d="M669 1224l4 1 3 1 -5-1"/>
<path color="#c2b500" d="M492 1222l4 3 2 2 -4-2"/>
<path color="#abbe15" d="M413 1237l5-9 2 8 -4 10"/>
<path color="#d48c08" d="M417 1202l4-8 3 8 -5 9"/>
<path color="#1d53f3" d="M424 1358l4-8 3 17 -5 8"/>
<path color="#0367bb" d="M414 1340l4-13 3 15 -4 10"/>
<path color="#6969ff" d="M429 1388l4-4 3 7 -5 2"/>
<path color="#82b735" d="M631 1253l5-8 2 5 -4 8"/>
<path color="#4b661b" d="M524 1250l4 4 3-4 -5-5"/>
<path color="#326634" d="M576 1268l4 4 3-4 -5-4"/>
<path color="#2a663c" d="M598 1274l5 1 2-1 -4-3"/>
<path color="#faac4a" d="M441 1184l5 3 2 3 -4 1"/>
<path color="#c6ab02" d="M415 1219l4-8 3 7 -4 10"/>
<path color="#1725e7" d="M438 1376l4-9 2 14 -4 9"/>
<path color="#3a662c" d="M553 1263l4 4 3-6 -4-4"/>
<path color="#61b655" d="M414 1266l5-11 2 9 -4 11"/>
<path color="#37662f" d="M564 1265l5 3 2-4 -4-3"/>
<path color="#306636" d="M587 1271l4 0 3 0 -4-4"/>
<path color="#fcde06" d="M469 1216l4 1 3 5 -4 1"/>
<path color="#626404" d="M498 1227l5 7 2 2 -4-7"/>
<path color="#5d6609" d="M698 1234l5 5 2-1 -4-4"/>
<path color="#f9a91c" d="M448 1190l4 4 3 6 -4 1"/>
<path color="#318150" d="M610 1276l4 2 3-3 -5-2"/>
<path color="#58660e" d="M505 1236l5 7 2 0 -4-6"/>
<path color="#f3b601" d="M462 1206l4 3 3 7 -4-5"/>
<path color="#ed8b16" d="M421 1194l5-6 2 9 -4 5"/>
<path color="#ffde78" d="M430 1182l4-2 3 7 -5 4"/>
<path color="#f49d02" d="M455 1200l4 2 3 4 -4-3"/>
<path color="#1449e8" d="M435 1359l4-9 3 17 -4 9"/>
<path color="#54bf6a" d="M625 1275l5-9 2 3 -4 8"/>
<path color="#f5ea06" d="M476 1222l4 4 3 1 -5 0"/>
<path color="#ffaa3e" d="M426 1188l4-6 2 9 -4 6"/>
<path color="#1967f0" d="M428 1350l4-8 3 17 -4 8"/>
<path color="#416625" d="M542 1255l4 7 3-3 -5-6"/>
<path color="#0190ae" d="M416 1325l4-14 3 6 -5 10"/>
<path color="#42b06e" d="M621 1278l4-3 3 2 -5 0"/>
<path color="#95bc27" d="M416 1246l4-10 3 9 -4 10"/>
<path color="#e3ce02" d="M653 1222l4 0 3 1 -4 2"/>
<path color="#9bbb20" d="M636 1245l4-9 3 5 -5 9"/>
<path color="#1616e2" d="M440 1390l4-9 3 6 -4 5"/>
<path color="#1176e2" d="M421 1342l4-9 3 17 -4 8"/>
<path color="#4cb468" d="M417 1275l4-11 3 9 -5 12"/>
<path color="#646602" d="M687 1230l4 2 3 0 -5-1"/>
<path color="#0ba6a1" d="M418 1310l4-16 3 8 -5 9"/>
<path color="#0c2edb" d="M442 1367l4-10 3 16 -5 8"/>
<path color="#cf9a05" d="M419 1211l5-9 2 8 -4 8"/>
<path color="#2c2ce5" d="M436 1391l4-1 3 2 -5 3"/>
<path color="#ffe682" d="M437 1187l4-3 3 7 -5 5"/>
<path color="#65b650" d="M630 1266l4-8 2 5 -4 6"/>
<path color="#bdb405" d="M418 1228l4-10 3 8 -5 10"/>
<path color="#556611" d="M512 1243l5 6 2-5 -4-6"/>
<path color="#d4cc00" d="M676 1226l4 2 3 1 -5-2"/>
<path color="#daca00" d="M664 1224l5 0 2 1 -4 0"/>
<path color="#0d14dc" d="M444 1381l5-8 2 9 -4 5"/>
<path color="#e0ce00" d="M487 1225l5-3 2 3 -4 1"/>
<path color="#0791cb" d="M418 1327l5-10 2 16 -4 9"/>
<path color="#ffe064" d="M432 1191l5-4 2 9 -4 6"/>
<path color="#ffe26e" d="M444 1191l4-1 3 11 -5 1"/>
<path color="#eba117" d="M424 1202l4-5 3 8 -5 5"/>
<path color="#bac50d" d="M640 1236l4-7 3 6 -4 6"/>
<path color="#e4d305" d="M649 1224l4-2 3 3 -5 4"/>
<path color="#ffbd38" d="M428 1197l4-6 3 11 -4 3"/>
<path color="#4b661b" d="M531 1250l4 4 2-2 -4-4"/>
<path color="#147ae7" d="M432 1342l5-9 2 17 -4 9"/>
<path color="#0e5fde" d="M439 1350l5-10 2 17 -4 10"/>
<path color="#80b93a" d="M419 1255l4-10 2 9 -4 10"/>
<path color="#37b27b" d="M419 1285l5-12 2 9 -4 12"/>
<path color="#d6d107" d="M644 1229l5-5 2 5 -4 6"/>
<path color="#1594e9" d="M425 1333l5-8 2 17 -4 8"/>
<path color="#2d6639" d="M605 1274l5 2 2-3 -4-2"/>
<path color="#fff316" d="M472 1223l4-1 2 5 -4 1"/>
<path color="#78b53d" d="M634 1258l4-8 3 5 -5 8"/>
<path color="#306636" d="M594 1271l4 3 3-3 -4-3"/>
<path color="#33804d" d="M617 1275l4 3 2-1 -4-4"/>
<path color="#f8cc04" d="M465 1211l4 5 3 7 -5-4"/>
<path color="#fcb319" d="M451 1201l4-1 3 3 -5 1"/>
<path color="#356631" d="M583 1268l4 3 3-4 -5-3"/>
<path color="#0722d1" d="M449 1373l4-10 3 11 -5 8"/>
<path color="#0948d5" d="M446 1357l5-10 2 16 -4 10"/>
<path color="#3a662c" d="M571 1264l5 4 2-4 -4-3"/>
<path color="#caa604" d="M422 1218l4-8 3 7 -4 9"/>
<path color="#ddce00" d="M483 1227l4-2 3 1 -5 1"/>
<path color="#b0b90e" d="M420 1236l5-10 2 8 -4 11"/>
<path color="#fffa86" d="M439 1196l5-5 2 11 -4 3"/>
<path color="#636503" d="M694 1232l4 2 3 0 -5-3"/>
<path color="#3f6627" d="M560 1261l4 4 3-4 -4-4"/>
<path color="#07b5b8" d="M420 1311l5-9 2 6 -4 9"/>
<path color="#426624" d="M549 1259l4 4 3-6 -5-3"/>
<path color="#dfca00" d="M660 1223l4 1 3 1 -4 0"/>
<path color="#1a1be3" d="M447 1387l4-5 3 7 -4 5"/>
<path color="#556611" d="M519 1244l5 6 2-5 -4-5"/>
<path color="#a79b00" d="M494 1225l4 2 3 2 -4-2"/>
<path color="#ffef59" d="M435 1202l4-6 3 9 -4 3"/>
<path color="#f5a501" d="M458 1203l4 3 3 5 -5-3"/>
<path color="#9c9800" d="M683 1229l4 1 2 1 -4-2"/>
<path color="#1f1fea" d="M443 1392l4-5 3 7 -5 2"/>
<path color="#6bb74c" d="M421 1264l4-10 3 8 -4 11"/>
<path color="#0cb5d7" d="M423 1317l4-9 3 17 -5 8"/>
<path color="#fed337" d="M431 1205l4-3 3 6 -5 3"/>
<path color="#e8b014" d="M426 1210l5-5 2 6 -4 6"/>
<path color="#93bb29" d="M638 1250l5-9 2 5 -4 9"/>
<path color="#d9c900" d="M671 1225l5 1 2 1 -4-1"/>
<path color="#26b590" d="M422 1294l4-12 3 9 -4 11"/>
<path color="#1092e1" d="M437 1333l4-10 3 17 -5 10"/>
<path color="#13abe6" d="M430 1325l4-9 3 17 -5 9"/>
<path color="#0d7bdc" d="M444 1340l4-9 3 16 -5 10"/>
<path color="#0611cd" d="M451 1382l5-8 2 7 -4 8"/>
<path color="#626404" d="M501 1229l4 7 3 1 -4-6"/>
<path color="#ece207" d="M478 1227l5 0 2 0 -4 4"/>
<path color="#58cb73" d="M628 1277l4-8 3 5 -5 4"/>
<path color="#f9cb3b" d="M446 1202l5-1 2 3 -4 1"/>
<path color="#4b661b" d="M537 1252l5 3 2-2 -4-4"/>
<path color="#9eba1c" d="M423 1245l4-11 3 8 -5 12"/>
<path color="#e0cd02" d="M656 1225l4-2 3 2 -5 4"/>
<path color="#b2c817" d="M643 1241l4-6 3 6 -5 5"/>
<path color="#043cc9" d="M453 1363l5-11 2 11 -4 11"/>
<path color="#5db457" d="M632 1269l4-6 3 5 -4 6"/>
<path color="#c4b103" d="M425 1226l4-9 3 8 -5 9"/>
<path color="#0864d2" d="M451 1347l4-10 3 15 -5 11"/>
<path color="#fdea13" d="M467 1219l5 4 2 5 -4 1"/>
<path color="#58b65e" d="M424 1273l4-11 3 8 -5 12"/>
<path color="#f9d646" d="M442 1205l4-3 3 3 -4 7"/>
<path color="#cbd00c" d="M647 1235l4-6 3 6 -4 6"/>
<path color="#d9d005" d="M651 1229l5-4 2 4 -4 6"/>
<path color="#1ac5af" d="M425 1302l4-11 3 9 -5 8"/>
<path color="#43a15f" d="M623 1277l5 0 2 1 -4-3"/>
<path color="#14c9d3" d="M427 1308l5-8 2 16 -4 9"/>
<path color="#526614" d="M526 1245l5 5 2-2 -4-2"/>
<path color="#5e6508" d="M508 1237l4 6 3-5 -4-6"/>
<path color="#326634" d="M601 1271l4 3 3-3 -5-3"/>
<path color="#ffec47" d="M438 1208l4-3 3 7 -5 3"/>
<path color="#306636" d="M612 1273l5 2 2-2 -4-2"/>
<path color="#fcf922" d="M474 1228l4-1 3 4 -4 3"/>
<path color="#2f2fe6" d="M450 1394l4-5 3 8 -5 4"/>
<path color="#13c1df" d="M434 1316l4-10 3 17 -4 10"/>
<path color="#ebd704" d="M490 1226l4-1 3 2 -5 0"/>
<path color="#0223c4" d="M456 1374l4-11 3 8 -5 10"/>
<path color="#10b0e0" d="M441 1323l4-9 3 17 -4 9"/>
<path color="#837f00" d="M689 1231l5 1 2-1 -4-1"/>
<path color="#e0cb00" d="M667 1225l4 0 3 1 -5 1"/>
<path color="#38662e" d="M590 1267l4 4 3-3 -5-4"/>
<path color="#dfb40d" d="M429 1217l4-6 3 7 -4 7"/>
<path color="#f9d92f" d="M433 1211l5-3 2 7 -4 3"/>
<path color="#080bca" d="M454 1389l4-8 3 7 -4 9"/>
<path color="#d7c900" d="M678 1227l5 2 2 0 -4-1"/>
<path color="#74b340" d="M636 1263l5-8 2-2 -4 15"/>
<path color="#0d98db" d="M448 1331l4-9 3 15 -4 10"/>
<path color="#3c662a" d="M578 1264l5 4 2-4 -4-3"/>
<path color="#f4b302" d="M460 1208l5 3 2 8 -4-6"/>
<path color="#fba106" d="M453 1204l5-1 2 5 -4-2"/>
<path color="#8ab72e" d="M425 1254l5-12 2 8 -4 12"/>
<path color="#416625" d="M567 1261l4 3 3-3 -4-4"/>
<path color="#46ba75" d="M426 1282l5-12 2 10 -4 11"/>
<path color="#466620" d="M556 1257l4 4 3-4 -5-3"/>
<path color="#b9b807" d="M427 1234l5-9 2 7 -4 10"/>
<path color="#4a661c" d="M544 1253l5 6 2-5 -4-3"/>
<path color="#0359c6" d="M458 1352l4-10 2 11 -4 10"/>
<path color="#94c230" d="M641 1255l4-9 3 7 -5 0"/>
<path color="#0781d0" d="M455 1337l4-10 3 15 -4 10"/>
<path color="#eee00e" d="M485 1227l5-1 2 1 -4 3"/>
<path color="#24d5c2" d="M432 1300l4-10 2 16 -4 10"/>
<path color="#fffd2f" d="M470 1229l4-1 3 6 -5 1"/>
<path color="#7b8207" d="M515 1238l4 6 3-4 -4-5"/>
<path color="#0314c5" d="M458 1381l5-10 2 9 -4 8"/>
<path color="#39c995" d="M429 1291l4-11 3 10 -4 10"/>
<path color="#aea707" d="M497 1227l4 2 3 2 -5-2"/>
<path color="#e2cc01" d="M663 1225l4 0 2 2 -4 2"/>
<path color="#a9cc25" d="M645 1246l5-5 2 6 -4 6"/>
<path color="#1dd7d7" d="M438 1306l5-9 2 17 -4 9"/>
<path color="#15cade" d="M445 1314l5-9 2 17 -4 9"/>
<path color="#023ec0" d="M460 1363l4-10 3 9 -4 9"/>
<path color="#79b73f" d="M428 1262l4-12 3 8 -4 12"/>
<path color="#eb9507" d="M449 1205l4-1 3 2 -4 1"/>
<path color="#858201" d="M696 1231l5 3 2 0 -4-1"/>
<path color="#f5d929" d="M440 1215l5-3 2 8 -4 1"/>
<path color="#536613" d="M533 1248l4 4 3-3 -4-3"/>
<path color="#e1a20d" d="M445 1212l4-7 3 2 -5 13"/>
<path color="#0cb4da" d="M452 1322l5-10 2 15 -4 10"/>
<path color="#f4ee19" d="M481 1231l4-4 3 3 -4 3"/>
<path color="#0e0ec7" d="M457 1397l4-9 3 9 -5 7"/>
<path color="#b9c912" d="M650 1241l4-6 2 4 -4 8"/>
<path color="#d5ba08" d="M432 1225l4-7 3 6 -5 8"/>
<path color="#f7cd04" d="M463 1213l4 6 3 10 -5-6"/>
<path color="#316635" d="M619 1273l4 4 3-2 -4-4"/>
<path color="#50c474" d="M630 1278l5-4 2-1 -4 16"/>
<path color="#beb300" d="M685 1229l4 2 3-1 -4 0"/>
<path color="#deca00" d="M674 1226l4 1 3 1 -5 0"/>
<path color="#f3db26" d="M436 1218l4-3 3 6 -4 3"/>
<path color="#d8c902" d="M658 1229l5-4 2 4 -4 3"/>
<path color="#356631" d="M608 1271l4 2 3-2 -5-4"/>
<path color="#c8c604" d="M654 1235l4-6 3 3 -5 7"/>
<path color="#abba11" d="M430 1242l4-10 3 7 -5 11"/>
<path color="#3a662c" d="M597 1268l4 3 2-3 -4-4"/>
<path color="#738310" d="M522 1240l4 5 3 1 -5-1"/>
<path color="#5eb152" d="M635 1274l4-6 3-4 -5 9"/>
<path color="#fcfa33" d="M477 1234l4-3 3 2 -5 3"/>
<path color="#050ac6" d="M461 1388l4-8 3 9 -4 8"/>
<path color="#68bf58" d="M431 1270l4-12 3 12 -5 10"/>
<path color="#3fdeae" d="M436 1290l4-9 3 16 -5 9"/>
<path color="#867f02" d="M504 1231l4 6 3-5 -5-3"/>
<path color="#0129c0" d="M463 1371l4-9 3 10 -5 8"/>
<path color="#069dcd" d="M459 1327l5-10 2 14 -4 11"/>
<path color="#32e5ca" d="M443 1297l4-8 3 16 -5 9"/>
<path color="#0275c3" d="M462 1342l4-11 3 11 -5 11"/>
<path color="#3f6627" d="M585 1264l5 3 2-3 -4-5"/>
<path color="#20dbd4" d="M450 1305l4-9 3 16 -5 10"/>
<path color="#faef1d" d="M492 1227l5 0 2 2 -4 4"/>
<path color="#faae0c" d="M456 1206l4 2 3 5 -5-4"/>
<path color="#446622" d="M574 1261l4 3 3-3 -4-4"/>
<path color="#59cf7d" d="M433 1280l5-10 2 11 -4 9"/>
<path color="#3d9f62" d="M626 1275l4 3 3 11 -4-10"/>
<path color="#7dbe42" d="M639 1268l4-15 3 8 -4 3"/>
<path color="#48661e" d="M563 1257l4 4 3-4 -5-3"/>
<path color="#fcef1c" d="M465 1223l5 6 2 6 -4-3"/>
<path color="#11c9d1" d="M457 1312l4-9 3 14 -5 10"/>
<path color="#ffff5f" d="M472 1235l5-1 2 2 -4 3"/>
<path color="#4d6619" d="M551 1254l5 3 2-3 -4-4"/>
<path color="#e5cf01" d="M669 1227l5-1 2 2 -4 2"/>
<path color="#0158bc" d="M464 1353l5-11 2 9 -4 11"/>
<path color="#96cf3c" d="M643 1253l5 0 2 6 -4 2"/>
<path color="#fff935" d="M488 1230l4-3 3 6 -4 5"/>
<path color="#9dbd21" d="M432 1250l5-11 2 8 -4 11"/>
<path color="#cec209" d="M434 1232l5-8 2 6 -4 9"/>
<path color="#9bc931" d="M648 1253l4-6 3 5 -5 7"/>
<path color="#526614" d="M540 1249l4 4 3-2 -4-3"/>
<path color="#c4bb00" d="M692 1230l4 1 3 2 -4 0"/>
<path color="#e3ce16" d="M443 1221l4-1 3 9 -5-1"/>
<path color="#0215c1" d="M465 1380l5-8 2 9 -4 8"/>
<path color="#dfcd00" d="M681 1228l4 1 3 1 -5 0"/>
<path color="#0f0fc6" d="M464 1397l4-8 2 10 -4 7"/>
<path color="#5ee79c" d="M440 1281l5-8 2 16 -4 8"/>
<path color="#4cecb7" d="M447 1289l4-8 3 15 -4 9"/>
<path color="#efda1b" d="M439 1224l4-3 2 7 -4 2"/>
<path color="#a8a605" d="M511 1232l4 6 3-3 -5-1"/>
<path color="#ffff4e" d="M484 1233l4-3 3 8 -5 4"/>
<path color="#34e3c1" d="M454 1296l4-8 3 15 -4 9"/>
<path color="#58660e" d="M529 1246l4 2 3-2 -5-2"/>
<path color="#c99502" d="M447 1220l5-13 2 2 -4 20"/>
<path color="#a5bb17" d="M652 1247l4-8 3 4 -4 9"/>
<path color="#8ec73d" d="M435 1258l4-11 3 13 -4 10"/>
<path color="#e4990c" d="M452 1207l4-1 2 3 -4 0"/>
<path color="#d4cc0e" d="M499 1229l5 2 2-2 -4 7"/>
<path color="#e4d102" d="M665 1229l4-2 3 3 -4 2"/>
<path color="#0142b8" d="M467 1362l4-11 3 8 -4 13"/>
<path color="#7cd969" d="M438 1270l4-10 3 13 -5 8"/>
<path color="#09b7c8" d="M464 1317l4-10 3 13 -5 11"/>
<path color="#ffff78" d="M468 1232l4 3 3 4 -4 3"/>
<path color="#ffff6b" d="M479 1236l5-3 2 9 -4 3"/>
<path color="#38662e" d="M615 1271l4 2 3-2 -5-4"/>
<path color="#0294c1" d="M466 1331l5-11 2 9 -4 13"/>
<path color="#0307bb" d="M468 1389l4-8 3 10 -5 8"/>
<path color="#f9c512" d="M458 1209l5 4 2 10 -4-7"/>
<path color="#3c662a" d="M603 1268l5 3 2-4 -4-3"/>
<path color="#23d4c0" d="M461 1303l4-10 3 14 -4 10"/>
<path color="#bdc50d" d="M518 1235l4 5 2 5 -4-4"/>
<path color="#7ff18c" d="M445 1273l4-8 2 16 -4 8"/>
<path color="#69f1a2" d="M451 1281l5-7 2 14 -4 8"/>
<path color="#babb05" d="M656 1239l5-7 2 3 -4 8"/>
<path color="#d3c701" d="M661 1232l4-3 3 3 -5 3"/>
<path color="#416625" d="M592 1264l5 4 2-4 -4-4"/>
<path color="#fefe2c" d="M495 1233l4-4 3 7 -4 5"/>
<path color="#c7ca0f" d="M437 1239l4-9 3 7 -5 10"/>
<path color="#ffff8b" d="M475 1239l4-3 3 9 -4 3"/>
<path color="#e4ce00" d="M676 1228l5 0 2 2 -4 1"/>
<path color="#50e6a9" d="M458 1288l5-8 2 13 -4 10"/>
<path color="#ffff4b" d="M491 1238l4-5 3 8 -5 5"/>
<path color="#e7d801" d="M688 1230l4 0 3 3 -5 0"/>
<path color="#2525ce" d="M466 1406l4-7 3 9 -4 0"/>
<path color="#47661f" d="M581 1261l4 3 3-5 -5-3"/>
<path color="#0179b9" d="M469 1342l4-13 3 8 -5 14"/>
<path color="#002fb6" d="M470 1372l4-13 3 8 -5 14"/>
<path color="#ffff75" d="M486 1242l5-4 2 8 -4 4"/>
<path color="#398e55" d="M633 1289l4-16 3 5 -4 5"/>
<path color="#4b661b" d="M570 1257l4 4 3-4 -5-4"/>
<path color="#569e48" d="M637 1273l5-9 2 10 -4 4"/>
<path color="#a2e859" d="M442 1260l4-10 3 15 -4 8"/>
<path color="#e6d710" d="M441 1230l4-2 3 5 -4 4"/>
<path color="#ffffa7" d="M471 1242l4-3 3 9 -5 4"/>
<path color="#9ffa80" d="M449 1265l4-6 3 15 -5 7"/>
<path color="#fce726" d="M461 1216l4 7 3 9 -4-6"/>
<path color="#88f692" d="M456 1274l4-7 3 13 -5 8"/>
<path color="#7fc346" d="M646 1261l4-2 3 6 -4 5"/>
<path color="#75bf4c" d="M642 1264l4-3 3 9 -5 4"/>
<path color="#506616" d="M558 1254l5 3 2-3 -4-4"/>
<path color="#546612" d="M547 1251l4 3 3-4 -4-2"/>
<path color="#b9d629" d="M439 1247l5-10 2 13 -4 10"/>
<path color="#dac20b" d="M445 1228l5 1 2-5 -4 9"/>
<path color="#0505ac" d="M470 1399l5-8 2 9 -4 8"/>
<path color="#ffff9b" d="M482 1245l4-3 3 8 -4 3"/>
<path color="#d4cc19" d="M506 1229l5 3 2 2 -4 1"/>
<path color="#19cabd" d="M468 1307l4-10 3 13 -4 10"/>
<path color="#ffff77" d="M464 1226l4 6 3 10 -5 3"/>
<path color="#42e0ae" d="M465 1293l5-9 2 13 -4 10"/>
<path color="#356631" d="M622 1271l4 4 3 4 -5-10"/>
<path color="#81b332" d="M650 1259l5-7 2 4 -4 9"/>
<path color="#909f10" d="M524 1245l5 1 2-2 -4 1"/>
<path color="#59660d" d="M536 1246l4 3 3-1 -5-4"/>
<path color="#ffffa6" d="M466 1245l5-3 2 10 -4 5"/>
<path color="#78f29d" d="M463 1280l4-8 3 12 -5 9"/>
<path color="#c1fe77" d="M453 1259l5-6 2 14 -4 7"/>
<path color="#e4d101" d="M672 1230l4-2 3 3 -4 3"/>
<path color="#b4fc90" d="M460 1267l5-7 2 12 -4 8"/>
<path color="#ffff99" d="M478 1248l4-3 3 8 -5 3"/>
<path color="#06b4c2" d="M471 1320l4-10 2 10 -4 9"/>
<path color="#c9f64e" d="M446 1250l5-8 2 17 -4 6"/>
<path color="#d4b218" d="M450 1229l4-20 3 4 -5 11"/>
<path color="#d8ff99" d="M465 1260l4-3 2 12 -4 3"/>
<path color="#0065b6" d="M471 1351l5-14 2 9 -4 13"/>
<path color="#e2ff90" d="M469 1257l4-5 3 10 -5 7"/>
<path color="#f2c429" d="M454 1209l4 0 3 7 -4-3"/>
<path color="#f2ff87" d="M473 1252l5-4 2 8 -4 6"/>
<path color="#fcff90" d="M462 1248l4-3 3 12 -4 3"/>
<path color="#001db3" d="M472 1381l5-14 2 8 -4 16"/>
<path color="#dde31f" d="M444 1237l4-4 3 9 -5 8"/>
<path color="#e6ff7c" d="M458 1253l4-5 3 12 -5 7"/>
<path color="#97fa9a" d="M467 1272l4-3 3 12 -4 3"/>
<path color="#ecfa48" d="M493 1246l5-5 2 8 -4 5"/>
<path color="#f4f438" d="M513 1234l5 1 2 6 -4 2"/>
<path color="#f9ff7b" d="M489 1250l4-4 3 8 -5 5"/>
<path color="#e8f226" d="M498 1241l4-5 2 7 -4 6"/>
<path color="#f0ec21" d="M502 1236l4-7 3 6 -5 8"/>
<path color="#ecd801" d="M683 1230l5 0 2 3 -4 0"/>
<path color="#91ab19" d="M655 1252l4-9 3 3 -5 10"/>
<path color="#5de89f" d="M470 1284l4-3 3 9 -5 7"/>
<path color="#eafd49" d="M451 1242l4-6 3 17 -5 6"/>
<path color="#a6f987" d="M471 1269l5-7 2 10 -4 9"/>
<path color="#ffffa5" d="M485 1253l4-3 2 9 -4 3"/>
<path color="#3f6627" d="M610 1267l5 4 2-4 -4-3"/>
<path color="#317e4c" d="M629 1279l4 10 3-6 -5-9"/>
<path color="#ffff71" d="M459 1229l5-3 2 19 -4 3"/>
<path color="#e0d202" d="M668 1232l4-2 3 4 -5 2"/>
<path color="#e7dc19" d="M448 1233l4-9 3 12 -4 6"/>
<path color="#029ec0" d="M473 1329l4-9 3 9 -4 8"/>
<path color="#446622" d="M599 1264l4 4 3-4 -4-4"/>
<path color="#32d5ab" d="M472 1297l5-7 2 10 -4 10"/>
<path color="#f3ff9d" d="M480 1256l5-3 2 9 -4 4"/>
<path color="#cafb7f" d="M476 1262l4-6 3 10 -5 6"/>
<path color="#fbff5a" d="M455 1236l4-7 3 19 -4 5"/>
<path color="#030394" d="M473 1408l4-8 3 7 -4 8"/>
<path color="#fff24e" d="M457 1213l4 3 3 10 -5 3"/>
<path color="#73ea8b" d="M474 1281l4-9 3 9 -4 9"/>
<path color="#15cbbf" d="M475 1310l4-10 3 12 -5 8"/>
<path color="#b0b407" d="M659 1243l4-8 3 3 -4 8"/>
<path color="#d8e715" d="M520 1241l4 4 3 0 -4 1"/>
<path color="#0053b4" d="M474 1359l4-13 3 8 -4 13"/>
<path color="#4a661c" d="M588 1259l4 5 3-4 -5-5"/>
<path color="#cfc601" d="M663 1235l5-3 2 4 -4 2"/>
<path color="#0010aa" d="M475 1391l4-16 3 7 -5 18"/>
<path color="#f2e73b" d="M452 1224l5-11 2 16 -4 7"/>
<path color="#4e6618" d="M577 1257l4 4 2-5 -4-4"/>
<path color="#59660d" d="M543 1248l4 3 3-3 -5-1"/>
<path color="#dcfd7a" d="M491 1259l5-5 2 8 -4 5"/>
<path color="#fffe6d" d="M509 1235l4-1 3 9 -5 2"/>
<path color="#526614" d="M565 1254l5 3 2-4 -4-3"/>
<path color="#c7f149" d="M496 1254l4-5 3 7 -5 6"/>
<path color="#f3e702" d="M690 1233l5 0 2 4 -4 0"/>
<path color="#788008" d="M531 1244l5 2 2-2 -4 0"/>
<path color="#ebffa3" d="M487 1262l4-3 3 8 -4 3"/>
<path color="#ead401" d="M679 1231l4-1 3 3 -4 0"/>
<path color="#9df587" d="M478 1272l5-6 2 9 -4 6"/>
<path color="#57660f" d="M554 1250l4 4 3-4 -4-4"/>
<path color="#51de9a" d="M477 1290l4-9 3 10 -5 9"/>
<path color="#0189be" d="M476 1337l4-8 3 8 -5 9"/>
<path color="#d2ff9f" d="M483 1266l4-4 3 8 -5 5"/>
<path color="#cce92d" d="M500 1249l4-6 3 6 -4 7"/>
<path color="#07bdc9" d="M477 1320l5-8 2 8 -4 9"/>
<path color="#edf54d" d="M504 1243l5-8 2 10 -4 4"/>
<path color="#30d9b3" d="M479 1300l5-9 2 13 -4 8"/>
<path color="#edfa4b" d="M516 1243l4-2 3 5 -5 7"/>
<path color="#0042b3" d="M477 1367l4-13 3 8 -5 13"/>
<path color="#78f096" d="M481 1281l4-6 3 10 -4 6"/>
<path color="#69a138" d="M649 1270l4-5 3-6 -5 8"/>
<path color="#599940" d="M644 1274l5-4 2-3 -4 4"/>
<path color="#00089f" d="M477 1400l5-18 2 8 -4 17"/>
<path color="#416625" d="M617 1267l5 4 2-2 -4-8"/>
<path color="#e1ce01" d="M675 1234l4-3 3 2 -5 2"/>
<path color="#a5fea1" d="M485 1275l5-5 2 9 -4 6"/>
<path color="#baff9c" d="M490 1270l4-3 3 8 -5 4"/>
<path color="#aef677" d="M494 1267l4-5 3 7 -4 6"/>
<path color="#14cfc5" d="M482 1312l4-8 3 9 -5 7"/>
<path color="#769c26" d="M653 1265l4-9 3-4 -4 7"/>
<path color="#f8ff85" d="M511 1245l5-2 2 10 -4 1"/>
<path color="#466620" d="M606 1264l4 3 3-3 -4-4"/>
<path color="#0176bc" d="M478 1346l5-9 2 8 -4 9"/>
<path color="#427937" d="M640 1278l4-4 3-3 -4 1"/>
<path color="#03a8c7" d="M480 1329l4-9 3 8 -4 9"/>
<path color="#50e5a7" d="M484 1291l4-6 3 11 -5 8"/>
<path color="#f5e603" d="M686 1233l4 0 3 4 -4 0"/>
<path color="#a7e64f" d="M498 1262l5-6 2 7 -4 6"/>
<path color="#b4bd0a" d="M527 1245l4-1 3 0 -4 1"/>
<path color="#4b661b" d="M595 1260l4 4 3-4 -5-3"/>
<path color="#c2ec41" d="M503 1256l4-7 3 7 -5 7"/>
<path color="#eefc65" d="M507 1249l4-4 3 9 -4 2"/>
<path color="#dacc01" d="M670 1236l5-2 2 1 -4 3"/>
<path color="#70f0a0" d="M488 1285l4-6 3 10 -4 7"/>
<path color="#5f6607" d="M538 1244l5 4 2-1 -4-3"/>
<path color="#0031b2" d="M479 1375l5-13 2 9 -4 11"/>
<path color="#8fa213" d="M657 1256l5-10 2-1 -4 7"/>
<path color="#2ad5b4" d="M486 1304l5-8 2 9 -4 8"/>
<path color="#83f393" d="M492 1279l5-4 2 8 -4 6"/>
<path color="#5d6609" d="M550 1248l4 2 3-4 -5-1"/>
<path color="#536613" d="M583 1256l5 3 2-4 -4-4"/>
<path color="#3c662a" d="M624 1269l5 10 2-5 -4-9"/>
<path color="#566610" d="M572 1253l5 4 2-5 -4-4"/>
<path color="#06bec7" d="M484 1320l5-7 2 8 -4 7"/>
<path color="#5a660c" d="M561 1250l4 4 3-4 -4-4"/>
<path color="#37662f" d="M636 1283l4-5 3-6 -5-4"/>
<path color="#88eb78" d="M497 1275l4-6 3 8 -5 6"/>
<path color="#dae714" d="M523 1246l4-1 3 0 -5 2"/>
<path color="#ccc500" d="M666 1238l4-2 3 2 -4 3"/>
<path color="#b0b305" d="M662 1246l4-8 3 3 -5 4"/>
<path color="#0163bb" d="M481 1354l4-9 3 8 -4 9"/>
<path color="#0292c3" d="M483 1337l4-9 3 8 -5 9"/>
<path color="#f1dd02" d="M682 1233l4 0 3 4 -5-2"/>
<path color="#94e25c" d="M501 1269l4-6 3 6 -4 8"/>
<path color="#44dba2" d="M491 1296l4-7 2 8 -4 8"/>
<path color="#dbf028" d="M518 1253l5-7 2 1 -4 5"/>
<path color="#0103a2" d="M480 1407l4-17 3 10 -4 0"/>
<path color="#0021b4" d="M482 1382l4-11 3 8 -5 11"/>
<path color="#b1ec52" d="M505 1263l5-7 2 9 -4 4"/>
<path color="#daf247" d="M514 1254l4-1 3-1 -4 5"/>
<path color="#13c8ba" d="M489 1313l4-8 3 7 -5 9"/>
<path color="#d1f455" d="M510 1256l4-2 3 3 -5 8"/>
<path color="#5ce294" d="M495 1289l4-6 3 7 -5 7"/>
<path color="#999d04" d="M534 1244l4 0 3 0 -4 0"/>
<path color="#02abc4" d="M487 1328l4-7 3 7 -4 8"/>
<path color="#71e686" d="M499 1283l5-6 2 8 -4 5"/>
<path color="#0150bb" d="M484 1362l4-9 2 9 -4 9"/>
<path color="#4d6619" d="M602 1260l4 4 3-4 -5-3"/>
<path color="#4a661c" d="M613 1264l4 3 3-6 -4-3"/>
<path color="#017fc1" d="M485 1345l5-9 2 8 -4 9"/>
<path color="#e6d101" d="M677 1235l5-2 2 2 -4 2"/>
<path color="#86ea77" d="M504 1277l4-8 3 10 -5 6"/>
<path color="#606606" d="M545 1247l5 1 2-3 -4 0"/>
<path color="#2bcfa9" d="M493 1305l4-8 3 7 -4 8"/>
<path color="#546612" d="M590 1255l5 5 2-3 -4-6"/>
<path color="#0212bb" d="M484 1390l5-11 2 11 -4 10"/>
<path color="#9bec66" d="M508 1269l4-4 3 7 -4 7"/>
<path color="#d9e211" d="M530 1245l4-1 3 0 -5 7"/>
<path color="#3d6629" d="M631 1274l5 9 2-15 -4-4"/>
<path color="#07bec0" d="M491 1321l5-9 2 7 -4 9"/>
<path color="#606506" d="M557 1246l4 4 3-4 -5-3"/>
<path color="#46dba0" d="M497 1297l5-7 2 8 -4 6"/>
<path color="#5d6609" d="M568 1250l4 3 3-5 -5-3"/>
<path color="#5a660c" d="M579 1252l4 4 3-5 -4-4"/>
<path color="#dacb01" d="M673 1238l4-3 3 2 -4 3"/>
<path color="#aeec51" d="M512 1265l5-8 2 8 -4 7"/>
<path color="#013fbd" d="M486 1371l4-9 3 8 -4 9"/>
<path color="#ebf52d" d="M525 1247l5-2 2 6 -4 3"/>
<path color="#0197c1" d="M490 1336l4-8 3 7 -5 9"/>
<path color="#6b8b21" d="M651 1267l5-8 2-2 -4 4"/>
<path color="#64ed9f" d="M502 1290l4-5 3 7 -5 6"/>
<path color="#c8ee42" d="M517 1257l4-5 3 7 -5 6"/>
<path color="#016cbf" d="M488 1353l4-9 3 8 -5 10"/>
<path color="#e4f53e" d="M521 1252l4-5 3 7 -4 5"/>
<path color="#88a119" d="M656 1259l4-7 2 1 -4 4"/>
<path color="#80f89e" d="M506 1285l5-6 2 10 -4 3"/>
<path color="#cfc600" d="M669 1241l4-3 3 2 -5 3"/>
<path color="#f9e906" d="M684 1235l5 2 2 4 -4-2"/>
<path color="#8ff78d" d="M511 1279l4-7 2 11 -4 6"/>
<path color="#4f7121" d="M647 1271l4-4 3-6 -5 1"/>
<path color="#a1ae0c" d="M660 1252l4-7 3 2 -5 6"/>
<path color="#19cbb6" d="M496 1312l4-8 3 7 -5 8"/>
<path color="#080cc7" d="M487 1400l4-10 3 12 -4 5"/>
<path color="#bcbc03" d="M664 1245l5-4 2 2 -4 4"/>
<path color="#022bc1" d="M489 1379l4-9 3 10 -5 10"/>
<path color="#797a03" d="M541 1244l4 3 3-2 -4-2"/>
<path color="#a2f675" d="M515 1272l4-7 3 11 -5 7"/>
<path color="#4c661a" d="M620 1261l4 8 3-4 -4-10"/>
<path color="#02b1c2" d="M494 1328l4-9 3 7 -4 9"/>
<path color="#c3fc6e" d="M519 1265l5-6 2 12 -4 5"/>
<path color="#34daaf" d="M500 1304l4-6 3 7 -4 6"/>
<path color="#516615" d="M609 1260l4 4 3-6 -5-3"/>
<path color="#dcff67" d="M524 1259l4-5 2 11 -4 6"/>
<path color="#015abe" d="M490 1362l5-10 2 8 -4 10"/>
<path color="#556611" d="M597 1257l5 3 2-3 -4-4"/>
<path color="#d3f148" d="M528 1254l4-3 3 10 -5 4"/>
<path color="#0185bf" d="M492 1344l5-9 2 8 -4 9"/>
<path color="#8effbe" d="M513 1289l4-6 3 9 -4 4"/>
<path color="#58f1b6" d="M504 1298l5-6 2 7 -4 6"/>
<path color="#7effc5" d="M509 1292l4-3 3 7 -5 3"/>
<path color="#0315c1" d="M491 1390l5-10 2 12 -4 10"/>
<path color="#94ffa3" d="M517 1283l5-7 2 11 -4 5"/>
<path color="#c4d61a" d="M532 1251l5-7 2 5 -4 12"/>
<path color="#f5e208" d="M680 1237l4-2 3 4 -5 1"/>
<path color="#a2fd8e" d="M522 1276l4-5 3 11 -5 5"/>
<path color="#abab03" d="M537 1244l4 0 3-1 -5 6"/>
<path color="#646302" d="M552 1245l5 1 2-3 -4-2"/>
<path color="#49661d" d="M643 1272l4-1 2-9 -4-4"/>
<path color="#a6f273" d="M526 1271l4-6 3 12 -4 5"/>
<path color="#0cc7c1" d="M498 1319l5-8 2 8 -4 7"/>
<path color="#5d6509" d="M586 1251l4 4 3-4 -4-6"/>
<path color="#626404" d="M564 1246l4 4 2-5 -4-3"/>
<path color="#606406" d="M575 1248l4 4 3-5 -5-4"/>
<path color="#0144bc" d="M493 1370l4-10 3 10 -4 10"/>
<path color="#98d449" d="M530 1265l5-4 2 7 -4 9"/>
<path color="#01a1c1" d="M497 1335l4-9 3 7 -5 10"/>
<path color="#e7d704" d="M676 1240l4-3 2 3 -4 2"/>
<path color="#24dac0" d="M503 1311l4-6 3 7 -5 7"/>
<path color="#0205b6" d="M494 1402l4-10 3 7 -4 9"/>
<path color="#73f7af" d="M520 1292l4-5 3 7 -4 5"/>
<path color="#0174bd" d="M495 1352l4-9 3 7 -5 10"/>
<path color="#7cffd4" d="M516 1296l4-4 3 7 -5 4"/>
<path color="#73e98d" d="M524 1287l5-5 2 6 -4 6"/>
<path color="#4c661a" d="M627 1265l4 9 3-10 -5-9"/>
<path color="#70ffdb" d="M511 1299l5-3 2 7 -4 4"/>
<path color="#48f1c9" d="M507 1305l4-6 3 8 -4 5"/>
<path color="#72d56d" d="M529 1282l4-5 3 6 -5 5"/>
<path color="#012bb6" d="M496 1380l4-10 3 7 -5 15"/>
<path color="#d3cb01" d="M671 1243l5-3 2 2 -4 3"/>
<path color="#7a7401" d="M548 1245l4 0 3-4 -5 1"/>
<path color="#05bec8" d="M501 1326l4-7 3 7 -4 7"/>
<path color="#c2c304" d="M667 1247l4-4 3 2 -5 5"/>
<path color="#aebd0e" d="M662 1253l5-6 2 3 -4 6"/>
<path color="#58660e" d="M604 1257l5 3 2-5 -4-3"/>
<path color="#9bb91f" d="M535 1261l4-12 3 5 -5 14"/>
<path color="#9ab319" d="M658 1257l4-4 3 3 -4 4"/>
<path color="#58660e" d="M616 1258l4 3 3-6 -5-2"/>
<path color="#73ba49" d="M533 1277l4-9 3 5 -4 10"/>
<path color="#506616" d="M638 1268l5 4 2-14 -4-7"/>
<path color="#0060b8" d="M497 1360l5-10 2 7 -4 13"/>
<path color="#0190bf" d="M499 1343l5-10 2 7 -4 10"/>
<path color="#5d6609" d="M593 1251l4 6 3-4 -4-5"/>
<path color="#708a19" d="M654 1261l4-4 3 3 -5 3"/>
<path color="#15d8ce" d="M505 1319l5-7 2 8 -4 6"/>
<path color="#55f7cb" d="M518 1303l5-4 2 7 -4 4"/>
<path color="#656001" d="M559 1243l5 3 2-4 -4-3"/>
<path color="#4ee3a2" d="M523 1299l4-5 3 5 -5 7"/>
<path color="#52ffdf" d="M514 1307l4-4 3 7 -4 4"/>
<path color="#34f1d7" d="M510 1312l4-5 3 7 -5 6"/>
<path color="#0019ae" d="M498 1392l5-15 2 6 -4 16"/>
<path color="#a39a00" d="M544 1243l4 2 2-3 -4 0"/>
<path color="#54d081" d="M527 1294l4-6 3 4 -4 7"/>
<path color="#b0b005" d="M539 1249l5-6 2-1 -4 12"/>
<path color="#646102" d="M570 1245l5 3 2-5 -4-4"/>
<path color="#636303" d="M582 1247l4 4 3-6 -5-3"/>
<path color="#03afc8" d="M504 1333l4-7 2 7 -4 7"/>
<path color="#5cc167" d="M531 1288l5-5 2 3 -4 6"/>
<path color="#efe506" d="M678 1242l4-2 3 6 -4 1"/>
<path color="#004db1" d="M500 1370l4-13 3 6 -4 14"/>
<path color="#536613" d="M649 1262l5-1 2 2 -4-4"/>
<path color="#017ebb" d="M502 1350l4-10 3 7 -5 10"/>
<path color="#88ac24" d="M537 1268l5-14 2 4 -4 15"/>
<path color="#0acdd4" d="M508 1326l4-6 3 7 -5 6"/>
<path color="#1de8dd" d="M512 1320l5-6 2 7 -4 6"/>
<path color="#39eec8" d="M521 1310l4-4 3 5 -5 6"/>
<path color="#31f5dd" d="M517 1314l4-4 2 7 -4 4"/>
<path color="#66b24c" d="M536 1283l4-10 3 5 -5 8"/>
<path color="#d5ce01" d="M674 1245l4-3 3 5 -5 1"/>
<path color="#5f6507" d="M600 1253l4 4 3-5 -4-4"/>
<path color="#807100" d="M555 1241l4 2 3-4 -5-1"/>
<path color="#40dca6" d="M525 1306l5-7 2 4 -4 8"/>
<path color="#00109e" d="M501 1399l4-16 3 6 -5 20"/>
<path color="#5d6609" d="M611 1255l5 3 2-5 -4-3"/>
<path color="#5a650c" d="M623 1255l4 10 2-10 -4-7"/>
<path color="#babd05" d="M669 1250l5-5 2 3 -4 6"/>
<path color="#a5b611" d="M665 1256l4-6 3 4 -4 5"/>
<path color="#58640e" d="M634 1264l4 4 3-17 -5-4"/>
<path color="#029dc4" d="M506 1340l4-7 3 6 -4 8"/>
<path color="#4bcc85" d="M530 1299l4-7 3 4 -5 7"/>
<path color="#003fac" d="M503 1377l4-14 3 7 -5 13"/>
<path color="#646102" d="M589 1245l4 6 3-3 -5-6"/>
<path color="#665c00" d="M566 1242l4 3 3-6 -4-2"/>
<path color="#8ba117" d="M661 1260l4-4 3 3 -5-1"/>
<path color="#006eb6" d="M504 1357l5-10 2 7 -4 9"/>
<path color="#a9ab09" d="M542 1254l4-12 3 5 -5 11"/>
<path color="#04bbd0" d="M510 1333l5-6 2 6 -4 6"/>
<path color="#665d00" d="M577 1243l5 4 2-5 -4-4"/>
<path color="#56c06a" d="M534 1292l4-6 3 3 -4 7"/>
<path color="#af9a00" d="M550 1242l5-1 2-3 -4 3"/>
<path color="#34e6cb" d="M528 1311l4-8 3 18 -5-2"/>
<path color="#0cd5da" d="M515 1327l4-6 3 6 -5 6"/>
<path color="#32f4e1" d="M523 1317l5-6 2 8 -4 3"/>
<path color="#5a650c" d="M645 1258l4 4 3-3 -4-9"/>
<path color="#81ac2b" d="M540 1273l4-15 3 5 -4 15"/>
<path color="#1ceae0" d="M519 1321l4-4 3 5 -4 5"/>
<path color="#bfae00" d="M546 1242l4 0 3-1 -4 6"/>
<path color="#37cd9b" d="M532 1303l5-7 2 8 -4 17"/>
<path color="#64b551" d="M538 1286l5-8 2 3 -4 8"/>
<path color="#697a11" d="M656 1263l5-3 2-2 -4-4"/>
<path color="#018dc0" d="M509 1347l4-8 3 6 -5 9"/>
<path color="#0033a9" d="M505 1383l5-13 2 6 -4 13"/>
<path color="#626404" d="M607 1252l4 3 3-5 -4-2"/>
<path color="#0060b3" d="M507 1363l4-9 3 7 -4 9"/>
<path color="#7d6900" d="M562 1239l4 3 3-5 -5 0"/>
<path color="#646002" d="M596 1248l4 5 3-5 -5-7"/>
<path color="#4cc177" d="M537 1296l4-7 2 9 -4 6"/>
<path color="#02a8c8" d="M513 1339l4-6 3 5 -4 7"/>
<path color="#1fe3da" d="M530 1319l5 2 2 1 -4 1"/>
<path color="#a9b610" d="M544 1258l5-11 2 8 -4 8"/>
<path color="#626204" d="M618 1253l5 2 2-7 -4-3"/>
<path color="#5e6108" d="M629 1255l5 9 2-17 -4-3"/>
<path color="#23f1ea" d="M526 1322l4-3 3 4 -4 4"/>
<path color="#04c3d2" d="M517 1333l5-6 2 5 -4 6"/>
<path color="#20c9ab" d="M535 1321l4-17 3 8 -5 10"/>
<path color="#665600" d="M573 1239l4 4 3-5 -4-4"/>
<path color="#665a00" d="M584 1242l5 3 2-3 -4-5"/>
<path color="#0fdfdf" d="M522 1327l4-5 3 5 -5 5"/>
<path color="#80b434" d="M543 1278l4-15 3 6 -5 12"/>
<path color="#a8a603" d="M672 1254l4-6 3 0 -4 4"/>
<path color="#b09400" d="M557 1238l5 1 2-2 -4 7"/>
<path color="#007cbb" d="M511 1354l5-9 2 7 -4 9"/>
<path color="#5dbd60" d="M541 1289l4-8 3 8 -5 9"/>
<path color="#c8c105" d="M549 1247l4-6 3 9 -5 5"/>
<path color="#cfb902" d="M553 1241l4-3 3 6 -4 6"/>
<path color="#7f8809" d="M668 1259l4-5 3-2 -5 3"/>
<path color="#5d6409" d="M652 1259l4 4 3-9 -4-5"/>
<path color="#0051ae" d="M510 1370l4-9 2 7 -4 8"/>
<path color="#0023a1" d="M508 1389l4-13 3 6 -5 21"/>
<path color="#3bc289" d="M539 1304l4-6 3 7 -4 7"/>
<path color="#626104" d="M641 1251l4 7 3-8 -5-7"/>
<path color="#0196c0" d="M516 1345l4-7 3 6 -5 8"/>
<path color="#a6c11e" d="M547 1263l4-8 3 9 -4 5"/>
<path color="#6d770a" d="M663 1258l5 1 2-4 -4-1"/>
<path color="#655f01" d="M603 1248l4 4 3-4 -5-7"/>
<path color="#7abd44" d="M545 1281l5-12 2 8 -4 12"/>
<path color="#7f6300" d="M569 1237l4 2 3-5 -5 2"/>
<path color="#16dfd2" d="M533 1323l4-1 3 1 -4 4"/>
<path color="#4fc274" d="M543 1298l5-9 2 8 -4 8"/>
<path color="#02b1ca" d="M520 1338l4-6 3 5 -4 7"/>
<path color="#20d2b7" d="M537 1322l5-10 2 5 -4 6"/>
<path color="#10e2df" d="M529 1327l4-4 3 4 -5 5"/>
<path color="#655e01" d="M614 1250l4 3 3-8 -5-3"/>
<path color="#06ced8" d="M524 1332l5-5 2 5 -4 5"/>
<path color="#665800" d="M591 1242l5 6 2-7 -4-5"/>
<path color="#bfcb10" d="M551 1255l5-5 2 8 -4 6"/>
<path color="#0068b1" d="M514 1361l4-9 3 7 -5 9"/>
<path color="#665200" d="M580 1238l4 4 3-5 -4-3"/>
<path color="#34cd9e" d="M542 1312l4-7 3 5 -5 7"/>
<path color="#c5be05" d="M556 1250l4-6 3 4 -5 10"/>
<path color="#0044a5" d="M512 1376l4-8 3 1 -4 13"/>
<path color="#99c62f" d="M550 1269l4-5 3 8 -5 5"/>
<path color="#645c02" d="M625 1248l4 7 3-11 -4-4"/>
<path color="#ad8900" d="M564 1237l5 0 2-1 -4 5"/>
<path color="#6bc35a" d="M548 1289l4-12 3 10 -5 10"/>
<path color="#c4a700" d="M560 1244l4-7 3 4 -4 7"/>
<path color="#626304" d="M659 1254l4 4 3-4 -4-6"/>
<path color="#0085b7" d="M518 1352l5-8 2 3 -4 12"/>
<path color="#47cb88" d="M546 1305l4-8 3 6 -4 7"/>
<path color="#635f03" d="M648 1250l4 9 3-10 -5-6"/>
<path color="#acc71d" d="M554 1264l4-6 3 4 -4 10"/>
<path color="#33eede" d="M540 1323l4-6 3 10 -4 5"/>
<path color="#665b00" d="M636 1247l5 4 2-8 -4-3"/>
<path color="#30f2eb" d="M536 1327l4-4 3 9 -5 0"/>
<path color="#30e5c5" d="M544 1317l5-7 2 11 -4 6"/>
<path color="#01a6c6" d="M523 1344l4-7 3 6 -5 4"/>
<path color="#87c743" d="M552 1277l5-5 2 8 -4 7"/>
<path color="#17e3e8" d="M531 1332l5-5 2 5 -4 5"/>
<path color="#06c4d8" d="M527 1337l4-5 3 5 -4 6"/>
<path color="#5eca70" d="M550 1297l5-10 2 8 -4 8"/>
<path color="#826000" d="M576 1234l4 4 3-4 -5 0"/>
<path color="#665a00" d="M610 1248l4 2 2-8 -4-2"/>
<path color="#665400" d="M598 1241l5 7 2-7 -4-7"/>
<path color="#3ad7a5" d="M549 1310l4-7 3 11 -5 7"/>
<path color="#664f00" d="M587 1237l4 5 3-6 -4-1"/>
<path color="#0060a7" d="M516 1368l5-9 2-2 -4 12"/>
<path color="#babb09" d="M558 1258l5-10 2 4 -4 10"/>
<path color="#9bc62d" d="M557 1272l4-10 2 9 -4 9"/>
<path color="#32f5f6" d="M543 1332l4-5 3 9 -5 5"/>
<path color="#1ae3dd" d="M547 1327l4-6 3 9 -4 6"/>
<path color="#76ca58" d="M555 1287l4-7 3 7 -5 8"/>
<path color="#003c9e" d="M515 1382l4-13 3-2 -5 30"/>
<path color="#4ccd87" d="M553 1303l4-8 3 9 -4 10"/>
<path color="#b78901" d="M571 1236l5-2 2 0 -4 5"/>
<path color="#c5ae02" d="M563 1248l4-7 3 4 -5 7"/>
<path color="#665500" d="M621 1245l4 3 3-8 -5-3"/>
<path color="#1ed3bc" d="M551 1321l5-7 2 10 -4 6"/>
<path color="#49ffff" d="M538 1332l5 0 2 9 -4-3"/>
<path color="#0082b6" d="M521 1359l4-12 3 5 -5 5"/>
<path color="#cea502" d="M567 1241l4-5 3 3 -4 6"/>
<path color="#655c01" d="M655 1249l4 5 3-6 -5-6"/>
<path color="#827901" d="M666 1254l4 1 3-9 -4 4"/>
<path color="#b3c214" d="M561 1262l4-10 3 9 -5 10"/>
<path color="#2eedf8" d="M534 1337l4-5 3 6 -5 5"/>
<path color="#8bc942" d="M559 1280l4-9 3 9 -4 7"/>
<path color="#03a5cd" d="M525 1347l5-4 2 4 -4 5"/>
<path color="#665400" d="M632 1244l4 3 3-7 -4-3"/>
<path color="#0cc7e5" d="M530 1343l4-6 2 6 -4 4"/>
<path color="#62ca6c" d="M557 1295l5-8 2 9 -4 8"/>
<path color="#31c799" d="M556 1314l4-10 3 10 -5 10"/>
<path color="#846100" d="M583 1234l4 3 3-2 -5 2"/>
<path color="#665200" d="M605 1241l5 7 2-8 -4-5"/>
<path color="#664c00" d="M594 1236l4 5 3-7 -5 2"/>
<path color="#665500" d="M643 1243l5 7 2-7 -4-7"/>
<path color="#06cfd3" d="M550 1336l4-6 2 1 -4 5"/>
<path color="#c9bf07" d="M565 1252l5-7 2 9 -4 7"/>
<path color="#14dde7" d="M545 1341l5-5 2 0 -4 5"/>
<path color="#0068ab" d="M519 1369l4-12 3 4 -4 6"/>
<path color="#a3c929" d="M563 1271l5-10 2 10 -4 9"/>
<path color="#0cc9bf" d="M554 1330l4-6 3 4 -5 3"/>
<path color="#76c754" d="M562 1287l4-7 3 8 -5 8"/>
<path color="#49c37b" d="M560 1304l4-8 3 9 -4 9"/>
<path color="#38f4fa" d="M541 1338l4 3 3 0 -5 4"/>
<path color="#664f00" d="M616 1242l5 3 2-8 -4-1"/>
<path color="#ba8601" d="M578 1234l5 0 2 3 -4 1"/>
<path color="#d2b605" d="M570 1245l4-6 2 9 -4 6"/>
<path color="#665f00" d="M662 1248l4 6 3-4 -5 3"/>
<path color="#1fc1a2" d="M558 1324l5-10 2 4 -4 10"/>
<path color="#d2a302" d="M574 1239l4-5 3 4 -5 10"/>
<path color="#3df7ff" d="M536 1343l5-5 2 7 -4 3"/>
<path color="#058ec8" d="M523 1357l5-5 2 5 -4 4"/>
<path color="#bac814" d="M568 1261l4-7 3 10 -5 7"/>
<path color="#22dcf7" d="M532 1347l4-4 3 5 -4 4"/>
<path color="#12b5e6" d="M528 1352l4-5 3 5 -5 5"/>
<path color="#8cc43a" d="M566 1280l4-9 3 7 -4 10"/>
<path color="#815d00" d="M590 1235l4 1 2 0 -4 2"/>
<path color="#60c062" d="M564 1296l5-8 2 7 -4 10"/>
<path color="#664d00" d="M628 1240l4 4 3-7 -5-4"/>
<path color="#665100" d="M650 1243l5 6 2-7 -4-7"/>
<path color="#38be87" d="M563 1314l4-9 2 6 -4 7"/>
<path color="#c3bc07" d="M572 1254l4-6 3 7 -4 9"/>
<path color="#664800" d="M601 1234l4 7 3-6 -5-2"/>
<path color="#0262c2" d="M522 1367l4-6 3 7 -5 24"/>
<path color="#11d9e9" d="M548 1341l4-5 3 5 -5 5"/>
<path color="#0bd6d9" d="M552 1336l4-5 3 3 -4 7"/>
<path color="#a0c022" d="M570 1271l5-7 2 6 -4 8"/>
<path color="#2dedfa" d="M543 1345l5-4 2 5 -4 5"/>
<path color="#0dd1c9" d="M556 1331l5-3 2 4 -4 2"/>
<path color="#664a00" d="M612 1240l4 2 3-6 -4-3"/>
<path color="#664b00" d="M639 1240l4 3 3-7 -4-3"/>
<path color="#bb8901" d="M585 1237l5-2 2 3 -4 2"/>
<path color="#44fdff" d="M539 1348l4-3 3 6 -4 5"/>
<path color="#78bd46" d="M569 1288l4-10 3 7 -5 10"/>
<path color="#45f5ff" d="M535 1352l4-4 3 8 -5 5"/>
<path color="#39d7fb" d="M530 1357l5-5 2 9 -4 4"/>
<path color="#18a0e0" d="M526 1361l4-4 3 8 -4 3"/>
<path color="#19c5ad" d="M561 1328l4-10 3 6 -5 8"/>
<path color="#c5a401" d="M576 1248l5-10 2 4 -4 13"/>
<path color="#6285ff" d="M549 1395l5-5 2 14 -4 5"/>
<path color="#4fbd6f" d="M567 1305l4-10 3 7 -5 9"/>
<path color="#665700" d="M657 1242l5 6 2 5 -4-7"/>
<path color="#6970ff" d="M552 1409l4-5 3 13 -4 4"/>
<path color="#4b98ff" d="M547 1382l4-5 3 13 -5 5"/>
<path color="#295cf7" d="M554 1390l4-6 3 13 -5 7"/>
<path color="#2638ee" d="M556 1404l5-7 2 12 -4 8"/>
<path color="#d29c01" d="M581 1238l4-1 3 3 -5 2"/>
<path color="#7dbfff" d="M542 1387l5-5 2 13 -4 5"/>
<path color="#47e7ff" d="M542 1356l4-5 3 12 -5 5"/>
<path color="#46bcff" d="M544 1368l5-5 2 14 -4 5"/>
<path color="#5ef2ff" d="M537 1361l5-5 2 12 -4 5"/>
<path color="#2d88fd" d="M551 1377l5-7 2 14 -4 6"/>
<path color="#6cd8ff" d="M540 1373l4-5 3 14 -5 5"/>
<path color="#87a1ff" d="M545 1400l4-5 3 14 -4 0"/>
<path color="#33dfff" d="M546 1351l4-5 3 11 -4 6"/>
<path color="#b0b80b" d="M575 1264l4-9 3 5 -5 10"/>
<path color="#31b6ff" d="M549 1363l4-6 3 13 -5 7"/>
<path color="#77f3ff" d="M533 1365l4-4 3 12 -4 3"/>
<path color="#2fc294" d="M565 1318l4-7 3 6 -4 7"/>
<path color="#20d9f9" d="M550 1346l5-5 2 9 -4 7"/>
<path color="#805500" d="M596 1236l5-2 2-1 -4 2"/>
<path color="#664600" d="M623 1237l5 3 2-7 -4-2"/>
<path color="#1158e2" d="M558 1384l4-8 3 12 -4 9"/>
<path color="#8fbb2c" d="M573 1278l4-8 3 5 -4 10"/>
<path color="#83dbff" d="M536 1376l4-3 2 14 -4 2"/>
<path color="#1b89f2" d="M556 1370l4-7 2 13 -4 8"/>
<path color="#17dcee" d="M555 1341l4-7 3 10 -5 6"/>
<path color="#1719d8" d="M559 1417l4-8 3 10 -4 4"/>
<path color="#22b9fb" d="M553 1357l4-7 3 13 -4 7"/>
<path color="#082dd2" d="M561 1397l4-9 3 11 -5 10"/>
<path color="#65d5f4" d="M529 1368l4-3 3 11 -5 2"/>
<path color="#69bd55" d="M571 1295l5-10 2 7 -4 10"/>
<path color="#6cabff" d="M538 1389l4-2 3 13 -4-4"/>
<path color="#0fdadc" d="M559 1334l4-2 3 5 -4 7"/>
<path color="#43c27f" d="M569 1311l5-9 2 7 -4 8"/>
<path color="#664400" d="M608 1235l4 5 3-7 -5-2"/>
<path color="#18bfee" d="M557 1350l5-6 2 12 -4 7"/>
<path color="#14d0c1" d="M563 1332l5-8 2 6 -4 7"/>
<path color="#0311c4" d="M563 1409l5-10 2 9 -4 11"/>
<path color="#0f8fdf" d="M560 1363l4-7 3 12 -5 8"/>
<path color="#bca500" d="M579 1255l4-13 3 6 -4 12"/>
<path color="#b77f00" d="M592 1238l4-2 3-1 -4 4"/>
<path color="#664400" d="M635 1237l4 3 3-7 -5-3"/>
<path color="#664500" d="M646 1236l4 7 3-8 -4-6"/>
<path color="#0764cf" d="M562 1376l5-8 2 10 -4 10"/>
<path color="#a7b912" d="M577 1270l5-10 2 5 -4 10"/>
<path color="#0dc5de" d="M562 1344l4-7 3 10 -5 9"/>
<path color="#27cba8" d="M568 1324l4-7 3 6 -5 7"/>
<path color="#d59a02" d="M588 1240l4-2 3 1 -5 3"/>
<path color="#83bd3b" d="M576 1285l4-10 3 9 -5 8"/>
<path color="#0242c3" d="M565 1388l4-10 3 9 -4 12"/>
<path color="#cb9c02" d="M583 1242l5-2 2 2 -4 6"/>
<path color="#5cc167" d="M574 1302l4-10 3 8 -5 9"/>
<path color="#664200" d="M619 1236l4 1 3-6 -4 2"/>
<path color="#079dd1" d="M564 1356l5-9 2 9 -4 12"/>
<path color="#664b00" d="M653 1235l4 7 3 4 -5-6"/>
<path color="#0ccdcf" d="M566 1337l4-7 3 9 -4 8"/>
<path color="#3ac993" d="M572 1317l4-8 3 7 -4 7"/>
<path color="#0306c3" d="M566 1419l4-11 3 10 -4 1"/>
<path color="#0128bd" d="M568 1399l4-12 3 10 -5 11"/>
<path color="#845300" d="M603 1233l5 2 2-4 -4 4"/>
<path color="#037bc5" d="M567 1368l4-12 3 10 -5 12"/>
<path color="#816900" d="M660 1246l4 7 3-8 -5 3"/>
<path color="#bcb103" d="M582 1260l4-12 3 8 -5 9"/>
<path color="#9fbf22" d="M580 1275l4-10 3 9 -4 10"/>
<path color="#76c34f" d="M578 1292l5-8 2 8 -4 8"/>
<path color="#19d2c0" d="M570 1330l5-7 2 9 -4 7"/>
<path color="#05b7cf" d="M569 1347l4-8 3 9 -5 8"/>
<path color="#50c87b" d="M576 1309l5-9 2 8 -4 8"/>
<path color="#663d00" d="M630 1233l5 4 2-7 -4-4"/>
<path color="#0160bf" d="M569 1378l5-12 2 10 -4 11"/>
<path color="#664100" d="M615 1233l4 3 3-3 -5 2"/>
<path color="#0114ba" d="M570 1408l5-11 2 9 -4 12"/>
<path color="#bf7d04" d="M599 1235l4-2 3 2 -4 3"/>
<path color="#2cd0aa" d="M575 1323l4-7 3 9 -5 7"/>
<path color="#cda804" d="M586 1248l4-6 3 7 -4 7"/>
<path color="#de9a07" d="M595 1239l4-4 3 3 -5 4"/>
<path color="#daa307" d="M590 1242l5-3 2 3 -4 7"/>
<path color="#663b00" d="M642 1233l4 3 3-7 -5-3"/>
<path color="#0bcccf" d="M573 1339l4-7 3 9 -4 7"/>
<path color="#039bc8" d="M571 1356l5-8 2 9 -4 9"/>
<path color="#91c739" d="M583 1284l4-10 2 9 -4 9"/>
<path color="#bcc30e" d="M584 1265l5-9 2 10 -4 8"/>
<path color="#67c965" d="M581 1300l4-8 3 9 -5 7"/>
<path color="#0148bb" d="M572 1387l4-11 3 9 -4 12"/>
<path color="#41cd91" d="M579 1316l4-8 3 8 -4 9"/>
<path color="#19d1bf" d="M577 1332l5-7 2 8 -4 8"/>
<path color="#7d4a00" d="M610 1231l5 2 2 2 -4-3"/>
<path color="#0282c4" d="M574 1366l4-9 3 8 -5 11"/>
<path color="#0109a9" d="M573 1418l4-12 3 5 -5 15"/>
<path color="#06b8d0" d="M576 1348l4-7 2 9 -4 7"/>
<path color="#d3c309" d="M589 1256l4-7 3 9 -5 8"/>
<path color="#80cc50" d="M585 1292l4-9 3 10 -4 8"/>
<path color="#b1ce23" d="M587 1274l4-8 3 10 -5 7"/>
<path color="#664d00" d="M655 1240l5 6 2 2 -4-4"/>
<path color="#0030b4" d="M575 1397l4-12 3 9 -5 12"/>
<path color="#663800" d="M626 1231l4 2 3-7 -4 1"/>
<path color="#663e00" d="M649 1229l4 6 2 5 -4-7"/>
<path color="#56cc7a" d="M583 1308l5-7 2 8 -4 7"/>
<path color="#e1bc0d" d="M593 1249l4-7 3 10 -4 6"/>
<path color="#2dcda5" d="M582 1325l4-9 3 9 -5 8"/>
<path color="#b47101" d="M606 1235l4-4 3 1 -4 10"/>
<path color="#0ac8cc" d="M580 1341l4-8 3 9 -5 8"/>
<path color="#e7af0f" d="M597 1242l5-4 2 7 -4 7"/>
<path color="#0169bf" d="M576 1376l5-11 2 9 -4 11"/>
<path color="#de9b08" d="M602 1238l4-3 3 7 -5 3"/>
<path color="#ccd314" d="M591 1266l5-8 2 10 -4 8"/>
<path color="#9bcf3a" d="M589 1283l5-7 2 9 -4 8"/>
<path color="#04a0cc" d="M578 1357l4-7 3 8 -4 7"/>
<path color="#6ccb63" d="M588 1301l4-8 3 7 -5 9"/>
<path color="#663500" d="M637 1230l5 3 2-7 -4-3"/>
<path color="#42ca8b" d="M586 1316l4-7 3 8 -4 8"/>
<path color="#663800" d="M622 1233l4-2 3-4 -5 2"/>
<path color="#dbcd0e" d="M596 1258l4-6 2 9 -4 7"/>
<path color="#19cbb6" d="M584 1333l5-8 2 8 -4 9"/>
<path color="#b4d326" d="M594 1276l4-8 3 9 -5 8"/>
<path color="#05b5cd" d="M582 1350l5-8 2 9 -4 7"/>
<path color="#0020a6" d="M577 1406l5-12 2 4 -4 13"/>
<path color="#0050b6" d="M579 1385l4-11 3 9 -4 11"/>
<path color="#0387c7" d="M581 1365l4-7 3 9 -5 7"/>
<path color="#83cc4c" d="M592 1293l4-8 3 8 -4 7"/>
<path color="#dbb90b" d="M600 1252l4-7 3 8 -5 8"/>
<path color="#58c872" d="M590 1309l5-9 2 8 -4 9"/>
<path color="#784400" d="M617 1235l5-2 2-4 -4 5"/>
<path color="#c6cf13" d="M598 1268l4-7 3 9 -4 7"/>
<path color="#cc9c05" d="M604 1245l5-3 2 5 -4 6"/>
<path color="#2ec79c" d="M589 1325l4-8 2 8 -4 8"/>
<path color="#0ac2c2" d="M587 1342l4-9 3 8 -5 10"/>
<path color="#039cc7" d="M585 1358l4-7 3 8 -4 8"/>
<path color="#99cb36" d="M596 1285l5-8 2 8 -4 8"/>
<path color="#664200" d="M651 1233l4 7 3 4 -4-6"/>
<path color="#663300" d="M644 1226l5 3 2 4 -4-7"/>
<path color="#016cbb" d="M583 1374l5-7 2 8 -4 8"/>
<path color="#be7a00" d="M609 1242l4-10 3 1 -5 14"/>
<path color="#663000" d="M633 1226l4 4 3-7 -4 1"/>
<path color="#a35c00" d="M613 1232l4 3 3-1 -4-1"/>
<path color="#c7bb06" d="M602 1261l5-8 2 9 -4 8"/>
<path color="#6fc75a" d="M595 1300l4-7 3 7 -5 8"/>
<path color="#45c582" d="M593 1317l4-9 3 8 -5 9"/>
<path color="#0040a7" d="M582 1394l4-11 2 3 -4 12"/>
<path color="#adc81e" d="M601 1277l4-7 3 6 -5 9"/>
<path color="#1bc4ac" d="M591 1333l4-8 3 8 -4 8"/>
<path color="#03afc1" d="M589 1351l5-10 2 9 -4 9"/>
<path color="#85c643" d="M599 1293l4-8 3 7 -4 8"/>
<path color="#0180ba" d="M588 1367l4-8 3 7 -5 9"/>
<path color="#ba9901" d="M607 1253l4-6 3 3 -5 12"/>
<path color="#001c96" d="M580 1411l4-13 3 3 -5 9"/>
<path color="#b7bd0a" d="M605 1270l4-8 3 7 -4 7"/>
<path color="#5dc469" d="M597 1308l5-8 2 8 -4 8"/>
<path color="#7b3600" d="M629 1227l4-1 3-2 -5 1"/>
<path color="#33c291" d="M595 1325l5-9 2 8 -4 9"/>
<path color="#0bbbb5" d="M594 1341l4-8 3 8 -5 9"/>
<path color="#99c32b" d="M603 1285l5-9 2 7 -4 9"/>
<path color="#0059aa" d="M586 1383l4-8 3 3 -5 8"/>
<path color="#0093b4" d="M592 1359l4-9 3 7 -4 9"/>
<path color="#73c352" d="M602 1300l4-8 3 7 -5 9"/>
<path color="#662b00" d="M640 1223l4 3 3 0 -5-3"/>
<path color="#904000" d="M624 1229l5-2 2-2 -4 2"/>
<path color="#b17300" d="M611 1247l5-14 2 3 -4 14"/>
<path color="#664300" d="M654 1238l4 6 3-2 -5 1"/>
<path color="#b3a001" d="M609 1262l5-12 2 8 -4 11"/>
<path color="#4bc178" d="M600 1316l4-8 3 7 -5 9"/>
<path color="#a9bc14" d="M608 1276l4-7 3 7 -5 7"/>
<path color="#20bd9e" d="M598 1333l4-9 3 7 -4 10"/>
<path color="#00399b" d="M584 1398l4-12 3 3 -4 12"/>
<path color="#a35000" d="M620 1234l4-5 3-2 -5 4"/>
<path color="#663300" d="M647 1226l4 7 3 5 -5-13"/>
<path color="#006ca7" d="M590 1375l5-9 2 0 -4 12"/>
<path color="#b35f00" d="M616 1233l4 1 2-3 -4 5"/>
<path color="#03a6af" d="M596 1350l5-9 2 6 -4 10"/>
<path color="#89c139" d="M606 1292l4-9 3 7 -4 9"/>
<path color="#62c060" d="M604 1308l5-9 2 7 -4 9"/>
<path color="#38bc84" d="M602 1324l5-9 2 7 -4 9"/>
<path color="#7e3200" d="M636 1224l4-1 2 0 -4 2"/>
<path color="#afa904" d="M612 1269l4-11 3 7 -4 11"/>
<path color="#9bbb21" d="M610 1283l5-7 2 6 -4 8"/>
<path color="#b07a00" d="M614 1250l4-14 3 7 -5 15"/>
<path color="#0080a1" d="M595 1366l4-9 3-1 -5 10"/>
<path color="#00529e" d="M588 1386l5-8 2 1 -4 10"/>
<path color="#10ae9f" d="M601 1341l4-10 3 7 -5 9"/>
<path color="#79be46" d="M609 1299l4-9 2 7 -4 9"/>
<path color="#ac4500" d="M631 1225l5-1 2 1 -4 2"/>
<path color="#4fba6b" d="M607 1315l4-9 3 7 -5 9"/>
<path color="#b96500" d="M618 1236l4-5 3 5 -4 7"/>
<path color="#a9af0b" d="M615 1276l4-11 3 6 -5 11"/>
<path color="#c35300" d="M627 1227l4-2 3 2 -5 4"/>
<path color="#27ad87" d="M605 1331l4-9 3 6 -4 10"/>
<path color="#01939d" d="M599 1357l4-10 3 0 -4 9"/>
<path color="#8cba2e" d="M613 1290l4-8 3 7 -5 8"/>
<path color="#812f00" d="M642 1223l5 3 2-1 -4-3"/>
<path color="#663500" d="M649 1225l5 13 2 5 -4-13"/>
<path color="#b28a00" d="M616 1258l5-15 2 8 -4 14"/>
<path color="#c25c00" d="M622 1231l5-4 2 4 -4 5"/>
<path color="#006699" d="M593 1378l4-12 3 1 -5 12"/>
<path color="#003b95" d="M587 1401l4-12 3 2 -5 4"/>
<path color="#67b952" d="M611 1306l4-9 3 7 -4 9"/>
<path color="#3dac6f" d="M609 1322l5-9 2 6 -4 9"/>
<path color="#0d9c90" d="M603 1347l5-9 2-2 -4 11"/>
<path color="#9fb214" d="M617 1282l5-11 2 7 -4 11"/>
<path color="#005099" d="M591 1389l4-10 3 1 -4 11"/>
<path color="#7cb539" d="M615 1297l5-8 2 6 -4 9"/>
<path color="#b19800" d="M619 1265l4-14 3 8 -4 12"/>
<path color="#ba7300" d="M621 1243l4-7 3 6 -5 9"/>
<path color="#b24000" d="M638 1225l4-2 3-1 -4 3"/>
<path color="#007d96" d="M597 1366l5-10 2 0 -4 11"/>
<path color="#54ac58" d="M614 1313l4-9 3 6 -5 9"/>
<path color="#c56701" d="M625 1236l4-5 3 5 -4 6"/>
<path color="#ca4f00" d="M634 1227l4-2 3 0 -5 4"/>
<path color="#cb5a01" d="M629 1231l5-4 2 2 -4 7"/>
<path color="#239c7a" d="M608 1338l4-10 3-2 -5 10"/>
<path color="#91b01f" d="M620 1289l4-11 3 7 -5 10"/>
<path color="#ada103" d="M622 1271l4-12 3 6 -5 13"/>
<path color="#9d3500" d="M645 1222l4 3 3 5 -4-8"/>
<path color="#048f91" d="M602 1356l4-9 2-1 -4 10"/>
<path color="#b77e00" d="M623 1251l5-9 2 6 -4 11"/>
<path color="#006997" d="M595 1379l5-12 2 1 -4 12"/>
<path color="#6bac41" d="M618 1304l4-9 3 5 -4 10"/>
<path color="#399f65" d="M612 1328l4-9 3-2 -4 9"/>
<path color="#c26f01" d="M628 1242l4-6 3 5 -5 7"/>
<path color="#149784" d="M606 1347l4-11 3 0 -5 10"/>
<path color="#004e96" d="M594 1391l4-11 3 2 -5 14"/>
<path color="#d24601" d="M641 1225l4-3 3 0 -5 5"/>
<path color="#a7a708" d="M624 1278l5-13 2 7 -4 13"/>
<path color="#ca6002" d="M632 1236l4-7 3 5 -4 7"/>
<path color="#b78900" d="M626 1259l4-11 3 6 -4 11"/>
<path color="#84ac28" d="M622 1295l5-10 2 5 -4 10"/>
<path color="#ce5102" d="M636 1229l5-4 2 2 -4 7"/>
<path color="#008497" d="M600 1367l4-11 3 0 -5 12"/>
<path color="#53a552" d="M616 1319l5-9 2-3 -4 10"/>
<path color="#2b9b70" d="M610 1336l5-10 2 1 -4 9"/>
<path color="#c57d02" d="M630 1248l5-7 2 7 -4 6"/>
<path color="#6dad3f" d="M621 1310l4-10 3 0 -5 7"/>
<path color="#006e9b" d="M598 1380l4-12 3 2 -4 12"/>
<path color="#ba9901" d="M629 1265l4-11 2 8 -4 10"/>
<path color="#a2ad0e" d="M627 1285l4-13 3 6 -5 12"/>
<path color="#089a95" d="M604 1356l4-10 3 0 -4 10"/>
<path color="#cf7204" d="M635 1241l4-7 3 8 -5 6"/>
<path color="#972f00" d="M648 1222l4 8 3-8 -5 4"/>
<path color="#44a662" d="M615 1326l4-9 3 2 -5 8"/>
<path color="#cd5d03" d="M639 1234l4-7 3 8 -4 7"/>
<path color="#82ac2a" d="M625 1300l4-10 3 2 -4 8"/>
<path color="#cf9406" d="M633 1254l4-6 3 8 -5 6"/>
<path color="#c84601" d="M643 1227l5-5 2 4 -4 9"/>
<path color="#1aa58b" d="M608 1346l5-10 2 4 -4 6"/>
<path color="#64ba59" d="M619 1317l4-10 3 5 -4 7"/>
<path color="#d78a09" d="M637 1248l5-6 2 8 -4 6"/>
<path color="#bdab01" d="M631 1272l4-10 3 8 -4 8"/>
<path color="#008ea2" d="M602 1368l5-12 2 5 -4 9"/>
<path color="#76be4b" d="M623 1307l5-7 2 11 -4 1"/>
<path color="#99ac13" d="M629 1290l5-12 2 7 -4 7"/>
<path color="#c76b04" d="M642 1242l4-7 2 6 -4 9"/>
<path color="#d5ac08" d="M635 1262l5-6 2 8 -4 6"/>
<path color="#33ac79" d="M613 1336l4-9 3 0 -5 13"/>
<path color="#0074a8" d="M601 1382l4-12 3 10 -5 1"/>
<path color="#07aaa8" d="M607 1356l4-10 3 8 -5 7"/>
<path color="#51c476" d="M617 1327l5-8 2 7 -4 1"/>
<path color="#12b9a8" d="M611 1346l4-6 3 13 -4 1"/>
<path color="#0296af" d="M605 1370l4-9 3-4 -4 23"/>
</g>
<rect x="903.4" y="975.3" width="39.1" height="557.1" fill="url(#jet)" stroke="#262626" stroke-width="1.2"/>
<path d="M942.5 1044.9h-5M942.5 1114.6h-5M942.5 1184.2h-5M942.5 1253.8h-5M942.5 1323.5h-5M942.5 1393.1h-5M942.5 1462.8h-5" stroke="#262626" stroke-width="1.2"/>
<text x="307.5" y="44.8" font-size="23.92" textLength="404.1" lengthAdjust="spacingAndGlyphs" fill="#000" stroke="#000" stroke-width="1.0">Contours and vertical deviations of</text>
<text x="276.5" y="81.2" font-size="25.43" textLength="466.7" lengthAdjust="spacingAndGlyphs" fill="#000" stroke="#000" stroke-width="1.0">3. regression plane (R3) from GRID in 2D</text>
<text x="489.2" y="117.8" font-size="25.43" textLength="40.7" lengthAdjust="spacingAndGlyphs" fill="#000" stroke="#000" stroke-width="1.0">[m]</text>
<text x="312.7" y="887.6" font-size="22.98" textLength="373.5" lengthAdjust="spacingAndGlyphs" fill="#000" stroke="#000" stroke-width="1.0">The plane of vertical deviations of</text>
<text x="277.5" y="923.4" font-size="24.47" textLength="443.8" lengthAdjust="spacingAndGlyphs" fill="#000" stroke="#000" stroke-width="1.0">3. regression plane (R3) from GRID in 3D</text>
<text x="480.8" y="957.2" font-size="22.98" textLength="37.7" lengthAdjust="spacingAndGlyphs" fill="#000" stroke="#000" stroke-width="1.0">[m]</text>
<text x="529.1" y="854.7" font-size="34.67" textLength="38.3" lengthAdjust="spacingAndGlyphs" fill="#000" font-family="Liberation Serif">(<tspan font-weight="bold">a</tspan>)</text>
<text x="527.1" y="1650.4" font-size="35.11" textLength="41.7" lengthAdjust="spacingAndGlyphs" fill="#000" font-family="Liberation Serif">(<tspan font-weight="bold">b</tspan>)</text>
<text x="433.9" y="797.0" font-size="21.28" textLength="150.9" lengthAdjust="spacingAndGlyphs" fill="#262626">y - coordinates</text>
<text transform="translate(35.0 509.0) rotate(-90)" x="-0.2" y="-0.2" font-size="23.45" textLength="151.4" lengthAdjust="spacingAndGlyphs" fill="#262626">x - coordinates</text>
<text x="66.7" y="1547.2" font-size="20.95" textLength="144.5" lengthAdjust="spacingAndGlyphs" fill="#262626">x - coordinates</text>
<text x="612.3" y="1573.2" font-size="21.70" textLength="145.8" lengthAdjust="spacingAndGlyphs" fill="#262626">y - coordinates</text>
<text transform="translate(34.4 1260.3) rotate(-90)" x="-0.4" y="-0.2" font-size="22.57" textLength="115.2" lengthAdjust="spacingAndGlyphs" fill="#262626">The vertical</text>
<text transform="translate(71.4 1272.7) rotate(-90)" x="-0.9" y="-4.9" font-size="23.51" textLength="141.1" lengthAdjust="spacingAndGlyphs" fill="#262626">deviations [m]</text>
<text x="162.6" y="128.4" font-size="25.63" textLength="28.1" lengthAdjust="spacingAndGlyphs" fill="#262626">10</text>
<text x="191.1" y="116.0" font-size="20.71" textLength="11.6" lengthAdjust="spacingAndGlyphs" fill="#262626">5</text>
<text x="837.3" y="808.4" font-size="25.63" textLength="28.4" lengthAdjust="spacingAndGlyphs" fill="#262626">10</text>
<text x="866.5" y="796.0" font-size="20.71" textLength="11.6" lengthAdjust="spacingAndGlyphs" fill="#262626">5</text>
<text x="63.1" y="1460.1" font-size="24.65" textLength="26.5" lengthAdjust="spacingAndGlyphs" fill="#262626">10</text>
<text x="90.1" y="1448.7" font-size="19.71" textLength="10.8" lengthAdjust="spacingAndGlyphs" fill="#262626">5</text>
<text x="859.7" y="1535.8" font-size="24.65" textLength="26.2" lengthAdjust="spacingAndGlyphs" fill="#262626">10</text>
<text x="886.9" y="1524.4" font-size="19.29" textLength="10.4" lengthAdjust="spacingAndGlyphs" fill="#262626">5</text>
<text x="53.8" y="193.5" font-size="25.35" textLength="77.7" lengthAdjust="spacingAndGlyphs" fill="#262626">1.4789</text>
<text x="53.8" y="269.9" font-size="25.35" textLength="77.7" lengthAdjust="spacingAndGlyphs" fill="#262626">1.4788</text>
<text x="53.8" y="346.3" font-size="25.35" textLength="77.7" lengthAdjust="spacingAndGlyphs" fill="#262626">1.4787</text>
<text x="53.8" y="422.7" font-size="25.35" textLength="77.7" lengthAdjust="spacingAndGlyphs" fill="#262626">1.4786</text>
<text x="53.5" y="499.1" font-size="25.35" textLength="77.7" lengthAdjust="spacingAndGlyphs" fill="#262626">1.4785</text>
<text x="53.3" y="575.5" font-size="25.35" textLength="77.7" lengthAdjust="spacingAndGlyphs" fill="#262626">1.4784</text>
<text x="53.8" y="651.9" font-size="25.35" textLength="77.7" lengthAdjust="spacingAndGlyphs" fill="#262626">1.4783</text>
<text x="53.8" y="728.3" font-size="25.35" textLength="77.7" lengthAdjust="spacingAndGlyphs" fill="#262626">1.4782</text>
<text x="193.9" y="766.9" font-size="25.35" textLength="76.6" lengthAdjust="spacingAndGlyphs" fill="#262626">5.5357</text>
<text x="293.0" y="766.9" font-size="25.35" textLength="76.6" lengthAdjust="spacingAndGlyphs" fill="#262626">5.5358</text>
<text x="392.1" y="766.9" font-size="25.35" textLength="76.6" lengthAdjust="spacingAndGlyphs" fill="#262626">5.5359</text>
<text x="498.0" y="766.9" font-size="25.35" textLength="62.7" lengthAdjust="spacingAndGlyphs" fill="#262626">5.536</text>
<text x="590.2" y="766.9" font-size="25.35" textLength="76.6" lengthAdjust="spacingAndGlyphs" fill="#262626">5.5361</text>
<text x="689.3" y="766.9" font-size="25.35" textLength="76.6" lengthAdjust="spacingAndGlyphs" fill="#262626">5.5362</text>
<text x="788.4" y="766.9" font-size="25.35" textLength="76.6" lengthAdjust="spacingAndGlyphs" fill="#262626">5.5363</text>
<text x="948.6" y="143.5" font-size="23.94" textLength="57.4" lengthAdjust="spacingAndGlyphs" fill="#262626">0.005</text>
<text x="948.6" y="217.8" font-size="23.94" textLength="12.8" lengthAdjust="spacingAndGlyphs" fill="#262626">0</text>
<text x="948.6" y="292.2" font-size="23.94" textLength="65.0" lengthAdjust="spacingAndGlyphs" fill="#262626">-0.005</text>
<text x="948.6" y="366.6" font-size="23.94" textLength="52.3" lengthAdjust="spacingAndGlyphs" fill="#262626">-0.01</text>
<text x="948.6" y="441.0" font-size="23.94" textLength="65.0" lengthAdjust="spacingAndGlyphs" fill="#262626">-0.015</text>
<text x="948.6" y="515.3" font-size="23.94" textLength="52.3" lengthAdjust="spacingAndGlyphs" fill="#262626">-0.02</text>
<text x="948.6" y="589.7" font-size="23.94" textLength="65.0" lengthAdjust="spacingAndGlyphs" fill="#262626">-0.025</text>
<text x="948.6" y="664.1" font-size="23.94" textLength="52.3" lengthAdjust="spacingAndGlyphs" fill="#262626">-0.03</text>
<text x="948.6" y="738.5" font-size="23.94" textLength="65.0" lengthAdjust="spacingAndGlyphs" fill="#262626">-0.035</text>
<text x="951.3" y="983.4" font-size="23.52" textLength="55.6" lengthAdjust="spacingAndGlyphs" fill="#262626">0.005</text>
<text x="951.3" y="1053.1" font-size="23.52" textLength="12.4" lengthAdjust="spacingAndGlyphs" fill="#262626">0</text>
<text x="951.3" y="1122.7" font-size="23.52" textLength="63.0" lengthAdjust="spacingAndGlyphs" fill="#262626">-0.005</text>
<text x="951.3" y="1192.3" font-size="23.52" textLength="50.7" lengthAdjust="spacingAndGlyphs" fill="#262626">-0.01</text>
<text x="951.3" y="1262.0" font-size="23.52" textLength="63.0" lengthAdjust="spacingAndGlyphs" fill="#262626">-0.015</text>
<text x="951.3" y="1331.6" font-size="23.52" textLength="50.7" lengthAdjust="spacingAndGlyphs" fill="#262626">-0.02</text>
<text x="951.3" y="1401.2" font-size="23.52" textLength="63.0" lengthAdjust="spacingAndGlyphs" fill="#262626">-0.025</text>
<text x="951.3" y="1470.9" font-size="23.52" textLength="50.7" lengthAdjust="spacingAndGlyphs" fill="#262626">-0.03</text>
<text x="951.3" y="1540.5" font-size="23.52" textLength="63.0" lengthAdjust="spacingAndGlyphs" fill="#262626">-0.035</text>
<text x="132.4" y="1086.2" font-size="25.35" textLength="14.0" lengthAdjust="spacingAndGlyphs" fill="#262626">0</text>
<text x="89.1" y="1147.5" font-size="25.35" textLength="57.3" lengthAdjust="spacingAndGlyphs" fill="#262626">-0.01</text>
<text x="89.1" y="1209.8" font-size="25.35" textLength="57.3" lengthAdjust="spacingAndGlyphs" fill="#262626">-0.02</text>
<text x="89.1" y="1271.0" font-size="25.35" textLength="57.3" lengthAdjust="spacingAndGlyphs" fill="#262626">-0.03</text>
<text x="89.1" y="1333.3" font-size="25.35" textLength="57.3" lengthAdjust="spacingAndGlyphs" fill="#262626">-0.04</text>
<text x="112.7" y="1407.8" font-size="25.07" textLength="75.7" lengthAdjust="spacingAndGlyphs" fill="#262626">1.4788</text>
<text x="169.2" y="1457.8" font-size="25.07" textLength="75.7" lengthAdjust="spacingAndGlyphs" fill="#262626">1.4786</text>
<text x="225.3" y="1508.8" font-size="25.07" textLength="75.7" lengthAdjust="spacingAndGlyphs" fill="#262626">1.4784</text>
<text x="282.6" y="1558.0" font-size="25.07" textLength="75.7" lengthAdjust="spacingAndGlyphs" fill="#262626">1.4782</text>
<text x="516.9" y="1547.6" font-size="25.35" textLength="75.7" lengthAdjust="spacingAndGlyphs" fill="#262626">5.5358</text>
<text x="640.2" y="1521.8" font-size="25.35" textLength="61.9" lengthAdjust="spacingAndGlyphs" fill="#262626">5.536</text>
<text x="762.6" y="1497.0" font-size="25.35" textLength="75.7" lengthAdjust="spacingAndGlyphs" fill="#262626">5.5362</text>
<path d="M145.4 116.4L156.9 127.3M145.4 127.3L156.9 116.4M820.1 796.6L831.5 807.3M820.1 807.3L831.5 796.6M47.4 1448.6L58.5 1459.3M47.4 1459.3L58.5 1448.6M844.1 1524.6L855.2 1535.0M844.1 1535.0L855.2 1524.6" stroke="#4a4a4a" stroke-width="1.1" fill="none"/>
</g></svg>
</body></html>
